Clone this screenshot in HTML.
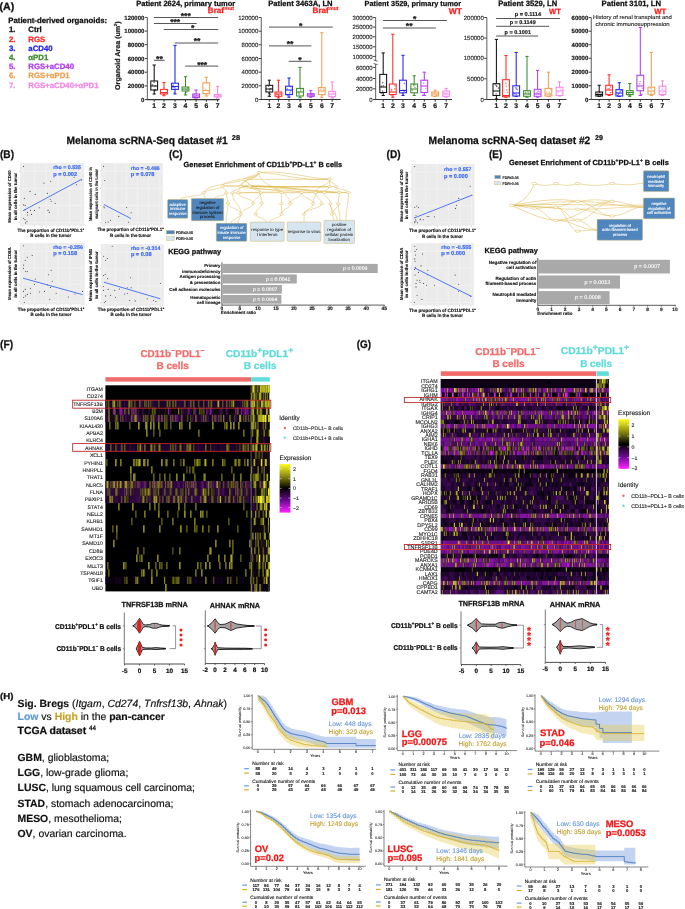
<!DOCTYPE html>
<html><head><meta charset="utf-8"><style>
html,body{margin:0;padding:0;background:#fff;}
svg{display:block;filter:blur(0.3px);}
text{font-family:"Liberation Sans",sans-serif;text-rendering:geometricPrecision;}
</style></head><body>
<svg width="685" height="909" viewBox="0 0 685 909">
<rect width="685" height="909" fill="#fff"/>
<text x="-0.5" y="9.6" font-size="10.62" font-weight="bold" fill="#111" stroke="#111" stroke-width="0.26">(A)</text>
<text x="8.3" y="23.0" font-size="7.81" font-weight="bold" fill="#111" stroke="#111" stroke-width="0.26">Patient-derived organoids:</text>
<text x="9.0" y="32.4" font-size="7.8" font-weight="bold" fill="#111111" stroke="#111111" stroke-width="0.26">1.</text>
<text x="28.3" y="32.4" font-size="7.8" font-weight="bold" fill="#111111" stroke="#111111" stroke-width="0.26">Ctrl</text>
<text x="9.0" y="41.6" font-size="7.8" font-weight="bold" fill="#ff2a2a" stroke="#ff2a2a" stroke-width="0.26">2.</text>
<text x="28.3" y="41.6" font-size="7.8" font-weight="bold" fill="#ff2a2a" stroke="#ff2a2a" stroke-width="0.26">RGS</text>
<text x="9.0" y="50.8" font-size="7.8" font-weight="bold" fill="#2222f0" stroke="#2222f0" stroke-width="0.26">3.</text>
<text x="28.3" y="50.8" font-size="7.8" font-weight="bold" fill="#2222f0" stroke="#2222f0" stroke-width="0.26">aCD40</text>
<text x="9.0" y="60.0" font-size="7.8" font-weight="bold" fill="#3a8c2c" stroke="#3a8c2c" stroke-width="0.26">4.</text>
<text x="28.3" y="60.0" font-size="7.8" font-weight="bold" fill="#3a8c2c" stroke="#3a8c2c" stroke-width="0.26">αPD1</text>
<text x="9.0" y="69.2" font-size="7.8" font-weight="bold" fill="#b33cf0" stroke="#b33cf0" stroke-width="0.26">5.</text>
<text x="28.3" y="69.2" font-size="7.8" font-weight="bold" fill="#b33cf0" stroke="#b33cf0" stroke-width="0.26">RGS+aCD40</text>
<text x="9.0" y="78.4" font-size="7.8" font-weight="bold" fill="#f0a050" stroke="#f0a050" stroke-width="0.26">6.</text>
<text x="28.3" y="78.4" font-size="7.8" font-weight="bold" fill="#f0a050" stroke="#f0a050" stroke-width="0.26">RGS+αPD1</text>
<text x="9.0" y="87.6" font-size="7.8" font-weight="bold" fill="#f588e8" stroke="#f588e8" stroke-width="0.26">7.</text>
<text x="28.3" y="87.6" font-size="7.8" font-weight="bold" fill="#f588e8" stroke="#f588e8" stroke-width="0.26">RGS+aCD40+αPD1</text>
<line x1="147.4" y1="17.4" x2="147.4" y2="100.1" stroke="#777" stroke-width="1.2"/>
<line x1="146.8" y1="99.6" x2="219.5" y2="99.6" stroke="#333" stroke-width="1.2"/>
<line x1="144.8" y1="17.4" x2="147.4" y2="17.4" stroke="#444" stroke-width="1"/>
<text x="144.4" y="19.5" font-size="6.0" font-weight="bold" fill="#222" text-anchor="end" stroke="#222" stroke-width="0.20">120000</text>
<line x1="144.8" y1="31.1" x2="147.4" y2="31.1" stroke="#444" stroke-width="1"/>
<text x="144.4" y="33.2" font-size="6.0" font-weight="bold" fill="#222" text-anchor="end" stroke="#222" stroke-width="0.20">100000</text>
<line x1="144.8" y1="44.6" x2="147.4" y2="44.6" stroke="#444" stroke-width="1"/>
<text x="144.4" y="46.7" font-size="6.0" font-weight="bold" fill="#222" text-anchor="end" stroke="#222" stroke-width="0.20">80000</text>
<line x1="144.8" y1="58.5" x2="147.4" y2="58.5" stroke="#444" stroke-width="1"/>
<text x="144.4" y="60.6" font-size="6.0" font-weight="bold" fill="#222" text-anchor="end" stroke="#222" stroke-width="0.20">60000</text>
<line x1="144.8" y1="72.2" x2="147.4" y2="72.2" stroke="#444" stroke-width="1"/>
<text x="144.4" y="74.3" font-size="6.0" font-weight="bold" fill="#222" text-anchor="end" stroke="#222" stroke-width="0.20">40000</text>
<line x1="144.8" y1="85.9" x2="147.4" y2="85.9" stroke="#444" stroke-width="1"/>
<text x="144.4" y="88.0" font-size="6.0" font-weight="bold" fill="#222" text-anchor="end" stroke="#222" stroke-width="0.20">20000</text>
<line x1="144.8" y1="99.6" x2="147.4" y2="99.6" stroke="#444" stroke-width="1"/>
<text x="144.4" y="101.7" font-size="6.0" font-weight="bold" fill="#222" text-anchor="end" stroke="#222" stroke-width="0.20">0</text>
<line x1="154.2" y1="99.6" x2="154.2" y2="101.8" stroke="#333" stroke-width="1"/>
<text x="154.2" y="108.3" font-size="6.8" font-weight="bold" fill="#222" text-anchor="middle" stroke="#222" stroke-width="0.23">1</text>
<line x1="164.0" y1="99.6" x2="164.0" y2="101.8" stroke="#333" stroke-width="1"/>
<text x="164.0" y="108.3" font-size="6.8" font-weight="bold" fill="#222" text-anchor="middle" stroke="#222" stroke-width="0.23">2</text>
<line x1="175.0" y1="99.6" x2="175.0" y2="101.8" stroke="#333" stroke-width="1"/>
<text x="175.0" y="108.3" font-size="6.8" font-weight="bold" fill="#222" text-anchor="middle" stroke="#222" stroke-width="0.23">3</text>
<line x1="185.5" y1="99.6" x2="185.5" y2="101.8" stroke="#333" stroke-width="1"/>
<text x="185.5" y="108.3" font-size="6.8" font-weight="bold" fill="#222" text-anchor="middle" stroke="#222" stroke-width="0.23">4</text>
<line x1="196.1" y1="99.6" x2="196.1" y2="101.8" stroke="#333" stroke-width="1"/>
<text x="196.1" y="108.3" font-size="6.8" font-weight="bold" fill="#222" text-anchor="middle" stroke="#222" stroke-width="0.23">5</text>
<line x1="206.3" y1="99.6" x2="206.3" y2="101.8" stroke="#333" stroke-width="1"/>
<text x="206.3" y="108.3" font-size="6.8" font-weight="bold" fill="#222" text-anchor="middle" stroke="#222" stroke-width="0.23">6</text>
<line x1="217.6" y1="99.6" x2="217.6" y2="101.8" stroke="#333" stroke-width="1"/>
<text x="217.6" y="108.3" font-size="6.8" font-weight="bold" fill="#222" text-anchor="middle" stroke="#222" stroke-width="0.23">7</text>
<line x1="154.2" y1="65.0" x2="154.2" y2="81.0" stroke="#111111" stroke-width="1.05"/>
<line x1="154.2" y1="90.0" x2="154.2" y2="94.0" stroke="#111111" stroke-width="1.05"/>
<line x1="152.6" y1="65.0" x2="155.8" y2="65.0" stroke="#111111" stroke-width="1.05"/>
<line x1="152.6" y1="94.0" x2="155.8" y2="94.0" stroke="#111111" stroke-width="1.05"/>
<rect x="150.8" y="81.0" width="6.8" height="9.0" fill="#fff" stroke="#111111" stroke-width="1.05"/>
<line x1="150.8" y1="86.0" x2="157.6" y2="86.0" stroke="#111111" stroke-width="1.05"/>
<circle cx="155.1" cy="85.8" r="0.8" fill="#111111" opacity="0.6"/>
<circle cx="154.9" cy="89.5" r="0.8" fill="#111111" opacity="0.6"/>
<circle cx="155.4" cy="90.6" r="0.8" fill="#111111" opacity="0.6"/>
<circle cx="154.1" cy="82.2" r="0.8" fill="#111111" opacity="0.6"/>
<circle cx="152.5" cy="84.9" r="0.8" fill="#111111" opacity="0.6"/>
<line x1="164.0" y1="82.4" x2="164.0" y2="89.4" stroke="#ff2a2a" stroke-width="1.05"/>
<line x1="164.0" y1="94.0" x2="164.0" y2="95.7" stroke="#ff2a2a" stroke-width="1.05"/>
<line x1="162.4" y1="82.4" x2="165.6" y2="82.4" stroke="#ff2a2a" stroke-width="1.05"/>
<line x1="162.4" y1="95.7" x2="165.6" y2="95.7" stroke="#ff2a2a" stroke-width="1.05"/>
<rect x="160.6" y="89.4" width="6.8" height="4.6" fill="#fff" stroke="#ff2a2a" stroke-width="1.05"/>
<line x1="160.6" y1="92.5" x2="167.4" y2="92.5" stroke="#ff2a2a" stroke-width="1.05"/>
<circle cx="163.3" cy="94.4" r="0.8" fill="#ff2a2a" opacity="0.6"/>
<circle cx="165.3" cy="92.7" r="0.8" fill="#ff2a2a" opacity="0.6"/>
<circle cx="165.7" cy="93.2" r="0.8" fill="#ff2a2a" opacity="0.6"/>
<circle cx="163.2" cy="92.6" r="0.8" fill="#ff2a2a" opacity="0.6"/>
<circle cx="165.9" cy="92.5" r="0.8" fill="#ff2a2a" opacity="0.6"/>
<line x1="175.0" y1="45.4" x2="175.0" y2="83.2" stroke="#2222f0" stroke-width="1.05"/>
<line x1="175.0" y1="89.4" x2="175.0" y2="94.0" stroke="#2222f0" stroke-width="1.05"/>
<line x1="173.4" y1="45.4" x2="176.6" y2="45.4" stroke="#2222f0" stroke-width="1.05"/>
<line x1="173.4" y1="94.0" x2="176.6" y2="94.0" stroke="#2222f0" stroke-width="1.05"/>
<rect x="171.6" y="83.2" width="6.8" height="6.2" fill="#fff" stroke="#2222f0" stroke-width="1.05"/>
<line x1="171.6" y1="86.5" x2="178.4" y2="86.5" stroke="#2222f0" stroke-width="1.05"/>
<circle cx="173.1" cy="87.2" r="0.8" fill="#2222f0" opacity="0.6"/>
<circle cx="175.0" cy="89.1" r="0.8" fill="#2222f0" opacity="0.6"/>
<circle cx="174.8" cy="87.4" r="0.8" fill="#2222f0" opacity="0.6"/>
<circle cx="173.2" cy="85.4" r="0.8" fill="#2222f0" opacity="0.6"/>
<circle cx="174.3" cy="92.7" r="0.8" fill="#2222f0" opacity="0.6"/>
<line x1="185.5" y1="76.7" x2="185.5" y2="87.0" stroke="#3a8c2c" stroke-width="1.05"/>
<line x1="185.5" y1="91.0" x2="185.5" y2="95.0" stroke="#3a8c2c" stroke-width="1.05"/>
<line x1="183.9" y1="76.7" x2="187.1" y2="76.7" stroke="#3a8c2c" stroke-width="1.05"/>
<line x1="183.9" y1="95.0" x2="187.1" y2="95.0" stroke="#3a8c2c" stroke-width="1.05"/>
<rect x="182.1" y="87.0" width="6.8" height="4.0" fill="#fff" stroke="#3a8c2c" stroke-width="1.05"/>
<line x1="182.1" y1="89.0" x2="188.9" y2="89.0" stroke="#3a8c2c" stroke-width="1.05"/>
<circle cx="185.7" cy="89.3" r="0.8" fill="#3a8c2c" opacity="0.6"/>
<circle cx="187.4" cy="90.6" r="0.8" fill="#3a8c2c" opacity="0.6"/>
<circle cx="186.3" cy="92.5" r="0.8" fill="#3a8c2c" opacity="0.6"/>
<circle cx="185.1" cy="93.4" r="0.8" fill="#3a8c2c" opacity="0.6"/>
<circle cx="187.5" cy="87.8" r="0.8" fill="#3a8c2c" opacity="0.6"/>
<line x1="196.1" y1="90.0" x2="196.1" y2="94.0" stroke="#b33cf0" stroke-width="1.05"/>
<line x1="196.1" y1="97.5" x2="196.1" y2="98.0" stroke="#b33cf0" stroke-width="1.05"/>
<line x1="194.5" y1="90.0" x2="197.7" y2="90.0" stroke="#b33cf0" stroke-width="1.05"/>
<line x1="194.5" y1="98.0" x2="197.7" y2="98.0" stroke="#b33cf0" stroke-width="1.05"/>
<rect x="192.7" y="94.0" width="6.8" height="3.5" fill="#fff" stroke="#b33cf0" stroke-width="1.05"/>
<line x1="192.7" y1="96.0" x2="199.5" y2="96.0" stroke="#b33cf0" stroke-width="1.05"/>
<circle cx="194.3" cy="97.9" r="0.8" fill="#b33cf0" opacity="0.6"/>
<circle cx="194.7" cy="96.9" r="0.8" fill="#b33cf0" opacity="0.6"/>
<circle cx="195.7" cy="97.5" r="0.8" fill="#b33cf0" opacity="0.6"/>
<circle cx="196.5" cy="95.4" r="0.8" fill="#b33cf0" opacity="0.6"/>
<circle cx="194.7" cy="94.4" r="0.8" fill="#b33cf0" opacity="0.6"/>
<line x1="206.3" y1="77.3" x2="206.3" y2="82.8" stroke="#f0a050" stroke-width="1.05"/>
<line x1="206.3" y1="93.7" x2="206.3" y2="96.0" stroke="#f0a050" stroke-width="1.05"/>
<line x1="204.7" y1="77.3" x2="207.9" y2="77.3" stroke="#f0a050" stroke-width="1.05"/>
<line x1="204.7" y1="96.0" x2="207.9" y2="96.0" stroke="#f0a050" stroke-width="1.05"/>
<rect x="202.9" y="82.8" width="6.8" height="10.9" fill="#fff" stroke="#f0a050" stroke-width="1.05"/>
<line x1="202.9" y1="90.5" x2="209.7" y2="90.5" stroke="#f0a050" stroke-width="1.05"/>
<circle cx="204.9" cy="93.8" r="0.8" fill="#f0a050" opacity="0.6"/>
<circle cx="205.8" cy="89.6" r="0.8" fill="#f0a050" opacity="0.6"/>
<circle cx="208.0" cy="93.9" r="0.8" fill="#f0a050" opacity="0.6"/>
<circle cx="206.2" cy="83.7" r="0.8" fill="#f0a050" opacity="0.6"/>
<circle cx="208.3" cy="91.7" r="0.8" fill="#f0a050" opacity="0.6"/>
<line x1="217.6" y1="86.3" x2="217.6" y2="94.5" stroke="#f588e8" stroke-width="1.05"/>
<line x1="217.6" y1="97.0" x2="217.6" y2="98.0" stroke="#f588e8" stroke-width="1.05"/>
<line x1="216.0" y1="86.3" x2="219.2" y2="86.3" stroke="#f588e8" stroke-width="1.05"/>
<line x1="216.0" y1="98.0" x2="219.2" y2="98.0" stroke="#f588e8" stroke-width="1.05"/>
<rect x="214.2" y="94.5" width="6.8" height="2.5" fill="#fff" stroke="#f588e8" stroke-width="1.05"/>
<line x1="214.2" y1="96.0" x2="221.0" y2="96.0" stroke="#f588e8" stroke-width="1.05"/>
<circle cx="218.7" cy="95.1" r="0.8" fill="#f588e8" opacity="0.6"/>
<circle cx="218.4" cy="94.8" r="0.8" fill="#f588e8" opacity="0.6"/>
<circle cx="219.4" cy="96.2" r="0.8" fill="#f588e8" opacity="0.6"/>
<circle cx="216.6" cy="97.6" r="0.8" fill="#f588e8" opacity="0.6"/>
<circle cx="218.5" cy="95.1" r="0.8" fill="#f588e8" opacity="0.6"/>
<line x1="153.9" y1="17.5" x2="218.2" y2="17.5" stroke="#444" stroke-width="0.9"/>
<text x="185.8" y="18.9" font-size="8.6" font-weight="bold" fill="#222" text-anchor="middle" stroke="#222" stroke-width="0.26">***</text>
<line x1="153.9" y1="23.5" x2="196.7" y2="23.5" stroke="#444" stroke-width="0.9"/>
<text x="175.2" y="24.9" font-size="8.6" font-weight="bold" fill="#222" text-anchor="middle" stroke="#222" stroke-width="0.26">***</text>
<line x1="163.7" y1="29.5" x2="218.2" y2="29.5" stroke="#444" stroke-width="0.9"/>
<text x="192.6" y="30.9" font-size="8.6" font-weight="bold" fill="#222" text-anchor="middle" stroke="#222" stroke-width="0.26">*</text>
<line x1="174.7" y1="43.0" x2="218.2" y2="43.0" stroke="#444" stroke-width="0.9"/>
<text x="197.0" y="44.4" font-size="8.6" font-weight="bold" fill="#222" text-anchor="middle" stroke="#222" stroke-width="0.26">**</text>
<line x1="153.9" y1="60.3" x2="164.6" y2="60.3" stroke="#444" stroke-width="0.9"/>
<text x="159.4" y="61.7" font-size="8.6" font-weight="bold" fill="#222" text-anchor="middle" stroke="#222" stroke-width="0.26">**</text>
<line x1="185.2" y1="66.1" x2="218.2" y2="66.1" stroke="#444" stroke-width="0.9"/>
<text x="202.2" y="67.5" font-size="8.6" font-weight="bold" fill="#222" text-anchor="middle" stroke="#222" stroke-width="0.26">***</text>
<text x="136.3" y="5.8" font-size="7.52" font-weight="bold" fill="#111" stroke="#111" stroke-width="0.26">Patient 2624, primary tumor</text>
<text x="207.8" y="13.3" font-size="7.9" font-weight="bold" fill="#ff2020" textLength="16.2" lengthAdjust="spacingAndGlyphs" stroke="#ff2020" stroke-width="0.26">Braf</text>
<text x="224.6" y="10.0" font-size="5.0" font-weight="bold" fill="#ff2020" textLength="9.4" lengthAdjust="spacingAndGlyphs" stroke="#ff2020" stroke-width="0.17">mut</text>
<text x="120.5" y="89.9" font-size="7.0" font-weight="bold" fill="#222" textLength="68.4" lengthAdjust="spacingAndGlyphs" transform="rotate(-90 120.5 89.9)" stroke="#222" stroke-width="0.24">Organoid Area (um  )</text>
<text x="116.9" y="26.2" font-size="4.5" font-weight="bold" fill="#222" transform="rotate(-90 116.9 26.2)" stroke="#222" stroke-width="0.15">2</text>
<line x1="261.3" y1="17.5" x2="261.3" y2="100.0" stroke="#777" stroke-width="1.2"/>
<line x1="260.7" y1="99.5" x2="340.6" y2="99.5" stroke="#333" stroke-width="1.2"/>
<line x1="258.7" y1="17.5" x2="261.3" y2="17.5" stroke="#444" stroke-width="1"/>
<text x="258.3" y="19.6" font-size="6.0" fill="#222" text-anchor="end" stroke="#222" stroke-width="0.13">120000</text>
<line x1="258.7" y1="31.2" x2="261.3" y2="31.2" stroke="#444" stroke-width="1"/>
<text x="258.3" y="33.3" font-size="6.0" fill="#222" text-anchor="end" stroke="#222" stroke-width="0.13">100000</text>
<line x1="258.7" y1="44.8" x2="261.3" y2="44.8" stroke="#444" stroke-width="1"/>
<text x="258.3" y="46.9" font-size="6.0" fill="#222" text-anchor="end" stroke="#222" stroke-width="0.13">80000</text>
<line x1="258.7" y1="58.5" x2="261.3" y2="58.5" stroke="#444" stroke-width="1"/>
<text x="258.3" y="60.6" font-size="6.0" fill="#222" text-anchor="end" stroke="#222" stroke-width="0.13">60000</text>
<line x1="258.7" y1="72.2" x2="261.3" y2="72.2" stroke="#444" stroke-width="1"/>
<text x="258.3" y="74.3" font-size="6.0" fill="#222" text-anchor="end" stroke="#222" stroke-width="0.13">40000</text>
<line x1="258.7" y1="85.8" x2="261.3" y2="85.8" stroke="#444" stroke-width="1"/>
<text x="258.3" y="87.9" font-size="6.0" fill="#222" text-anchor="end" stroke="#222" stroke-width="0.13">20000</text>
<line x1="258.7" y1="99.5" x2="261.3" y2="99.5" stroke="#444" stroke-width="1"/>
<text x="258.3" y="101.6" font-size="6.0" fill="#222" text-anchor="end" stroke="#222" stroke-width="0.13">0</text>
<line x1="269.3" y1="99.5" x2="269.3" y2="101.7" stroke="#333" stroke-width="1"/>
<text x="269.3" y="108.2" font-size="6.8" font-weight="bold" fill="#222" text-anchor="middle" stroke="#222" stroke-width="0.23">1</text>
<line x1="278.4" y1="99.5" x2="278.4" y2="101.7" stroke="#333" stroke-width="1"/>
<text x="278.4" y="108.2" font-size="6.8" font-weight="bold" fill="#222" text-anchor="middle" stroke="#222" stroke-width="0.23">2</text>
<line x1="289.0" y1="99.5" x2="289.0" y2="101.7" stroke="#333" stroke-width="1"/>
<text x="289.0" y="108.2" font-size="6.8" font-weight="bold" fill="#222" text-anchor="middle" stroke="#222" stroke-width="0.23">3</text>
<line x1="300.0" y1="99.5" x2="300.0" y2="101.7" stroke="#333" stroke-width="1"/>
<text x="300.0" y="108.2" font-size="6.8" font-weight="bold" fill="#222" text-anchor="middle" stroke="#222" stroke-width="0.23">4</text>
<line x1="310.8" y1="99.5" x2="310.8" y2="101.7" stroke="#333" stroke-width="1"/>
<text x="310.8" y="108.2" font-size="6.8" font-weight="bold" fill="#222" text-anchor="middle" stroke="#222" stroke-width="0.23">5</text>
<line x1="321.8" y1="99.5" x2="321.8" y2="101.7" stroke="#333" stroke-width="1"/>
<text x="321.8" y="108.2" font-size="6.8" font-weight="bold" fill="#222" text-anchor="middle" stroke="#222" stroke-width="0.23">6</text>
<line x1="332.2" y1="99.5" x2="332.2" y2="101.7" stroke="#333" stroke-width="1"/>
<text x="332.2" y="108.2" font-size="6.8" font-weight="bold" fill="#222" text-anchor="middle" stroke="#222" stroke-width="0.23">7</text>
<line x1="269.3" y1="80.2" x2="269.3" y2="85.3" stroke="#111111" stroke-width="1.05"/>
<line x1="269.3" y1="92.0" x2="269.3" y2="96.3" stroke="#111111" stroke-width="1.05"/>
<line x1="267.7" y1="80.2" x2="270.9" y2="80.2" stroke="#111111" stroke-width="1.05"/>
<line x1="267.7" y1="96.3" x2="270.9" y2="96.3" stroke="#111111" stroke-width="1.05"/>
<rect x="265.9" y="85.3" width="6.8" height="6.7" fill="#fff" stroke="#111111" stroke-width="1.05"/>
<line x1="265.9" y1="89.0" x2="272.7" y2="89.0" stroke="#111111" stroke-width="1.05"/>
<circle cx="268.8" cy="93.2" r="0.8" fill="#111111" opacity="0.6"/>
<circle cx="270.6" cy="88.6" r="0.8" fill="#111111" opacity="0.6"/>
<circle cx="269.7" cy="89.8" r="0.8" fill="#111111" opacity="0.6"/>
<circle cx="270.5" cy="94.3" r="0.8" fill="#111111" opacity="0.6"/>
<circle cx="268.6" cy="86.3" r="0.8" fill="#111111" opacity="0.6"/>
<line x1="278.4" y1="80.2" x2="278.4" y2="92.0" stroke="#ff2a2a" stroke-width="1.05"/>
<line x1="278.4" y1="96.3" x2="278.4" y2="98.0" stroke="#ff2a2a" stroke-width="1.05"/>
<line x1="276.8" y1="80.2" x2="280.0" y2="80.2" stroke="#ff2a2a" stroke-width="1.05"/>
<line x1="276.8" y1="98.0" x2="280.0" y2="98.0" stroke="#ff2a2a" stroke-width="1.05"/>
<rect x="275.0" y="92.0" width="6.8" height="4.3" fill="#fff" stroke="#ff2a2a" stroke-width="1.05"/>
<line x1="275.0" y1="94.0" x2="281.8" y2="94.0" stroke="#ff2a2a" stroke-width="1.05"/>
<circle cx="276.5" cy="92.7" r="0.8" fill="#ff2a2a" opacity="0.6"/>
<circle cx="278.7" cy="96.3" r="0.8" fill="#ff2a2a" opacity="0.6"/>
<circle cx="278.6" cy="95.5" r="0.8" fill="#ff2a2a" opacity="0.6"/>
<circle cx="276.9" cy="94.5" r="0.8" fill="#ff2a2a" opacity="0.6"/>
<circle cx="278.8" cy="95.0" r="0.8" fill="#ff2a2a" opacity="0.6"/>
<line x1="289.0" y1="78.0" x2="289.0" y2="86.2" stroke="#2222f0" stroke-width="1.05"/>
<line x1="289.0" y1="94.6" x2="289.0" y2="97.2" stroke="#2222f0" stroke-width="1.05"/>
<line x1="287.4" y1="78.0" x2="290.6" y2="78.0" stroke="#2222f0" stroke-width="1.05"/>
<line x1="287.4" y1="97.2" x2="290.6" y2="97.2" stroke="#2222f0" stroke-width="1.05"/>
<rect x="285.6" y="86.2" width="6.8" height="8.4" fill="#fff" stroke="#2222f0" stroke-width="1.05"/>
<line x1="285.6" y1="90.0" x2="292.4" y2="90.0" stroke="#2222f0" stroke-width="1.05"/>
<circle cx="287.2" cy="89.1" r="0.8" fill="#2222f0" opacity="0.6"/>
<circle cx="290.5" cy="86.8" r="0.8" fill="#2222f0" opacity="0.6"/>
<circle cx="287.4" cy="95.6" r="0.8" fill="#2222f0" opacity="0.6"/>
<circle cx="289.8" cy="92.9" r="0.8" fill="#2222f0" opacity="0.6"/>
<circle cx="290.6" cy="90.8" r="0.8" fill="#2222f0" opacity="0.6"/>
<line x1="300.0" y1="67.4" x2="300.0" y2="88.4" stroke="#3a8c2c" stroke-width="1.05"/>
<line x1="300.0" y1="96.0" x2="300.0" y2="97.7" stroke="#3a8c2c" stroke-width="1.05"/>
<line x1="298.4" y1="67.4" x2="301.6" y2="67.4" stroke="#3a8c2c" stroke-width="1.05"/>
<line x1="298.4" y1="97.7" x2="301.6" y2="97.7" stroke="#3a8c2c" stroke-width="1.05"/>
<rect x="296.6" y="88.4" width="6.8" height="7.6" fill="#fff" stroke="#3a8c2c" stroke-width="1.05"/>
<line x1="296.6" y1="92.0" x2="303.4" y2="92.0" stroke="#3a8c2c" stroke-width="1.05"/>
<circle cx="299.2" cy="94.3" r="0.8" fill="#3a8c2c" opacity="0.6"/>
<circle cx="300.6" cy="91.0" r="0.8" fill="#3a8c2c" opacity="0.6"/>
<circle cx="300.7" cy="89.7" r="0.8" fill="#3a8c2c" opacity="0.6"/>
<circle cx="298.9" cy="92.5" r="0.8" fill="#3a8c2c" opacity="0.6"/>
<circle cx="298.9" cy="93.5" r="0.8" fill="#3a8c2c" opacity="0.6"/>
<line x1="310.8" y1="90.7" x2="310.8" y2="93.7" stroke="#b33cf0" stroke-width="1.05"/>
<line x1="310.8" y1="96.3" x2="310.8" y2="97.2" stroke="#b33cf0" stroke-width="1.05"/>
<line x1="309.2" y1="90.7" x2="312.4" y2="90.7" stroke="#b33cf0" stroke-width="1.05"/>
<line x1="309.2" y1="97.2" x2="312.4" y2="97.2" stroke="#b33cf0" stroke-width="1.05"/>
<rect x="307.4" y="93.7" width="6.8" height="2.6" fill="#fff" stroke="#b33cf0" stroke-width="1.05"/>
<line x1="307.4" y1="95.0" x2="314.2" y2="95.0" stroke="#b33cf0" stroke-width="1.05"/>
<circle cx="310.6" cy="95.0" r="0.8" fill="#b33cf0" opacity="0.6"/>
<circle cx="312.4" cy="94.5" r="0.8" fill="#b33cf0" opacity="0.6"/>
<circle cx="311.1" cy="97.1" r="0.8" fill="#b33cf0" opacity="0.6"/>
<circle cx="312.7" cy="96.3" r="0.8" fill="#b33cf0" opacity="0.6"/>
<circle cx="311.5" cy="94.2" r="0.8" fill="#b33cf0" opacity="0.6"/>
<line x1="321.8" y1="32.7" x2="321.8" y2="87.6" stroke="#f0a050" stroke-width="1.05"/>
<line x1="321.8" y1="94.6" x2="321.8" y2="97.2" stroke="#f0a050" stroke-width="1.05"/>
<line x1="320.2" y1="32.7" x2="323.4" y2="32.7" stroke="#f0a050" stroke-width="1.05"/>
<line x1="320.2" y1="97.2" x2="323.4" y2="97.2" stroke="#f0a050" stroke-width="1.05"/>
<rect x="318.4" y="87.6" width="6.8" height="7.0" fill="#fff" stroke="#f0a050" stroke-width="1.05"/>
<line x1="318.4" y1="91.0" x2="325.2" y2="91.0" stroke="#f0a050" stroke-width="1.05"/>
<circle cx="323.4" cy="89.1" r="0.8" fill="#f0a050" opacity="0.6"/>
<circle cx="320.0" cy="87.8" r="0.8" fill="#f0a050" opacity="0.6"/>
<circle cx="320.7" cy="89.5" r="0.8" fill="#f0a050" opacity="0.6"/>
<circle cx="323.5" cy="90.7" r="0.8" fill="#f0a050" opacity="0.6"/>
<circle cx="322.4" cy="95.3" r="0.8" fill="#f0a050" opacity="0.6"/>
<line x1="332.2" y1="82.0" x2="332.2" y2="91.4" stroke="#f588e8" stroke-width="1.05"/>
<line x1="332.2" y1="96.7" x2="332.2" y2="98.0" stroke="#f588e8" stroke-width="1.05"/>
<line x1="330.6" y1="82.0" x2="333.8" y2="82.0" stroke="#f588e8" stroke-width="1.05"/>
<line x1="330.6" y1="98.0" x2="333.8" y2="98.0" stroke="#f588e8" stroke-width="1.05"/>
<rect x="328.8" y="91.4" width="6.8" height="5.3" fill="#fff" stroke="#f588e8" stroke-width="1.05"/>
<line x1="328.8" y1="94.0" x2="335.6" y2="94.0" stroke="#f588e8" stroke-width="1.05"/>
<circle cx="333.4" cy="92.6" r="0.8" fill="#f588e8" opacity="0.6"/>
<circle cx="331.9" cy="94.1" r="0.8" fill="#f588e8" opacity="0.6"/>
<circle cx="331.5" cy="96.0" r="0.8" fill="#f588e8" opacity="0.6"/>
<circle cx="332.7" cy="97.6" r="0.8" fill="#f588e8" opacity="0.6"/>
<circle cx="333.5" cy="97.5" r="0.8" fill="#f588e8" opacity="0.6"/>
<line x1="269.0" y1="27.1" x2="332.8" y2="27.1" stroke="#444" stroke-width="0.9"/>
<text x="300.8" y="28.5" font-size="8.6" font-weight="bold" fill="#222" text-anchor="middle" stroke="#222" stroke-width="0.26">*</text>
<line x1="269.0" y1="45.9" x2="311.4" y2="45.9" stroke="#444" stroke-width="0.9"/>
<text x="290.1" y="47.3" font-size="8.6" font-weight="bold" fill="#222" text-anchor="middle" stroke="#222" stroke-width="0.26">**</text>
<line x1="288.7" y1="61.3" x2="311.4" y2="61.3" stroke="#444" stroke-width="0.9"/>
<text x="299.9" y="62.7" font-size="8.6" font-weight="bold" fill="#222" text-anchor="middle" stroke="#222" stroke-width="0.26">*</text>
<text x="268.3" y="5.8" font-size="7.62" font-weight="bold" fill="#111" stroke="#111" stroke-width="0.26">Patient 3463A, LN</text>
<text x="312.6" y="13.3" font-size="7.9" font-weight="bold" fill="#ff2020" textLength="16.1" lengthAdjust="spacingAndGlyphs" stroke="#ff2020" stroke-width="0.26">Braf</text>
<text x="329.2" y="10.0" font-size="5.0" font-weight="bold" fill="#ff2020" textLength="9.3" lengthAdjust="spacingAndGlyphs" stroke="#ff2020" stroke-width="0.17">mut</text>
<line x1="375.6" y1="17.5" x2="375.6" y2="100.0" stroke="#777" stroke-width="1.2"/>
<line x1="375.0" y1="99.5" x2="452.0" y2="99.5" stroke="#333" stroke-width="1.2"/>
<line x1="373.0" y1="17.5" x2="375.6" y2="17.5" stroke="#444" stroke-width="1"/>
<text x="372.6" y="19.6" font-size="6.0" fill="#222" text-anchor="end" stroke="#222" stroke-width="0.13">300000</text>
<line x1="373.0" y1="27.1" x2="375.6" y2="27.1" stroke="#444" stroke-width="1"/>
<text x="372.6" y="29.2" font-size="6.0" fill="#222" text-anchor="end" stroke="#222" stroke-width="0.13">250000</text>
<line x1="373.0" y1="36.8" x2="375.6" y2="36.8" stroke="#444" stroke-width="1"/>
<text x="372.6" y="38.9" font-size="6.0" fill="#222" text-anchor="end" stroke="#222" stroke-width="0.13">200000</text>
<line x1="373.0" y1="46.8" x2="375.6" y2="46.8" stroke="#444" stroke-width="1"/>
<text x="372.6" y="48.9" font-size="6.0" fill="#222" text-anchor="end" stroke="#222" stroke-width="0.13">150000</text>
<line x1="373.0" y1="56.4" x2="375.6" y2="56.4" stroke="#444" stroke-width="1"/>
<text x="372.6" y="58.5" font-size="6.0" fill="#222" text-anchor="end" stroke="#222" stroke-width="0.13">100000</text>
<line x1="373.0" y1="67.4" x2="375.6" y2="67.4" stroke="#444" stroke-width="1"/>
<text x="372.6" y="69.5" font-size="6.0" fill="#222" text-anchor="end" stroke="#222" stroke-width="0.13">60000</text>
<line x1="373.0" y1="78.5" x2="375.6" y2="78.5" stroke="#444" stroke-width="1"/>
<text x="372.6" y="80.6" font-size="6.0" fill="#222" text-anchor="end" stroke="#222" stroke-width="0.13">40000</text>
<line x1="373.0" y1="88.8" x2="375.6" y2="88.8" stroke="#444" stroke-width="1"/>
<text x="372.6" y="90.9" font-size="6.0" fill="#222" text-anchor="end" stroke="#222" stroke-width="0.13">20000</text>
<line x1="373.0" y1="99.5" x2="375.6" y2="99.5" stroke="#444" stroke-width="1"/>
<text x="372.6" y="101.6" font-size="6.0" fill="#222" text-anchor="end" stroke="#222" stroke-width="0.13">0</text>
<line x1="383.2" y1="99.5" x2="383.2" y2="101.7" stroke="#333" stroke-width="1"/>
<text x="383.2" y="108.2" font-size="6.8" font-weight="bold" fill="#222" text-anchor="middle" stroke="#222" stroke-width="0.23">1</text>
<line x1="392.8" y1="99.5" x2="392.8" y2="101.7" stroke="#333" stroke-width="1"/>
<text x="392.8" y="108.2" font-size="6.8" font-weight="bold" fill="#222" text-anchor="middle" stroke="#222" stroke-width="0.23">2</text>
<line x1="403.0" y1="99.5" x2="403.0" y2="101.7" stroke="#333" stroke-width="1"/>
<text x="403.0" y="108.2" font-size="6.8" font-weight="bold" fill="#222" text-anchor="middle" stroke="#222" stroke-width="0.23">3</text>
<line x1="414.2" y1="99.5" x2="414.2" y2="101.7" stroke="#333" stroke-width="1"/>
<text x="414.2" y="108.2" font-size="6.8" font-weight="bold" fill="#222" text-anchor="middle" stroke="#222" stroke-width="0.23">4</text>
<line x1="424.3" y1="99.5" x2="424.3" y2="101.7" stroke="#333" stroke-width="1"/>
<text x="424.3" y="108.2" font-size="6.8" font-weight="bold" fill="#222" text-anchor="middle" stroke="#222" stroke-width="0.23">5</text>
<line x1="435.2" y1="99.5" x2="435.2" y2="101.7" stroke="#333" stroke-width="1"/>
<text x="435.2" y="108.2" font-size="6.8" font-weight="bold" fill="#222" text-anchor="middle" stroke="#222" stroke-width="0.23">6</text>
<line x1="446.2" y1="99.5" x2="446.2" y2="101.7" stroke="#333" stroke-width="1"/>
<text x="446.2" y="108.2" font-size="6.8" font-weight="bold" fill="#222" text-anchor="middle" stroke="#222" stroke-width="0.23">7</text>
<line x1="383.2" y1="52.9" x2="383.2" y2="74.4" stroke="#111111" stroke-width="1.05"/>
<line x1="383.2" y1="92.5" x2="383.2" y2="95.5" stroke="#111111" stroke-width="1.05"/>
<line x1="381.6" y1="52.9" x2="384.8" y2="52.9" stroke="#111111" stroke-width="1.05"/>
<line x1="381.6" y1="95.5" x2="384.8" y2="95.5" stroke="#111111" stroke-width="1.05"/>
<rect x="379.8" y="74.4" width="6.8" height="18.1" fill="#fff" stroke="#111111" stroke-width="1.05"/>
<line x1="379.8" y1="87.0" x2="386.6" y2="87.0" stroke="#111111" stroke-width="1.05"/>
<circle cx="381.6" cy="86.3" r="0.8" fill="#111111" opacity="0.6"/>
<circle cx="383.4" cy="85.8" r="0.8" fill="#111111" opacity="0.6"/>
<circle cx="381.4" cy="93.2" r="0.8" fill="#111111" opacity="0.6"/>
<circle cx="382.5" cy="91.0" r="0.8" fill="#111111" opacity="0.6"/>
<circle cx="382.8" cy="82.8" r="0.8" fill="#111111" opacity="0.6"/>
<line x1="392.8" y1="34.2" x2="392.8" y2="84.0" stroke="#ff2a2a" stroke-width="1.05"/>
<line x1="392.8" y1="94.6" x2="392.8" y2="97.2" stroke="#ff2a2a" stroke-width="1.05"/>
<line x1="391.2" y1="34.2" x2="394.4" y2="34.2" stroke="#ff2a2a" stroke-width="1.05"/>
<line x1="391.2" y1="97.2" x2="394.4" y2="97.2" stroke="#ff2a2a" stroke-width="1.05"/>
<rect x="389.4" y="84.0" width="6.8" height="10.6" fill="#fff" stroke="#ff2a2a" stroke-width="1.05"/>
<line x1="389.4" y1="92.0" x2="396.2" y2="92.0" stroke="#ff2a2a" stroke-width="1.05"/>
<circle cx="391.5" cy="89.4" r="0.8" fill="#ff2a2a" opacity="0.6"/>
<circle cx="394.7" cy="88.9" r="0.8" fill="#ff2a2a" opacity="0.6"/>
<circle cx="394.6" cy="85.6" r="0.8" fill="#ff2a2a" opacity="0.6"/>
<circle cx="391.3" cy="95.3" r="0.8" fill="#ff2a2a" opacity="0.6"/>
<circle cx="391.7" cy="90.9" r="0.8" fill="#ff2a2a" opacity="0.6"/>
<line x1="403.0" y1="55.3" x2="403.0" y2="80.2" stroke="#2222f0" stroke-width="1.05"/>
<line x1="403.0" y1="92.8" x2="403.0" y2="95.5" stroke="#2222f0" stroke-width="1.05"/>
<line x1="401.4" y1="55.3" x2="404.6" y2="55.3" stroke="#2222f0" stroke-width="1.05"/>
<line x1="401.4" y1="95.5" x2="404.6" y2="95.5" stroke="#2222f0" stroke-width="1.05"/>
<rect x="399.6" y="80.2" width="6.8" height="12.6" fill="#fff" stroke="#2222f0" stroke-width="1.05"/>
<line x1="399.6" y1="90.5" x2="406.4" y2="90.5" stroke="#2222f0" stroke-width="1.05"/>
<circle cx="403.0" cy="94.1" r="0.8" fill="#2222f0" opacity="0.6"/>
<circle cx="404.2" cy="91.2" r="0.8" fill="#2222f0" opacity="0.6"/>
<circle cx="403.1" cy="90.3" r="0.8" fill="#2222f0" opacity="0.6"/>
<circle cx="404.1" cy="90.3" r="0.8" fill="#2222f0" opacity="0.6"/>
<circle cx="404.3" cy="83.5" r="0.8" fill="#2222f0" opacity="0.6"/>
<line x1="414.2" y1="75.8" x2="414.2" y2="84.0" stroke="#3a8c2c" stroke-width="1.05"/>
<line x1="414.2" y1="92.8" x2="414.2" y2="95.5" stroke="#3a8c2c" stroke-width="1.05"/>
<line x1="412.6" y1="75.8" x2="415.8" y2="75.8" stroke="#3a8c2c" stroke-width="1.05"/>
<line x1="412.6" y1="95.5" x2="415.8" y2="95.5" stroke="#3a8c2c" stroke-width="1.05"/>
<rect x="410.8" y="84.0" width="6.8" height="8.8" fill="#fff" stroke="#3a8c2c" stroke-width="1.05"/>
<line x1="410.8" y1="89.0" x2="417.6" y2="89.0" stroke="#3a8c2c" stroke-width="1.05"/>
<circle cx="415.0" cy="84.7" r="0.8" fill="#3a8c2c" opacity="0.6"/>
<circle cx="412.5" cy="90.6" r="0.8" fill="#3a8c2c" opacity="0.6"/>
<circle cx="413.8" cy="85.7" r="0.8" fill="#3a8c2c" opacity="0.6"/>
<circle cx="413.8" cy="84.6" r="0.8" fill="#3a8c2c" opacity="0.6"/>
<circle cx="415.0" cy="87.5" r="0.8" fill="#3a8c2c" opacity="0.6"/>
<line x1="424.3" y1="72.2" x2="424.3" y2="80.2" stroke="#b33cf0" stroke-width="1.05"/>
<line x1="424.3" y1="92.5" x2="424.3" y2="95.5" stroke="#b33cf0" stroke-width="1.05"/>
<line x1="422.7" y1="72.2" x2="425.9" y2="72.2" stroke="#b33cf0" stroke-width="1.05"/>
<line x1="422.7" y1="95.5" x2="425.9" y2="95.5" stroke="#b33cf0" stroke-width="1.05"/>
<rect x="420.9" y="80.2" width="6.8" height="12.3" fill="#fff" stroke="#b33cf0" stroke-width="1.05"/>
<line x1="420.9" y1="86.0" x2="427.7" y2="86.0" stroke="#b33cf0" stroke-width="1.05"/>
<circle cx="426.0" cy="88.2" r="0.8" fill="#b33cf0" opacity="0.6"/>
<circle cx="424.3" cy="80.4" r="0.8" fill="#b33cf0" opacity="0.6"/>
<circle cx="423.6" cy="83.3" r="0.8" fill="#b33cf0" opacity="0.6"/>
<circle cx="423.2" cy="95.0" r="0.8" fill="#b33cf0" opacity="0.6"/>
<circle cx="422.5" cy="95.4" r="0.8" fill="#b33cf0" opacity="0.6"/>
<line x1="435.2" y1="90.2" x2="435.2" y2="92.0" stroke="#f0a050" stroke-width="1.05"/>
<line x1="435.2" y1="96.0" x2="435.2" y2="96.3" stroke="#f0a050" stroke-width="1.05"/>
<line x1="433.6" y1="90.2" x2="436.8" y2="90.2" stroke="#f0a050" stroke-width="1.05"/>
<line x1="433.6" y1="96.3" x2="436.8" y2="96.3" stroke="#f0a050" stroke-width="1.05"/>
<rect x="431.8" y="92.0" width="6.8" height="4.0" fill="#fff" stroke="#f0a050" stroke-width="1.05"/>
<line x1="431.8" y1="94.0" x2="438.6" y2="94.0" stroke="#f0a050" stroke-width="1.05"/>
<circle cx="436.5" cy="95.2" r="0.8" fill="#f0a050" opacity="0.6"/>
<circle cx="434.9" cy="92.0" r="0.8" fill="#f0a050" opacity="0.6"/>
<circle cx="434.2" cy="93.1" r="0.8" fill="#f0a050" opacity="0.6"/>
<circle cx="436.7" cy="94.9" r="0.8" fill="#f0a050" opacity="0.6"/>
<circle cx="437.1" cy="94.8" r="0.8" fill="#f0a050" opacity="0.6"/>
<line x1="446.2" y1="88.4" x2="446.2" y2="91.1" stroke="#f588e8" stroke-width="1.05"/>
<line x1="446.2" y1="96.3" x2="446.2" y2="97.2" stroke="#f588e8" stroke-width="1.05"/>
<line x1="444.6" y1="88.4" x2="447.8" y2="88.4" stroke="#f588e8" stroke-width="1.05"/>
<line x1="444.6" y1="97.2" x2="447.8" y2="97.2" stroke="#f588e8" stroke-width="1.05"/>
<rect x="442.8" y="91.1" width="6.8" height="5.2" fill="#fff" stroke="#f588e8" stroke-width="1.05"/>
<line x1="442.8" y1="94.0" x2="449.6" y2="94.0" stroke="#f588e8" stroke-width="1.05"/>
<circle cx="447.0" cy="97.0" r="0.8" fill="#f588e8" opacity="0.6"/>
<circle cx="447.2" cy="92.8" r="0.8" fill="#f588e8" opacity="0.6"/>
<circle cx="445.3" cy="93.4" r="0.8" fill="#f588e8" opacity="0.6"/>
<circle cx="446.2" cy="94.8" r="0.8" fill="#f588e8" opacity="0.6"/>
<circle cx="444.2" cy="92.8" r="0.8" fill="#f588e8" opacity="0.6"/>
<line x1="382.9" y1="20.5" x2="446.8" y2="20.5" stroke="#444" stroke-width="0.9"/>
<text x="414.7" y="21.9" font-size="8.6" font-weight="bold" fill="#222" text-anchor="middle" stroke="#222" stroke-width="0.26">*</text>
<line x1="382.9" y1="28.0" x2="435.8" y2="28.0" stroke="#444" stroke-width="0.9"/>
<text x="409.2" y="29.4" font-size="8.6" font-weight="bold" fill="#222" text-anchor="middle" stroke="#222" stroke-width="0.26">**</text>
<text x="364.6" y="5.8" font-size="7.33" font-weight="bold" fill="#111" stroke="#111" stroke-width="0.25">Patient 3529, primary tumor</text>
<text x="448.8" y="13.8" font-size="8.54" font-weight="bold" fill="#ff2020" stroke="#ff2020" stroke-width="0.26">WT</text>
<rect x="373.5" y="60.5" width="4.5" height="3.5" fill="#fff"/>
<line x1="373.6" y1="60.0" x2="377.6" y2="61.2" stroke="#444" stroke-width="0.8"/>
<line x1="373.6" y1="63.5" x2="377.6" y2="64.7" stroke="#444" stroke-width="0.8"/>
<line x1="486.8" y1="17.5" x2="486.8" y2="100.0" stroke="#777" stroke-width="1.2"/>
<line x1="486.2" y1="99.5" x2="566.5" y2="99.5" stroke="#333" stroke-width="1.2"/>
<line x1="484.2" y1="17.5" x2="486.8" y2="17.5" stroke="#444" stroke-width="1"/>
<text x="483.8" y="19.6" font-size="6.0" fill="#222" text-anchor="end" stroke="#222" stroke-width="0.13">200000</text>
<line x1="484.2" y1="38.0" x2="486.8" y2="38.0" stroke="#444" stroke-width="1"/>
<text x="483.8" y="40.1" font-size="6.0" fill="#222" text-anchor="end" stroke="#222" stroke-width="0.13">150000</text>
<line x1="484.2" y1="58.3" x2="486.8" y2="58.3" stroke="#444" stroke-width="1"/>
<text x="483.8" y="60.4" font-size="6.0" fill="#222" text-anchor="end" stroke="#222" stroke-width="0.13">100000</text>
<line x1="484.2" y1="78.8" x2="486.8" y2="78.8" stroke="#444" stroke-width="1"/>
<text x="483.8" y="80.9" font-size="6.0" fill="#222" text-anchor="end" stroke="#222" stroke-width="0.13">50000</text>
<line x1="484.2" y1="99.5" x2="486.8" y2="99.5" stroke="#444" stroke-width="1"/>
<text x="483.8" y="101.6" font-size="6.0" fill="#222" text-anchor="end" stroke="#222" stroke-width="0.13">0</text>
<line x1="496.4" y1="99.5" x2="496.4" y2="101.7" stroke="#333" stroke-width="1"/>
<text x="496.4" y="108.2" font-size="6.8" font-weight="bold" fill="#222" text-anchor="middle" stroke="#222" stroke-width="0.23">1</text>
<line x1="506.0" y1="99.5" x2="506.0" y2="101.7" stroke="#333" stroke-width="1"/>
<text x="506.0" y="108.2" font-size="6.8" font-weight="bold" fill="#222" text-anchor="middle" stroke="#222" stroke-width="0.23">2</text>
<line x1="516.2" y1="99.5" x2="516.2" y2="101.7" stroke="#333" stroke-width="1"/>
<text x="516.2" y="108.2" font-size="6.8" font-weight="bold" fill="#222" text-anchor="middle" stroke="#222" stroke-width="0.23">3</text>
<line x1="527.0" y1="99.5" x2="527.0" y2="101.7" stroke="#333" stroke-width="1"/>
<text x="527.0" y="108.2" font-size="6.8" font-weight="bold" fill="#222" text-anchor="middle" stroke="#222" stroke-width="0.23">4</text>
<line x1="537.6" y1="99.5" x2="537.6" y2="101.7" stroke="#333" stroke-width="1"/>
<text x="537.6" y="108.2" font-size="6.8" font-weight="bold" fill="#222" text-anchor="middle" stroke="#222" stroke-width="0.23">5</text>
<line x1="548.4" y1="99.5" x2="548.4" y2="101.7" stroke="#333" stroke-width="1"/>
<text x="548.4" y="108.2" font-size="6.8" font-weight="bold" fill="#222" text-anchor="middle" stroke="#222" stroke-width="0.23">6</text>
<line x1="559.5" y1="99.5" x2="559.5" y2="101.7" stroke="#333" stroke-width="1"/>
<text x="559.5" y="108.2" font-size="6.8" font-weight="bold" fill="#222" text-anchor="middle" stroke="#222" stroke-width="0.23">7</text>
<line x1="496.4" y1="39.4" x2="496.4" y2="83.7" stroke="#111111" stroke-width="1.05"/>
<line x1="496.4" y1="95.5" x2="496.4" y2="99.0" stroke="#111111" stroke-width="1.05"/>
<line x1="494.8" y1="39.4" x2="498.0" y2="39.4" stroke="#111111" stroke-width="1.05"/>
<line x1="494.8" y1="99.0" x2="498.0" y2="99.0" stroke="#111111" stroke-width="1.05"/>
<rect x="493.0" y="83.7" width="6.8" height="11.8" fill="#fff" stroke="#111111" stroke-width="1.05"/>
<line x1="493.0" y1="91.0" x2="499.8" y2="91.0" stroke="#111111" stroke-width="1.05"/>
<circle cx="496.1" cy="85.2" r="0.8" fill="#111111" opacity="0.6"/>
<circle cx="496.1" cy="94.0" r="0.8" fill="#111111" opacity="0.6"/>
<circle cx="495.2" cy="84.0" r="0.8" fill="#111111" opacity="0.6"/>
<circle cx="498.4" cy="88.1" r="0.8" fill="#111111" opacity="0.6"/>
<circle cx="496.8" cy="86.4" r="0.8" fill="#111111" opacity="0.6"/>
<line x1="506.0" y1="55.5" x2="506.0" y2="79.7" stroke="#ff2a2a" stroke-width="1.05"/>
<line x1="506.0" y1="96.8" x2="506.0" y2="97.2" stroke="#ff2a2a" stroke-width="1.05"/>
<line x1="504.4" y1="55.5" x2="507.6" y2="55.5" stroke="#ff2a2a" stroke-width="1.05"/>
<line x1="504.4" y1="97.2" x2="507.6" y2="97.2" stroke="#ff2a2a" stroke-width="1.05"/>
<rect x="502.6" y="79.7" width="6.8" height="17.1" fill="#fff" stroke="#ff2a2a" stroke-width="1.05"/>
<line x1="502.6" y1="95.5" x2="509.4" y2="95.5" stroke="#ff2a2a" stroke-width="1.05"/>
<circle cx="505.7" cy="83.4" r="0.8" fill="#ff2a2a" opacity="0.6"/>
<circle cx="504.4" cy="96.7" r="0.8" fill="#ff2a2a" opacity="0.6"/>
<circle cx="507.7" cy="92.2" r="0.8" fill="#ff2a2a" opacity="0.6"/>
<circle cx="506.7" cy="90.0" r="0.8" fill="#ff2a2a" opacity="0.6"/>
<circle cx="506.3" cy="86.2" r="0.8" fill="#ff2a2a" opacity="0.6"/>
<line x1="516.2" y1="52.5" x2="516.2" y2="85.8" stroke="#2222f0" stroke-width="1.05"/>
<line x1="516.2" y1="96.0" x2="516.2" y2="96.3" stroke="#2222f0" stroke-width="1.05"/>
<line x1="514.6" y1="52.5" x2="517.8" y2="52.5" stroke="#2222f0" stroke-width="1.05"/>
<line x1="514.6" y1="96.3" x2="517.8" y2="96.3" stroke="#2222f0" stroke-width="1.05"/>
<rect x="512.8" y="85.8" width="6.8" height="10.2" fill="#fff" stroke="#2222f0" stroke-width="1.05"/>
<line x1="512.8" y1="93.0" x2="519.6" y2="93.0" stroke="#2222f0" stroke-width="1.05"/>
<circle cx="517.2" cy="89.5" r="0.8" fill="#2222f0" opacity="0.6"/>
<circle cx="514.2" cy="94.0" r="0.8" fill="#2222f0" opacity="0.6"/>
<circle cx="515.9" cy="87.6" r="0.8" fill="#2222f0" opacity="0.6"/>
<circle cx="516.3" cy="88.8" r="0.8" fill="#2222f0" opacity="0.6"/>
<circle cx="516.1" cy="94.4" r="0.8" fill="#2222f0" opacity="0.6"/>
<line x1="527.0" y1="56.4" x2="527.0" y2="90.7" stroke="#3a8c2c" stroke-width="1.05"/>
<line x1="527.0" y1="96.3" x2="527.0" y2="97.2" stroke="#3a8c2c" stroke-width="1.05"/>
<line x1="525.4" y1="56.4" x2="528.6" y2="56.4" stroke="#3a8c2c" stroke-width="1.05"/>
<line x1="525.4" y1="97.2" x2="528.6" y2="97.2" stroke="#3a8c2c" stroke-width="1.05"/>
<rect x="523.6" y="90.7" width="6.8" height="5.6" fill="#fff" stroke="#3a8c2c" stroke-width="1.05"/>
<line x1="523.6" y1="94.0" x2="530.4" y2="94.0" stroke="#3a8c2c" stroke-width="1.05"/>
<circle cx="526.2" cy="96.6" r="0.8" fill="#3a8c2c" opacity="0.6"/>
<circle cx="525.6" cy="92.3" r="0.8" fill="#3a8c2c" opacity="0.6"/>
<circle cx="528.7" cy="93.6" r="0.8" fill="#3a8c2c" opacity="0.6"/>
<circle cx="525.9" cy="93.4" r="0.8" fill="#3a8c2c" opacity="0.6"/>
<circle cx="528.0" cy="91.9" r="0.8" fill="#3a8c2c" opacity="0.6"/>
<line x1="537.6" y1="70.4" x2="537.6" y2="89.3" stroke="#b33cf0" stroke-width="1.05"/>
<line x1="537.6" y1="96.3" x2="537.6" y2="97.2" stroke="#b33cf0" stroke-width="1.05"/>
<line x1="536.0" y1="70.4" x2="539.2" y2="70.4" stroke="#b33cf0" stroke-width="1.05"/>
<line x1="536.0" y1="97.2" x2="539.2" y2="97.2" stroke="#b33cf0" stroke-width="1.05"/>
<rect x="534.2" y="89.3" width="6.8" height="7.0" fill="#fff" stroke="#b33cf0" stroke-width="1.05"/>
<line x1="534.2" y1="94.0" x2="541.0" y2="94.0" stroke="#b33cf0" stroke-width="1.05"/>
<circle cx="536.1" cy="94.1" r="0.8" fill="#b33cf0" opacity="0.6"/>
<circle cx="537.1" cy="92.5" r="0.8" fill="#b33cf0" opacity="0.6"/>
<circle cx="538.5" cy="93.8" r="0.8" fill="#b33cf0" opacity="0.6"/>
<circle cx="539.5" cy="92.0" r="0.8" fill="#b33cf0" opacity="0.6"/>
<circle cx="538.2" cy="91.1" r="0.8" fill="#b33cf0" opacity="0.6"/>
<line x1="548.4" y1="72.2" x2="548.4" y2="88.4" stroke="#f0a050" stroke-width="1.05"/>
<line x1="548.4" y1="96.0" x2="548.4" y2="96.3" stroke="#f0a050" stroke-width="1.05"/>
<line x1="546.8" y1="72.2" x2="550.0" y2="72.2" stroke="#f0a050" stroke-width="1.05"/>
<line x1="546.8" y1="96.3" x2="550.0" y2="96.3" stroke="#f0a050" stroke-width="1.05"/>
<rect x="545.0" y="88.4" width="6.8" height="7.6" fill="#fff" stroke="#f0a050" stroke-width="1.05"/>
<line x1="545.0" y1="94.0" x2="551.8" y2="94.0" stroke="#f0a050" stroke-width="1.05"/>
<circle cx="550.4" cy="89.8" r="0.8" fill="#f0a050" opacity="0.6"/>
<circle cx="546.6" cy="92.1" r="0.8" fill="#f0a050" opacity="0.6"/>
<circle cx="549.4" cy="92.3" r="0.8" fill="#f0a050" opacity="0.6"/>
<circle cx="549.9" cy="94.2" r="0.8" fill="#f0a050" opacity="0.6"/>
<circle cx="550.2" cy="96.1" r="0.8" fill="#f0a050" opacity="0.6"/>
<line x1="559.5" y1="81.8" x2="559.5" y2="87.2" stroke="#f588e8" stroke-width="1.05"/>
<line x1="559.5" y1="95.5" x2="559.5" y2="96.0" stroke="#f588e8" stroke-width="1.05"/>
<line x1="557.9" y1="81.8" x2="561.1" y2="81.8" stroke="#f588e8" stroke-width="1.05"/>
<line x1="557.9" y1="96.0" x2="561.1" y2="96.0" stroke="#f588e8" stroke-width="1.05"/>
<rect x="556.1" y="87.2" width="6.8" height="8.3" fill="#fff" stroke="#f588e8" stroke-width="1.05"/>
<line x1="556.1" y1="91.0" x2="562.9" y2="91.0" stroke="#f588e8" stroke-width="1.05"/>
<circle cx="557.9" cy="93.0" r="0.8" fill="#f588e8" opacity="0.6"/>
<circle cx="559.9" cy="88.0" r="0.8" fill="#f588e8" opacity="0.6"/>
<circle cx="558.3" cy="87.6" r="0.8" fill="#f588e8" opacity="0.6"/>
<circle cx="560.9" cy="89.9" r="0.8" fill="#f588e8" opacity="0.6"/>
<circle cx="558.0" cy="91.7" r="0.8" fill="#f588e8" opacity="0.6"/>
<line x1="496.1" y1="18.5" x2="560.1" y2="18.5" stroke="#444" stroke-width="0.9"/>
<text x="514.7" y="16.4" font-size="5.64" font-weight="bold" fill="#222" stroke="#222" stroke-width="0.19">p = 0.1114</text>
<line x1="496.1" y1="26.3" x2="549.0" y2="26.3" stroke="#444" stroke-width="0.9"/>
<text x="509.7" y="24.4" font-size="5.48" font-weight="bold" fill="#222" stroke="#222" stroke-width="0.19">p = 0.1149</text>
<line x1="496.1" y1="36.0" x2="538.2" y2="36.0" stroke="#444" stroke-width="0.9"/>
<text x="504.6" y="33.9" font-size="5.49" font-weight="bold" fill="#222" stroke="#222" stroke-width="0.19">p = 0.1001</text>
<text x="498.2" y="5.8" font-size="7.65" font-weight="bold" fill="#111" stroke="#111" stroke-width="0.26">Patient 3529, LN</text>
<text x="549.0" y="13.8" font-size="7.57" font-weight="bold" fill="#ff2020" stroke="#ff2020" stroke-width="0.26">WT</text>
<line x1="591.3" y1="17.5" x2="591.3" y2="100.0" stroke="#777" stroke-width="1.2"/>
<line x1="590.7" y1="99.5" x2="670.0" y2="99.5" stroke="#333" stroke-width="1.2"/>
<line x1="588.7" y1="17.5" x2="591.3" y2="17.5" stroke="#444" stroke-width="1"/>
<text x="588.3" y="19.6" font-size="6.0" font-weight="bold" fill="#222" text-anchor="end" stroke="#222" stroke-width="0.20">60000</text>
<line x1="588.7" y1="31.2" x2="591.3" y2="31.2" stroke="#444" stroke-width="1"/>
<text x="588.3" y="33.3" font-size="6.0" font-weight="bold" fill="#222" text-anchor="end" stroke="#222" stroke-width="0.20">50000</text>
<line x1="588.7" y1="44.7" x2="591.3" y2="44.7" stroke="#444" stroke-width="1"/>
<text x="588.3" y="46.8" font-size="6.0" font-weight="bold" fill="#222" text-anchor="end" stroke="#222" stroke-width="0.20">40000</text>
<line x1="588.7" y1="58.3" x2="591.3" y2="58.3" stroke="#444" stroke-width="1"/>
<text x="588.3" y="60.4" font-size="6.0" font-weight="bold" fill="#222" text-anchor="end" stroke="#222" stroke-width="0.20">30000</text>
<line x1="588.7" y1="72.2" x2="591.3" y2="72.2" stroke="#444" stroke-width="1"/>
<text x="588.3" y="74.3" font-size="6.0" font-weight="bold" fill="#222" text-anchor="end" stroke="#222" stroke-width="0.20">20000</text>
<line x1="588.7" y1="85.8" x2="591.3" y2="85.8" stroke="#444" stroke-width="1"/>
<text x="588.3" y="87.9" font-size="6.0" font-weight="bold" fill="#222" text-anchor="end" stroke="#222" stroke-width="0.20">10000</text>
<line x1="588.7" y1="99.5" x2="591.3" y2="99.5" stroke="#444" stroke-width="1"/>
<text x="588.3" y="101.6" font-size="6.0" font-weight="bold" fill="#222" text-anchor="end" stroke="#222" stroke-width="0.20">0</text>
<line x1="599.2" y1="99.5" x2="599.2" y2="101.7" stroke="#333" stroke-width="1"/>
<text x="599.2" y="108.2" font-size="6.8" font-weight="bold" fill="#222" text-anchor="middle" stroke="#222" stroke-width="0.23">1</text>
<line x1="609.1" y1="99.5" x2="609.1" y2="101.7" stroke="#333" stroke-width="1"/>
<text x="609.1" y="108.2" font-size="6.8" font-weight="bold" fill="#222" text-anchor="middle" stroke="#222" stroke-width="0.23">2</text>
<line x1="619.3" y1="99.5" x2="619.3" y2="101.7" stroke="#333" stroke-width="1"/>
<text x="619.3" y="108.2" font-size="6.8" font-weight="bold" fill="#222" text-anchor="middle" stroke="#222" stroke-width="0.23">3</text>
<line x1="629.8" y1="99.5" x2="629.8" y2="101.7" stroke="#333" stroke-width="1"/>
<text x="629.8" y="108.2" font-size="6.8" font-weight="bold" fill="#222" text-anchor="middle" stroke="#222" stroke-width="0.23">4</text>
<line x1="640.3" y1="99.5" x2="640.3" y2="101.7" stroke="#333" stroke-width="1"/>
<text x="640.3" y="108.2" font-size="6.8" font-weight="bold" fill="#222" text-anchor="middle" stroke="#222" stroke-width="0.23">5</text>
<line x1="651.3" y1="99.5" x2="651.3" y2="101.7" stroke="#333" stroke-width="1"/>
<text x="651.3" y="108.2" font-size="6.8" font-weight="bold" fill="#222" text-anchor="middle" stroke="#222" stroke-width="0.23">6</text>
<line x1="662.5" y1="99.5" x2="662.5" y2="101.7" stroke="#333" stroke-width="1"/>
<text x="662.5" y="108.2" font-size="6.8" font-weight="bold" fill="#222" text-anchor="middle" stroke="#222" stroke-width="0.23">7</text>
<line x1="599.2" y1="85.3" x2="599.2" y2="92.0" stroke="#111111" stroke-width="1.05"/>
<line x1="599.2" y1="96.0" x2="599.2" y2="96.3" stroke="#111111" stroke-width="1.05"/>
<line x1="597.6" y1="85.3" x2="600.8" y2="85.3" stroke="#111111" stroke-width="1.05"/>
<line x1="597.6" y1="96.3" x2="600.8" y2="96.3" stroke="#111111" stroke-width="1.05"/>
<rect x="595.8" y="92.0" width="6.8" height="4.0" fill="#fff" stroke="#111111" stroke-width="1.05"/>
<line x1="595.8" y1="94.5" x2="602.6" y2="94.5" stroke="#111111" stroke-width="1.05"/>
<circle cx="597.9" cy="93.9" r="0.8" fill="#111111" opacity="0.6"/>
<circle cx="600.7" cy="95.4" r="0.8" fill="#111111" opacity="0.6"/>
<circle cx="601.0" cy="94.0" r="0.8" fill="#111111" opacity="0.6"/>
<circle cx="598.0" cy="95.4" r="0.8" fill="#111111" opacity="0.6"/>
<circle cx="599.4" cy="92.6" r="0.8" fill="#111111" opacity="0.6"/>
<line x1="609.1" y1="74.8" x2="609.1" y2="85.3" stroke="#ff2a2a" stroke-width="1.05"/>
<line x1="609.1" y1="94.6" x2="609.1" y2="95.5" stroke="#ff2a2a" stroke-width="1.05"/>
<line x1="607.5" y1="74.8" x2="610.7" y2="74.8" stroke="#ff2a2a" stroke-width="1.05"/>
<line x1="607.5" y1="95.5" x2="610.7" y2="95.5" stroke="#ff2a2a" stroke-width="1.05"/>
<rect x="605.7" y="85.3" width="6.8" height="9.3" fill="#fff" stroke="#ff2a2a" stroke-width="1.05"/>
<line x1="605.7" y1="90.0" x2="612.5" y2="90.0" stroke="#ff2a2a" stroke-width="1.05"/>
<circle cx="610.4" cy="86.9" r="0.8" fill="#ff2a2a" opacity="0.6"/>
<circle cx="610.7" cy="92.6" r="0.8" fill="#ff2a2a" opacity="0.6"/>
<circle cx="609.5" cy="88.8" r="0.8" fill="#ff2a2a" opacity="0.6"/>
<circle cx="610.4" cy="92.7" r="0.8" fill="#ff2a2a" opacity="0.6"/>
<circle cx="608.1" cy="88.9" r="0.8" fill="#ff2a2a" opacity="0.6"/>
<line x1="619.3" y1="82.7" x2="619.3" y2="89.7" stroke="#2222f0" stroke-width="1.05"/>
<line x1="619.3" y1="96.0" x2="619.3" y2="96.3" stroke="#2222f0" stroke-width="1.05"/>
<line x1="617.7" y1="82.7" x2="620.9" y2="82.7" stroke="#2222f0" stroke-width="1.05"/>
<line x1="617.7" y1="96.3" x2="620.9" y2="96.3" stroke="#2222f0" stroke-width="1.05"/>
<rect x="615.9" y="89.7" width="6.8" height="6.3" fill="#fff" stroke="#2222f0" stroke-width="1.05"/>
<line x1="615.9" y1="93.0" x2="622.7" y2="93.0" stroke="#2222f0" stroke-width="1.05"/>
<circle cx="621.1" cy="90.6" r="0.8" fill="#2222f0" opacity="0.6"/>
<circle cx="618.3" cy="94.5" r="0.8" fill="#2222f0" opacity="0.6"/>
<circle cx="617.5" cy="95.7" r="0.8" fill="#2222f0" opacity="0.6"/>
<circle cx="618.7" cy="93.5" r="0.8" fill="#2222f0" opacity="0.6"/>
<circle cx="620.1" cy="91.7" r="0.8" fill="#2222f0" opacity="0.6"/>
<line x1="629.8" y1="83.5" x2="629.8" y2="90.7" stroke="#3a8c2c" stroke-width="1.05"/>
<line x1="629.8" y1="94.6" x2="629.8" y2="96.3" stroke="#3a8c2c" stroke-width="1.05"/>
<line x1="628.2" y1="83.5" x2="631.4" y2="83.5" stroke="#3a8c2c" stroke-width="1.05"/>
<line x1="628.2" y1="96.3" x2="631.4" y2="96.3" stroke="#3a8c2c" stroke-width="1.05"/>
<rect x="626.4" y="90.7" width="6.8" height="3.9" fill="#fff" stroke="#3a8c2c" stroke-width="1.05"/>
<line x1="626.4" y1="92.5" x2="633.2" y2="92.5" stroke="#3a8c2c" stroke-width="1.05"/>
<circle cx="628.0" cy="94.9" r="0.8" fill="#3a8c2c" opacity="0.6"/>
<circle cx="630.8" cy="92.4" r="0.8" fill="#3a8c2c" opacity="0.6"/>
<circle cx="629.4" cy="94.6" r="0.8" fill="#3a8c2c" opacity="0.6"/>
<circle cx="628.8" cy="93.5" r="0.8" fill="#3a8c2c" opacity="0.6"/>
<circle cx="630.6" cy="95.1" r="0.8" fill="#3a8c2c" opacity="0.6"/>
<line x1="640.3" y1="27.5" x2="640.3" y2="75.3" stroke="#b33cf0" stroke-width="1.05"/>
<line x1="640.3" y1="90.7" x2="640.3" y2="95.5" stroke="#b33cf0" stroke-width="1.05"/>
<line x1="638.7" y1="27.5" x2="641.9" y2="27.5" stroke="#b33cf0" stroke-width="1.05"/>
<line x1="638.7" y1="95.5" x2="641.9" y2="95.5" stroke="#b33cf0" stroke-width="1.05"/>
<rect x="636.9" y="75.3" width="6.8" height="15.4" fill="#fff" stroke="#b33cf0" stroke-width="1.05"/>
<line x1="636.9" y1="86.0" x2="643.7" y2="86.0" stroke="#b33cf0" stroke-width="1.05"/>
<circle cx="641.6" cy="94.6" r="0.8" fill="#b33cf0" opacity="0.6"/>
<circle cx="640.2" cy="81.5" r="0.8" fill="#b33cf0" opacity="0.6"/>
<circle cx="642.2" cy="88.3" r="0.8" fill="#b33cf0" opacity="0.6"/>
<circle cx="639.7" cy="83.9" r="0.8" fill="#b33cf0" opacity="0.6"/>
<circle cx="641.9" cy="94.4" r="0.8" fill="#b33cf0" opacity="0.6"/>
<line x1="651.3" y1="52.5" x2="651.3" y2="87.2" stroke="#f0a050" stroke-width="1.05"/>
<line x1="651.3" y1="94.2" x2="651.3" y2="95.5" stroke="#f0a050" stroke-width="1.05"/>
<line x1="649.7" y1="52.5" x2="652.9" y2="52.5" stroke="#f0a050" stroke-width="1.05"/>
<line x1="649.7" y1="95.5" x2="652.9" y2="95.5" stroke="#f0a050" stroke-width="1.05"/>
<rect x="647.9" y="87.2" width="6.8" height="7.0" fill="#fff" stroke="#f0a050" stroke-width="1.05"/>
<line x1="647.9" y1="91.0" x2="654.7" y2="91.0" stroke="#f0a050" stroke-width="1.05"/>
<circle cx="651.0" cy="94.6" r="0.8" fill="#f0a050" opacity="0.6"/>
<circle cx="651.3" cy="91.9" r="0.8" fill="#f0a050" opacity="0.6"/>
<circle cx="650.1" cy="88.3" r="0.8" fill="#f0a050" opacity="0.6"/>
<circle cx="651.5" cy="88.9" r="0.8" fill="#f0a050" opacity="0.6"/>
<circle cx="651.8" cy="94.9" r="0.8" fill="#f0a050" opacity="0.6"/>
<line x1="662.5" y1="80.9" x2="662.5" y2="86.2" stroke="#f588e8" stroke-width="1.05"/>
<line x1="662.5" y1="94.6" x2="662.5" y2="95.5" stroke="#f588e8" stroke-width="1.05"/>
<line x1="660.9" y1="80.9" x2="664.1" y2="80.9" stroke="#f588e8" stroke-width="1.05"/>
<line x1="660.9" y1="95.5" x2="664.1" y2="95.5" stroke="#f588e8" stroke-width="1.05"/>
<rect x="659.1" y="86.2" width="6.8" height="8.4" fill="#fff" stroke="#f588e8" stroke-width="1.05"/>
<line x1="659.1" y1="91.0" x2="665.9" y2="91.0" stroke="#f588e8" stroke-width="1.05"/>
<circle cx="662.8" cy="86.2" r="0.8" fill="#f588e8" opacity="0.6"/>
<circle cx="662.6" cy="89.8" r="0.8" fill="#f588e8" opacity="0.6"/>
<circle cx="663.8" cy="86.3" r="0.8" fill="#f588e8" opacity="0.6"/>
<circle cx="662.5" cy="89.1" r="0.8" fill="#f588e8" opacity="0.6"/>
<circle cx="662.6" cy="92.8" r="0.8" fill="#f588e8" opacity="0.6"/>
<text x="601.6" y="5.8" font-size="7.69" font-weight="bold" fill="#111" stroke="#111" stroke-width="0.26">Patient 3101, LN</text>
<text x="654.3" y="13.8" font-size="7.7" font-weight="bold" fill="#ff2020" stroke="#ff2020" stroke-width="0.26">WT</text>
<text x="632.4" y="19.4" font-size="5.6" fill="#222" text-anchor="middle" textLength="78.8" lengthAdjust="spacingAndGlyphs" stroke="#222" stroke-width="0.12">History of renal transplant and</text>
<text x="632.6" y="25.6" font-size="5.6" fill="#222" text-anchor="middle" textLength="74.0" lengthAdjust="spacingAndGlyphs" stroke="#222" stroke-width="0.12">chronic immunosuppression</text>
<text x="66.6" y="143.7" font-size="10.7" font-weight="bold" fill="#111" textLength="161.1" lengthAdjust="spacingAndGlyphs" stroke="#111" stroke-width="0.26">Melanoma scRNA-Seq dataset #1</text>
<text x="231.8" y="139.6" font-size="7.0" font-weight="bold" fill="#111" textLength="8.2" lengthAdjust="spacingAndGlyphs" stroke="#111" stroke-width="0.24">28</text>
<text x="428.6" y="143.6" font-size="10.7" font-weight="bold" fill="#111" textLength="161.7" lengthAdjust="spacingAndGlyphs" stroke="#111" stroke-width="0.26">Melanoma scRNA-Seq dataset #2</text>
<text x="595.1" y="139.6" font-size="7.0" font-weight="bold" fill="#111" textLength="7.9" lengthAdjust="spacingAndGlyphs" stroke="#111" stroke-width="0.24">29</text>
<rect x="20.0" y="163.1" width="64.1" height="62.4" fill="#ebebeb"/>
<line x1="23.0" y1="163.1" x2="23.0" y2="225.5" stroke="#f6f6f6" stroke-width="0.5"/>
<line x1="34.6" y1="163.1" x2="34.6" y2="225.5" stroke="#f6f6f6" stroke-width="0.5"/>
<line x1="46.2" y1="163.1" x2="46.2" y2="225.5" stroke="#f6f6f6" stroke-width="0.5"/>
<line x1="57.9" y1="163.1" x2="57.9" y2="225.5" stroke="#f6f6f6" stroke-width="0.5"/>
<line x1="69.5" y1="163.1" x2="69.5" y2="225.5" stroke="#f6f6f6" stroke-width="0.5"/>
<line x1="81.1" y1="163.1" x2="81.1" y2="225.5" stroke="#f6f6f6" stroke-width="0.5"/>
<line x1="20.0" y1="222.5" x2="84.1" y2="222.5" stroke="#f6f6f6" stroke-width="0.5"/>
<line x1="20.0" y1="205.4" x2="84.1" y2="205.4" stroke="#f6f6f6" stroke-width="0.5"/>
<line x1="20.0" y1="188.3" x2="84.1" y2="188.3" stroke="#f6f6f6" stroke-width="0.5"/>
<line x1="20.0" y1="171.2" x2="84.1" y2="171.2" stroke="#f6f6f6" stroke-width="0.5"/>
<line x1="23.0" y1="225.5" x2="23.0" y2="226.5" stroke="#999" stroke-width="0.5"/>
<line x1="34.6" y1="225.5" x2="34.6" y2="226.5" stroke="#999" stroke-width="0.5"/>
<line x1="46.2" y1="225.5" x2="46.2" y2="226.5" stroke="#999" stroke-width="0.5"/>
<line x1="57.9" y1="225.5" x2="57.9" y2="226.5" stroke="#999" stroke-width="0.5"/>
<line x1="69.5" y1="225.5" x2="69.5" y2="226.5" stroke="#999" stroke-width="0.5"/>
<line x1="81.1" y1="225.5" x2="81.1" y2="226.5" stroke="#999" stroke-width="0.5"/>
<line x1="19.0" y1="222.5" x2="20.0" y2="222.5" stroke="#999" stroke-width="0.5"/>
<line x1="19.0" y1="205.4" x2="20.0" y2="205.4" stroke="#999" stroke-width="0.5"/>
<line x1="19.0" y1="188.3" x2="20.0" y2="188.3" stroke="#999" stroke-width="0.5"/>
<line x1="19.0" y1="171.2" x2="20.0" y2="171.2" stroke="#999" stroke-width="0.5"/>
<circle cx="23.4" cy="166.4" r="0.55" fill="#444"/>
<circle cx="74.2" cy="177.3" r="0.55" fill="#444"/>
<circle cx="81.5" cy="180.0" r="0.55" fill="#444"/>
<circle cx="50.6" cy="181.3" r="0.55" fill="#444"/>
<circle cx="44.0" cy="183.1" r="0.55" fill="#444"/>
<circle cx="76.5" cy="184.8" r="0.55" fill="#444"/>
<circle cx="30.0" cy="191.4" r="0.55" fill="#444"/>
<circle cx="35.2" cy="194.4" r="0.55" fill="#444"/>
<circle cx="47.3" cy="193.4" r="0.55" fill="#444"/>
<circle cx="24.3" cy="198.4" r="0.55" fill="#444"/>
<circle cx="50.2" cy="199.3" r="0.55" fill="#444"/>
<circle cx="51.2" cy="201.2" r="0.55" fill="#444"/>
<circle cx="23.4" cy="204.9" r="0.55" fill="#444"/>
<circle cx="25.2" cy="205.4" r="0.55" fill="#444"/>
<circle cx="55.2" cy="203.2" r="0.55" fill="#444"/>
<circle cx="39.2" cy="207.8" r="0.55" fill="#444"/>
<circle cx="25.0" cy="209.8" r="0.55" fill="#444"/>
<circle cx="30.5" cy="210.2" r="0.55" fill="#444"/>
<circle cx="34.4" cy="210.4" r="0.55" fill="#444"/>
<circle cx="48.0" cy="210.4" r="0.55" fill="#444"/>
<circle cx="49.3" cy="212.4" r="0.55" fill="#444"/>
<circle cx="27.6" cy="212.4" r="0.55" fill="#444"/>
<circle cx="27.6" cy="215.0" r="0.55" fill="#444"/>
<circle cx="31.5" cy="214.4" r="0.55" fill="#444"/>
<circle cx="23.4" cy="218.3" r="0.55" fill="#444"/>
<circle cx="25.0" cy="219.6" r="0.55" fill="#444"/>
<circle cx="26.9" cy="221.6" r="0.55" fill="#444"/>
<circle cx="25.6" cy="222.9" r="0.55" fill="#444"/>
<line x1="23.0" y1="210.7" x2="81.7" y2="179.2" stroke="#3d6cf0" stroke-width="0.9"/>
<text x="53.3" y="169.3" font-size="5.27" font-weight="bold" fill="#3d6cf0" stroke="#3d6cf0" stroke-width="0.18">rho = 0.535</text>
<text x="53.3" y="176.3" font-size="5.6" font-weight="bold" fill="#3d6cf0" stroke="#3d6cf0" stroke-width="0.19">p = 0.002</text>
<text x="11.4" y="196.6" font-size="4.3" font-weight="bold" fill="#1a1a1a" text-anchor="middle" textLength="52.5" lengthAdjust="spacingAndGlyphs" transform="rotate(-90 11.4 196.6)" stroke="#1a1a1a" stroke-width="0.15">Mean expression of CD40</text>
<text x="17.3" y="196.6" font-size="4.3" font-weight="bold" fill="#1a1a1a" text-anchor="middle" textLength="47.3" lengthAdjust="spacingAndGlyphs" transform="rotate(-90 17.3 196.6)" stroke="#1a1a1a" stroke-width="0.15">in all cells in the tumor</text>
<text x="50.8" y="232.1" font-size="4.6" font-weight="bold" fill="#222" text-anchor="middle" textLength="66.4" lengthAdjust="spacingAndGlyphs" stroke="#222" stroke-width="0.16">The proportion of CD11b⁺PDL1⁺</text>
<text x="50.8" y="237.4" font-size="4.6" font-weight="bold" fill="#222" text-anchor="middle" textLength="41.0" lengthAdjust="spacingAndGlyphs" stroke="#222" stroke-width="0.16">B cells in the tumor</text>
<rect x="101.0" y="163.1" width="61.8" height="62.4" fill="#ebebeb"/>
<line x1="104.0" y1="163.1" x2="104.0" y2="225.5" stroke="#f6f6f6" stroke-width="0.5"/>
<line x1="115.2" y1="163.1" x2="115.2" y2="225.5" stroke="#f6f6f6" stroke-width="0.5"/>
<line x1="126.3" y1="163.1" x2="126.3" y2="225.5" stroke="#f6f6f6" stroke-width="0.5"/>
<line x1="137.5" y1="163.1" x2="137.5" y2="225.5" stroke="#f6f6f6" stroke-width="0.5"/>
<line x1="148.6" y1="163.1" x2="148.6" y2="225.5" stroke="#f6f6f6" stroke-width="0.5"/>
<line x1="159.8" y1="163.1" x2="159.8" y2="225.5" stroke="#f6f6f6" stroke-width="0.5"/>
<line x1="101.0" y1="222.5" x2="162.8" y2="222.5" stroke="#f6f6f6" stroke-width="0.5"/>
<line x1="101.0" y1="205.4" x2="162.8" y2="205.4" stroke="#f6f6f6" stroke-width="0.5"/>
<line x1="101.0" y1="188.3" x2="162.8" y2="188.3" stroke="#f6f6f6" stroke-width="0.5"/>
<line x1="101.0" y1="171.2" x2="162.8" y2="171.2" stroke="#f6f6f6" stroke-width="0.5"/>
<line x1="104.0" y1="225.5" x2="104.0" y2="226.5" stroke="#999" stroke-width="0.5"/>
<line x1="115.2" y1="225.5" x2="115.2" y2="226.5" stroke="#999" stroke-width="0.5"/>
<line x1="126.3" y1="225.5" x2="126.3" y2="226.5" stroke="#999" stroke-width="0.5"/>
<line x1="137.5" y1="225.5" x2="137.5" y2="226.5" stroke="#999" stroke-width="0.5"/>
<line x1="148.6" y1="225.5" x2="148.6" y2="226.5" stroke="#999" stroke-width="0.5"/>
<line x1="159.8" y1="225.5" x2="159.8" y2="226.5" stroke="#999" stroke-width="0.5"/>
<line x1="100.0" y1="222.5" x2="101.0" y2="222.5" stroke="#999" stroke-width="0.5"/>
<line x1="100.0" y1="205.4" x2="101.0" y2="205.4" stroke="#999" stroke-width="0.5"/>
<line x1="100.0" y1="188.3" x2="101.0" y2="188.3" stroke="#999" stroke-width="0.5"/>
<line x1="100.0" y1="171.2" x2="101.0" y2="171.2" stroke="#999" stroke-width="0.5"/>
<circle cx="103.6" cy="166.4" r="0.55" fill="#444"/>
<circle cx="104.7" cy="180.5" r="0.55" fill="#444"/>
<circle cx="103.9" cy="206.8" r="0.55" fill="#444"/>
<circle cx="104.3" cy="207.8" r="0.55" fill="#444"/>
<circle cx="126.6" cy="207.5" r="0.55" fill="#444"/>
<circle cx="131.2" cy="212.8" r="0.55" fill="#444"/>
<circle cx="118.8" cy="216.4" r="0.55" fill="#444"/>
<circle cx="110.5" cy="220.3" r="0.55" fill="#444"/>
<circle cx="108.2" cy="222.0" r="0.55" fill="#444"/>
<circle cx="105.6" cy="222.3" r="0.55" fill="#444"/>
<circle cx="128.6" cy="222.3" r="0.55" fill="#444"/>
<line x1="103.9" y1="204.5" x2="131.0" y2="218.6" stroke="#3d6cf0" stroke-width="0.9"/>
<text x="130.7" y="169.7" font-size="5.2" font-weight="bold" fill="#3d6cf0" stroke="#3d6cf0" stroke-width="0.18">rho = -0.486</text>
<text x="130.7" y="175.9" font-size="5.6" font-weight="bold" fill="#3d6cf0" stroke="#3d6cf0" stroke-width="0.19">p = 0.078</text>
<text x="92.3" y="194.0" font-size="4.3" font-weight="bold" fill="#1a1a1a" text-anchor="middle" textLength="54.0" lengthAdjust="spacingAndGlyphs" transform="rotate(-90 92.3 194.0)" stroke="#1a1a1a" stroke-width="0.15">Mean expression of CD40 in</text>
<text x="97.9" y="194.0" font-size="4.3" font-weight="bold" fill="#1a1a1a" text-anchor="middle" textLength="50.0" lengthAdjust="spacingAndGlyphs" transform="rotate(-90 97.9 194.0)" stroke="#1a1a1a" stroke-width="0.15">malignant cells in the tumor</text>
<text x="130.6" y="231.1" font-size="4.6" font-weight="bold" fill="#222" text-anchor="middle" textLength="66.4" lengthAdjust="spacingAndGlyphs" stroke="#222" stroke-width="0.16">The proportion of CD11b⁺PDL1⁺</text>
<text x="130.6" y="236.7" font-size="4.6" font-weight="bold" fill="#222" text-anchor="middle" textLength="41.0" lengthAdjust="spacingAndGlyphs" stroke="#222" stroke-width="0.16">B cells in the tumor</text>
<rect x="19.7" y="243.1" width="65.0" height="61.4" fill="#ebebeb"/>
<line x1="22.7" y1="243.1" x2="22.7" y2="304.5" stroke="#f6f6f6" stroke-width="0.5"/>
<line x1="34.5" y1="243.1" x2="34.5" y2="304.5" stroke="#f6f6f6" stroke-width="0.5"/>
<line x1="46.3" y1="243.1" x2="46.3" y2="304.5" stroke="#f6f6f6" stroke-width="0.5"/>
<line x1="58.1" y1="243.1" x2="58.1" y2="304.5" stroke="#f6f6f6" stroke-width="0.5"/>
<line x1="69.9" y1="243.1" x2="69.9" y2="304.5" stroke="#f6f6f6" stroke-width="0.5"/>
<line x1="81.7" y1="243.1" x2="81.7" y2="304.5" stroke="#f6f6f6" stroke-width="0.5"/>
<line x1="19.7" y1="301.5" x2="84.7" y2="301.5" stroke="#f6f6f6" stroke-width="0.5"/>
<line x1="19.7" y1="284.7" x2="84.7" y2="284.7" stroke="#f6f6f6" stroke-width="0.5"/>
<line x1="19.7" y1="267.9" x2="84.7" y2="267.9" stroke="#f6f6f6" stroke-width="0.5"/>
<line x1="19.7" y1="251.1" x2="84.7" y2="251.1" stroke="#f6f6f6" stroke-width="0.5"/>
<line x1="22.7" y1="304.5" x2="22.7" y2="305.5" stroke="#999" stroke-width="0.5"/>
<line x1="34.5" y1="304.5" x2="34.5" y2="305.5" stroke="#999" stroke-width="0.5"/>
<line x1="46.3" y1="304.5" x2="46.3" y2="305.5" stroke="#999" stroke-width="0.5"/>
<line x1="58.1" y1="304.5" x2="58.1" y2="305.5" stroke="#999" stroke-width="0.5"/>
<line x1="69.9" y1="304.5" x2="69.9" y2="305.5" stroke="#999" stroke-width="0.5"/>
<line x1="81.7" y1="304.5" x2="81.7" y2="305.5" stroke="#999" stroke-width="0.5"/>
<line x1="18.7" y1="301.5" x2="19.7" y2="301.5" stroke="#999" stroke-width="0.5"/>
<line x1="18.7" y1="284.7" x2="19.7" y2="284.7" stroke="#999" stroke-width="0.5"/>
<line x1="18.7" y1="267.9" x2="19.7" y2="267.9" stroke="#999" stroke-width="0.5"/>
<line x1="18.7" y1="251.1" x2="19.7" y2="251.1" stroke="#999" stroke-width="0.5"/>
<circle cx="23.4" cy="245.8" r="0.55" fill="#444"/>
<circle cx="32.2" cy="255.5" r="0.55" fill="#444"/>
<circle cx="27.3" cy="257.2" r="0.55" fill="#444"/>
<circle cx="25.2" cy="260.5" r="0.55" fill="#444"/>
<circle cx="23.6" cy="265.1" r="0.55" fill="#444"/>
<circle cx="23.4" cy="268.4" r="0.55" fill="#444"/>
<circle cx="25.6" cy="271.2" r="0.55" fill="#444"/>
<circle cx="27.3" cy="271.6" r="0.55" fill="#444"/>
<circle cx="51.2" cy="270.3" r="0.55" fill="#444"/>
<circle cx="48.4" cy="274.7" r="0.55" fill="#444"/>
<circle cx="35.2" cy="279.1" r="0.55" fill="#444"/>
<circle cx="52.3" cy="281.2" r="0.55" fill="#444"/>
<circle cx="34.4" cy="284.4" r="0.55" fill="#444"/>
<circle cx="47.3" cy="284.8" r="0.55" fill="#444"/>
<circle cx="50.6" cy="287.4" r="0.55" fill="#444"/>
<circle cx="25.2" cy="289.4" r="0.55" fill="#444"/>
<circle cx="23.4" cy="291.4" r="0.55" fill="#444"/>
<circle cx="30.5" cy="288.3" r="0.55" fill="#444"/>
<circle cx="30.5" cy="293.3" r="0.55" fill="#444"/>
<circle cx="39.4" cy="292.0" r="0.55" fill="#444"/>
<circle cx="44.4" cy="291.4" r="0.55" fill="#444"/>
<circle cx="56.2" cy="293.3" r="0.55" fill="#444"/>
<circle cx="68.3" cy="297.0" r="0.55" fill="#444"/>
<circle cx="74.9" cy="294.0" r="0.55" fill="#444"/>
<circle cx="82.5" cy="291.4" r="0.55" fill="#444"/>
<circle cx="27.3" cy="294.4" r="0.55" fill="#444"/>
<circle cx="23.6" cy="297.5" r="0.55" fill="#444"/>
<circle cx="25.6" cy="295.9" r="0.55" fill="#444"/>
<circle cx="49.7" cy="299.2" r="0.55" fill="#444"/>
<circle cx="24.3" cy="302.5" r="0.55" fill="#444"/>
<line x1="23.0" y1="278.2" x2="82.5" y2="294.6" stroke="#3d6cf0" stroke-width="0.9"/>
<text x="53.3" y="249.0" font-size="5.32" font-weight="bold" fill="#3d6cf0" stroke="#3d6cf0" stroke-width="0.18">rho = -0.256</text>
<text x="53.3" y="255.2" font-size="5.6" font-weight="bold" fill="#3d6cf0" stroke="#3d6cf0" stroke-width="0.19">p = 0.158</text>
<text x="11.4" y="273.8" font-size="4.3" font-weight="bold" fill="#1a1a1a" text-anchor="middle" textLength="52.5" lengthAdjust="spacingAndGlyphs" transform="rotate(-90 11.4 273.8)" stroke="#1a1a1a" stroke-width="0.15">Mean expression of CD8A</text>
<text x="17.3" y="273.8" font-size="4.3" font-weight="bold" fill="#1a1a1a" text-anchor="middle" textLength="47.3" lengthAdjust="spacingAndGlyphs" transform="rotate(-90 17.3 273.8)" stroke="#1a1a1a" stroke-width="0.15">in all cells in the tumor</text>
<text x="51.0" y="310.7" font-size="4.6" font-weight="bold" fill="#222" text-anchor="middle" textLength="66.4" lengthAdjust="spacingAndGlyphs" stroke="#222" stroke-width="0.16">The proportion of CD11b⁺PDL1⁺</text>
<text x="51.0" y="316.0" font-size="4.6" font-weight="bold" fill="#222" text-anchor="middle" textLength="41.0" lengthAdjust="spacingAndGlyphs" stroke="#222" stroke-width="0.16">B cells in the tumor</text>
<rect x="101.0" y="244.0" width="62.8" height="61.8" fill="#ebebeb"/>
<line x1="104.0" y1="244.0" x2="104.0" y2="305.8" stroke="#f6f6f6" stroke-width="0.5"/>
<line x1="115.4" y1="244.0" x2="115.4" y2="305.8" stroke="#f6f6f6" stroke-width="0.5"/>
<line x1="126.7" y1="244.0" x2="126.7" y2="305.8" stroke="#f6f6f6" stroke-width="0.5"/>
<line x1="138.1" y1="244.0" x2="138.1" y2="305.8" stroke="#f6f6f6" stroke-width="0.5"/>
<line x1="149.4" y1="244.0" x2="149.4" y2="305.8" stroke="#f6f6f6" stroke-width="0.5"/>
<line x1="160.8" y1="244.0" x2="160.8" y2="305.8" stroke="#f6f6f6" stroke-width="0.5"/>
<line x1="101.0" y1="302.8" x2="163.8" y2="302.8" stroke="#f6f6f6" stroke-width="0.5"/>
<line x1="101.0" y1="285.9" x2="163.8" y2="285.9" stroke="#f6f6f6" stroke-width="0.5"/>
<line x1="101.0" y1="269.0" x2="163.8" y2="269.0" stroke="#f6f6f6" stroke-width="0.5"/>
<line x1="101.0" y1="252.1" x2="163.8" y2="252.1" stroke="#f6f6f6" stroke-width="0.5"/>
<line x1="104.0" y1="305.8" x2="104.0" y2="306.8" stroke="#999" stroke-width="0.5"/>
<line x1="115.4" y1="305.8" x2="115.4" y2="306.8" stroke="#999" stroke-width="0.5"/>
<line x1="126.7" y1="305.8" x2="126.7" y2="306.8" stroke="#999" stroke-width="0.5"/>
<line x1="138.1" y1="305.8" x2="138.1" y2="306.8" stroke="#999" stroke-width="0.5"/>
<line x1="149.4" y1="305.8" x2="149.4" y2="306.8" stroke="#999" stroke-width="0.5"/>
<line x1="160.8" y1="305.8" x2="160.8" y2="306.8" stroke="#999" stroke-width="0.5"/>
<line x1="100.0" y1="302.8" x2="101.0" y2="302.8" stroke="#999" stroke-width="0.5"/>
<line x1="100.0" y1="285.9" x2="101.0" y2="285.9" stroke="#999" stroke-width="0.5"/>
<line x1="100.0" y1="269.0" x2="101.0" y2="269.0" stroke="#999" stroke-width="0.5"/>
<line x1="100.0" y1="252.1" x2="101.0" y2="252.1" stroke="#999" stroke-width="0.5"/>
<circle cx="112.2" cy="246.3" r="0.55" fill="#444"/>
<circle cx="103.6" cy="256.3" r="0.55" fill="#444"/>
<circle cx="107.3" cy="258.5" r="0.55" fill="#444"/>
<circle cx="105.6" cy="260.5" r="0.55" fill="#444"/>
<circle cx="103.6" cy="275.6" r="0.55" fill="#444"/>
<circle cx="105.2" cy="274.3" r="0.55" fill="#444"/>
<circle cx="107.6" cy="278.6" r="0.55" fill="#444"/>
<circle cx="130.6" cy="277.8" r="0.55" fill="#444"/>
<circle cx="160.4" cy="283.5" r="0.55" fill="#444"/>
<circle cx="103.6" cy="286.5" r="0.55" fill="#444"/>
<circle cx="108.2" cy="289.4" r="0.55" fill="#444"/>
<circle cx="114.8" cy="290.4" r="0.55" fill="#444"/>
<circle cx="119.4" cy="289.1" r="0.55" fill="#444"/>
<circle cx="127.3" cy="287.8" r="0.55" fill="#444"/>
<circle cx="131.2" cy="287.8" r="0.55" fill="#444"/>
<circle cx="103.6" cy="290.4" r="0.55" fill="#444"/>
<circle cx="105.6" cy="295.9" r="0.55" fill="#444"/>
<circle cx="110.5" cy="295.3" r="0.55" fill="#444"/>
<circle cx="115.5" cy="297.3" r="0.55" fill="#444"/>
<circle cx="124.7" cy="294.0" r="0.55" fill="#444"/>
<circle cx="127.3" cy="293.3" r="0.55" fill="#444"/>
<circle cx="129.7" cy="300.5" r="0.55" fill="#444"/>
<circle cx="135.2" cy="300.9" r="0.55" fill="#444"/>
<circle cx="147.3" cy="298.8" r="0.55" fill="#444"/>
<circle cx="153.6" cy="300.5" r="0.55" fill="#444"/>
<circle cx="155.9" cy="301.5" r="0.55" fill="#444"/>
<circle cx="104.3" cy="302.5" r="0.55" fill="#444"/>
<circle cx="105.6" cy="301.5" r="0.55" fill="#444"/>
<line x1="103.9" y1="282.2" x2="160.4" y2="298.8" stroke="#3d6cf0" stroke-width="0.9"/>
<text x="130.9" y="249.6" font-size="5.29" font-weight="bold" fill="#3d6cf0" stroke="#3d6cf0" stroke-width="0.18">rho = -0.314</text>
<text x="130.9" y="255.9" font-size="5.6" font-weight="bold" fill="#3d6cf0" stroke="#3d6cf0" stroke-width="0.19">p = 0.08</text>
<text x="92.3" y="275.0" font-size="4.3" font-weight="bold" fill="#1a1a1a" text-anchor="middle" textLength="52.5" lengthAdjust="spacingAndGlyphs" transform="rotate(-90 92.3 275.0)" stroke="#1a1a1a" stroke-width="0.15">Mean expression of IFNG</text>
<text x="97.9" y="275.0" font-size="4.3" font-weight="bold" fill="#1a1a1a" text-anchor="middle" textLength="47.3" lengthAdjust="spacingAndGlyphs" transform="rotate(-90 97.9 275.0)" stroke="#1a1a1a" stroke-width="0.15">in all cells in the tumor</text>
<text x="131.0" y="311.1" font-size="4.6" font-weight="bold" fill="#222" text-anchor="middle" textLength="66.4" lengthAdjust="spacingAndGlyphs" stroke="#222" stroke-width="0.16">The proportion of CD11b⁺PDL1⁺</text>
<text x="131.0" y="316.4" font-size="4.6" font-weight="bold" fill="#222" text-anchor="middle" textLength="41.0" lengthAdjust="spacingAndGlyphs" stroke="#222" stroke-width="0.16">B cells in the tumor</text>
<text x="0.0" y="158.3" font-size="11.2" font-weight="bold" fill="#111" textLength="14.0" lengthAdjust="spacingAndGlyphs" stroke="#111" stroke-width="0.26">(B)</text>
<rect x="411.4" y="164.0" width="63.1" height="61.7" fill="#ebebeb"/>
<line x1="414.4" y1="164.0" x2="414.4" y2="225.7" stroke="#f6f6f6" stroke-width="0.5"/>
<line x1="425.8" y1="164.0" x2="425.8" y2="225.7" stroke="#f6f6f6" stroke-width="0.5"/>
<line x1="437.2" y1="164.0" x2="437.2" y2="225.7" stroke="#f6f6f6" stroke-width="0.5"/>
<line x1="448.7" y1="164.0" x2="448.7" y2="225.7" stroke="#f6f6f6" stroke-width="0.5"/>
<line x1="460.1" y1="164.0" x2="460.1" y2="225.7" stroke="#f6f6f6" stroke-width="0.5"/>
<line x1="471.5" y1="164.0" x2="471.5" y2="225.7" stroke="#f6f6f6" stroke-width="0.5"/>
<line x1="411.4" y1="222.7" x2="474.5" y2="222.7" stroke="#f6f6f6" stroke-width="0.5"/>
<line x1="411.4" y1="205.8" x2="474.5" y2="205.8" stroke="#f6f6f6" stroke-width="0.5"/>
<line x1="411.4" y1="188.9" x2="474.5" y2="188.9" stroke="#f6f6f6" stroke-width="0.5"/>
<line x1="411.4" y1="172.1" x2="474.5" y2="172.1" stroke="#f6f6f6" stroke-width="0.5"/>
<line x1="414.4" y1="225.7" x2="414.4" y2="226.7" stroke="#999" stroke-width="0.5"/>
<line x1="425.8" y1="225.7" x2="425.8" y2="226.7" stroke="#999" stroke-width="0.5"/>
<line x1="437.2" y1="225.7" x2="437.2" y2="226.7" stroke="#999" stroke-width="0.5"/>
<line x1="448.7" y1="225.7" x2="448.7" y2="226.7" stroke="#999" stroke-width="0.5"/>
<line x1="460.1" y1="225.7" x2="460.1" y2="226.7" stroke="#999" stroke-width="0.5"/>
<line x1="471.5" y1="225.7" x2="471.5" y2="226.7" stroke="#999" stroke-width="0.5"/>
<line x1="410.4" y1="222.7" x2="411.4" y2="222.7" stroke="#999" stroke-width="0.5"/>
<line x1="410.4" y1="205.8" x2="411.4" y2="205.8" stroke="#999" stroke-width="0.5"/>
<line x1="410.4" y1="188.9" x2="411.4" y2="188.9" stroke="#999" stroke-width="0.5"/>
<line x1="410.4" y1="172.1" x2="411.4" y2="172.1" stroke="#999" stroke-width="0.5"/>
<circle cx="414.7" cy="166.6" r="0.55" fill="#444"/>
<circle cx="470.2" cy="186.3" r="0.55" fill="#444"/>
<circle cx="471.9" cy="195.2" r="0.55" fill="#444"/>
<circle cx="458.7" cy="198.4" r="0.55" fill="#444"/>
<circle cx="458.3" cy="200.5" r="0.55" fill="#444"/>
<circle cx="456.5" cy="205.3" r="0.55" fill="#444"/>
<circle cx="455.4" cy="208.4" r="0.55" fill="#444"/>
<circle cx="416.7" cy="206.0" r="0.55" fill="#444"/>
<circle cx="418.4" cy="207.6" r="0.55" fill="#444"/>
<circle cx="414.7" cy="207.3" r="0.55" fill="#444"/>
<circle cx="416.0" cy="215.8" r="0.55" fill="#444"/>
<circle cx="414.7" cy="217.8" r="0.55" fill="#444"/>
<circle cx="415.4" cy="219.8" r="0.55" fill="#444"/>
<circle cx="416.0" cy="221.1" r="0.55" fill="#444"/>
<circle cx="414.7" cy="221.8" r="0.55" fill="#444"/>
<circle cx="417.6" cy="222.8" r="0.55" fill="#444"/>
<circle cx="420.6" cy="219.1" r="0.55" fill="#444"/>
<circle cx="423.2" cy="219.8" r="0.55" fill="#444"/>
<circle cx="427.2" cy="216.5" r="0.55" fill="#444"/>
<circle cx="428.9" cy="216.5" r="0.55" fill="#444"/>
<circle cx="434.4" cy="216.8" r="0.55" fill="#444"/>
<circle cx="420.0" cy="219.8" r="0.55" fill="#444"/>
<circle cx="414.7" cy="222.8" r="0.55" fill="#444"/>
<line x1="414.7" y1="217.8" x2="471.9" y2="195.2" stroke="#3d6cf0" stroke-width="0.9"/>
<text x="444.0" y="170.9" font-size="5.23" font-weight="bold" fill="#3d6cf0" stroke="#3d6cf0" stroke-width="0.18">rho = 0.557</text>
<text x="444.0" y="177.5" font-size="5.6" font-weight="bold" fill="#3d6cf0" stroke="#3d6cf0" stroke-width="0.19">p = 0.000</text>
<text x="403.3" y="195.5" font-size="4.3" font-weight="bold" fill="#1a1a1a" text-anchor="middle" textLength="52.5" lengthAdjust="spacingAndGlyphs" transform="rotate(-90 403.3 195.5)" stroke="#1a1a1a" stroke-width="0.15">Mean expression of CD40</text>
<text x="408.1" y="195.5" font-size="4.3" font-weight="bold" fill="#1a1a1a" text-anchor="middle" textLength="47.3" lengthAdjust="spacingAndGlyphs" transform="rotate(-90 408.1 195.5)" stroke="#1a1a1a" stroke-width="0.15">in all cells in the tumor</text>
<text x="442.5" y="232.3" font-size="4.6" font-weight="bold" fill="#222" text-anchor="middle" textLength="66.4" lengthAdjust="spacingAndGlyphs" stroke="#222" stroke-width="0.16">The proportion of CD11b⁺PDL1⁺</text>
<text x="442.5" y="237.6" font-size="4.6" font-weight="bold" fill="#222" text-anchor="middle" textLength="41.0" lengthAdjust="spacingAndGlyphs" stroke="#222" stroke-width="0.16">B cells in the tumor</text>
<rect x="411.4" y="243.1" width="62.4" height="62.2" fill="#ebebeb"/>
<line x1="414.4" y1="243.1" x2="414.4" y2="305.3" stroke="#f6f6f6" stroke-width="0.5"/>
<line x1="425.7" y1="243.1" x2="425.7" y2="305.3" stroke="#f6f6f6" stroke-width="0.5"/>
<line x1="437.0" y1="243.1" x2="437.0" y2="305.3" stroke="#f6f6f6" stroke-width="0.5"/>
<line x1="448.2" y1="243.1" x2="448.2" y2="305.3" stroke="#f6f6f6" stroke-width="0.5"/>
<line x1="459.5" y1="243.1" x2="459.5" y2="305.3" stroke="#f6f6f6" stroke-width="0.5"/>
<line x1="470.8" y1="243.1" x2="470.8" y2="305.3" stroke="#f6f6f6" stroke-width="0.5"/>
<line x1="411.4" y1="302.3" x2="473.8" y2="302.3" stroke="#f6f6f6" stroke-width="0.5"/>
<line x1="411.4" y1="285.3" x2="473.8" y2="285.3" stroke="#f6f6f6" stroke-width="0.5"/>
<line x1="411.4" y1="268.2" x2="473.8" y2="268.2" stroke="#f6f6f6" stroke-width="0.5"/>
<line x1="411.4" y1="251.2" x2="473.8" y2="251.2" stroke="#f6f6f6" stroke-width="0.5"/>
<line x1="414.4" y1="305.3" x2="414.4" y2="306.3" stroke="#999" stroke-width="0.5"/>
<line x1="425.7" y1="305.3" x2="425.7" y2="306.3" stroke="#999" stroke-width="0.5"/>
<line x1="437.0" y1="305.3" x2="437.0" y2="306.3" stroke="#999" stroke-width="0.5"/>
<line x1="448.2" y1="305.3" x2="448.2" y2="306.3" stroke="#999" stroke-width="0.5"/>
<line x1="459.5" y1="305.3" x2="459.5" y2="306.3" stroke="#999" stroke-width="0.5"/>
<line x1="470.8" y1="305.3" x2="470.8" y2="306.3" stroke="#999" stroke-width="0.5"/>
<line x1="410.4" y1="302.3" x2="411.4" y2="302.3" stroke="#999" stroke-width="0.5"/>
<line x1="410.4" y1="285.3" x2="411.4" y2="285.3" stroke="#999" stroke-width="0.5"/>
<line x1="410.4" y1="268.2" x2="411.4" y2="268.2" stroke="#999" stroke-width="0.5"/>
<line x1="410.4" y1="251.2" x2="411.4" y2="251.2" stroke="#999" stroke-width="0.5"/>
<circle cx="414.7" cy="246.2" r="0.55" fill="#444"/>
<circle cx="416.7" cy="249.5" r="0.55" fill="#444"/>
<circle cx="415.0" cy="251.4" r="0.55" fill="#444"/>
<circle cx="422.6" cy="254.1" r="0.55" fill="#444"/>
<circle cx="415.4" cy="255.0" r="0.55" fill="#444"/>
<circle cx="414.7" cy="258.9" r="0.55" fill="#444"/>
<circle cx="415.0" cy="261.3" r="0.55" fill="#444"/>
<circle cx="421.0" cy="265.9" r="0.55" fill="#444"/>
<circle cx="415.4" cy="267.2" r="0.55" fill="#444"/>
<circle cx="414.4" cy="269.4" r="0.55" fill="#444"/>
<circle cx="427.8" cy="270.2" r="0.55" fill="#444"/>
<circle cx="418.4" cy="272.4" r="0.55" fill="#444"/>
<circle cx="415.0" cy="275.1" r="0.55" fill="#444"/>
<circle cx="427.6" cy="274.7" r="0.55" fill="#444"/>
<circle cx="455.2" cy="275.1" r="0.55" fill="#444"/>
<circle cx="417.1" cy="280.3" r="0.55" fill="#444"/>
<circle cx="419.7" cy="280.3" r="0.55" fill="#444"/>
<circle cx="420.0" cy="282.3" r="0.55" fill="#444"/>
<circle cx="416.0" cy="283.6" r="0.55" fill="#444"/>
<circle cx="423.6" cy="283.4" r="0.55" fill="#444"/>
<circle cx="426.5" cy="285.2" r="0.55" fill="#444"/>
<circle cx="434.4" cy="285.2" r="0.55" fill="#444"/>
<circle cx="458.7" cy="284.3" r="0.55" fill="#444"/>
<circle cx="458.7" cy="291.5" r="0.55" fill="#444"/>
<circle cx="470.5" cy="296.1" r="0.55" fill="#444"/>
<circle cx="417.1" cy="295.2" r="0.55" fill="#444"/>
<circle cx="421.9" cy="299.4" r="0.55" fill="#444"/>
<circle cx="414.4" cy="302.3" r="0.55" fill="#444"/>
<circle cx="416.0" cy="286.9" r="0.55" fill="#444"/>
<line x1="414.4" y1="267.8" x2="471.6" y2="296.5" stroke="#3d6cf0" stroke-width="0.9"/>
<text x="441.3" y="249.1" font-size="5.35" font-weight="bold" fill="#3d6cf0" stroke="#3d6cf0" stroke-width="0.18">rho = -0.555</text>
<text x="441.3" y="255.1" font-size="5.6" font-weight="bold" fill="#3d6cf0" stroke="#3d6cf0" stroke-width="0.19">p = 0.000</text>
<text x="403.3" y="274.0" font-size="4.3" font-weight="bold" fill="#1a1a1a" text-anchor="middle" textLength="52.5" lengthAdjust="spacingAndGlyphs" transform="rotate(-90 403.3 274.0)" stroke="#1a1a1a" stroke-width="0.15">Mean expression of CD8A</text>
<text x="408.1" y="274.0" font-size="4.3" font-weight="bold" fill="#1a1a1a" text-anchor="middle" textLength="47.3" lengthAdjust="spacingAndGlyphs" transform="rotate(-90 408.1 274.0)" stroke="#1a1a1a" stroke-width="0.15">in all cells in the tumor</text>
<text x="442.5" y="311.5" font-size="4.6" font-weight="bold" fill="#222" text-anchor="middle" textLength="66.4" lengthAdjust="spacingAndGlyphs" stroke="#222" stroke-width="0.16">The proportion of CD11b⁺PDL1⁺</text>
<text x="442.5" y="316.5" font-size="4.6" font-weight="bold" fill="#222" text-anchor="middle" textLength="41.0" lengthAdjust="spacingAndGlyphs" stroke="#222" stroke-width="0.16">B cells in the tumor</text>
<text x="386.6" y="158.1" font-size="11.2" font-weight="bold" fill="#111" textLength="14.0" lengthAdjust="spacingAndGlyphs" stroke="#111" stroke-width="0.26">(D)</text>
<text x="489.0" y="158.1" font-size="11.2" font-weight="bold" fill="#111" textLength="13.2" lengthAdjust="spacingAndGlyphs" stroke="#111" stroke-width="0.26">(E)</text>
<text x="168.9" y="158.1" font-size="11.2" font-weight="bold" fill="#111" textLength="13.6" lengthAdjust="spacingAndGlyphs" stroke="#111" stroke-width="0.26">(C)</text>
<path d="M259.0,172.4 C259.0,175.9 245.5,175.9 245.5,179.4" fill="none" stroke="#dcb94e" stroke-width="0.5"/>
<path d="M259.0,172.4 C259.0,179.2 222.8,179.2 222.8,186.1" fill="none" stroke="#dcb94e" stroke-width="0.5"/>
<path d="M259.0,172.4 C259.0,182.6 203.8,182.6 203.8,192.8" fill="none" stroke="#dcb94e" stroke-width="0.5"/>
<path d="M259.0,172.4 C259.0,179.4 240.5,179.4 240.5,186.5" fill="none" stroke="#dcb94e" stroke-width="0.5"/>
<path d="M259.0,172.4 C259.0,188.1 290.2,188.1 290.2,203.7" fill="none" stroke="#dcb94e" stroke-width="0.5"/>
<path d="M245.5,179.4 C245.5,182.9 240.5,182.9 240.5,186.5" fill="none" stroke="#dcb94e" stroke-width="0.5"/>
<path d="M245.5,179.4 C245.5,182.8 249.7,182.8 249.7,186.1" fill="none" stroke="#dcb94e" stroke-width="0.5"/>
<path d="M245.5,179.4 C245.5,186.1 260.4,186.1 260.4,192.8" fill="none" stroke="#dcb94e" stroke-width="0.5"/>
<path d="M222.8,186.1 C222.8,189.4 203.8,189.4 203.8,192.8" fill="none" stroke="#dcb94e" stroke-width="0.5"/>
<path d="M222.8,186.1 C222.8,189.4 226.3,189.4 226.3,192.8" fill="none" stroke="#dcb94e" stroke-width="0.5"/>
<path d="M240.5,186.5 C240.5,189.7 232.4,189.7 232.4,192.8" fill="none" stroke="#dcb94e" stroke-width="0.5"/>
<path d="M240.5,186.5 C240.5,189.7 238.2,189.7 238.2,192.8" fill="none" stroke="#dcb94e" stroke-width="0.5"/>
<path d="M249.7,186.1 C249.7,189.4 260.4,189.4 260.4,192.8" fill="none" stroke="#dcb94e" stroke-width="0.5"/>
<path d="M238.2,192.8 C238.2,198.1 253.2,198.1 253.2,203.3" fill="none" stroke="#dcb94e" stroke-width="0.5"/>
<path d="M260.4,192.8 C260.4,198.1 253.2,198.1 253.2,203.3" fill="none" stroke="#dcb94e" stroke-width="0.5"/>
<path d="M260.4,192.8 C260.4,198.1 261.8,198.1 261.8,203.3" fill="none" stroke="#dcb94e" stroke-width="0.5"/>
<path d="M226.3,192.8 C226.3,197.9 227.9,197.9 227.9,203.0" fill="none" stroke="#dcb94e" stroke-width="0.5"/>
<path d="M232.4,192.8 C232.4,203.4 240.8,203.4 240.8,214.1" fill="none" stroke="#dcb94e" stroke-width="0.5"/>
<path d="M253.2,203.3 C253.2,208.7 240.8,208.7 240.8,214.1" fill="none" stroke="#dcb94e" stroke-width="0.5"/>
<path d="M261.8,203.3 C261.8,208.7 255.7,208.7 255.7,214.1" fill="none" stroke="#dcb94e" stroke-width="0.5"/>
<path d="M281.4,192.6 C281.4,198.1 281.4,198.1 281.4,203.7" fill="none" stroke="#dcb94e" stroke-width="0.5"/>
<path d="M301.5,192.6 C301.5,198.1 290.2,198.1 290.2,203.7" fill="none" stroke="#dcb94e" stroke-width="0.5"/>
<path d="M301.5,192.6 C301.5,198.1 313.0,198.1 313.0,203.7" fill="none" stroke="#dcb94e" stroke-width="0.5"/>
<path d="M315.6,192.6 C315.6,198.1 313.0,198.1 313.0,203.7" fill="none" stroke="#dcb94e" stroke-width="0.5"/>
<path d="M315.6,192.6 C315.6,198.1 321.7,198.1 321.7,203.7" fill="none" stroke="#dcb94e" stroke-width="0.5"/>
<path d="M324.3,192.6 C324.3,198.1 330.4,198.1 330.4,203.7" fill="none" stroke="#dcb94e" stroke-width="0.5"/>
<path d="M339.2,192.6 C339.2,198.1 338.3,198.1 338.3,203.7" fill="none" stroke="#dcb94e" stroke-width="0.5"/>
<path d="M281.4,203.7 C281.4,208.9 281.4,208.9 281.4,214.2" fill="none" stroke="#dcb94e" stroke-width="0.5"/>
<path d="M290.2,203.7 C290.2,208.9 281.4,208.9 281.4,214.2" fill="none" stroke="#dcb94e" stroke-width="0.5"/>
<path d="M313.0,203.7 C313.0,208.9 304.2,208.9 304.2,214.2" fill="none" stroke="#dcb94e" stroke-width="0.5"/>
<path d="M321.7,203.7 C321.7,208.9 304.2,208.9 304.2,214.2" fill="none" stroke="#dcb94e" stroke-width="0.5"/>
<path d="M330.4,203.7 C330.4,208.9 332.2,208.9 332.2,214.2" fill="none" stroke="#dcb94e" stroke-width="0.5"/>
<path d="M338.3,203.7 C338.3,208.9 332.2,208.9 332.2,214.2" fill="none" stroke="#dcb94e" stroke-width="0.5"/>
<path d="M329.6,179.2 C329.6,182.9 329.6,182.9 329.6,186.7" fill="none" stroke="#dcb94e" stroke-width="0.5"/>
<path d="M329.6,179.2 C329.6,182.9 336.2,182.9 336.2,186.7" fill="none" stroke="#dcb94e" stroke-width="0.5"/>
<path d="M329.6,186.7 C329.6,189.6 324.3,189.6 324.3,192.6" fill="none" stroke="#dcb94e" stroke-width="0.5"/>
<path d="M336.2,186.7 C336.2,189.6 339.2,189.6 339.2,192.6" fill="none" stroke="#dcb94e" stroke-width="0.5"/>
<path d="M336.2,186.7 C336.2,189.6 348.5,189.6 348.5,192.6" fill="none" stroke="#dcb94e" stroke-width="0.5"/>
<path d="M329.6,179.2 C329.6,185.9 315.6,185.9 315.6,192.6" fill="none" stroke="#dcb94e" stroke-width="0.5"/>
<path d="M249.7,186.1 C249.7,189.3 281.4,189.3 281.4,192.6" fill="none" stroke="#dcb94e" stroke-width="0.5"/>
<path d="M240.5,186.5 C240.5,189.6 301.5,189.6 301.5,192.6" fill="none" stroke="#dcb94e" stroke-width="0.5"/>
<path d="M227.9,203.0 C227.9,208.6 240.8,208.6 240.8,214.1" fill="none" stroke="#dcb94e" stroke-width="0.5"/>
<path d="M259.0,172.4 C287.2,170.4 301.4,177.2 329.6,179.2" fill="none" stroke="#dcb94e" stroke-width="0.5"/>
<path d="M259.0,172.4 C287.2,174.4 301.4,181.2 329.6,179.2" fill="none" stroke="#dcb94e" stroke-width="0.5"/>
<path d="M222.8,186.1 C265.5,186.1 286.9,186.7 329.6,186.7" fill="none" stroke="#dcb94e" stroke-width="0.5"/>
<path d="M240.5,186.5 C278.8,186.5 297.9,186.7 336.2,186.7" fill="none" stroke="#dcb94e" stroke-width="0.5"/>
<path d="M249.7,186.1 C285.5,185.1 303.4,191.6 339.2,192.6" fill="none" stroke="#dcb94e" stroke-width="0.5"/>
<path d="M240.5,186.5 C283.7,186.5 305.3,192.6 348.5,192.6" fill="none" stroke="#dcb94e" stroke-width="0.5"/>
<path d="M222.8,186.1 C273.1,184.1 298.2,190.6 348.5,192.6" fill="none" stroke="#dcb94e" stroke-width="0.5"/>
<path d="M249.7,186.1 C281.7,187.1 297.6,187.7 329.6,186.7" fill="none" stroke="#dcb94e" stroke-width="0.5"/>
<path d="M245.5,179.4 C279.1,179.4 296.0,179.2 329.6,179.2" fill="none" stroke="#dcb94e" stroke-width="0.5"/>
<path d="M238.2,192.8 C272.6,191.8 289.9,191.6 324.3,192.6" fill="none" stroke="#dcb94e" stroke-width="0.5"/>
<path d="M232.4,192.8 C275.1,192.8 296.5,192.6 339.2,192.6" fill="none" stroke="#dcb94e" stroke-width="0.5"/>
<path d="M203.8,192.8 C203.8,196.2 180.0,196.2 180.0,199.6" fill="none" stroke="#dcb94e" stroke-width="0.5"/>
<path d="M203.8,192.8 C203.8,195.6 205.0,195.6 205.0,198.4" fill="none" stroke="#dcb94e" stroke-width="0.5"/>
<path d="M226.3,192.8 C226.3,195.6 215.0,195.6 215.0,198.4" fill="none" stroke="#dcb94e" stroke-width="0.5"/>
<path d="M227.9,203.0 C227.9,213.2 226.0,213.2 226.0,223.3" fill="none" stroke="#dcb94e" stroke-width="0.5"/>
<path d="M240.8,214.1 C240.8,218.7 231.0,218.7 231.0,223.3" fill="none" stroke="#dcb94e" stroke-width="0.5"/>
<path d="M240.8,214.1 C240.8,218.7 238.0,218.7 238.0,223.3" fill="none" stroke="#dcb94e" stroke-width="0.5"/>
<path d="M255.7,214.1 C255.7,218.1 266.0,218.1 266.0,222.0" fill="none" stroke="#dcb94e" stroke-width="0.5"/>
<path d="M281.4,214.2 C281.4,218.1 270.0,218.1 270.0,222.0" fill="none" stroke="#dcb94e" stroke-width="0.5"/>
<path d="M304.2,214.2 C304.2,218.1 304.0,218.1 304.0,222.0" fill="none" stroke="#dcb94e" stroke-width="0.5"/>
<path d="M332.2,214.2 C332.2,217.2 334.0,217.2 334.0,220.3" fill="none" stroke="#dcb94e" stroke-width="0.5"/>
<path d="M338.3,203.7 C338.3,212.0 340.0,212.0 340.0,220.3" fill="none" stroke="#dcb94e" stroke-width="0.5"/>
<path d="M348.5,192.6 C348.5,206.4 346.0,206.4 346.0,220.3" fill="none" stroke="#dcb94e" stroke-width="0.5"/>
<path d="M330.4,203.7 C330.4,212.0 337.0,212.0 337.0,220.3" fill="none" stroke="#dcb94e" stroke-width="0.5"/>
<ellipse cx="259.0" cy="172.4" rx="1.9" ry="1.0" fill="#fff" stroke="#dcb94e" stroke-width="0.5"/>
<ellipse cx="245.5" cy="179.4" rx="1.9" ry="1.0" fill="#fff" stroke="#dcb94e" stroke-width="0.5"/>
<ellipse cx="329.6" cy="179.2" rx="1.9" ry="1.0" fill="#fff" stroke="#dcb94e" stroke-width="0.5"/>
<ellipse cx="222.8" cy="186.1" rx="1.9" ry="1.0" fill="#fff" stroke="#dcb94e" stroke-width="0.5"/>
<ellipse cx="240.5" cy="186.5" rx="1.9" ry="1.0" fill="#fff" stroke="#dcb94e" stroke-width="0.5"/>
<ellipse cx="249.7" cy="186.1" rx="1.9" ry="1.0" fill="#fff" stroke="#dcb94e" stroke-width="0.5"/>
<ellipse cx="329.6" cy="186.7" rx="1.9" ry="1.0" fill="#fff" stroke="#dcb94e" stroke-width="0.5"/>
<ellipse cx="336.2" cy="186.7" rx="1.9" ry="1.0" fill="#fff" stroke="#dcb94e" stroke-width="0.5"/>
<ellipse cx="203.8" cy="192.8" rx="1.9" ry="1.0" fill="#fff" stroke="#dcb94e" stroke-width="0.5"/>
<ellipse cx="226.3" cy="192.8" rx="1.9" ry="1.0" fill="#fff" stroke="#dcb94e" stroke-width="0.5"/>
<ellipse cx="232.4" cy="192.8" rx="1.9" ry="1.0" fill="#fff" stroke="#dcb94e" stroke-width="0.5"/>
<ellipse cx="238.2" cy="192.8" rx="1.9" ry="1.0" fill="#fff" stroke="#dcb94e" stroke-width="0.5"/>
<ellipse cx="260.4" cy="192.8" rx="1.9" ry="1.0" fill="#fff" stroke="#dcb94e" stroke-width="0.5"/>
<ellipse cx="281.4" cy="192.6" rx="1.9" ry="1.0" fill="#fff" stroke="#dcb94e" stroke-width="0.5"/>
<ellipse cx="301.5" cy="192.6" rx="1.9" ry="1.0" fill="#fff" stroke="#dcb94e" stroke-width="0.5"/>
<ellipse cx="315.6" cy="192.6" rx="1.9" ry="1.0" fill="#fff" stroke="#dcb94e" stroke-width="0.5"/>
<ellipse cx="324.3" cy="192.6" rx="1.9" ry="1.0" fill="#fff" stroke="#dcb94e" stroke-width="0.5"/>
<ellipse cx="339.2" cy="192.6" rx="1.9" ry="1.0" fill="#fff" stroke="#dcb94e" stroke-width="0.5"/>
<ellipse cx="348.5" cy="192.6" rx="1.9" ry="1.0" fill="#fff" stroke="#dcb94e" stroke-width="0.5"/>
<ellipse cx="227.9" cy="203.0" rx="1.9" ry="1.0" fill="#fff" stroke="#dcb94e" stroke-width="0.5"/>
<ellipse cx="253.2" cy="203.3" rx="1.9" ry="1.0" fill="#fff" stroke="#dcb94e" stroke-width="0.5"/>
<ellipse cx="261.8" cy="203.3" rx="1.9" ry="1.0" fill="#fff" stroke="#dcb94e" stroke-width="0.5"/>
<ellipse cx="281.4" cy="203.7" rx="1.9" ry="1.0" fill="#fff" stroke="#dcb94e" stroke-width="0.5"/>
<ellipse cx="290.2" cy="203.7" rx="1.9" ry="1.0" fill="#fff" stroke="#dcb94e" stroke-width="0.5"/>
<ellipse cx="313.0" cy="203.7" rx="1.9" ry="1.0" fill="#fff" stroke="#dcb94e" stroke-width="0.5"/>
<ellipse cx="321.7" cy="203.7" rx="1.9" ry="1.0" fill="#fff" stroke="#dcb94e" stroke-width="0.5"/>
<ellipse cx="330.4" cy="203.7" rx="1.9" ry="1.0" fill="#fff" stroke="#dcb94e" stroke-width="0.5"/>
<ellipse cx="338.3" cy="203.7" rx="1.9" ry="1.0" fill="#fff" stroke="#dcb94e" stroke-width="0.5"/>
<ellipse cx="240.8" cy="214.1" rx="1.9" ry="1.0" fill="#fff" stroke="#dcb94e" stroke-width="0.5"/>
<ellipse cx="255.7" cy="214.1" rx="1.9" ry="1.0" fill="#fff" stroke="#dcb94e" stroke-width="0.5"/>
<ellipse cx="281.4" cy="214.2" rx="1.9" ry="1.0" fill="#fff" stroke="#dcb94e" stroke-width="0.5"/>
<ellipse cx="304.2" cy="214.2" rx="1.9" ry="1.0" fill="#fff" stroke="#dcb94e" stroke-width="0.5"/>
<ellipse cx="332.2" cy="214.2" rx="1.9" ry="1.0" fill="#fff" stroke="#dcb94e" stroke-width="0.5"/>
<rect x="167.6" y="199.6" width="20.2" height="18.6" fill="#4f86bd" stroke="#cdb66a" stroke-width="0.5" rx="0.8"/>
<text x="177.7" y="205.6" font-size="4.3" fill="#fff" text-anchor="middle" stroke="#fff" stroke-width="0.09">adaptive</text>
<text x="177.7" y="210.4" font-size="4.3" fill="#fff" text-anchor="middle" stroke="#fff" stroke-width="0.09">immune</text>
<text x="177.7" y="215.2" font-size="4.3" fill="#fff" text-anchor="middle" stroke="#fff" stroke-width="0.09">response</text>
<rect x="191.3" y="198.4" width="32.4" height="22.3" fill="#4f86bd" stroke="#cdb66a" stroke-width="0.5" rx="0.8"/>
<text x="207.5" y="203.8" font-size="4.3" fill="#1a1a1a" text-anchor="middle" stroke="#1a1a1a" stroke-width="0.09">negative</text>
<text x="207.5" y="208.6" font-size="4.3" fill="#1a1a1a" text-anchor="middle" stroke="#1a1a1a" stroke-width="0.09">regulation of</text>
<text x="207.5" y="213.5" font-size="4.3" fill="#1a1a1a" text-anchor="middle" stroke="#1a1a1a" stroke-width="0.09">immune system</text>
<text x="207.5" y="218.3" font-size="4.3" fill="#1a1a1a" text-anchor="middle" stroke="#1a1a1a" stroke-width="0.09">process</text>
<rect x="216.3" y="223.3" width="30.5" height="18.0" fill="#4f86bd" stroke="#cdb66a" stroke-width="0.5" rx="0.8"/>
<text x="231.6" y="229.0" font-size="4.3" fill="#fff" text-anchor="middle" stroke="#fff" stroke-width="0.09">regulation of</text>
<text x="231.6" y="233.8" font-size="4.3" fill="#fff" text-anchor="middle" stroke="#fff" stroke-width="0.09">innate immune</text>
<text x="231.6" y="238.6" font-size="4.3" fill="#fff" text-anchor="middle" stroke="#fff" stroke-width="0.09">response</text>
<rect x="250.3" y="222.0" width="33.8" height="19.3" fill="#d6e5f0" stroke="#cdb66a" stroke-width="0.5" rx="0.8"/>
<text x="267.2" y="230.7" font-size="4.3" fill="#333" text-anchor="middle" stroke="#333" stroke-width="0.09">response to type</text>
<text x="267.2" y="235.6" font-size="4.3" fill="#333" text-anchor="middle" stroke="#333" stroke-width="0.09">I interferon</text>
<rect x="287.2" y="222.0" width="33.6" height="19.3" fill="#d6e5f0" stroke="#cdb66a" stroke-width="0.5" rx="0.8"/>
<text x="304.0" y="233.2" font-size="4.3" fill="#333" text-anchor="middle" stroke="#333" stroke-width="0.09">response to virus</text>
<rect x="324.0" y="220.3" width="30.5" height="23.1" fill="#d6e5f0" stroke="#cdb66a" stroke-width="0.5" rx="0.8"/>
<text x="339.2" y="226.1" font-size="4.3" fill="#333" text-anchor="middle" stroke="#333" stroke-width="0.09">positive</text>
<text x="339.2" y="230.9" font-size="4.3" fill="#333" text-anchor="middle" stroke="#333" stroke-width="0.09">regulation of</text>
<text x="339.2" y="235.8" font-size="4.3" fill="#333" text-anchor="middle" stroke="#333" stroke-width="0.09">cellular protein</text>
<text x="339.2" y="240.6" font-size="4.3" fill="#333" text-anchor="middle" stroke="#333" stroke-width="0.09">localization</text>
<rect x="166.4" y="230.5" width="8.2" height="3.5" fill="#4f86bd" stroke="#cdb66a" stroke-width="0.4"/>
<rect x="166.4" y="236.4" width="8.2" height="4.1" fill="#d6e5f0" stroke="#cdb66a" stroke-width="0.4"/>
<text x="176.0" y="233.9" font-size="3.9" font-weight="bold" fill="#222" textLength="17.0" lengthAdjust="spacingAndGlyphs" stroke="#222" stroke-width="0.13">FDR≤0.05</text>
<text x="176.0" y="240.0" font-size="3.9" font-weight="bold" fill="#222" textLength="17.0" lengthAdjust="spacingAndGlyphs" stroke="#222" stroke-width="0.13">FDR&gt;0.05</text>
<text stroke="#111" stroke-width="0.25" x="183.6" y="166.9" font-size="7.4" font-weight="bold" fill="#111" textLength="158.6" lengthAdjust="spacingAndGlyphs">Geneset Enrichment of CD11b<tspan font-size="4.8" dy="-2.9">+</tspan><tspan dy="2.9">PD-L1</tspan><tspan font-size="4.8" dy="-2.9">+</tspan><tspan dy="2.9"> B cells</tspan></text>
<text x="168.2" y="254.3" font-size="7.34" font-weight="bold" fill="#111" stroke="#111" stroke-width="0.25">KEGG pathway</text>
<line x1="221.9" y1="262.5" x2="221.9" y2="305.1" stroke="#333" stroke-width="0.8"/>
<line x1="221.9" y1="305.1" x2="384.7" y2="305.1" stroke="#333" stroke-width="0.8"/>
<line x1="221.9" y1="305.1" x2="221.9" y2="306.5" stroke="#333" stroke-width="0.6"/>
<text x="221.9" y="310.1" font-size="4.8" font-weight="bold" fill="#222" text-anchor="middle" stroke="#222" stroke-width="0.16">0</text>
<line x1="239.9" y1="305.1" x2="239.9" y2="306.5" stroke="#333" stroke-width="0.6"/>
<text x="239.9" y="310.1" font-size="4.8" font-weight="bold" fill="#222" text-anchor="middle" stroke="#222" stroke-width="0.16">5</text>
<line x1="258.0" y1="305.1" x2="258.0" y2="306.5" stroke="#333" stroke-width="0.6"/>
<text x="258.0" y="310.1" font-size="4.8" font-weight="bold" fill="#222" text-anchor="middle" stroke="#222" stroke-width="0.16">10</text>
<line x1="276.0" y1="305.1" x2="276.0" y2="306.5" stroke="#333" stroke-width="0.6"/>
<text x="276.0" y="310.1" font-size="4.8" font-weight="bold" fill="#222" text-anchor="middle" stroke="#222" stroke-width="0.16">15</text>
<line x1="294.0" y1="305.1" x2="294.0" y2="306.5" stroke="#333" stroke-width="0.6"/>
<text x="294.0" y="310.1" font-size="4.8" font-weight="bold" fill="#222" text-anchor="middle" stroke="#222" stroke-width="0.16">20</text>
<line x1="312.1" y1="305.1" x2="312.1" y2="306.5" stroke="#333" stroke-width="0.6"/>
<text x="312.1" y="310.1" font-size="4.8" font-weight="bold" fill="#222" text-anchor="middle" stroke="#222" stroke-width="0.16">25</text>
<line x1="330.1" y1="305.1" x2="330.1" y2="306.5" stroke="#333" stroke-width="0.6"/>
<text x="330.1" y="310.1" font-size="4.8" font-weight="bold" fill="#222" text-anchor="middle" stroke="#222" stroke-width="0.16">30</text>
<line x1="348.1" y1="305.1" x2="348.1" y2="306.5" stroke="#333" stroke-width="0.6"/>
<text x="348.1" y="310.1" font-size="4.8" font-weight="bold" fill="#222" text-anchor="middle" stroke="#222" stroke-width="0.16">35</text>
<line x1="366.2" y1="305.1" x2="366.2" y2="306.5" stroke="#333" stroke-width="0.6"/>
<text x="366.2" y="310.1" font-size="4.8" font-weight="bold" fill="#222" text-anchor="middle" stroke="#222" stroke-width="0.16">40</text>
<line x1="384.2" y1="305.1" x2="384.2" y2="306.5" stroke="#333" stroke-width="0.6"/>
<text x="384.2" y="310.1" font-size="4.8" font-weight="bold" fill="#222" text-anchor="middle" stroke="#222" stroke-width="0.16">45</text>
<text x="220.7" y="314.4" font-size="4.46" font-weight="bold" fill="#222" stroke="#222" stroke-width="0.15">Enrichment ratio</text>
<rect x="222.3" y="263.9" width="155.4" height="9.1" fill="#a9a9a9"/>
<text x="342.9" y="270.2" font-size="5.17" fill="#fff" stroke="#fff" stroke-width="0.11">p = 0.0009</text>
<text stroke="#111" stroke-width="0.12" x="220.5" y="267.3" font-size="4.4" font-weight="bold" fill="#111" text-anchor="end" stroke="#111" stroke-width="0.15">Primary</text>
<text stroke="#111" stroke-width="0.12" x="220.5" y="272.5" font-size="4.4" font-weight="bold" fill="#111" text-anchor="end" stroke="#111" stroke-width="0.15">immunodeficiency</text>
<rect x="222.3" y="274.4" width="74.5" height="9.1" fill="#a9a9a9"/>
<text x="265.9" y="280.8" font-size="5.15" fill="#fff" stroke="#fff" stroke-width="0.11">p = 0.0041</text>
<text stroke="#111" stroke-width="0.12" x="220.5" y="278.1" font-size="4.4" font-weight="bold" fill="#111" text-anchor="end" stroke="#111" stroke-width="0.15">Antigen processing</text>
<text stroke="#111" stroke-width="0.12" x="220.5" y="283.7" font-size="4.4" font-weight="bold" fill="#111" text-anchor="end" stroke="#111" stroke-width="0.15">&amp; presentation</text>
<rect x="222.3" y="285.0" width="59.6" height="8.7" fill="#a9a9a9"/>
<text x="253.1" y="291.2" font-size="5.11" fill="#fff" stroke="#fff" stroke-width="0.11">p = 0.0007</text>
<text stroke="#111" stroke-width="0.12" x="220.5" y="291.3" font-size="4.4" font-weight="bold" fill="#111" text-anchor="end" stroke="#111" stroke-width="0.15">Cell adhesion molecules</text>
<rect x="222.3" y="295.0" width="59.1" height="8.7" fill="#a9a9a9"/>
<text x="253.1" y="301.2" font-size="5.09" fill="#fff" stroke="#fff" stroke-width="0.11">p = 0.0064</text>
<text stroke="#111" stroke-width="0.12" x="220.5" y="298.6" font-size="4.4" font-weight="bold" fill="#111" text-anchor="end" stroke="#111" stroke-width="0.15">Hematopoietic</text>
<text stroke="#111" stroke-width="0.12" x="220.5" y="303.9" font-size="4.4" font-weight="bold" fill="#111" text-anchor="end" stroke="#111" stroke-width="0.15">cell lineage</text>
<text stroke="#111" stroke-width="0.25" x="509.1" y="165.3" font-size="7.4" font-weight="bold" fill="#111" textLength="159.7" lengthAdjust="spacingAndGlyphs">Geneset Enrichment of CD11b<tspan font-size="4.8" dy="-2.9">+</tspan><tspan dy="2.9">PD-L1</tspan><tspan font-size="4.8" dy="-2.9">+</tspan><tspan dy="2.9"> B cells</tspan></text>
<rect x="494.8" y="175.3" width="5.8" height="3.4" fill="#4f86bd" stroke="#cdb66a" stroke-width="0.4"/>
<rect x="494.8" y="181.6" width="5.8" height="3.2" fill="#d6e5f0" stroke="#cdb66a" stroke-width="0.4"/>
<text x="502.6" y="178.6" font-size="3.8" font-weight="bold" fill="#222" textLength="16.0" lengthAdjust="spacingAndGlyphs" stroke="#222" stroke-width="0.13">FDR≤0.05</text>
<text x="502.6" y="184.8" font-size="3.8" font-weight="bold" fill="#222" textLength="16.0" lengthAdjust="spacingAndGlyphs" stroke="#222" stroke-width="0.13">FDR&gt;0.05</text>
<path d="M511.8,205.5 C522,203 530,195 534.2,183.5" fill="none" stroke="#dcb94e" stroke-width="0.55"/>
<path d="M534.2,183.5 C542.8,186.0 547.2,186.0 555.8,183.5" fill="none" stroke="#dcb94e" stroke-width="0.5"/>
<path d="M555.8,183.5 C564.5,186.0 568.9,186.0 577.6,183.5" fill="none" stroke="#dcb94e" stroke-width="0.5"/>
<path d="M577.6,183.5 C591.5,186.0 598.4,186.0 612.3,183.5" fill="none" stroke="#dcb94e" stroke-width="0.5"/>
<path d="M612.3,183.5 C624.7,185.5 631.0,185.0 643.4,183.0" fill="none" stroke="#dcb94e" stroke-width="0.5"/>
<path d="M511.8,205.5 C520.8,205.5 525.2,208.2 534.2,208.2" fill="none" stroke="#dcb94e" stroke-width="0.5"/>
<path d="M511.8,205.5 C529.4,205.5 538.2,207.2 555.8,207.2" fill="none" stroke="#dcb94e" stroke-width="0.5"/>
<path d="M511.8,205.5 C538.1,205.5 551.3,201.4 577.6,201.4" fill="none" stroke="#dcb94e" stroke-width="0.5"/>
<path d="M511.8,205.5 C538.1,205.5 551.3,209.3 577.6,209.3" fill="none" stroke="#dcb94e" stroke-width="0.5"/>
<path d="M511.8,205.5 C530,214 545,220 555.8,220.3" fill="none" stroke="#dcb94e" stroke-width="0.55"/>
<path d="M511.8,205.5 C560,203 600,206 643.4,205" fill="none" stroke="#dcb94e" stroke-width="0.55"/>
<path d="M511.8,205.5 C540,200 560,198 577.6,201.4" fill="none" stroke="#dcb94e" stroke-width="0.55"/>
<path d="M577.6,201.4 C591.5,199.4 598.4,199.4 612.3,201.4" fill="none" stroke="#dcb94e" stroke-width="0.5"/>
<path d="M534.2,208.2 C542.8,208.2 547.2,207.2 555.8,207.2" fill="none" stroke="#dcb94e" stroke-width="0.5"/>
<path d="M555.8,207.2 C564.5,207.2 568.9,201.4 577.6,201.4" fill="none" stroke="#dcb94e" stroke-width="0.5"/>
<path d="M555.8,220.3 C578.4,220.3 589.7,201.4 612.3,201.4" fill="none" stroke="#dcb94e" stroke-width="0.5"/>
<path d="M577.6,220.3 C591.5,220.3 598.4,201.4 612.3,201.4" fill="none" stroke="#dcb94e" stroke-width="0.5"/>
<path d="M555.8,207.2 C564.5,207.2 568.9,231.1 577.6,231.1" fill="none" stroke="#dcb94e" stroke-width="0.5"/>
<path d="M555.8,207.2 C564.5,207.2 568.9,220.3 577.6,220.3" fill="none" stroke="#dcb94e" stroke-width="0.5"/>
<path d="M555.8,220.3 C564.5,220.3 568.9,220.3 577.6,220.3" fill="none" stroke="#dcb94e" stroke-width="0.5"/>
<path d="M577.6,209.3 C591.5,209.3 598.4,216.0 612.3,216.0" fill="none" stroke="#dcb94e" stroke-width="0.5"/>
<path d="M534.2,208.2 C542.8,208.2 547.2,220.3 555.8,220.3" fill="none" stroke="#dcb94e" stroke-width="0.5"/>
<path d="M577.6,201.4 C591.5,201.4 598.4,216.0 612.3,216.0" fill="none" stroke="#dcb94e" stroke-width="0.5"/>
<path d="M612.3,201.4 C624.7,201.4 631.0,207.0 643.4,207.0" fill="none" stroke="#dcb94e" stroke-width="0.5"/>
<path d="M577.6,209.3 C603.9,209.3 617.1,207.0 643.4,207.0" fill="none" stroke="#dcb94e" stroke-width="0.5"/>
<path d="M612.3,216.0 C624.7,216.0 631.0,207.0 643.4,207.0" fill="none" stroke="#dcb94e" stroke-width="0.5"/>
<path d="M577.6,201.4 C603.9,201.4 617.1,207.0 643.4,207.0" fill="none" stroke="#dcb94e" stroke-width="0.5"/>
<path d="M555.8,220.3 C572.3,220.3 580.6,230.0 597.1,230.0" fill="none" stroke="#dcb94e" stroke-width="0.5"/>
<path d="M577.6,220.3 C585.4,220.3 589.3,230.0 597.1,230.0" fill="none" stroke="#dcb94e" stroke-width="0.5"/>
<path d="M577.6,231.1 C585.4,231.1 589.3,230.0 597.1,230.0" fill="none" stroke="#dcb94e" stroke-width="0.5"/>
<ellipse cx="511.8" cy="205.5" rx="2.4" ry="1.2" fill="#fff" stroke="#dcb94e" stroke-width="0.5"/>
<ellipse cx="534.2" cy="183.5" rx="2.4" ry="1.2" fill="#fff" stroke="#dcb94e" stroke-width="0.5"/>
<ellipse cx="555.8" cy="183.5" rx="2.4" ry="1.2" fill="#fff" stroke="#dcb94e" stroke-width="0.5"/>
<ellipse cx="577.6" cy="183.5" rx="2.4" ry="1.2" fill="#fff" stroke="#dcb94e" stroke-width="0.5"/>
<ellipse cx="612.3" cy="183.5" rx="2.4" ry="1.2" fill="#fff" stroke="#dcb94e" stroke-width="0.5"/>
<ellipse cx="534.2" cy="208.2" rx="2.4" ry="1.2" fill="#fff" stroke="#dcb94e" stroke-width="0.5"/>
<ellipse cx="555.8" cy="207.2" rx="2.4" ry="1.2" fill="#fff" stroke="#dcb94e" stroke-width="0.5"/>
<ellipse cx="577.6" cy="201.4" rx="2.4" ry="1.2" fill="#fff" stroke="#dcb94e" stroke-width="0.5"/>
<ellipse cx="612.3" cy="201.4" rx="2.4" ry="1.2" fill="#fff" stroke="#dcb94e" stroke-width="0.5"/>
<ellipse cx="577.6" cy="209.3" rx="2.4" ry="1.2" fill="#fff" stroke="#dcb94e" stroke-width="0.5"/>
<ellipse cx="555.8" cy="220.3" rx="2.4" ry="1.2" fill="#fff" stroke="#dcb94e" stroke-width="0.5"/>
<ellipse cx="577.6" cy="220.3" rx="2.4" ry="1.2" fill="#fff" stroke="#dcb94e" stroke-width="0.5"/>
<ellipse cx="612.3" cy="216.0" rx="2.4" ry="1.2" fill="#fff" stroke="#dcb94e" stroke-width="0.5"/>
<ellipse cx="577.6" cy="231.1" rx="2.4" ry="1.2" fill="#fff" stroke="#dcb94e" stroke-width="0.5"/>
<rect x="643.4" y="170.8" width="25.5" height="20.8" fill="#4f86bd" stroke="#cdb66a" stroke-width="0.5" rx="0.8"/>
<text x="656.1" y="178.1" font-size="4.0" fill="#fff" text-anchor="middle" stroke="#fff" stroke-width="0.09">neutrophil</text>
<text x="656.1" y="182.6" font-size="4.0" fill="#fff" text-anchor="middle" stroke="#fff" stroke-width="0.09">mediated</text>
<text x="656.1" y="187.1" font-size="4.0" fill="#fff" text-anchor="middle" stroke="#fff" stroke-width="0.09">immunity</text>
<rect x="643.4" y="198.0" width="31.3" height="20.8" fill="#4f86bd" stroke="#cdb66a" stroke-width="0.5" rx="0.8"/>
<text x="659.0" y="205.3" font-size="4.0" fill="#fff" text-anchor="middle" stroke="#fff" stroke-width="0.09">negative</text>
<text x="659.0" y="209.8" font-size="4.0" fill="#fff" text-anchor="middle" stroke="#fff" stroke-width="0.09">regulation of</text>
<text x="659.0" y="214.3" font-size="4.0" fill="#fff" text-anchor="middle" stroke="#fff" stroke-width="0.09">cell activation</text>
<rect x="597.1" y="219.3" width="45.5" height="20.9" fill="#4f86bd" stroke="#cdb66a" stroke-width="0.5" rx="0.8"/>
<text x="619.9" y="226.7" font-size="4.0" fill="#fff" text-anchor="middle" stroke="#fff" stroke-width="0.09">regulation of</text>
<text x="619.9" y="231.2" font-size="4.0" fill="#fff" text-anchor="middle" stroke="#fff" stroke-width="0.09">actin filament-based</text>
<text x="619.9" y="235.6" font-size="4.0" fill="#fff" text-anchor="middle" stroke="#fff" stroke-width="0.09">process</text>
<text x="484.5" y="253.0" font-size="7.39" font-weight="bold" fill="#111" stroke="#111" stroke-width="0.25">KEGG pathway</text>
<line x1="537.8" y1="258.0" x2="537.8" y2="305.3" stroke="#333" stroke-width="0.8"/>
<line x1="537.8" y1="305.3" x2="676.0" y2="305.3" stroke="#333" stroke-width="0.8"/>
<line x1="537.8" y1="305.3" x2="537.8" y2="306.7" stroke="#333" stroke-width="0.6"/>
<text x="537.8" y="310.7" font-size="4.8" font-weight="bold" fill="#222" text-anchor="middle" stroke="#222" stroke-width="0.16">0</text>
<line x1="551.5" y1="305.3" x2="551.5" y2="306.7" stroke="#333" stroke-width="0.6"/>
<text x="551.5" y="310.7" font-size="4.8" font-weight="bold" fill="#222" text-anchor="middle" stroke="#222" stroke-width="0.16">1</text>
<line x1="565.2" y1="305.3" x2="565.2" y2="306.7" stroke="#333" stroke-width="0.6"/>
<text x="565.2" y="310.7" font-size="4.8" font-weight="bold" fill="#222" text-anchor="middle" stroke="#222" stroke-width="0.16">2</text>
<line x1="579.0" y1="305.3" x2="579.0" y2="306.7" stroke="#333" stroke-width="0.6"/>
<text x="579.0" y="310.7" font-size="4.8" font-weight="bold" fill="#222" text-anchor="middle" stroke="#222" stroke-width="0.16">3</text>
<line x1="592.7" y1="305.3" x2="592.7" y2="306.7" stroke="#333" stroke-width="0.6"/>
<text x="592.7" y="310.7" font-size="4.8" font-weight="bold" fill="#222" text-anchor="middle" stroke="#222" stroke-width="0.16">4</text>
<line x1="606.4" y1="305.3" x2="606.4" y2="306.7" stroke="#333" stroke-width="0.6"/>
<text x="606.4" y="310.7" font-size="4.8" font-weight="bold" fill="#222" text-anchor="middle" stroke="#222" stroke-width="0.16">5</text>
<line x1="620.1" y1="305.3" x2="620.1" y2="306.7" stroke="#333" stroke-width="0.6"/>
<text x="620.1" y="310.7" font-size="4.8" font-weight="bold" fill="#222" text-anchor="middle" stroke="#222" stroke-width="0.16">6</text>
<line x1="633.8" y1="305.3" x2="633.8" y2="306.7" stroke="#333" stroke-width="0.6"/>
<text x="633.8" y="310.7" font-size="4.8" font-weight="bold" fill="#222" text-anchor="middle" stroke="#222" stroke-width="0.16">7</text>
<line x1="647.6" y1="305.3" x2="647.6" y2="306.7" stroke="#333" stroke-width="0.6"/>
<text x="647.6" y="310.7" font-size="4.8" font-weight="bold" fill="#222" text-anchor="middle" stroke="#222" stroke-width="0.16">8</text>
<line x1="661.3" y1="305.3" x2="661.3" y2="306.7" stroke="#333" stroke-width="0.6"/>
<text x="661.3" y="310.7" font-size="4.8" font-weight="bold" fill="#222" text-anchor="middle" stroke="#222" stroke-width="0.16">9</text>
<line x1="675.0" y1="305.3" x2="675.0" y2="306.7" stroke="#333" stroke-width="0.6"/>
<text x="675.0" y="310.7" font-size="4.8" font-weight="bold" fill="#222" text-anchor="middle" stroke="#222" stroke-width="0.16">10</text>
<text x="537.2" y="315.3" font-size="4.46" font-weight="bold" fill="#222" stroke="#222" stroke-width="0.15">Enrichment ratio</text>
<rect x="538.2" y="259.8" width="131.7" height="13.7" fill="#a9a9a9"/>
<text x="634.2" y="268.4" font-size="5.45" fill="#fff" stroke="#fff" stroke-width="0.12">p = 0.0007</text>
<text stroke="#111" stroke-width="0.12" x="536.4" y="264.2" font-size="4.55" font-weight="bold" fill="#111" text-anchor="end" stroke="#111" stroke-width="0.15">Negative regulation of</text>
<text stroke="#111" stroke-width="0.12" x="536.4" y="269.4" font-size="4.55" font-weight="bold" fill="#111" text-anchor="end" stroke="#111" stroke-width="0.15">cell activation</text>
<rect x="538.2" y="275.5" width="81.8" height="13.1" fill="#a9a9a9"/>
<text x="584.4" y="283.9" font-size="5.44" fill="#fff" stroke="#fff" stroke-width="0.12">p = 0.0013</text>
<text stroke="#111" stroke-width="0.12" x="536.4" y="280.2" font-size="4.55" font-weight="bold" fill="#111" text-anchor="end" stroke="#111" stroke-width="0.15">Regulation of actin</text>
<text stroke="#111" stroke-width="0.12" x="536.4" y="285.0" font-size="4.55" font-weight="bold" fill="#111" text-anchor="end" stroke="#111" stroke-width="0.15">filament-based process</text>
<rect x="538.2" y="291.1" width="71.4" height="13.1" fill="#a9a9a9"/>
<text x="575.1" y="299.4" font-size="5.38" fill="#fff" stroke="#fff" stroke-width="0.12">p = 0.0008</text>
<text stroke="#111" stroke-width="0.12" x="536.4" y="296.4" font-size="4.55" font-weight="bold" fill="#111" text-anchor="end" stroke="#111" stroke-width="0.15">Neutrophil mediated</text>
<text stroke="#111" stroke-width="0.12" x="536.4" y="301.5" font-size="4.55" font-weight="bold" fill="#111" text-anchor="end" stroke="#111" stroke-width="0.15">immunity</text>
<rect x="105.4" y="385.3" width="164.4" height="206.1" fill="#000"/>
<path stroke="#dad62c" stroke-width="7.36" d="M252.3 388.98h2.06m13.4 0h2.06M251.3 396.34h1.03m2.05 0h1.03m5.14 0h1.03m1.03 0h1.03M108.4 403.7h1m5 0h1m13 0h1m2 0h1m43 0h1m42 0h1m3 0h1m3 0h1m26 0h1.03m4.11 0h1.03m1.03 0h1.03m4.11 0h1.03m1.03 0h1.03M108.4 411.06h1m150 0h1.03M134.4 418.42h1m8 0h1m14 0h1m22 0h1m23 0h1m6 0h1m45.1 0h1.03m3.08 0h2.06m4.11 0h1.03M145.4 425.78h1m7 0h1m4 0h1m30 0h1m22 0h1m13 0h1m6 0h1m4 0h1m11.9 0h1.03m3.08 0h1.03M146.4 433.14h1m109 0h1.03m11.3 0h1.03M150.4 447.86h1m94 0h1m5.93 0h1.03m2.05 0h1.03m7.19 0h1.03m2.05 0h1.03M255.4 455.22h1.03M136.4 462.58h1m1 0h1m4 0h1m3 0h1m35 0h1m38 0h1m12 0h1m24.2 0h2.06M251.3 469.94h1.03m5.14 0h1.03m5.14 0h1.03M133.4 477.3h1m42 0h1m76 0h1.03m3.08 0h1.03m5.14 0h1.03M117.4 484.66h1m8 0h1m3 0h1m21 0h1m8 0h1m46 0h1m28 0h1m17 0h1.03m7.19 0h2.06M126.4 492.02h1m110 0h1m25.2 0h1.03M124.4 499.38h1m28 0h1m23 0h1m22 0h1m27 0h1m4 0h1m23.1 0h2.06m3.08 0h1.03m5.14 0h1.03M259.5 506.74h1.03m1.03 0h1.03M158.4 514.1h1m91.9 0h1.03m6.16 0h1.03m3.08 0h1.03M260.6 521.46h1.03M159.4 528.82h1m57 0h1m49.3 0h1.03M255.4 536.18h1.03M113.4 543.54h1m101 0h1m39 0h1.03m1.03 0h1.03M210.4 550.9h1m39.9 0h1.03m16.4 0h1.03M136.4 558.26h1m20 0h1M209.4 565.62h1m52.2 0h1.03M201.4 572.98h1m56.1 0h1.03m7.19 0h1.03M137.4 580.34h1m26 0h1m65 0h1m19 0h1M256.4 587.7h1.03"/>
<path stroke="#b2af24" stroke-width="7.36" d="M254.4 388.98h1.03m7.19 0h3.08m1.03 0h1.03M253.4 396.34h1.03m2.05 0h1.03m7.19 0h1.03m1.03 0h1.03M146.4 403.7h1m3 0h1m16 0h1m43 0h1m17 0h1m17 0h1m2 0h1m11.2 0h1.03m3.08 0h1.03m1.03 0h1.03M252.3 411.06h2.06m2.05 0h1.03m11.3 0h1.03M135.4 418.42h1m36 0h1m2 0h1m11 0h1m2 0h1m49 0h1m2 0h1m4 0h1m2.93 0h1.03M115.4 425.78h1m65 0h1m71 0h1.03m8.22 0h1.03M198.4 433.14h1m44 0h1m19.2 0h1.03M140.4 447.86h1m31 0h1m13 0h1m3 0h1m2 0h1m33 0h1m14 0h1m17.2 0h1.03m3.08 0h1.03m3.08 0h1.03M144.4 462.58h1m28 0h1m30 0h2M134.4 477.3h1m29 0h1m68 0h1m22 0h1.03M110.4 484.66h1m3 0h1m9 0h1m66 0h1m3 0h1m21 0h1m5 0h1m7 0h1m22 0h1.03m10.3 0h1.03M148.4 492.02h1m9 0h1m96 0h1.03m9.25 0h1.03M110.4 499.38h1m108 0h2m16 0h1M149.4 506.74h1m4 0h1m40 0h1m67.2 0h2.06M172.4 521.46h1M194.4 528.82h1m68.2 0h1.03M263.6 536.18h1.03m4.11 0h1.03M267.7 543.54h1.03M137.4 550.9h1m41 0h1m29 0h1m44 0h1.03m7.19 0h1.03M230.4 558.26h1m20.9 0h1.03m10.3 0h1.03m2.05 0h1.03M159.4 565.62h1m59 0h1m5 0h1m32.1 0h1.03M141.4 572.98h1m9 0h1m43 0h1m49 0h1m4.9 0h1.03M189.4 580.34h1m23 0h1m39 0h1.03m9.25 0h1.03m1.03 0h2.06"/>
<path stroke="#3b3a0c" stroke-width="7.36" d="M255.4 388.98h1.03M257.5 403.7h1.03M187.4 411.06h1m20 0h1m52.2 0h1.03M255.4 418.42h1.03M256.4 455.22h1.03M254.4 477.3h1.03M260.6 492.02h1.03M251.3 499.38h1.03M263.6 521.46h1.03M264.7 580.34h1.03M267.7 587.7h1.03"/>
<path stroke="#4f4e10" stroke-width="7.36" d="M256.4 388.98h1.03M232.4 403.7h1M138.4 411.06h1m81 0h1M114.4 418.42h1m115 0h1M153.4 447.86h1m19 0h1m62 0h1m11 0h1M259.5 477.3h1.03M139.4 484.66h1m10 0h1M133.4 492.02h1M224.4 499.38h1m20 0h1M253.4 521.46h1.03M252.3 580.34h1.03"/>
<path stroke="#c6c328" stroke-width="7.36" d="M257.5 388.98h1.03m1.03 0h2.06M258.5 396.34h1.03M113.4 403.7h1m84 0h1m4 0h1m47.9 0h1.03M178.4 411.06h1m71.9 0h1.03m8.22 0h1.03m4.11 0h1.03M147.4 418.42h1m66 0h1m8 0h1m33.1 0h1.03m2.05 0h1.03M117.4 425.78h1m28 0h1m105 0h1.03m11.3 0h1.03M256.4 440.5h1.03M139.4 447.86h1m18 0h1m11 0h1m4 0h1m71 0h1m4.96 0h1.03M258.5 455.22h1.03m2.05 0h1.03M120.4 462.58h1m12 0h1m32 0h1m45 0h1m25 0h1m14 0h1.03m10.3 0h2.06M151.4 469.94h1m109 0h1.03M240.4 477.3h1m9 0h1m4.01 0h1.03M107.4 484.66h1m5 0h1m11 0h1m39 0h1m1 0h1m2 0h1m16 0h1m5 0h1m59 0h1.03m8.22 0h1.03M109.4 492.02h1m34 0h1m2 0h1m34 0h1m12 0h1m22 0h1m16 0h1M121.4 499.38h1m32 0h1m48 0h1m39 0h1m21.3 0h3.08M118.4 506.74h1m59 0h1m77 0h1.03m3.08 0h1.03m4.11 0h1.03M144.4 514.1h1m45 0h1m11 0h1M194.4 521.46h1M116.4 528.82h1m85 0h1M259.5 536.18h1.03m4.11 0h1.03M229.4 543.54h1m19 0h1m15.3 0h1.03M258.5 550.9h1.03m8.22 0h1.03M141.4 558.26h1m65 0h1m10 0h1m5 0h1m37.2 0h1.03m2.05 0h1.03M197.4 565.62h1m33 0h1m18.9 0h1.03m7.19 0h1.03m7.19 0h1.03M156.4 572.98h1M205.4 580.34h1M251.3 587.7h1.03m7.19 0h1.03"/>
<path stroke="#272708" stroke-width="7.36" d="M258.5 388.98h1.03M263.6 396.34h1.03M112.4 411.06h1m19 0h1m15 0h1m2 0h1m3 0h1m9 0h1M251.3 418.42h1.03M265.7 425.78h2.06M255.4 433.14h1.03m9.25 0h1.03M260.6 440.5h1.03M251.3 447.86h1.03m7.19 0h1.03m5.14 0h1.03M259.5 455.22h1.03m6.16 0h1.03M257.5 462.58h1.03m10.3 0h1.03M262.6 469.94h1.03M251.3 477.3h2.06m7.19 0h1.03m4.11 0h1.03m1.03 0h1.03M264.7 492.02h1.03M264.7 514.1h1.03M261.6 521.46h1.03M251.3 528.82h1.03m12.3 0h1.03M260.6 543.54h2.06m1.02 0h1.03M261.6 550.9h1.03M267.7 558.26h1.03M256.4 565.62h1.03M253.4 572.98h1.03"/>
<path stroke="#eeea30" stroke-width="7.36" d="M261.6 388.98h1.03m3.08 0h1.03M259.5 396.34h1.03m8.22 0h1.03M148.4 403.7h1m59 0h1m8 0h1m15 0h1m16.9 0h1.03m2.05 0h1.03m1.03 0h1.03m4.11 0h1.03m2.05 0h1.03M257.5 411.06h1.03m8.22 0h1.03M108.4 418.42h1m22 0h1m29 0h1m41 0h1m35 0h1m13 0h1.03m5.14 0h1.03m1.03 0h1.03m2.05 0h2.06m1.02 0h1.03M138.4 425.78h1m11 0h1m28 0h1m50 0h1m26.1 0h1.03M252.3 433.14h1.03m4.11 0h1.03M257.5 440.5h1.03M124.4 447.86h1m131 0h1.03m4.11 0h1.03M115.4 462.58h1m23 0h1m21 0h1m35 0h1m49 0h1m5.98 0h1.03M130.4 469.94h1M183.4 477.3h1m20 0h1m61.3 0h1.03M106.4 484.66h1m47 0h1m61 0h1m42.1 0h1.03m8.22 0h1.03M130.4 492.02h1m57 0h1m19 0h1m52.2 0h1.03m5.14 0h2.06M142.4 499.38h1m13 0h1m16 0h1m79 0h1.03m1.03 0h1.03m3.08 0h3.08m1.03 0h1.03M132.4 506.74h1m133 0h1.03M184.4 514.1h1m15 0h1m54 0h1.03m9.25 0h1.03m2.05 0h1.03M254.4 521.46h1.03m7.19 0h1.03m4.11 0h1.03M143.4 528.82h1m36 0h1M252.3 536.18h1.03m4.11 0h1.03M231.4 558.26h1m24 0h1.03m1.03 0h2.06M123.4 565.62h1m24 0h1m30 0h1m25 0h1m23 0h1m34.3 0h1.03m3.08 0h1.03M143.4 572.98h1m118 0h1.03m2.05 0h1.03m1.03 0h1.03M135.4 580.34h1m15 0h1m35 0h1m68 0h1.03M165.4 587.7h1m88 0h1.03"/>
<path stroke="#0d0216" stroke-width="7.36" d="M257.5 396.34h1.03m3.08 0h1.03m5.14 0h1.03M111.4 403.7h1m10 0h1m63 0h1m8 0h1m34 0h1m7 0h1m20.1 0h1.03M118.4 411.06h1m3 0h1m6 0h1m4 0h1m4 0h1m3 0h1m2 0h1m10 0h1m2 0h1m12 0h1m2 0h1m3 0h1m16 0h1m2 0h1m3 0h1m6 0h2m10 0h1m8 0h1m1 0h1m1 0h1m2 0h1m8 0h2m5.01 0h1.03M105.4 418.42h1m7 0h1m5 0h1m4 0h1m40 0h1m18 0h1m3 0h2m3 0h1m10 0h1m8 0h1m3 0h1m7 0h1m2 0h1m2 0h1m17 0h1m16.3 0h1.03M258.5 425.78h2.06m7.19 0h1.03M253.4 433.14h1.03M252.3 440.5h1.03m5.14 0h1.03m2.05 0h1.03m4.11 0h1.03m1.03 0h1.03M135.4 447.86h1m2 0h1m8 0h1m33 0h1m24 0h2m9 0h1m49.3 0h1.03M252.3 455.22h1.03m9.25 0h2.06M262.6 462.58h1.03M259.5 469.94h1.03m4.11 0h1.03m1.03 0h2.06M261.6 477.3h1.03m2.05 0h1.03M147.4 484.66h1m18 0h1m8 0h1m21 0h1m6 0h1m9 0h1m5 0h1m17 0h1m19.1 0h1.03M252.3 492.02h1.03m4.11 0h1.03m8.22 0h1.03M164.4 499.38h1M251.3 506.74h1.03m3.08 0h1.03m2.05 0h1.03m8.22 0h1.03M261.6 514.1h1.03M251.3 521.46h1.03m5.14 0h1.03m8.22 0h1.03M252.3 528.82h1.03m2.05 0h2.06m3.08 0h1.03m7.19 0h1.03M254.4 543.54h1.03m1.03 0h1.03m7.19 0h1.03M264.7 550.9h1.03M251.3 558.26h1.03m2.05 0h2.06m4.11 0h1.03m3.08 0h1.03M255.4 565.62h1.03m7.19 0h1.03m2.05 0h1.03M254.4 572.98h2.06m3.08 0h1.03m4.11 0h1.03M105.4 580.34h4m3 0h1m1 0h5m1 0h2m1 0h1m4 0h1m1 0h1m1 0h3m3 0h3m2 0h2m8 0h1m1 0h2m2 0h1m2 0h1m2 0h1m1 0h1m1 0h1m9 0h1m1 0h3m2 0h1m1 0h1m4 0h4m2 0h4m7 0h3m1 0h9m2 0h1m2 0h2m1 0h2m1 0h1m3 0h6m4 0h2m3.98 0h2.06m11.3 0h1.03M257.5 587.7h1.03m5.14 0h1.03m1.03 0h2.06"/>
<path stroke="#1e052d" stroke-width="7.36" d="M105.4 403.7h1m1 0h1m1 0h1m5 0h2m1 0h1m6 0h3m2 0h1m2 0h1m1 0h1m1 0h1m5 0h1m3 0h1m1 0h1m4 0h4m1 0h6m3 0h1m1 0h1m6 0h1m3 0h1m12 0h1m1 0h2m1 0h1m1 0h2m1 0h2m3 0h1m2 0h5m3 0h2m1 0h2m9 0h4m3 0h1m1 0h1m1 0h1m3 0h1m5.01 0h1.03M106.4 411.06h1m3 0h1m4 0h1m7 0h1m1 0h1m1 0h1m2 0h1m10 0h1m3 0h1m12 0h2m1 0h1m9 0h1m2 0h1m9 0h2m3 0h3m6 0h1m3 0h1m4 0h1m7 0h1m2 0h1m8 0h1m10 0h1m5 0h1m19.3 0h1.03M110.4 418.42h3m14 0h2m17 0h1m1 0h2m5 0h1m4 0h1m8 0h1m13 0h1m7 0h1m2 0h1m3 0h2m2 0h1m7 0h1m10 0h1m4 0h2m5 0h1m3 0h1m3 0h2m1 0h1m1 0h1M260.6 425.78h1.03m2.05 0h1.03M260.6 433.14h2.06m4.11 0h1.03M251.3 440.5h1.03m1.03 0h1.03m10.3 0h1.03m2.05 0h1.03M105.4 447.86h1m1 0h3m1 0h4m3 0h1m3 0h2m1 0h2m1 0h1m2 0h3m2 0h1m6 0h1m1 0h2m1 0h2m2 0h1m2 0h3m3 0h2m1 0h2m1 0h1m3 0h1m4 0h3m3 0h1m2 0h1m5 0h2m1 0h3m2 0h2m1 0h1m1 0h1m3 0h2m2 0h1m2 0h1m2 0h6m1 0h1m3 0h7m1 0h2m1 0h2m2 0h1m1 0h1m2 0h2M254.4 455.22h1.03m9.25 0h1.03m2.05 0h1.03M251.3 462.58h1.03m3.08 0h1.03M252.3 469.94h1.03m3.08 0h1.03m3.08 0h1.03M129.4 484.66h1m33 0h1m9 0h1m6 0h1m3 0h1m14 0h1m21 0h1m2 0h1m14 0h1M159.4 492.02h2m12 0h1m7 0h1m2 0h1m14 0h1m9 0h1m4 0h1m9 0h1m1 0h2m5 0h2m7 0h1m6 0h1m2.96 0h1.03M105.4 499.38h1m1 0h1m10 0h1m4 0h1m2 0h1m1 0h1m16 0h1m5 0h1m15 0h1m34 0h1m4 0h1m2 0h1m2 0h1m2 0h1m4 0h1m1 0h1m6 0h1m7 0h1m2 0h1m2 0h1m4 0h1m1.93 0h1.03m1.03 0h1.03m9.25 0h1.03M253.4 514.1h1.03m5.14 0h1.03M268.8 521.46h1.03M261.6 528.82h1.03m3.08 0h1.03M256.4 536.18h1.03M259.5 550.9h1.03M253.4 558.26h1.03m7.19 0h1.03M252.3 572.98h1.03M119.4 580.34h1m139 0h1.03M253.4 587.7h1.03"/>
<path stroke="#636114" stroke-width="7.36" d="M106.4 403.7h1m59 0h1m6 0h1m36 0h1m52.2 0h1.03M181.4 411.06h1m19 0h1M115.4 418.42h1m34 0h1m83 0h1m15 0h1M179.4 447.86h1m8 0h1m21 0h1m17 0h1m10 0h1M108.4 484.66h1m12 0h1m12 0h1m33 0h1m58 0h1m2 0h1m11 0h1M128.4 492.02h1m28 0h1m11 0h1m26 0h1m7 0h1m2 0h1m5 0h1m48.2 0h1.03M125.4 499.38h1m1 0h1m11 0h1m9 0h1M124.4 580.34h1m50 0h1m14 0h1m45 0h1"/>
<path stroke="#310844" stroke-width="7.36" d="M110.4 403.7h1m9 0h2m1 0h2m7 0h1m3 0h1m1 0h1m1 0h3m2 0h1m5 0h3m11 0h1m5 0h1m2 0h1m1 0h1m1 0h1m1 0h1m1 0h2m1 0h1m1 0h3m1 0h2m7 0h1m5 0h2m11 0h1m5 0h1m1 0h2m10 0h2m7 0h1M105.4 411.06h1m1 0h1m9 0h1m18 0h1m12 0h1m14 0h1m2 0h1m14 0h1m3 0h1m7 0h1m18 0h1m5 0h1m2 0h1m2 0h1m14 0h1m9 0h1m16.3 0h1.03M107.4 418.42h1m9 0h2m7 0h1m3 0h1m8 0h2m3 0h1m7 0h1m4 0h1m5 0h1m4 0h1m9 0h2m2 0h1m2 0h1m10 0h2m2 0h1m6 0h1m16 0h1m7 0h1m2 0h2M261.6 425.78h1.03M262.6 440.5h2.06M106.4 447.86h1m9 0h2m1 0h2m6 0h1m1 0h2m3 0h1m6 0h2m17 0h1m2 0h1m2 0h1m1 0h1m5 0h1m8 0h2m12 0h2m2 0h1m1 0h1m7 0h1m1 0h2m1 0h1m7 0h1M259.5 462.58h1.03m7.19 0h1.03M253.4 469.94h1.03M105.4 484.66h1m3 0h1m12 0h1m13 0h1m4 0h1m6 0h1m2 0h1m8 0h1m20 0h1m16 0h1m12 0h1m14 0h1m9 0h1m7 0h1m1 0h1M105.4 492.02h1m2 0h1m1 0h3m1 0h1m2 0h3m1 0h2m6 0h1m1 0h2m1 0h6m1 0h1m1 0h1m2 0h1m3 0h2m2 0h1m1 0h1m4 0h3m1 0h4m2 0h1m2 0h1m2 0h2m4 0h1m2 0h2m1 0h1m1 0h3m4 0h1m7 0h1m3 0h1m1 0h1m2 0h2m2 0h2m4 0h1m2 0h1m1 0h2m4 0h1m6 0h1m1 0h1m1 0h1m2 0h1M106.4 499.38h1m1 0h1m5 0h4m1 0h2m1 0h1m6 0h2m1 0h1m1 0h2m2 0h1m1 0h2m2 0h1m2 0h1m4 0h1m5 0h1m2 0h1m1 0h1m5 0h1m1 0h2m3 0h1m2 0h1m4 0h1m1 0h5m1 0h2m1 0h1m1 0h3m6 0h1m1 0h2m4 0h1m3 0h1m3 0h1m4 0h1m3 0h1m2 0h1m1 0h1m9 0h1m1 0h1M252.3 506.74h3.08M256.4 514.1h1.03M251.3 543.54h1.03m10.3 0h1.03M252.3 550.9h1.03m10.3 0h1.03m1.03 0h1.03M252.3 587.7h1.03m8.22 0h1.03"/>
<path stroke="#9e9c20" stroke-width="7.36" d="M112.4 403.7h1m6 0h1m9 0h1m101 0h1m14 0h1M128.4 411.06h1M122.4 418.42h1m30 0h1m41 0h1m24 0h1M109.4 425.78h1m54 0h1m59 0h1M159.4 433.14h1M144.4 447.86h1m6 0h1m7 0h1m20 0h1m8 0h1m15 0h1m37 0h1M194.4 462.58h1m1 0h1m2 0h1m44 0h1M130.4 477.3h1m22 0h1m40 0h1m26 0h1M119.4 484.66h2m11 0h1m26 0h1m11 0h1m38 0h1m22 0h1m1 0h1m4 0h1M107.4 492.02h1m8 0h1m28 0h1m7 0h1m48 0h2m25 0h1M109.4 499.38h1m33 0h1m11 0h1m10 0h1m1 0h1m9 0h1m2 0h1m3 0h1m18 0h2M158.4 506.74h1m25 0h1M167.4 514.1h1M208.4 528.82h1M232.4 543.54h1M232.4 550.9h1M107.4 565.62h1m47 0h1m10 0h1m82 0h1M108.4 572.98h1M227.4 580.34h1"/>
<path stroke="#777518" stroke-width="7.36" d="M117.4 403.7h1m16 0h1m23 0h1m13 0h1m69 0h1M133.4 411.06h1m69 0h1M120.4 418.42h1m45 0h1m51 0h1M115.4 447.86h1m71 0h1M180.4 462.58h1M186.4 469.94h1m6 0h1M203.4 477.3h1M128.4 484.66h1m8 0h1m6 0h1m4 0h1m7 0h2m26 0h1m3 0h1m17 0h1m11 0h1m8 0h1m16 0h1m4 0h1M140.4 492.02h1m14 0h1m14 0h1m4 0h1m18 0h1m16 0h1m29 0h1m4 0h1M111.4 499.38h2m33 0h1m12 0h1m2 0h1m11 0h1m36 0h1m5 0h1m7 0h1m3 0h1m10 0h1M177.4 514.1h1M172.4 550.9h1M139.4 558.26h1M172.4 580.34h1m3 0h1m1 0h1"/>
<path stroke="#8a881b" stroke-width="7.36" d="M139.4 403.7h1m4 0h1m24 0h1m14 0h1m5 0h1m2 0h1m50 0h1M114.4 411.06h1m9 0h1m27 0h1m1 0h1m38 0h1m5 0h1m37 0h1M116.4 418.42h1m19 0h1m8 0h1m5 0h1m12 0h1m5 0h1m58 0h1m15 0h1M129.4 425.78h1m36 0h1m3 0h1M153.4 433.14h1M110.4 447.86h1m10 0h1m15 0h1m16 0h1m71 0h1M106.4 462.58h1m27 0h1m30 0h1m58 0h1m9 0h1m4 0h1M189.4 469.94h1m2 0h1m38 0h1M159.4 477.3h1m9 0h1M112.4 484.66h1m3 0h1m14 0h1m24 0h1M115.4 492.02h1m8 0h1m17 0h1m6 0h1m14 0h1m11 0h1m3 0h1m4 0h1m19 0h1m34 0h1M180.4 499.38h1m10 0h1m20 0h1m26 0h1M243.4 506.74h1M135.4 514.1h1m70 0h1m39 0h1M131.4 521.46h1m29 0h1m66 0h1M112.4 528.82h1m73 0h1m9 0h1m40 0h1M116.4 536.18h1M143.4 550.9h1M240.4 558.26h1M125.4 565.62h1m35 0h1m38 0h1M126.4 580.34h1m46 0h1m3 0h1"/>
<path stroke="#440b5b" stroke-width="7.36" d="M179.4 403.7h1M183.4 411.06h1m25 0h1m11 0h1M106.4 418.42h1m14 0h1m1 0h1m5 0h1m2 0h1m4 0h2m3 0h1m13 0h1m16 0h1m6 0h1m25 0h1m1 0h1m2 0h1m7 0h1m27 0h1M169.4 447.86h1M118.4 484.66h1m4 0h1m9 0h1m12 0h1m25 0h1m3 0h4m8 0h1m5 0h1m1 0h1m3 0h1m2 0h1m1 0h2m2 0h1m8 0h1m3 0h1m2 0h1m3 0h1m13 0h1m5 0h1m10.2 0h2.06M106.4 492.02h1m6 0h1m6 0h1m2 0h1m1 0h1m1 0h1m24 0h1m19 0h1m6 0h1m10 0h1m6 0h1m2 0h2m15 0h1m3 0h2m9 0h1m5 0h2m8 0h1m1.9 0h1.03m2.05 0h1.03M113.4 499.38h1m17 0h1m1 0h1m2 0h2m10 0h1m1 0h1m6 0h1m2 0h1m4 0h1m4 0h1m4 0h1m6 0h2m12 0h1m4 0h1m13 0h1m10 0h1m5 0h1m2 0h1m6 0h1m4 0h1m2 0h1"/>
<path stroke="#dc1efb" stroke-width="7.36" d="M113.4 411.06h1m6 0h1m14 0h1m32 0h1m41 0h1m34 0h1"/>
<path stroke="#9816b6" stroke-width="7.36" d="M119.4 411.06h1m68 0h1m6 0h1M138.4 484.66h1"/>
<path stroke="#ae19cd" stroke-width="7.36" d="M121.4 411.06h1m84 0h1m36 0h1"/>
<path stroke="#580e72" stroke-width="7.36" d="M126.4 411.06h1m15 0h1M154.4 418.42h1m4 0h1m2 0h1m11 0h1m1 0h2m38 0h1M111.4 484.66h1m15 0h1m12 0h1m1 0h1m12 0h1m6 0h1m1 0h1m9 0h1m7 0h2m2 0h1m3 0h1m21 0h2m1 0h1m18 0h1m6 0h1m6 0h1M223.4 492.02h1m20 0h1M194.4 499.38h1"/>
<path stroke="#c51ce4" stroke-width="7.36" d="M131.4 411.06h1m103 0h1m5 0h1m5 0h1"/>
<path stroke="#131304" stroke-width="7.36" d="M137.4 411.06h1m6 0h1m17 0h1m3 0h1m2 0h2m4 0h1m3 0h1m12 0h1m3 0h1m17 0h1m2 0h1m11 0h1m1 0h1m1 0h1m8 0h1m11 0h1.03m3.08 0h1.03m4.11 0h1.03M186.4 418.42h1m69 0h1.03M256.4 425.78h1.03M251.3 433.14h1.03m2.05 0h1.03m4.11 0h1.03M259.5 440.5h1.03M262.6 447.86h1.03M253.4 455.22h1.03m3.08 0h1.03m2.05 0h1.03M252.3 462.58h1.03M254.4 469.94h1.03m10.3 0h1.03m2.05 0h1.03M268.8 477.3h1.03M251.3 484.66h2.06m3.08 0h2.06m8.22 0h2.06M256.4 492.02h1.03m1.03 0h2.06M262.6 506.74h1.03M252.3 514.1h1.03m4.11 0h1.03m2.05 0h1.03m2.05 0h1.03m3.08 0h1.03M256.4 521.46h1.03m2.05 0h1.03m4.11 0h1.03M253.4 528.82h1.03m4.11 0h1.03m3.08 0h1.03m3.08 0h1.03M251.3 536.18h1.03m6.16 0h1.03m2.05 0h2.06m4.11 0h1.03M252.3 543.54h1.03m6.16 0h1.03m8.22 0h1.03M256.4 550.9h1.03M257.5 558.26h1.03M252.3 565.62h2.06m6.16 0h1.03m4.11 0h1.03M257.5 572.98h1.03m3.08 0h1.03M251.3 580.34h1.03m5.14 0h1.03m3.08 0h1.03"/>
<path stroke="#6d1089" stroke-width="7.36" d="M226.4 411.06h1M125.4 418.42h1m7 0h1m37 0h1m20 0h1M115.4 484.66h1m19 0h1m7 0h1m1 0h1m7 0h1m38 0h1m8 0h1m45 0h1"/>
<path stroke="#82139f" stroke-width="7.36" d="M201.4 418.42h1m13 0h1M169.4 484.66h1m32 0h1"/>
<line x1="251.1" y1="385.3" x2="251.1" y2="591.4" stroke="#777" stroke-width="0.8"/>
<text x="102.9" y="390.9" font-size="5.2" fill="#222" text-anchor="end" stroke="#222" stroke-width="0.11">ITGAM</text>
<text x="102.9" y="398.2" font-size="5.2" fill="#222" text-anchor="end" stroke="#222" stroke-width="0.11">CD274</text>
<text x="102.9" y="405.6" font-size="5.2" fill="#222" text-anchor="end" stroke="#222" stroke-width="0.11">TNFRSF13B</text>
<text x="102.9" y="413.0" font-size="5.2" fill="#222" text-anchor="end" stroke="#222" stroke-width="0.11">B2M</text>
<text x="102.9" y="420.3" font-size="5.2" fill="#222" text-anchor="end" stroke="#222" stroke-width="0.11">S100A6</text>
<text x="102.9" y="427.7" font-size="5.2" fill="#222" text-anchor="end" stroke="#222" stroke-width="0.11">KIAA1430</text>
<text x="102.9" y="435.0" font-size="5.2" fill="#222" text-anchor="end" stroke="#222" stroke-width="0.11">APBA2</text>
<text x="102.9" y="442.4" font-size="5.2" fill="#222" text-anchor="end" stroke="#222" stroke-width="0.11">KLRC4</text>
<text x="102.9" y="449.8" font-size="5.2" fill="#222" text-anchor="end" stroke="#222" stroke-width="0.11">AHNAK</text>
<text x="102.9" y="457.1" font-size="5.2" fill="#222" text-anchor="end" stroke="#222" stroke-width="0.11">XCL1</text>
<text x="102.9" y="464.5" font-size="5.2" fill="#222" text-anchor="end" stroke="#222" stroke-width="0.11">PYHIN1</text>
<text x="102.9" y="471.8" font-size="5.2" fill="#222" text-anchor="end" stroke="#222" stroke-width="0.11">HNRPLL</text>
<text x="102.9" y="479.2" font-size="5.2" fill="#222" text-anchor="end" stroke="#222" stroke-width="0.11">TRAT1</text>
<text x="102.9" y="486.6" font-size="5.2" fill="#222" text-anchor="end" stroke="#222" stroke-width="0.11">NLRC5</text>
<text x="102.9" y="493.9" font-size="5.2" fill="#222" text-anchor="end" stroke="#222" stroke-width="0.11">FLNA</text>
<text x="102.9" y="501.3" font-size="5.2" fill="#222" text-anchor="end" stroke="#222" stroke-width="0.11">PBXIP1</text>
<text x="102.9" y="508.6" font-size="5.2" fill="#222" text-anchor="end" stroke="#222" stroke-width="0.11">STAT4</text>
<text x="102.9" y="516.0" font-size="5.2" fill="#222" text-anchor="end" stroke="#222" stroke-width="0.11">NELL2</text>
<text x="102.9" y="523.4" font-size="5.2" fill="#222" text-anchor="end" stroke="#222" stroke-width="0.11">KLRB1</text>
<text x="102.9" y="530.7" font-size="5.2" fill="#222" text-anchor="end" stroke="#222" stroke-width="0.11">SAMHD1</text>
<text x="102.9" y="538.1" font-size="5.2" fill="#222" text-anchor="end" stroke="#222" stroke-width="0.11">MT1F</text>
<text x="102.9" y="545.4" font-size="5.2" fill="#222" text-anchor="end" stroke="#222" stroke-width="0.11">SAMD10</text>
<text x="102.9" y="552.8" font-size="5.2" fill="#222" text-anchor="end" stroke="#222" stroke-width="0.11">CD8B</text>
<text x="102.9" y="560.2" font-size="5.2" fill="#222" text-anchor="end" stroke="#222" stroke-width="0.11">EXOC3</text>
<text x="102.9" y="567.5" font-size="5.2" fill="#222" text-anchor="end" stroke="#222" stroke-width="0.11">MLLT3</text>
<text x="102.9" y="574.9" font-size="5.2" fill="#222" text-anchor="end" stroke="#222" stroke-width="0.11">TSPAN18</text>
<text x="102.9" y="582.2" font-size="5.2" fill="#222" text-anchor="end" stroke="#222" stroke-width="0.11">TGIF1</text>
<text x="102.9" y="589.6" font-size="5.2" fill="#222" text-anchor="end" stroke="#222" stroke-width="0.11">UBD</text>
<rect x="105.4" y="377.2" width="145.6" height="4.4" fill="#f26b6b"/>
<rect x="251.1" y="377.2" width="18.7" height="4.4" fill="#64dcdc"/>
<rect x="72.7" y="400.2" width="198.1" height="8.0" fill="none" stroke="#c0282a" stroke-width="0.9"/>
<rect x="72.7" y="443.6" width="198.1" height="7.7" fill="none" stroke="#c0282a" stroke-width="0.9"/>
<rect x="440.8" y="379.1" width="168.0" height="215.0" fill="#000"/>
<path stroke="#0d0216" stroke-width="4.48" d="M440.8 381.34h107m2 0h47m3.73 0h1.03M440.8 385.82h156M467.8 394.78h1m21 0h4m6 0h4m4 0h2m3 0h5m16 0h1m2 0h1m11 0h1m5 0h3m3 0h2m9 0h4m6 0h2m13.6 0h2.07m1.03 0h1.03M461.8 408.22h2m3 0h3m26 0h3m44 0h1m13 0h4m3 0h1m12 0h2m10 0h2m15.9 0h1.03M446.8 421.66h2m6 0h1m27 0h1m71 0h2m23 0h1m5 0h3m2 0h1M444.8 430.62h2m4 0h2m2 0h1m13 0h2m18 0h3m24 0h2m38 0h2m11 0h2m33.9 0h1.03M440.8 448.54h1m69 0h1m30 0h1m10 0h1m10 0h1m11 0h2m2 0h1m4 0h1m2 0h2M554.8 453.02h2m1 0h1M440.8 457.5h2m8 0h3m21 0h1m17 0h1m9 0h1m1 0h1m16 0h2m1 0h1m11 0h6m51 0h2m3.7 0h1.03m7.24 0h1.03M440.8 461.98h3m1 0h2m20 0h2m4 0h2m30 0h2m7 0h1m1 0h2m14 0h1m19 0h2m18 0h1m25.7 0h1.03m2.07 0h2.07m4.13 0h1.03M440.8 470.94h3m2 0h11m2 0h10m3 0h18m3 0h9m2 0h9m1 0h2m1 0h2m1 0h1m1 0h1m8 0h4m2 0h13m4 0h3m1 0h2m1 0h4m2 0h4m2 0h7m3 0h4m2 0h2m3 0h3m0.633 0h1.03m2.07 0h1.03m1.04 0h1.03M480.8 475.42h4m35 0h3m2 0h5m19 0h2m17 0h7m10 0h2m13.7 0h1.03M454.8 479.9h1m1 0h2m47 0h2m4 0h2m15 0h2m15 0h1m3 0h2m49.8 0h2.07m2.06 0h1.03m1.04 0h1.03M474.8 484.38h2m23 0h2m3 0h4m6 0h3m1 0h1m5 0h7m15 0h2m3 0h2m2 0h2m20 0h6m13.6 0h1.03m1.04 0h1.03M443.8 488.86h1m23 0h4m4 0h4m30 0h1m13 0h1m39 0h6m4 0h3m12 0h2m4 0h2m-0.4 0h2.07m4.13 0h1.03M446.8 493.34h2m4 0h1m1 0h1m53 0h1m27 0h2m1 0h4m4 0h2m5 0h1m1 0h2m16 0h2m25.8 0h1.03M458.8 497.82h3m6 0h2m2 0h3m4 0h2m20 0h1m1 0h2m26 0h2m1 0h1m7 0h3m3 0h3m19 0h4m20 0h3m5.8 0h1.03m1.04 0h1.03M440.8 502.3h3m9 0h4m3 0h4m5 0h4m13 0h6m55 0h4m23 0h1m1 0h1m9 0h9m11.9 0h1.03M447.8 506.78h2m19 0h1m5 0h1m4 0h2m16 0h2m5 0h1m8 0h4m11 0h2m1 0h1m14 0h1m16 0h2m1 0h2m17 0h1m9.6 0h2.07M446.8 511.26h3m28 0h1m2 0h5m2 0h2m18 0h2m23 0h3m14 0h1m4 0h5m1 0h1m9 0h4m4 0h7m10.6 0h2.07m1.03 0h1.03m1.04 0h2.07M443.8 520.22h1m29 0h3m23 0h4m10 0h2m7 0h4m22 0h1m10 0h1m21 0h2m7 0h3M444.8 524.7h2m16 0h1m6 0h2m9 0h2m3 0h4m14 0h3m17 0h1m1 0h1m8 0h1m11 0h1m3 0h1m1 0h4m14 0h2m6 0h3m14.6 0h1.03m2.07 0h2.07m2.06 0h1.03m2.07 0h1.03M447.8 533.66h1m2 0h1m3 0h1m6 0h5m36 0h2m4 0h2m48 0h1m6 0h2m19 0h2m13.8 0h1.03M442.8 538.14h2m20 0h3m7 0h4m13 0h2m10 0h2m77 0h1m3 0h2m7.6 0h1.03m9.3 0h1.03M447.8 556.06h1m14 0h4m2 0h4m3 0h3m10 0h8m70 0h5m28.7 0h2.07m1.03 0h1.03m3.1 0h1.03M442.8 569.5h12m3 0h1m6 0h7m1 0h8m1 0h3m2 0h2m2 0h2m4 0h2m1 0h11m2 0h6m1 0h2m2 0h10m6 0h6m6 0h4m4 0h5m4 0h21m4 0h3m1.67 0h2.07m3.1 0h1.03m2.07 0h1.03M461.8 573.98h2m20 0h1m1 0h1m2 0h4m4 0h2m43 0h1m3 0h2m45 0h3m6.8 0h2.07M475.8 578.46h1m50 0h2m12 0h2m5 0h3m15 0h1m17 0h3m6 0h3m1.63 0h1.03m1.04 0h1.03m3.1 0h1.03M444.8 587.42h2m18 0h3m18 0h2m26 0h4m4 0h4m28 0h2m9 0h1m5 0h4m12 0h4m5 0h1m0.633 0h2.07m3.1 0h1.03m3.1 0h1.03"/>
<path stroke="#c6c328" stroke-width="4.48" d="M596.4 381.34h1.03M602.6 385.82h1.03M466.8 390.3h1m29 0h1m2 0h1m63 0h1m15 0h1m4 0h2M483.8 394.78h1m38 0h1m39 0h1M481.8 399.26h1m107 0h1M488.8 403.74h1m26 0h1M572.8 408.22h1m29.8 0h1.03M485.8 412.7h1m90 0h1M447.8 417.18h1m65 0h1m26 0h1m20 0h1m5 0h1m30.7 0h1.03M442.8 421.66h1m160 0h1.03M453.8 426.14h1m123 0h1m5 0h1M547.8 430.62h1m1 0h1m57 0h1.03M468.8 435.1h1m57 0h1m5 0h1m17 0h1M470.8 439.58h1m50 0h1m64 0h1M512.8 444.06h1m84.7 0h1.03M607.8 448.54h1.03M596.4 453.02h1.03m9.3 0h1.03M457.8 461.98h1m16 0h1m79 0h1M475.8 466.46h1m58 0h1m31 0h1M556.8 470.94h1M473.8 475.42h1m43 0h1m27 0h1m52.7 0h1.03M551.8 479.9h1m51.9 0h1.03M478.8 484.38h1m7 0h1M560.8 488.86h1m18 0h1m22.8 0h1.03M468.8 493.34h1m96 0h1M448.8 497.82h1m8 0h1m11 0h1m45 0h1m79.6 0h2.07M445.8 502.3h1m151 0h1.03m5.17 0h1.03M463.8 506.78h1m9 0h1m7 0h1m63 0h1m61 0h1.03M466.8 511.26h1m133 0h1.03M448.8 515.74h1m52 0h1m44 0h1m42 0h1M460.8 524.7h2m62 0h1M440.8 529.18h1m13 0h2m57 0h2m35 0h1m5 0h1m46.9 0h1.03m2.07 0h1.03M456.8 533.66h1m33 0h1m14 0h1m51 0h1M589.8 538.14h1m8.7 0h1.03M481.8 542.62h1m31 0h1m12 0h1m10 0h1M478.8 547.1h1m51 0h1m15 0h1M489.8 551.58h1m3 0h1m1 0h1m11 0h1m39 0h1m49.7 0h1.03M503.8 556.06h1M571.8 560.54h1M524.8 565.02h1m29 0h1m46.8 0h1.03M498.8 569.5h1m66 0h1M452.8 582.94h2m3 0h1m14 0h1m12 0h1m7 0h1m26 0h1m10 0h1m30 0h1m30 0h2M454.8 587.42h1m70 0h1m33 0h1M441.8 591.9h1m45 0h1m23 0h1m10 0h1m17 0h1m36 0h1m27.9 0h1.03"/>
<path stroke="#131304" stroke-width="4.48" d="M597.4 381.34h1.03m7.24 0h1.03m1.04 0h1.03M601.6 385.82h1.03m2.07 0h1.03M441.8 394.78h1m152 0h2M475.8 448.54h1m5 0h1m2 0h1M507.8 453.02h1M598.5 470.94h2.07M604.7 569.5h1.03m2.07 0h1.03"/>
<path stroke="#272708" stroke-width="4.48" d="M598.5 381.34h1.03M607.8 385.82h1.03M523.8 394.78h3M441.8 448.54h1m18 0h1m15 0h1m66 0h1M446.8 453.02h1m27 0h1m26 0h1m39 0h1m25 0h1M596.4 470.94h1.03M597.4 569.5h1.03"/>
<path stroke="#b2af24" stroke-width="4.48" d="M599.5 381.34h1.03m3.1 0h2.07M598.5 385.82h1.03m4.14 0h1.03M457.8 390.3h1m21 0h2m19 0h1m21 0h1m27 0h1m9 0h1m29 0h1m9.77 0h1.03M451.8 394.78h1m147 0h1.03m5.17 0h1.03M464.8 399.26h1m10 0h1m9 0h1m8 0h1m3 0h1m5 0h2m38 0h1M450.8 403.74h1m149 0h1.03M441.8 408.22h1m145 0h1m10.7 0h1.03m2.07 0h1.03m4.14 0h1.03M461.8 412.7h1m46 0h1m8 0h1m22 0h1m52 0h1M446.8 417.18h1m17 0h1m18 0h1m23 0h1m10 0h1m13 0h1m55 0h1m6.6 0h1.03m1.04 0h1.03m1.04 0h1.03m5.17 0h1.03M472.8 421.66h1m46 0h1m16 0h1m27 0h1m30.6 0h1.03m7.24 0h1.03M473.8 426.14h1m124 0h1.03m3.1 0h1.03M510.8 430.62h1m11 0h1m36 0h1m17 0h1m15 0h1m7.8 0h1.03M536.8 435.1h2m4 0h1m6 0h1m22 0h1m24.7 0h1.03M453.8 439.58h1m47 0h1m93.6 0h2.07M456.8 444.06h1m3 0h1m8 0h1m31 0h1m74 0h1m18.6 0h1.03M596.4 448.54h2.07m3.1 0h1.03M597.4 453.02h1.03m1.04 0h2.07m4.13 0h1.03m1.04 0h1.03M600.5 457.5h1.03M459.8 461.98h1m54 0h1m17 0h1m44 0h1M465.8 466.46h1m4 0h1m24 0h1m5 0h1m9 0h1m4 0h1m15 0h1m9 0h1m12 0h1m24 0h1M489.8 475.42h1m72 0h1m18 0h1m5 0h1m14.8 0h1.03M515.8 479.9h1m21 0h1M494.8 484.38h1M480.8 488.86h1m34 0h1m89.9 0h1.03M443.8 493.34h1m17 0h1m44 0h1m78 0h1m19.9 0h1.03M499.8 497.82h1m1 0h1m2 0h1m27 0h1m13 0h1m28 0h1m7 0h1m13.7 0h1.03M506.8 506.78h1M550.8 511.26h1M468.8 515.74h1m99 0h1m9 0h1M529.8 524.7h1m77 0h1.03M478.8 529.18h1m16 0h1m7 0h1m2 0h1m22 0h1m62 0h1m7.77 0h1.03M484.8 533.66h1m111 0h1.03m2.07 0h1.03m4.14 0h1.03M457.8 542.62h2m72 0h1M451.8 547.1h1m84 0h1m16 0h1M585.8 551.58h1M566.8 560.54h1M509.8 565.02h1m9 0h1m20 0h1m5 0h1m50.7 0h1.03M596.4 569.5h1.03m3.1 0h1.03M458.8 578.46h1m95 0h1M442.8 582.94h2m36 0h1m2 0h1m4 0h1m24 0h1m21 0h1m24 0h1m2 0h1m15 0h1m10 0h2m3.6 0h1.03M455.8 587.42h1m64 0h1M449.8 591.9h1m64 0h2"/>
<path stroke="#dad62c" stroke-width="4.48" d="M601.6 381.34h2.07M600.5 385.82h1.03M446.8 390.3h1m6 0h2m60 0h1m4 0h1m13 0h1m66.8 0h1.03M471.8 394.78h1m26 0h1M484.8 399.26h1m27 0h1m27 0h1m56.7 0h1.03M523.8 403.74h1m20 0h1m53.7 0h1.03M601.6 408.22h1.03M550.8 412.7h1m19 0h1m3 0h1m20.6 0h1.03m1.04 0h1.03m2.07 0h2.07M449.8 417.18h1m6 0h1m73 0h1m7 0h1m23 0h1m38.8 0h1.03m1.04 0h1.03M470.8 421.66h1m63 0h1m3 0h1m39 0h1m9 0h1M523.8 426.14h1m49 0h1m12 0h1m16.9 0h2.07M603.6 430.62h1.03M442.8 435.1h1m26 0h1m37 0h1m80 0h1m7.63 0h1.03m2.07 0h1.03M491.8 439.58h1m107 0h1.03m3.1 0h1.03M494.8 444.06h1m11 0h1m51 0h1M603.6 448.54h1.03m2.07 0h1.03M603.6 453.02h1.03M503.8 457.5h1M489.8 461.98h1m3 0h1m8 0h1m83 0h1m12.7 0h1.03M442.8 466.46h2m33 0h1m40 0h2m2 0h1m6 0h1m6 0h1M603.6 470.94h1.03m2.07 0h1.03M580.8 475.42h1m5 0h1m9.63 0h1.03m4.14 0h1.03M483.8 479.9h1M583.8 488.86h1M455.8 493.34h1m53 0h1m62 0h1m24.7 0h1.03m6.2 0h1.03M466.8 497.82h1m29 0h1M531.8 502.3h1m71.9 0h1.03M472.8 506.78h1m69 0h1m11 0h1m37 0h1M559.8 511.26h1M534.8 515.74h1m6 0h1m2 0h1m11 0h1m15 0h1M560.8 520.22h1M458.8 524.7h1m20 0h1M459.8 529.18h1m10 0h1m6 0h1m2 0h1m50 0h1m22 0h1M486.8 538.14h1m111 0h1.03m1.04 0h1.03m2.07 0h1.03M475.8 542.62h1m43 0h1m10 0h1m11 0h1m43 0h1M453.8 547.1h1m126 0h1M461.8 551.58h1m44 0h1m54 0h1m11 0h1m25.7 0h1.03M451.8 560.54h1m15 0h1m71 0h1m24 0h1m8 0h1m5 0h1m12 0h1M454.8 565.02h1m19 0h1m66 0h1m29 0h1m6 0h1m4 0h1M580.8 573.98h1m3 0h1M596.4 578.46h1.03M446.8 582.94h1m23 0h1m88 0h1M451.8 587.42h1m6 0h1m25 0h1M537.8 591.9h1m22 0h1m11 0h1"/>
<path stroke="#777518" stroke-width="4.48" d="M606.7 381.34h1.03M489.8 390.3h1m2 0h1m15 0h1m2 0h1m52 0h1m11 0h1m17 0h1M575.8 394.78h1M452.8 399.26h1m110 0h1m9 0h1m16 0h1m3 0h1M492.8 403.74h1m62 0h1M488.8 408.22h1M499.8 412.7h1m5 0h1m22 0h1m8 0h1m40 0h1M497.8 417.18h1m56 0h1m5 0h1m7 0h1M466.8 421.66h1m106 0h1M524.8 426.14h1M453.8 430.62h1m40 0h2m79 0h1M511.8 435.1h1m45 0h1m21 0h1M460.8 439.58h1M531.8 444.06h1M447.8 448.54h1m4 0h1m2 0h1m3 0h1m3 0h1m23 0h1m2 0h1m8 0h1m42 0h1m5 0h1m4 0h1m6 0h1m4 0h1m14 0h1m8 0h1M469.8 453.02h1m6 0h1m4 0h1m30 0h1m17 0h1m3 0h1m18 0h1m6 0h1m2 0h1m20 0h1m8 0h1M549.8 461.98h1M454.8 466.46h1m29 0h1m27 0h1m7 0h1m31 0h1m22 0h1m7 0h1M518.8 470.94h1M529.8 475.42h1m20 0h1M458.8 479.9h1m50 0h1M471.8 488.86h1m69 0h1M487.8 493.34h1m37 0h1m26 0h1m5 0h1M475.8 497.82h1m97 0h1M583.8 502.3h1M556.8 506.78h1M482.8 515.74h1m83 0h1M563.8 520.22h1M522.8 524.7h1m43 0h1M452.8 529.18h1m13 0h1m17 0h1m1 0h1m62 0h1m2 0h1M531.8 533.66h1M594.8 538.14h1M518.8 542.62h1m57 0h1M512.8 547.1h1m44 0h1m7 0h1m18 0h1M452.8 551.58h1m4 0h1m2 0h1M562.8 556.06h1M464.8 560.54h1m40 0h1m75 0h1M485.8 565.02h1m14 0h1m91 0h1M513.8 573.98h1M448.8 582.94h1m13 0h1m1 0h1m27 0h1m3 0h1m6 0h1m10 0h1m56 0h2M518.8 591.9h1m74 0h1"/>
<path stroke="#1e052d" stroke-width="4.48" d="M596.4 385.82h1.03M442.8 394.78h1m6 0h2m2 0h1m4 0h1m1 0h1m2 0h1m21 0h2m1 0h1m29 0h2m1 0h1m4 0h3m1 0h3m5 0h2m5 0h2m30 0h1m14 0h2m11.9 0h1.03M562.8 403.74h2M442.8 408.22h1m3 0h2m5 0h4m13 0h1m5 0h4m1 0h7m6 0h1m3 0h2m1 0h2m1 0h2m3 0h3m3 0h7m5 0h4m2 0h1m7 0h1m1 0h2m4 0h3m8 0h3m1 0h5m1 0h2m1 0h2m7 0h4m4 0h6m0.633 0h1.03m2.07 0h1.03M443.8 421.66h3m4 0h4m4 0h2m1 0h2m6 0h1m3 0h3m1 0h5m1 0h4m6 0h3m1 0h1m4 0h4m14 0h6m4 0h4m9 0h4m6 0h1m2 0h1m3 0h2m1 0h1m4 0h2m2 0h1m1 0h4m2 0h1m11 0h1m5.7 0h1.03m5.17 0h1.03m1.04 0h1.03M440.8 430.62h2m1 0h1m8 0h1m6 0h2m5 0h2m2 0h2m2 0h2m1 0h4m1 0h4m1 0h1m10 0h2m4 0h6m1 0h1m1 0h2m2 0h5m1 0h2m6 0h2m1 0h1m2 0h1m7 0h2m1 0h1m1 0h3m4 0h2m2 0h2m2 0h3m2 0h5m7 0h4m2 0h4m4.63 0h1.03m2.07 0h2.07m3.1 0h1.03M456.8 435.1h6m16 0h2m53 0h3m4 0h2m24 0h4M458.8 448.54h1m20 0h2m24 0h1m91.7 0h1.03m5.17 0h2.07M480.8 453.02h1M442.8 457.5h8m6 0h4m1 0h3m15 0h2m4 0h5m3 0h2m6 0h1m3 0h4m1 0h1m4 0h6m6 0h2m2 0h5m11 0h5m2 0h6m5 0h10m4 0h2m3 0h2m9 0h1m-0.4 0h1.03m1.04 0h1.03m3.1 0h1.03m2.07 0h1.03M443.8 461.98h1m2 0h4m2 0h1m1 0h3m1 0h1m2 0h5m4 0h2m6 0h4m2 0h3m4 0h2m1 0h1m1 0h6m1 0h1m6 0h3m4 0h7m3 0h2m6 0h7m11 0h1m5 0h5m1 0h5m5 0h2m16 0h2m8.87 0h1.03m1.04 0h1.03M440.8 475.42h4m1 0h8m3 0h1m1 0h4m1 0h3m9 0h4m7 0h2m3 0h2m1 0h7m2 0h11m1 0h2m13 0h2m4 0h1m4 0h2m3 0h2m3 0h1m3 0h7m1 0h4m15 0h1m9 0h2m13 0h1.03M447.8 479.9h2m10 0h2m7 0h4m3 0h8m4 0h4m2 0h10m1 0h1m11 0h1m1 0h10m2 0h7m1 0h7m3 0h1m3 0h8m1 0h14m3 0h4m2 0h1m1 0h3m1 0h2m2 0h2m1.67 0h3.1m5.17 0h1.03M441.8 484.38h1m8 0h3m3 0h6m3 0h5m9 0h1m17 0h2m4 0h1m9 0h1m5 0h1m1 0h1m9 0h2m2 0h4m1 0h5m3 0h2m3 0h2m2 0h5m5 0h1m3 0h6m6 0h8m2 0h3m11 0h1.03M440.8 488.86h3m7 0h3m3 0h1m1 0h9m14 0h4m1 0h5m4 0h14m1 0h5m1 0h3m1 0h3m1 0h4m7 0h2m2 0h2m1 0h6m2 0h10m1 0h2m6 0h4m11 0h4m12.8 0h1.03m2.07 0h1.03M441.8 493.34h2m1 0h1m3 0h1m8 0h4m10 0h1m5 0h4m7 0h6m7 0h5m1 0h1m2 0h3m3 0h8m14 0h1m4 0h4m2 0h3m1 0h1m6 0h4m4 0h1m4 0h1m3 0h2m9 0h2m3 0h3m2.7 0h1.03m4.14 0h1.03M440.8 497.82h1m1 0h3m2 0h1m1 0h7m5 0h1m1 0h1m1 0h1m8 0h1m1 0h2m10 0h8m1 0h1m7 0h7m5 0h2m4 0h7m4 0h2m2 0h3m22 0h2m3 0h1m5 0h1m3 0h5m1 0h5m9.7 0h1.03m6.2 0h1.03M446.8 502.3h6m14 0h2m6 0h2m1 0h2m3 0h3m7 0h1m7 0h3m3 0h5m2 0h1m3 0h5m3 0h4m1 0h1m1 0h1m2 0h3m5 0h1m13 0h1m12 0h3m3 0h2m6 0h1m10.6 0h1.03m1.04 0h1.03M443.8 506.78h4m3 0h2m2 0h9m6 0h3m12 0h3m2 0h2m4 0h2m8 0h1m1 0h2m8 0h4m1 0h2m19 0h1m5 0h5m1 0h1m1 0h5m3 0h1m7 0h9m12 0h2m1.67 0h3.1m5.17 0h1.03M445.8 511.26h1m3 0h4m9 0h4m1 0h10m1 0h2m16 0h4m5 0h2m2 0h7m6 0h4m10 0h3m4 0h3m1 0h2m13 0h4m19 0h1m1 0h1m1 0h2m2 0h3m11 0h1.03M440.8 520.22h3m1 0h4m7 0h3m1 0h13m6 0h2m5 0h4m1 0h1m2 0h3m13 0h1m1 0h2m3 0h3m11 0h3m14 0h1m5 0h6m2 0h2m1 0h7m3 0h1m2 0h4m7 0h2m4 0h2m0.633 0h1.03m1.04 0h1.03m2.07 0h1.03M440.8 524.7h4m2 0h2m6 0h4m9 0h2m3 0h1m9 0h3m6 0h4m2 0h5m4 0h2m2 0h3m1 0h8m5 0h2m7 0h4m4 0h2m1 0h3m8 0h2m4 0h2m1 0h3m3 0h5m5 0h1m1 0h2m4 0h4m8.87 0h1.03M441.8 533.66h2m1 0h1m1 0h1m4 0h1m16 0h3m1 0h4m2 0h6m7 0h10m11 0h1m4 0h14m1 0h5m3 0h4m6 0h7m2 0h6m2 0h3m1 0h11m11 0h2m2.67 0h1.03m1.04 0h1.03m2.07 0h1.03m1.04 0h1.03m1.04 0h1.03M440.8 538.14h2m2 0h20m5 0h3m7 0h3m2 0h2m2 0h3m5 0h7m4 0h6m3 0h2m8 0h6m4 0h4m2 0h3m3 0h2m18 0h2m4 0h8m1 0h3m6 0h2m1 0h1m7.87 0h1.03M440.8 556.06h4m4 0h4m1 0h1m7 0h1m4 0h2m10 0h7m2 0h1m11 0h3m4 0h2m4 0h4m8 0h2m6 0h3m5 0h2m5 0h4m4 0h7m1 0h3m5 0h3m11 0h2m6 0h3m-0.4 0h1.03m1.04 0h2.07m4.13 0h3.1M440.8 573.98h2m1 0h5m5 0h5m8 0h10m1 0h6m3 0h2m10 0h1m4 0h4m3 0h3m1 0h4m2 0h4m2 0h9m2 0h4m1 0h1m4 0h10m6 0h1m4 0h2m2 0h3m2 0h3m1 0h3m1 0h1m9 0h1m-0.4 0h1.03m2.07 0h2.07m3.1 0h2.07M447.8 578.46h2m5 0h4m4 0h3m3 0h3m2 0h2m9 0h6m9 0h2m5 0h4m2 0h7m9 0h8m2 0h2m2 0h4m4 0h4m1 0h10m5 0h2m9 0h2m5 0h1m1 0h2m7.73 0h1.03m6.2 0h1.03M446.8 587.42h3m3 0h2m6 0h4m3 0h10m1 0h6m3 0h9m7 0h3m1 0h6m4 0h3m6 0h3m3 0h3m6 0h9m11 0h2m2 0h5m20 0h3m2.6 0h1.03m2.07 0h1.03m1.04 0h1.03m2.07 0h1.03m2.07 0h1.03M467.8 591.9h2m19 0h2m15 0h1m1 0h1m41 0h1m42 0h1m5.7 0h1.03"/>
<path stroke="#eeea30" stroke-width="4.48" d="M597.4 385.82h1.03M477.8 390.3h1m19 0h1m14 0h1m19 0h1m13 0h1m26 0h1m17 0h1m5.67 0h1.03M482.8 394.78h1M482.8 403.74h1m7 0h1m25 0h1m19 0h1m59.6 0h1.03m6.2 0h1.03M604.7 408.22h2.07M445.8 412.7h1m38 0h1m25 0h1m56 0h1m37.9 0h1.03M462.8 417.18h1m7 0h1m132 0h1.03M517.8 421.66h1m87.9 0h1.03M506.8 426.14h2m71 0h1m19.7 0h1.03M464.8 430.62h1m122 0h1m17.9 0h1.03M596.4 435.1h1.03M560.8 439.58h1M520.8 444.06h1m35 0h1m46.9 0h1.03M599.5 448.54h1.03m2.07 0h1.03M597.4 457.5h1.03M597.4 461.98h1.03m1.04 0h1.03M605.7 475.42h1.03M457.8 488.86h1M481.8 493.34h1m31 0h1m41 0h1m30 0h1m15.8 0h1.03M605.7 506.78h1.03M502.8 511.26h1m102 0h1.03M452.8 515.74h1m37 0h1m19 0h1M489.8 520.22h1m2 0h1m113 0h1.03M453.8 524.7h1M441.8 529.18h1m86 0h1M453.8 533.66h1m116 0h1M570.8 538.14h1M472.8 542.62h1m34 0h2m74 0h1m13.7 0h1.03M513.8 547.1h1m56 0h1M483.8 551.58h1m4 0h1m98 0h1m17.9 0h1.03M447.8 560.54h1m11 0h1m15 0h1m40 0h1m2 0h1m11 0h1m18 0h1M510.8 565.02h1M476.8 573.98h1m93 0h1M454.8 582.94h1m113 0h1M600.5 587.42h1.03M604.7 591.9h1.03"/>
<path stroke="#310844" stroke-width="4.48" d="M605.7 385.82h1.03M483.8 390.3h4M469.8 394.78h2m13 0h1m12 0h1m5 0h3m57 0h1m3 0h2m10 0h2m6 0h2m6.6 0h1.03m4.14 0h1.03m1.04 0h1.03M458.8 403.74h2m4 0h4m7 0h7m1 0h1m2 0h2m1 0h1m1 0h1m1 0h1m3 0h2m28 0h2m5 0h2m1 0h2m6 0h1m29 0h5m9 0h2m9.77 0h2.07m2.06 0h1.03M440.8 408.22h1m2 0h3m3 0h3m5 0h4m11 0h4m15 0h3m6 0h1m2 0h1m2 0h3m3 0h3m7 0h5m4 0h2m1 0h7m4 0h4m3 0h4m13 0h1m10 0h2m4 0h1M445.8 417.18h1m5 0h4m26 0h2m1 0h1m31 0h1m11 0h2m39 0h3m35 0h1.03M448.8 421.66h2m14 0h2m1 0h2m7 0h1m11 0h2m6 0h1m1 0h4m4 0h11m9 0h4m7 0h1m1 0h2m1 0h1m4 0h6m5 0h1m6 0h2m3 0h2m17 0h1m4 0h2m0.633 0h2.07m2.06 0h1.03M447.8 430.62h1m1 0h1m5 0h4m4 0h1m1 0h1m6 0h1m3 0h1m4 0h1m9 0h1m1 0h1m2 0h2m2 0h4m8 0h1m13 0h5m7 0h7m8 0h2m5 0h1m2 0h2m11 0h1m1 0h3m5 0h1m5 0h1m1 0h2m-0.4 0h1.03m2.07 0h1.03M443.8 435.1h1m1 0h3m2 0h1m11 0h6m2 0h1m10 0h1m1 0h2m4 0h3m4 0h5m1 0h1m1 0h2m6 0h3m5 0h4m1 0h1m12 0h2m4 0h3m1 0h1m2 0h4m3 0h6m6 0h2m8 0h5m9 0h2m2.7 0h1.03m1.04 0h1.03m2.07 0h3.1M495.8 448.54h1m20 0h1m7 0h1m24 0h1m43 0h2M493.8 453.02h1m3 0h2m27 0h1m6 0h1m38 0h1m5 0h2M453.8 457.5h3m8 0h10m1 0h4m2 0h4m5 0h2m6 0h3m8 0h1m1 0h4m10 0h2m2 0h2m11 0h5m5 0h2m6 0h5m21 0h7m7.77 0h1.03m1.04 0h2.07m1.03 0h1.03M450.8 461.98h1m9 0h1m7 0h2m12 0h2m4 0h1m1 0h1m15 0h1m1 0h2m14 0h3m6 0h2m7 0h7m1 0h1m4 0h4m13 0h3m3 0h8m1 0h3m1 0h2m2 0h1m-0.4 0h1.03m6.2 0h1.03M607.8 470.94h1.03M454.8 475.42h1m7 0h1m3 0h2m1 0h4m1 0h1m4 0h1m4 0h1m16 0h2m19 0h2m13 0h2m1 0h1m2 0h2m8 0h2m19 0h1m1 0h2m5 0h1m4 0h3m3 0h2m-0.4 0h1.03m1.04 0h1.03m5.17 0h1.03m1.04 0h1.03M440.8 479.9h7m2 0h5m7 0h7m4 0h3m9 0h3m4 0h2m14 0h1m5 0h2m31 0h2m27 0h3m4 0h2m5 0h1m2 0h2m1.6 0h2.07m5.16 0h1.03M440.8 484.38h1m1 0h4m7 0h3m14 0h4m2 0h2m2 0h6m2 0h6m1 0h2m4 0h2m5 0h5m9 0h2m9 0h2m15 0h1m11 0h5m24 0h2m2.6 0h1.03m1.04 0h1.03m1.04 0h3.1m1.03 0h2.07M444.8 488.86h6m3 0h3m16 0h3m4 0h1m5 0h1m5 0h4m33 0h7m2 0h2m9 0h2m30 0h2m16.7 0h1.03m5.17 0h1.03m1.04 0h1.03M450.8 493.34h2m1 0h1m12 0h2m1 0h2m1 0h5m7 0h3m7 0h1m1 0h5m13 0h2m10 0h3m4 0h3m28 0h1m1 0h2m1 0h3m4 0h1m2 0h6m5 0h3m3.63 0h1.03m3.1 0h1.03m5.17 0h1.03M441.8 497.82h1m3 0h2m23 0h1m9 0h5m1 0h2m24 0h3m1 0h1m2 0h4m13 0h2m6 0h2m4 0h5m10 0h1m1 0h1m8 0h1m12 0h4m6.73 0h1.03m2.07 0h1.03m1.04 0h1.03m1.04 0h1.03M456.8 502.3h3m4 0h3m13 0h3m11 0h7m3 0h3m5 0h2m1 0h3m6 0h2m8 0h2m3 0h5m1 0h2m4 0h5m3 0h12m8 0h5m11 0h2m2.7 0h4.13m2.07 0h1.03m1.04 0h1.03M440.8 506.78h3m21 0h4m7 0h4m3 0h2m3 0h2m2 0h4m4 0h4m7 0h2m9 0h1m2 0h2m1 0h1m2 0h1m4 0h4m1 0h2m5 0h2m19 0h5m9 0h3m1 0h6m1 0h1m6.77 0h4.13M440.8 511.26h2m11 0h9m23 0h2m2 0h7m4 0h2m1 0h1m12 0h2m3 0h1m4 0h6m3 0h1m3 0h4m3 0h1m4 0h3m7 0h1m4 0h4m32.8 0h2.07m1.03 0h1.03M448.8 520.22h7m25 0h5m6 0h1m4 0h3m4 0h6m1 0h1m4 0h1m3 0h3m4 0h3m4 0h14m2 0h4m18 0h3m1 0h1m7 0h5m7.6 0h1.03m6.2 0h1.03m1.04 0h1.03m1.04 0h1.03M448.8 524.7h2m9 0h1m3 0h4m6 0h6m10 0h2m4 0h2m11 0h2m16 0h1m3 0h1m1 0h2m1 0h1m4 0h4m12 0h2m2 0h2m10 0h1m9 0h1m4 0h2m1 0h1m4 0h1m0.633 0h2.07m2.06 0h2.07m2.06 0h1.03M440.8 533.66h1m16 0h4m5 0h2m3 0h1m4 0h2m7 0h5m11 0h1m2 0h1m5 0h2m1 0h4m27 0h6m32 0h3m3 0h5m2 0h1m4.77 0h1.03m4.14 0h1.03M482.8 538.14h2m3 0h1m5 0h3m9 0h1m9 0h1m2 0h8m6 0h4m4 0h1m4 0h3m2 0h14m1 0h3m4 0h1m15 0h1m1 0h2m4.63 0h1.03m3.1 0h1.03m3.1 0h1.03m1.04 0h1.03M444.8 556.06h2m8 0h2m2 0h2m12 0h2m11 0h2m10 0h2m5 0h2m2 0h4m4 0h2m4 0h2m2 0h6m6 0h2m2 0h3m6 0h4m19 0h5m1 0h4m3 0h2m12.8 0h1.03M442.8 573.98h1m5 0h5m5 0h3m2 0h3m26 0h4m3 0h4m4 0h3m8 0h2m4 0h2m9 0h2m6 0h2m14 0h4m1 0h4m3 0h1m14 0h6m5.67 0h1.03m2.07 0h1.03m4.14 0h2.07M440.8 578.46h3m6 0h5m5 0h3m3 0h3m3 0h2m3 0h8m10 0h1m1 0h3m2 0h4m5 0h2m7 0h7m10 0h2m8 0h1m19 0h4m2 0h9m5 0h2m1 0h1m5 0h1m1.67 0h1.03m2.07 0h2.07m1.03 0h2.07M440.8 587.42h2m1 0h1m5 0h2m5 0h2m19 0h1m18 0h6m4 0h1m43 0h3m2 0h4m4 0h1m14 0h8m7 0h2m7.83 0h1.03m1.04 0h1.03M440.8 591.9h1m1 0h1m14 0h8m9 0h4m6 0h1m1 0h1m3 0h3m10 0h2m4 0h1m15 0h1m1 0h2m6 0h2m4 0h4m2 0h2m1 0h1m11 0h2m3 0h1m1 0h2m2 0h2m1 0h1m1 0h1m4 0h3m1 0h1m3 0h1m8.77 0h1.03"/>
<path stroke="#9816b6" stroke-width="4.48" d="M440.8 390.3h1m8 0h2m5 0h1m1 0h3m55 0h1m14 0h1m5 0h2m5 0h2m19 0h1m6 0h1m15 0h1m7.63 0h1.03m5.17 0h1.03m2.07 0h1.03M506.8 394.78h1m28 0h1m40 0h1M455.8 399.26h3m18 0h2m15 0h1m3 0h1m12 0h2m1 0h1m22 0h1m42 0h1m1 0h1m16.7 0h1.03m6.2 0h1.03M446.8 412.7h3m4 0h2m83 0h2M446.8 426.14h4m4 0h1m53 0h2m16 0h2m33 0h2m44 0h1.03M455.8 439.58h2m8 0h4m13 0h1m10 0h2m84 0h3m15.7 0h1.03m2.07 0h2.07m1.03 0h2.07M501.8 448.54h2m12 0h1m5 0h1m4 0h1m41 0h1m8 0h1M440.8 453.02h1m2 0h1m12 0h1m35 0h1m23 0h3m5 0h1m14 0h1m18 0h2m22 0h1M456.8 466.46h2m29 0h1m1 0h2m48 0h3m14 0h1m34 0h2m3.63 0h1.03m4.14 0h1.03M470.8 515.74h2m11 0h1m1 0h1m41 0h2m26 0h1m4 0h2m2 0h1m20 0h2m10.7 0h1.03m1.04 0h1.03m3.1 0h1.03M448.8 529.18h4m37 0h3m51 0h1m61.9 0h1.03M459.8 542.62h2m49 0h1m23 0h1m13 0h3m12 0h2m1 0h2m28.6 0h1.03m7.24 0h1.03M489.8 547.1h2m3 0h2m37 0h1m67.8 0h2.07M446.8 551.58h2m34 0h1m1 0h1m2 0h1m44 0h1m6 0h2m19 0h1m19 0h2m6 0h2m17 0h1.03M453.8 560.54h4m8 0h1m37 0h2m81 0h1m13.8 0h1.03m1.04 0h1.03M521.8 565.02h3m8 0h1M487.8 582.94h1m66 0h3m41.7 0h1.03m1.04 0h2.07"/>
<path stroke="#6d1089" stroke-width="4.48" d="M441.8 390.3h2m8 0h2m16 0h2m2 0h1m16 0h2m1 0h1m1 0h1m2 0h1m7 0h1m2 0h2m10 0h1m4 0h2m21 0h1m1 0h3m1 0h3m20 0h1m19.7 0h1.03m4.14 0h2.07M448.8 399.26h4m1 0h2m4 0h5m1 0h7m7 0h1m2 0h2m2 0h1m5 0h1m2 0h1m3 0h2m1 0h1m4 0h1m6 0h4m10 0h1m1 0h5m11 0h2m7 0h1m6 0h1m1 0h1m2 0h2m2 0h2m1 0h1m7 0h1m4 0h2m2 0h3m1 0h1m-0.4 0h2.07m2.06 0h1.03m2.07 0h1.03M455.8 403.74h3m10 0h2m126 0h1.03m1.04 0h1.03M441.8 412.7h1m1 0h2m5 0h2m3 0h1m18 0h1m4 0h3m1 0h1m10 0h1m17 0h4m8 0h4m1 0h1m3 0h1m1 0h1m8 0h4m1 0h1m1 0h5m8 0h2m13 0h2m3 0h2m1 0h2m7.63 0h1.03m1.04 0h1.03m4.14 0h2.07M491.8 417.18h3m2 0h1m1 0h2m24 0h2m22 0h4m39 0h2M440.8 426.14h2m16 0h3m4 0h8m1 0h2m1 0h4m12 0h2m2 0h1m2 0h1m4 0h1m4 0h1m17 0h8m4 0h3m8 0h2m1 0h4m1 0h2m2 0h3m6 0h1m1 0h3m1 0h1m1 0h1m3 0h2m9 0h1m2.7 0h1.03m1.04 0h1.03m1.04 0h1.03M440.8 439.58h9m3 0h1m1 0h1m7 0h3m8 0h5m5 0h2m18 0h5m1 0h1m5 0h2m5 0h3m2 0h3m4 0h4m2 0h3m3 0h2m2 0h1m1 0h1m6 0h1m4 0h9m4 0h2m15 0h2m9.93 0h2.07M443.8 444.06h6m25 0h5m2 0h3m1 0h2m67 0h2m18 0h2m1 0h2m5 0h1m3 0h1m1 0h2m2 0h2m9.93 0h1.03M467.8 448.54h1m2 0h1m26 0h1M448.8 453.02h4m18 0h2m11 0h1m24 0h1m38 0h2m34 0h1m13.7 0h1.03m3.1 0h1.03m1.04 0h1.03M447.8 466.46h1m25 0h2m4 0h2m10 0h3m5 0h2m1 0h1m2 0h1m19 0h4m1 0h2m1 0h1m1 0h1m1 0h2m4 0h6m8 0h2m1 0h1m4 0h1m1 0h6m11 0h1m8 0h1m1 0h1m-0.4 0h1.03m1.04 0h4.13m5.17 0h1.03M453.8 515.74h7m4 0h4m4 0h6m8 0h2m1 0h1m1 0h1m2 0h2m13 0h1m6 0h3m16 0h2m3 0h1m1 0h2m23 0h1m8 0h2m1 0h1m7 0h1m12.8 0h2.07M443.8 529.18h1m1 0h3m9 0h2m1 0h3m34 0h5m2 0h2m1 0h4m4 0h4m3 0h2m6 0h1m2 0h2m3 0h1m14 0h1m1 0h1m1 0h3m7 0h1m1 0h4m1 0h2m2 0h2m4 0h1m5 0h1m2 0h1m1 0h1m-0.4 0h4.13m2.07 0h1.03M446.8 542.62h10m5 0h4m3 0h1m5 0h1m1 0h1m6 0h3m3 0h13m10 0h1m10 0h3m6 0h2m2 0h1m1 0h1m2 0h1m1 0h3m6 0h3m4 0h2m7 0h2m5 0h1m1 0h4m6 0h1m2 0h5m0.6 0h1.03m6.2 0h1.03m2.07 0h2.07M446.8 547.1h2m4 0h1m1 0h5m3 0h1m2 0h2m5 0h3m1 0h2m1 0h1m4 0h5m16 0h4m5 0h6m5 0h4m6 0h1m1 0h2m6 0h1m8 0h1m5 0h2m9 0h6m4 0h2m2 0h2m1 0h3m1 0h4m0.633 0h1.03m2.07 0h2.07m2.06 0h1.03m2.07 0h1.03M440.8 551.58h4m7 0h1m1 0h4m5 0h2m12 0h4m1 0h1m12 0h1m1 0h1m3 0h2m1 0h3m7 0h3m3 0h3m2 0h6m4 0h3m4 0h6m2 0h1m1 0h1m7 0h1m2 0h5m7 0h1m7 0h3m7 0h2m2.63 0h1.03m1.04 0h1.03m1.04 0h1.03m1.04 0h1.03M457.8 560.54h2m2 0h2m18 0h1m1 0h2m1 0h1m7 0h4m1 0h4m3 0h3m3 0h4m1 0h2m1 0h3m4 0h2m8 0h2m3 0h8m1 0h4m1 0h2m12 0h1m13 0h1m6 0h1m2 0h2m-0.4 0h1.03M443.8 565.02h1m1 0h9m2 0h2m1 0h3m3 0h2m1 0h4m3 0h6m12 0h1m12 0h2m8 0h2m2 0h1m6 0h2m13 0h4m2 0h5m2 0h1m1 0h1m1 0h2m9 0h1m5 0h2m1 0h1m13 0h1m1.6 0h2.07m2.06 0h2.07m3.1 0h1.03M440.8 582.94h2m14 0h1m33 0h2m10 0h1m2 0h1m15 0h1m4 0h4m27 0h1m6 0h4m1 0h2m21 0h1m2 0h1m3.73 0h1.03m6.2 0h1.03"/>
<path stroke="#ae19cd" stroke-width="4.48" d="M443.8 390.3h2m37 0h1m124 0h1.03M457.8 394.78h1m18 0h1m10 0h1m6 0h1M482.8 426.14h1m1 0h1M600.5 439.58h1.03M443.8 448.54h1m1 0h1m5 0h1m13 0h1m6 0h2m4 0h1m72 0h1m9 0h1m2 0h1m1 0h2m6 0h1m10 0h1M473.8 453.02h1m68 0h1m6 0h1m30 0h1m14 0h1M456.8 542.62h1M486.8 565.02h3m77 0h3"/>
<path stroke="#82139f" stroke-width="4.48" d="M445.8 390.3h1m1 0h2m22 0h2m1 0h3m1 0h1m22 0h1m15 0h3m22 0h2m14 0h2m6 0h6m8 0h3m9 0h2m1 0h1m3.73 0h1.03M440.8 399.26h5m1 0h2m10 0h1m14 0h2m5 0h1m6 0h2m14 0h1m4 0h2m8 0h9m14 0h1m1 0h1m1 0h1m2 0h3m1 0h1m1 0h1m2 0h1m1 0h3m4 0h1m8 0h4m22.8 0h1.03m1.04 0h1.03M440.8 412.7h1m15 0h5m1 0h12m1 0h3m8 0h3m1 0h1m1 0h2m3 0h2m1 0h3m6 0h1m1 0h1m10 0h2m6 0h3m3 0h1m4 0h3m13 0h2m1 0h1m1 0h2m2 0h1m1 0h2m1 0h2m4 0h1m5 0h1m7 0h2m1 0h2m3.73 0h1.03m2.07 0h1.03m3.1 0h1.03M442.8 426.14h1m13 0h2m3 0h3m21 0h8m2 0h1m5 0h3m7 0h3m2 0h5m4 0h1m10 0h2m1 0h1m7 0h4m7 0h1m7 0h6m9 0h2m4 0h8m10.9 0h1.03M450.8 439.58h2m5 0h3m12 0h1m5 0h4m3 0h6m1 0h1m2 0h2m1 0h3m9 0h5m2 0h2m6 0h2m11 0h2m3 0h3m2 0h2m3 0h3m5 0h3m9 0h3m6 0h4m1 0h7M507.8 444.06h1m1 0h2m89.8 0h1.03M500.8 448.54h1m33 0h1M452.8 453.02h1m1 0h2m6 0h1m12 0h1m1 0h1m4 0h1m36 0h2m1 0h1m12 0h1m29 0h1m7 0h3m12 0h2M440.8 466.46h2m3 0h2m2 0h2m8 0h4m4 0h1m1 0h1m1 0h1m9 0h3m1 0h2m20 0h3m4 0h2m1 0h1m3 0h1m1 0h2m24 0h3m10 0h3m14 0h1m5 0h4m13.8 0h2.07m1.03 0h1.03M440.8 515.74h1m1 0h4m3 0h3m9 0h3m14 0h4m6 0h1m3 0h1m5 0h2m6 0h3m10 0h8m2 0h1m1 0h1m6 0h2m5 0h1m2 0h7m2 0h3m2 0h2m1 0h1m3 0h3m2 0h2m6 0h3m5 0h3m1 0h2m-0.4 0h2.07m1.03 0h1.03m5.17 0h1.03m1.04 0h1.03M453.8 529.18h1m2 0h1m7 0h1m2 0h1m3 0h3m2 0h1m6 0h1m1 0h1m1 0h1m4 0h1m1 0h1m1 0h1m14 0h2m7 0h2m3 0h3m7 0h1m1 0h1m2 0h2m2 0h4m13 0h2m2 0h1m2 0h1m7 0h1m3 0h2m3 0h1m1 0h3m1 0h1m7.73 0h1.03m2.07 0h1.03m1.04 0h1.03M442.8 542.62h4m20 0h2m3 0h1m1 0h1m3 0h4m5 0h1m1 0h1m13 0h4m3 0h1m1 0h1m2 0h3m10 0h3m5 0h1m3 0h1m6 0h2m8 0h3m6 0h1m4 0h3m8 0h2m1 0h1m3 0h1m11.8 0h2.07M440.8 547.1h6m2 0h3m8 0h3m1 0h2m5 0h2m8 0h4m8 0h2m6 0h5m4 0h3m8 0h5m4 0h1m1 0h2m1 0h1m4 0h2m6 0h6m2 0h2m5 0h3m3 0h2m7 0h3m3 0h1m13.7 0h2.07m6.2 0h1.03M444.8 551.58h2m2 0h1m1 0h1m7 0h2m4 0h2m2 0h6m1 0h1m9 0h2m10 0h2m19 0h1m3 0h1m14 0h1m10 0h1m3 0h7m9 0h2m6 0h2m8 0h1m3 0h2m2 0h2m5.8 0h1.03m1.04 0h2.07M440.8 560.54h2m1 0h2m1 0h1m1 0h3m17 0h5m1 0h1m2 0h4m8 0h5m15 0h3m12 0h3m7 0h3m21 0h2m1 0h3m1 0h1m1 0h1m1 0h1m2 0h1m1 0h1m1 0h3m1 0h1m1 0h2m1 0h1m10.6 0h4.13m1.04 0h1.03m1.04 0h1.03m2.07 0h1.03M440.8 565.02h3m15 0h1m5 0h1m8 0h1m7 0h2m1 0h1m4 0h4m1 0h2m1 0h3m1 0h5m2 0h1m2 0h1m1 0h1m12 0h1m2 0h1m1 0h1m4 0h3m22 0h5m7 0h2m5 0h1m1 0h1m1 0h8m2 0h2m2.7 0h1.03m6.2 0h2.07M444.8 582.94h1m2 0h1m1 0h3m6 0h3m4 0h2m8 0h5m2 0h1m1 0h1m4 0h1m4 0h2m1 0h1m1 0h1m7 0h3m2 0h1m2 0h5m2 0h4m6 0h2m2 0h2m1 0h1m1 0h6m1 0h5m5 0h1m18 0h2m3 0h2m1 0h4m7.63 0h2.07m4.13 0h2.07m1.03 0h1.03"/>
<path stroke="#9e9c20" stroke-width="4.48" d="M455.8 390.3h1m72 0h1m6 0h1m53 0h1M543.8 394.78h1M472.8 399.26h1m5 0h1m22 0h1m25 0h1m14 0h1m13 0h1m8 0h1m14 0h1m5 0h1M441.8 403.74h1M448.8 408.22h1m31 0h1M478.8 412.7h1m82 0h1m24 0h1M485.8 417.18h1m15 0h1m17 0h1M463.8 421.66h1m27 0h2m42 0h1m26 0h1M476.8 426.14h1m4 0h1m1 0h1m12 0h1M462.8 430.62h1m23 0h1m5 0h1m88 0h1M503.8 435.1h1m69 0h1M461.8 439.58h1m114 0h1M484.8 444.06h1m32 0h1m1 0h1M453.8 453.02h1m41 0h1m80 0h1m13 0h1M451.8 461.98h1m55 0h1m62 0h1m19 0h1M466.8 466.46h1m27 0h1m11 0h1m52 0h1m16 0h1m4 0h1M468.8 475.42h1m19 0h1m86 0h1m15 0h1M455.8 479.9h1M545.8 484.38h1M519.8 488.86h1M449.8 493.34h1m74 0h1m34 0h1m27 0h1M456.8 497.82h1M476.8 502.3h1m14 0h1m82 0h1M503.8 506.78h1m8 0h1m13 0h1m12 0h1m22 0h1M586.8 511.26h1M532.8 515.74h1m14 0h1m40 0h1M472.8 520.22h1M502.8 524.7h1m10 0h1m70 0h1m4 0h1M465.8 529.18h1m8 0h1m18 0h1m8 0h1m16 0h1m16 0h1m11 0h1m17 0h1m10 0h1M443.8 533.66h1m141 0h1M564.8 538.14h1M465.8 542.62h1m51 0h1m33 0h1m21 0h1M491.8 547.1h1m49 0h1M512.8 551.58h1m62 0h1M452.8 556.06h1m21 0h1m109 0h1M533.8 560.54h1M455.8 565.02h1m6 0h1m9 0h1m85 0h1M495.8 578.46h1M455.8 582.94h1m7 0h1m3 0h1m18 0h1m11 0h1m5 0h1m6 0h1m18 0h1m16 0h1m5 0h1M485.8 591.9h1m20 0h1m68 0h1"/>
<path stroke="#8a881b" stroke-width="4.48" d="M461.8 390.3h2m76 0h1m14 0h1m22 0h1M490.8 399.26h1m38 0h1m5 0h1m15 0h1m6 0h1M495.8 403.74h1m69 0h1M575.8 408.22h1M449.8 412.7h1m32 0h1m8 0h1m4 0h1m37 0h1m21 0h1m16 0h1M486.8 417.18h1m30 0h1M441.8 421.66h1m76 0h1m38 0h1M443.8 426.14h1m11 0h1m8 0h1m88 0h1M442.8 430.62h1m5 0h1m24 0h1m59 0h1m2 0h1M451.8 435.1h1m28 0h1m1 0h1m64 0h1M505.8 444.06h1m2 0h1m12 0h1m61 0h1m9 0h1M453.8 448.54h1m3 0h1m8 0h1m7 0h1m17 0h1m5 0h1m7 0h2m42 0h1m30 0h1M447.8 453.02h1m11 0h3m1 0h1m36 0h1m3 0h1m1 0h1m18 0h1m10 0h2m7 0h1m31 0h1m13 0h1M495.8 457.5h1m87 0h1M458.8 466.46h1m9 0h1m7 0h1m84 0h1m12 0h1m3 0h1M491.8 470.94h1m31 0h1M444.8 475.42h1m12 0h1m56 0h1m24 0h1M503.8 479.9h1m56 0h1M462.8 484.38h1m54 0h1m21 0h1M456.8 493.34h1M444.8 502.3h1m77 0h1m6 0h1M544.8 506.78h1M504.8 511.26h1M460.8 515.74h1m8 0h1m14 0h1m12 0h1m32 0h1M471.8 524.7h1M463.8 529.18h1m11 0h1m12 0h1m50 0h1m2 0h1m21 0h1m18 0h1m10 0h1M445.8 533.66h1m9 0h1M487.8 542.62h1m18 0h1m67 0h1m10 0h1M475.8 547.1h1m115 0h1M449.8 551.58h1m83 0h1M446.8 556.06h1m13 0h1m41 0h1M442.8 560.54h1m2 0h1m6 0h1m10 0h1m2 0h1m6 0h1m8 0h1m5 0h1m43 0h1m27 0h1m7 0h1m6 0h1M496.8 565.02h1m33 0h1m16 0h1m33 0h1M484.8 573.98h1M461.8 582.94h1m44 0h1m54 0h1m27 0h1M459.8 587.42h1m71 0h1M526.8 591.9h1m29 0h1m9 0h1m19 0h1"/>
<path stroke="#c51ce4" stroke-width="4.48" d="M463.8 390.3h2m110 0h1M452.8 394.78h1m8 0h2m18 0h1m27 0h1m27 0h1m4 0h1m7 0h1m15 0h1M503.8 412.7h1M504.8 448.54h1m7 0h1m1 0h1m16 0h1m12 0h1m24 0h1M457.8 453.02h1m32 0h2"/>
<path stroke="#580e72" stroke-width="4.48" d="M465.8 390.3h1m1 0h2m33 0h3m2 0h1m5 0h1m33 0h1m13 0h2m20 0h1m11.6 0h1.03M558.8 394.78h2M537.8 399.26h3m29 0h2m12 0h3m14.8 0h1.03m3.1 0h1.03m1.04 0h1.03M461.8 403.74h1m37 0h2m1 0h3m4 0h2m13 0h1m4 0h3m7 0h5m2 0h2m2 0h2m2 0h1m1 0h6m8 0h4m10 0h2m16.8 0h1.03M489.8 412.7h1m16 0h2m8 0h1m1 0h2m55 0h1m5 0h2m6 0h2M440.8 417.18h5m10 0h1m1 0h1m1 0h2m7 0h2m4 0h4m22 0h1m5 0h1m1 0h5m1 0h2m19 0h2m6 0h5m7 0h5m3 0h4m9 0h4m1 0h6m8 0h1m0.633 0h1.03M444.8 426.14h1m5 0h3m45 0h2m14 0h2m5 0h2m20 0h3m49.6 0h1.03M494.8 435.1h2m78 0h1m27.8 0h1.03M519.8 439.58h2m35 0h3M440.8 444.06h3m7 0h2m5 0h3m1 0h7m2 0h4m5 0h2m8 0h5m1 0h6m1 0h1m11 0h3m1 0h1m3 0h9m3 0h20m3 0h1m3 0h6m3 0h4m5 0h4m2 0h3m1 0h1m2 0h1m3.63 0h1.03m4.14 0h2.07m1.03 0h1.03M450.8 448.54h1m68 0h1M445.8 453.02h1m19 0h2m1 0h1m10 0h1m30 0h2m31 0h1m2 0h1m38 0h3m12.8 0h1.03M451.8 466.46h3m1 0h1m41 0h1m5 0h2m8 0h1m39 0h2m18 0h1m3 0h1m11 0h2m13.9 0h1.03M508.8 479.9h1M606.7 484.38h1.03M582.8 488.86h1m14.7 0h1.03M446.8 515.74h2m52 0h1m1 0h4m6 0h3m65 0h2m20.8 0h1.03m2.07 0h1.03M604.7 520.22h1.03M442.8 529.18h1m36 0h1m2 0h1m80 0h1M597.4 533.66h1.03M440.8 542.62h2m27 0h2m49 0h3m32 0h1m5 0h2m26 0h1m8.7 0h2.07m3.1 0h1.03M468.8 547.1h2m26 0h4m42 0h2m14 0h2m6 0h2m27.6 0h1.03m8.27 0h1.03M466.8 551.58h2m22 0h3m15 0h4m4 0h2m12 0h2m38 0h3m5 0h2m15.6 0h1.03M476.8 560.54h1m10 0h1m41 0h2m9 0h2m46 0h3m13.9 0h2.07M463.8 565.02h1m3 0h1m57 0h1m7 0h2m34 0h1m2 0h1m2 0h1m26.8 0h1.03M445.8 582.94h1m22 0h2m1 0h1m1 0h2m25 0h2m36 0h1m1 0h1m32 0h2m1 0h1m3 0h2M454.8 591.9h3m21 0h2m15 0h8m68 0h1m16 0h2m4 0h1m2.67 0h1.03"/>
<path stroke="#636114" stroke-width="4.48" d="M481.8 390.3h1m12 0h1m34 0h2m17 0h1m25 0h1M534.8 394.78h1M445.8 399.26h1m43 0h1m6 0h1m56 0h1M443.8 403.74h1m130 0h1M469.8 408.22h1M442.8 412.7h1m9 0h1m42 0h1m8 0h1m15 0h2m26 0h1m10 0h1M458.8 417.18h1m78 0h1m34 0h2M440.8 421.66h1m46 0h1m53 0h1m17 0h1m7 0h1m23 0h1M445.8 426.14h1m58 0h1m41 0h1M446.8 430.62h1m14 0h1m63 0h1m9 0h1M444.8 435.1h1m70 0h1m12 0h1M471.8 439.58h1m30 0h1m5 0h1m42 0h1M449.8 444.06h1m110 0h1M456.8 448.54h1m7 0h1m6 0h1m5 0h1m8 0h1m21 0h2m7 0h2m1 0h1m12 0h1m3 0h1m16 0h1m15 0h1m1 0h1m9 0h2m6 0h1M442.8 453.02h1m15 0h1m25 0h1m9 0h1m1 0h1m2 0h1m2 0h1m6 0h1m18 0h1m11 0h1m20 0h1m2 0h1m3 0h1m1 0h1M460.8 457.5h1M487.8 461.98h1m7 0h1m68 0h1M444.8 466.46h1m3 0h1m14 0h2m7 0h1m5 0h1m9 0h1m21 0h1m71 0h1m11 0h1M490.8 475.42h1m2 0h1m24 0h1M510.8 479.9h1m74 0h1M440.8 493.34h1m4 0h1M464.8 497.82h1m20 0h1m80 0h1M443.8 502.3h1m111 0h1M441.8 515.74h1m54 0h1m14 0h1m3 0h1m17 0h1m39 0h1m19 0h1M551.8 524.7h1m29 0h1M444.8 529.18h1m36 0h1m42 0h1m7 0h1m27 0h1m25 0h1M452.8 533.66h1m53 0h2M478.8 538.14h1m27 0h1M482.8 542.62h1m57 0h1m54 0h1M587.8 547.1h1M474.8 551.58h1m48 0h1m14 0h1m11 0h1M545.8 556.06h1M460.8 560.54h1m24 0h1m37 0h1m31 0h1m31 0h1M444.8 565.02h1m38 0h1m28 0h1m5 0h1m34 0h1m2 0h1M471.8 569.5h1M534.8 582.94h1m40 0h1"/>
<path stroke="#440b5b" stroke-width="4.48" d="M487.8 390.3h2m16 0h1m17 0h3m7 0h1m2 0h1m3 0h2m44 0h2M464.8 394.78h2m12 0h2m31 0h1m91.9 0h1.03M440.8 403.74h1m1 0h1m1 0h6m1 0h4m5 0h1m1 0h2m6 0h5m9 0h2m8 0h1m1 0h1m8 0h4m2 0h4m2 0h6m2 0h2m5 0h2m14 0h2m2 0h2m10 0h1m1 0h4m10 0h4m2 0h3m2 0h3m1 0h1m9.93 0h2.07M463.8 408.22h3m23 0h2m87 0h2m15.6 0h1.03m1.04 0h1.03M448.8 417.18h1m1 0h1m10 0h1m1 0h1m1 0h3m3 0h3m4 0h3m6 0h4m3 0h2m6 0h4m14 0h4m2 0h2m3 0h1m1 0h2m4 0h1m1 0h2m9 0h2m20 0h2m4 0h1m6 0h1m1 0h2m2 0h2m5.77 0h1.03m3.1 0h1.03M460.8 421.66h1m29 0h1m90 0h4m14.7 0h1.03m1.04 0h1.03M597.4 426.14h1.03M598.5 430.62h1.03M440.8 435.1h2m6 0h2m2 0h4m15 0h7m7 0h4m3 0h2m7 0h1m4 0h1m1 0h3m5 0h4m4 0h1m2 0h1m1 0h3m11 0h1m11 0h2m7 0h2m9 0h4m6 0h3m1 0h5m7.8 0h1.03m4.14 0h1.03M530.8 439.58h4M452.8 444.06h4m12 0h1m18 0h2m14 0h2m6 0h1m1 0h1m18 0h2m25 0h1m7 0h3m28.7 0h2.07m6.2 0h1.03M491.8 448.54h1m4 0h1m32 0h2m28 0h1m39.7 0h1.03M485.8 453.02h1m17 0h1m10 0h2m13 0h1m22 0h1m9 0h1m6 0h1m22 0h1M575.8 457.5h4M475.8 461.98h3m51 0h2m73.9 0h1.03M485.8 475.42h1m46 0h4M517.8 479.9h1M446.8 484.38h4m13 0h2m22 0h1m80 0h3m31.8 0h1.03M576.8 488.86h3m11 0h4m5.73 0h1.03M462.8 493.34h4m16 0h2m45 0h4M498.8 497.82h1m56 0h8m14 0h1M472.8 502.3h1M452.8 506.78h2m55 0h1m22 0h3M442.8 511.26h3m73 0h3m53 0h4m10 0h1m2 0h2M458.8 520.22h1m17 0h2m51 0h1m46 0h1m16 0h1m3.67 0h1.03m1.04 0h1.03M562.8 524.7h2M468.8 529.18h2M448.8 533.66h2m87 0h3M467.8 538.14h2m3 0h2m39 0h2m86.8 0h1.03M499.8 551.58h1m67 0h1M456.8 556.06h2m60 0h4m24 0h1m42 0h4m3.63 0h1.03M498.8 560.54h1M514.8 565.02h2m87.9 0h1.03M557.8 573.98h2m16 0h2M443.8 578.46h4m44 0h3m112 0h1.03M605.7 582.94h1.03M502.8 587.42h1m26 0h2m4 0h6m33 0h4M443.8 591.9h6m1 0h4m11 0h2m2 0h5m6 0h4m9 0h2m15 0h1m1 0h2m2 0h2m1 0h3m1 0h2m4 0h6m3 0h2m5 0h2m4 0h5m1 0h3m1 0h1m2 0h2m13 0h4m7 0h1m4 0h1m-0.4 0h2.07m2.06 0h1.03m1.04 0h2.07m1.03 0h1.03m1.04 0h1.03"/>
<path stroke="#4f4e10" stroke-width="4.48" d="M514.8 390.3h1M459.8 394.78h1m20 0h1m39 0h1m23 0h1M491.8 399.26h1m14 0h1M501.8 403.74h1m92 0h1M452.8 408.22h1m18 0h1M593.8 421.66h1M538.8 426.14h1M449.8 439.58h1m19 0h1m27 0h1M442.8 448.54h1m18 0h1m7 0h1m13 0h1m4 0h1m22 0h1m11 0h1m4 0h1m3 0h1m13 0h1m11 0h1m27 0h1m4 0h2M441.8 453.02h1m36 0h1m42 0h1m16 0h1m11 0h2m14 0h1m4 0h1m22 0h1M523.8 457.5h1M453.8 461.98h1M496.8 466.46h1m1 0h1M453.8 475.42h1m1 0h1m96 0h1M520.8 484.38h1M495.8 493.34h1M462.8 497.82h1M473.8 502.3h1m82 0h1M449.8 506.78h1M493.8 515.74h1m43 0h1M531.8 524.7h1M551.8 529.18h1m21 0h1m8 0h1M541.8 538.14h1m31 0h1M467.8 547.1h1m76 0h1M480.8 551.58h1m21 0h1M579.8 556.06h1M593.8 560.54h1M535.8 565.02h1m3 0h1M505.8 578.46h1M481.8 582.94h1m28 0h1m73 0h1M442.8 587.42h1M508.8 591.9h1m59 0h1"/>
<path stroke="#dc1efb" stroke-width="4.48" d="M440.8 394.78h1m3 0h1m21 0h1m1 0h1m3 0h1m44 0h1m29 0h1m9 0h1m20 0h1M444.8 448.54h1m1 0h1m21 0h1m16 0h1m39 0h1m1 0h1m10 0h2m7 0h1m47 0h1M444.8 453.02h1m22 0h1m21 0h1m23 0h1m13 0h1m53 0h1"/>
<path stroke="#f321ff" stroke-width="4.48" d="M446.8 394.78h1m30 0h1m15 0h1m16 0h1m18 0h1m34 0h2M454.8 448.54h1m7 0h1m19 0h1m20 0h1m18 0h1m12 0h1m21 0h1m4 0h1m8 0h1m6 0h1M487.8 453.02h1m35 0h1m8 0h1"/>
<path stroke="#3b3a0c" stroke-width="4.48" d="M473.8 394.78h3M448.8 448.54h2m39 0h1m4 0h1m18 0h1m26 0h1m4 0h1m27 0h1M464.8 453.02h1m7 0h1m13 0h1m1 0h1m16 0h1m25 0h1m12 0h1m11 0h1"/>
<line x1="596.4" y1="379.1" x2="596.4" y2="594.2" stroke="#f4d8f0" stroke-width="0.9"/>
<text x="437.7" y="383.2" font-size="5.3" fill="#2a2a2a" text-anchor="end" stroke="#2a2a2a" stroke-width="0.12">ITGAM</text>
<text x="437.7" y="387.7" font-size="5.3" fill="#2a2a2a" text-anchor="end" stroke="#2a2a2a" stroke-width="0.12">CD274</text>
<text x="437.7" y="392.2" font-size="5.3" fill="#2a2a2a" text-anchor="end" stroke="#2a2a2a" stroke-width="0.12">IGHG1</text>
<text x="437.7" y="396.6" font-size="5.3" fill="#2a2a2a" text-anchor="end" stroke="#2a2a2a" stroke-width="0.12">IGHM</text>
<text x="437.7" y="401.1" font-size="5.3" fill="#2a2a2a" text-anchor="end" stroke="#2a2a2a" stroke-width="0.12">AHNAK</text>
<text x="437.7" y="405.6" font-size="5.3" fill="#2a2a2a" text-anchor="end" stroke="#2a2a2a" stroke-width="0.12">IGHG2</text>
<text x="437.7" y="410.1" font-size="5.3" fill="#2a2a2a" text-anchor="end" stroke="#2a2a2a" stroke-width="0.12">ITGAX</text>
<text x="437.7" y="414.6" font-size="5.3" fill="#2a2a2a" text-anchor="end" stroke="#2a2a2a" stroke-width="0.12">IGHG4</text>
<text x="437.7" y="419.0" font-size="5.3" fill="#2a2a2a" text-anchor="end" stroke="#2a2a2a" stroke-width="0.12">CRIP1</text>
<text x="437.7" y="423.5" font-size="5.3" fill="#2a2a2a" text-anchor="end" stroke="#2a2a2a" stroke-width="0.12">MCOLN2</text>
<text x="437.7" y="428.0" font-size="5.3" fill="#2a2a2a" text-anchor="end" stroke="#2a2a2a" stroke-width="0.12">IGHG3</text>
<text x="437.7" y="432.5" font-size="5.3" fill="#2a2a2a" text-anchor="end" stroke="#2a2a2a" stroke-width="0.12">ANXA2</text>
<text x="437.7" y="437.0" font-size="5.3" fill="#2a2a2a" text-anchor="end" stroke="#2a2a2a" stroke-width="0.12">AIM2</text>
<text x="437.7" y="441.4" font-size="5.3" fill="#2a2a2a" text-anchor="end" stroke="#2a2a2a" stroke-width="0.12">IGHA1</text>
<text x="437.7" y="445.9" font-size="5.3" fill="#2a2a2a" text-anchor="end" stroke="#2a2a2a" stroke-width="0.12">NEK6</text>
<text x="437.7" y="450.4" font-size="5.3" fill="#2a2a2a" text-anchor="end" stroke="#2a2a2a" stroke-width="0.12">IGHD</text>
<text x="437.7" y="454.9" font-size="5.3" fill="#2a2a2a" text-anchor="end" stroke="#2a2a2a" stroke-width="0.12">TCL1A</text>
<text x="437.7" y="459.4" font-size="5.3" fill="#2a2a2a" text-anchor="end" stroke="#2a2a2a" stroke-width="0.12">TEX9</text>
<text x="437.7" y="463.8" font-size="5.3" fill="#2a2a2a" text-anchor="end" stroke="#2a2a2a" stroke-width="0.12">PLEK</text>
<text x="437.7" y="468.3" font-size="5.3" fill="#2a2a2a" text-anchor="end" stroke="#2a2a2a" stroke-width="0.12">COTL1</text>
<text x="437.7" y="472.8" font-size="5.3" fill="#2a2a2a" text-anchor="end" stroke="#2a2a2a" stroke-width="0.12">FGD4</text>
<text x="437.7" y="477.3" font-size="5.3" fill="#2a2a2a" text-anchor="end" stroke="#2a2a2a" stroke-width="0.12">RAB31</text>
<text x="437.7" y="481.8" font-size="5.3" fill="#2a2a2a" text-anchor="end" stroke="#2a2a2a" stroke-width="0.12">GNL3L</text>
<text x="437.7" y="486.2" font-size="5.3" fill="#2a2a2a" text-anchor="end" stroke="#2a2a2a" stroke-width="0.12">CALHM2</text>
<text x="437.7" y="490.7" font-size="5.3" fill="#2a2a2a" text-anchor="end" stroke="#2a2a2a" stroke-width="0.12">TRAF1</text>
<text x="437.7" y="495.2" font-size="5.3" fill="#2a2a2a" text-anchor="end" stroke="#2a2a2a" stroke-width="0.12">HOPX</text>
<text x="437.7" y="499.7" font-size="5.3" fill="#2a2a2a" text-anchor="end" stroke="#2a2a2a" stroke-width="0.12">GRAMD1C</text>
<text x="437.7" y="504.2" font-size="5.3" fill="#2a2a2a" text-anchor="end" stroke="#2a2a2a" stroke-width="0.12">ARID5B</text>
<text x="437.7" y="508.6" font-size="5.3" fill="#2a2a2a" text-anchor="end" stroke="#2a2a2a" stroke-width="0.12">CD69</text>
<text x="437.7" y="513.1" font-size="5.3" fill="#2a2a2a" text-anchor="end" stroke="#2a2a2a" stroke-width="0.12">ZBTB32</text>
<text x="437.7" y="517.6" font-size="5.3" fill="#2a2a2a" text-anchor="end" stroke="#2a2a2a" stroke-width="0.12">CPNE5</text>
<text x="437.7" y="522.1" font-size="5.3" fill="#2a2a2a" text-anchor="end" stroke="#2a2a2a" stroke-width="0.12">PBX4</text>
<text x="437.7" y="526.6" font-size="5.3" fill="#2a2a2a" text-anchor="end" stroke="#2a2a2a" stroke-width="0.12">DPYSL2</text>
<text x="437.7" y="531.0" font-size="5.3" fill="#2a2a2a" text-anchor="end" stroke="#2a2a2a" stroke-width="0.12">CD99</text>
<text x="437.7" y="535.5" font-size="5.3" fill="#2a2a2a" text-anchor="end" stroke="#2a2a2a" stroke-width="0.12">MYO1C</text>
<text x="437.7" y="540.0" font-size="5.3" fill="#2a2a2a" text-anchor="end" stroke="#2a2a2a" stroke-width="0.12">ZDHHC18</text>
<text x="437.7" y="544.5" font-size="5.3" fill="#2a2a2a" text-anchor="end" stroke="#2a2a2a" stroke-width="0.12">S1PR1</text>
<text x="437.7" y="549.0" font-size="5.3" fill="#2a2a2a" text-anchor="end" stroke="#2a2a2a" stroke-width="0.12">TNFRSF13B</text>
<text x="437.7" y="553.4" font-size="5.3" fill="#2a2a2a" text-anchor="end" stroke="#2a2a2a" stroke-width="0.12">PDE4D</text>
<text x="437.7" y="557.9" font-size="5.3" fill="#2a2a2a" text-anchor="end" stroke="#2a2a2a" stroke-width="0.12">PCBD1</text>
<text x="437.7" y="562.4" font-size="5.3" fill="#2a2a2a" text-anchor="end" stroke="#2a2a2a" stroke-width="0.12">MARCKS</text>
<text x="437.7" y="566.9" font-size="5.3" fill="#2a2a2a" text-anchor="end" stroke="#2a2a2a" stroke-width="0.12">ANXA1</text>
<text x="437.7" y="571.4" font-size="5.3" fill="#2a2a2a" text-anchor="end" stroke="#2a2a2a" stroke-width="0.12">KCNMA1</text>
<text x="437.7" y="575.8" font-size="5.3" fill="#2a2a2a" text-anchor="end" stroke="#2a2a2a" stroke-width="0.12">LAX1</text>
<text x="437.7" y="580.3" font-size="5.3" fill="#2a2a2a" text-anchor="end" stroke="#2a2a2a" stroke-width="0.12">HMOX1</text>
<text x="437.7" y="584.8" font-size="5.3" fill="#2a2a2a" text-anchor="end" stroke="#2a2a2a" stroke-width="0.12">CAPG</text>
<text x="437.7" y="589.3" font-size="5.3" fill="#2a2a2a" text-anchor="end" stroke="#2a2a2a" stroke-width="0.12">CPPED1</text>
<text x="437.7" y="593.8" font-size="5.3" fill="#2a2a2a" text-anchor="end" stroke="#2a2a2a" stroke-width="0.12">CAMTA2</text>
<rect x="440.8" y="371.3" width="155.4" height="4.6" fill="#f26b6b"/>
<rect x="596.6" y="371.3" width="12.2" height="4.6" fill="#64dcdc"/>
<rect x="404.4" y="397.4" width="206.3" height="5.2" fill="none" stroke="#c0282a" stroke-width="0.9"/>
<rect x="404.4" y="544.5" width="206.3" height="5.1" fill="none" stroke="#c0282a" stroke-width="0.9"/>
<text stroke="#f26b6b" stroke-width="0.26" x="140.4" y="356.5" font-size="10" font-weight="bold" fill="#f26b6b" textLength="64.4" lengthAdjust="spacingAndGlyphs">CD11b<tspan font-size="7.5" dy="-4">−</tspan><tspan dy="4">PDL1</tspan><tspan font-size="7.5" dy="-4">−</tspan></text>
<text x="156.4" y="368.7" font-size="10" font-weight="bold" fill="#f26b6b" textLength="32.5" lengthAdjust="spacingAndGlyphs" stroke="#f26b6b" stroke-width="0.26">B cells</text>
<text stroke="#5fdada" stroke-width="0.26" x="225.8" y="356.9" font-size="10" font-weight="bold" fill="#5fdada" textLength="67.4" lengthAdjust="spacingAndGlyphs">CD11b<tspan font-size="8.5" dy="-4">+</tspan><tspan dy="4">PDL1</tspan><tspan font-size="8.5" dy="-4">+</tspan></text>
<text x="243.8" y="368.9" font-size="10" font-weight="bold" fill="#5fdada" textLength="32.5" lengthAdjust="spacingAndGlyphs" stroke="#5fdada" stroke-width="0.26">B cells</text>
<text stroke="#f26b6b" stroke-width="0.26" x="475.3" y="354.7" font-size="10" font-weight="bold" fill="#f26b6b" textLength="64.7" lengthAdjust="spacingAndGlyphs">CD11b<tspan font-size="7.5" dy="-4">−</tspan><tspan dy="4">PDL1</tspan><tspan font-size="7.5" dy="-4">−</tspan></text>
<text x="492.4" y="366.8" font-size="10" font-weight="bold" fill="#f26b6b" textLength="32.1" lengthAdjust="spacingAndGlyphs" stroke="#f26b6b" stroke-width="0.26">B cells</text>
<text stroke="#5fdada" stroke-width="0.26" x="560.8" y="354.3" font-size="10" font-weight="bold" fill="#5fdada" textLength="68.3" lengthAdjust="spacingAndGlyphs">CD11b<tspan font-size="8.5" dy="-4">+</tspan><tspan dy="4">PDL1</tspan><tspan font-size="8.5" dy="-4">+</tspan></text>
<text x="580.2" y="366.5" font-size="10" font-weight="bold" fill="#5fdada" textLength="31.9" lengthAdjust="spacingAndGlyphs" stroke="#5fdada" stroke-width="0.26">B cells</text>
<text x="0.0" y="347.5" font-size="11.2" font-weight="bold" fill="#111" textLength="13.1" lengthAdjust="spacingAndGlyphs" stroke="#111" stroke-width="0.26">(F)</text>
<text x="356.8" y="348.0" font-size="11.2" font-weight="bold" fill="#111" textLength="14.3" lengthAdjust="spacingAndGlyphs" stroke="#111" stroke-width="0.26">(G)</text>
<text x="279.4" y="460.3" font-size="6.46" fill="#222" stroke="#222" stroke-width="0.14">Expression</text>
<defs><linearGradient id="cb279" x1="0" y1="0" x2="0" y2="1"><stop offset="0" stop-color="#ffff20"/><stop offset="0.25" stop-color="#8a8a10"/><stop offset="0.5" stop-color="#000"/><stop offset="0.75" stop-color="#6a0a90"/><stop offset="1" stop-color="#ff20ff"/></linearGradient></defs>
<rect x="279.6" y="464.0" width="10.8" height="48.6" fill="url(#cb279)"/>
<line x1="279.6" y1="468.8" x2="281.6" y2="468.8" stroke="#fff" stroke-width="0.5"/>
<line x1="288.4" y1="468.8" x2="290.4" y2="468.8" stroke="#fff" stroke-width="0.5"/>
<text x="292.9" y="470.7" font-size="5.2" fill="#222" stroke="#222" stroke-width="0.11">2</text>
<line x1="279.6" y1="478.7" x2="281.6" y2="478.7" stroke="#fff" stroke-width="0.5"/>
<line x1="288.4" y1="478.7" x2="290.4" y2="478.7" stroke="#fff" stroke-width="0.5"/>
<text x="292.9" y="480.6" font-size="5.2" fill="#222" stroke="#222" stroke-width="0.11">1</text>
<line x1="279.6" y1="488.4" x2="281.6" y2="488.4" stroke="#fff" stroke-width="0.5"/>
<line x1="288.4" y1="488.4" x2="290.4" y2="488.4" stroke="#fff" stroke-width="0.5"/>
<text x="292.9" y="490.3" font-size="5.2" fill="#222" stroke="#222" stroke-width="0.11">0</text>
<line x1="279.6" y1="498.1" x2="281.6" y2="498.1" stroke="#fff" stroke-width="0.5"/>
<line x1="288.4" y1="498.1" x2="290.4" y2="498.1" stroke="#fff" stroke-width="0.5"/>
<text x="292.9" y="500.0" font-size="5.2" fill="#222" stroke="#222" stroke-width="0.11">−1</text>
<line x1="279.6" y1="507.6" x2="281.6" y2="507.6" stroke="#fff" stroke-width="0.5"/>
<line x1="288.4" y1="507.6" x2="290.4" y2="507.6" stroke="#fff" stroke-width="0.5"/>
<text x="292.9" y="509.5" font-size="5.2" fill="#222" stroke="#222" stroke-width="0.11">−2</text>
<text x="279.3" y="419.5" font-size="6.35" fill="#222" stroke="#222" stroke-width="0.14">Identity</text>
<circle cx="284.8" cy="428.0" r="1.2" fill="#f26b6b"/><circle cx="284.8" cy="437.6" r="1.2" fill="#5fdada"/>
<text x="292.7" y="430.0" font-size="5.09" fill="#222" stroke="#222" stroke-width="0.11">CD11b−PDL1− B cells</text>
<text x="292.7" y="439.6" font-size="5.09" fill="#222" stroke="#222" stroke-width="0.11">CD11b+PDL1+ B cells</text>
<text x="618.1" y="415.3" font-size="6.52" fill="#222" stroke="#222" stroke-width="0.14">Expression</text>
<defs><linearGradient id="cb618" x1="0" y1="0" x2="0" y2="1"><stop offset="0" stop-color="#ffff20"/><stop offset="0.25" stop-color="#8a8a10"/><stop offset="0.5" stop-color="#000"/><stop offset="0.75" stop-color="#6a0a90"/><stop offset="1" stop-color="#ff20ff"/></linearGradient></defs>
<rect x="618.4" y="419.2" width="10.8" height="49.7" fill="url(#cb618)"/>
<line x1="618.4" y1="424.8" x2="620.4" y2="424.8" stroke="#fff" stroke-width="0.5"/>
<line x1="627.2" y1="424.8" x2="629.2" y2="424.8" stroke="#fff" stroke-width="0.5"/>
<text x="631.6" y="426.7" font-size="5.2" fill="#222" stroke="#222" stroke-width="0.11">2</text>
<line x1="618.4" y1="436.0" x2="620.4" y2="436.0" stroke="#fff" stroke-width="0.5"/>
<line x1="627.2" y1="436.0" x2="629.2" y2="436.0" stroke="#fff" stroke-width="0.5"/>
<text x="631.6" y="437.9" font-size="5.2" fill="#222" stroke="#222" stroke-width="0.11">1</text>
<line x1="618.4" y1="446.9" x2="620.4" y2="446.9" stroke="#fff" stroke-width="0.5"/>
<line x1="627.2" y1="446.9" x2="629.2" y2="446.9" stroke="#fff" stroke-width="0.5"/>
<text x="631.6" y="448.8" font-size="5.2" fill="#222" stroke="#222" stroke-width="0.11">0</text>
<line x1="618.4" y1="457.7" x2="620.4" y2="457.7" stroke="#fff" stroke-width="0.5"/>
<line x1="627.2" y1="457.7" x2="629.2" y2="457.7" stroke="#fff" stroke-width="0.5"/>
<text x="631.6" y="459.6" font-size="5.2" fill="#222" stroke="#222" stroke-width="0.11">−1</text>
<line x1="618.4" y1="468.2" x2="620.4" y2="468.2" stroke="#fff" stroke-width="0.5"/>
<line x1="627.2" y1="468.2" x2="629.2" y2="468.2" stroke="#fff" stroke-width="0.5"/>
<text x="631.6" y="470.1" font-size="5.2" fill="#222" stroke="#222" stroke-width="0.11">−2</text>
<text x="618.0" y="487.3" font-size="6.35" fill="#222" stroke="#222" stroke-width="0.14">Identity</text>
<circle cx="623.5" cy="495.8" r="1.2" fill="#f26b6b"/><circle cx="623.5" cy="505.7" r="1.2" fill="#5fdada"/>
<text x="631.3" y="497.8" font-size="5.3" fill="#222" stroke="#222" stroke-width="0.12">CD11b−PDL1− B cells</text>
<text x="631.3" y="507.7" font-size="5.3" fill="#222" stroke="#222" stroke-width="0.12">CD11b+PDL1+ B cells</text>
<line x1="124.3" y1="612.5" x2="124.3" y2="664.0" stroke="#555" stroke-width="0.8"/>
<line x1="124.3" y1="664.0" x2="184.5" y2="664.0" stroke="#222" stroke-width="0.8"/>
<line x1="124.6" y1="664.0" x2="124.6" y2="665.5" stroke="#222" stroke-width="0.7"/>
<text x="124.6" y="672.5" font-size="6.3" font-weight="bold" fill="#111" text-anchor="middle" stroke="#111" stroke-width="0.21">-5</text>
<line x1="139.6" y1="664.0" x2="139.6" y2="665.5" stroke="#222" stroke-width="0.7"/>
<text x="139.6" y="672.5" font-size="6.3" font-weight="bold" fill="#111" text-anchor="middle" stroke="#111" stroke-width="0.21">0</text>
<line x1="154.6" y1="664.0" x2="154.6" y2="665.5" stroke="#222" stroke-width="0.7"/>
<text x="154.6" y="672.5" font-size="6.3" font-weight="bold" fill="#111" text-anchor="middle" stroke="#111" stroke-width="0.21">5</text>
<line x1="169.5" y1="664.0" x2="169.5" y2="665.5" stroke="#222" stroke-width="0.7"/>
<text x="169.5" y="672.5" font-size="6.3" font-weight="bold" fill="#111" text-anchor="middle" stroke="#111" stroke-width="0.21">10</text>
<line x1="184.5" y1="664.0" x2="184.5" y2="665.5" stroke="#222" stroke-width="0.7"/>
<text x="184.5" y="672.5" font-size="6.3" font-weight="bold" fill="#111" text-anchor="middle" stroke="#111" stroke-width="0.21">15</text>
<text x="121.5" y="607.0" font-size="7.4" font-weight="bold" fill="#111" textLength="66.3" lengthAdjust="spacingAndGlyphs" stroke="#111" stroke-width="0.25">TNFRSF13B mRNA</text>
<line x1="122.8" y1="625.8" x2="124.3" y2="625.8" stroke="#555" stroke-width="0.6"/>
<line x1="122.8" y1="648.6" x2="124.3" y2="648.6" stroke="#555" stroke-width="0.6"/>
<line x1="132.7" y1="625.8" x2="169.5" y2="625.8" stroke="#111" stroke-width="1.5"/>
<path d="M133.3,625.6 L136.0,623.6 L139.6,618.4 L141.7,621.8 L143.5,624.6 L145.6,624.9 L149.5,624.6 L152.5,623.4 L156.7,623.4 L159.4,624.4 L162.1,625.1 L166.5,625.4 L169.5,625.6 L169.5,626.0 L166.5,626.2 L162.1,626.5 L159.4,627.2 L156.7,628.2 L152.5,628.2 L149.5,627.0 L145.6,626.7 L143.5,627.0 L141.7,629.8 L139.6,633.2 L136.0,628.0 L133.3,626.0Z" fill="#a3a3a3" stroke="#111" stroke-width="0.85"/>
<ellipse cx="139.2" cy="625.8" rx="2.2" ry="6.6" fill="#e02020"/>
<ellipse cx="154.6" cy="625.8" rx="0.2" ry="2.2" fill="#e02020"/>
<line x1="136.0" y1="648.6" x2="165.9" y2="648.6" stroke="#111" stroke-width="1.5"/>
<path d="M136.4,648.3 L138.1,644.6 L139.6,641.4 L141.1,644.6 L142.3,647.4 L145.6,648.0 L151.6,648.1 L156.1,647.6 L160.6,648.1 L165.0,648.4 L165.0,648.8 L160.6,649.1 L156.1,649.6 L151.6,649.1 L145.6,649.2 L142.3,649.8 L141.1,652.6 L139.6,655.8 L138.1,652.6 L136.4,648.9Z" fill="#a3a3a3" stroke="#111" stroke-width="0.85"/>
<ellipse cx="139.5" cy="648.6" rx="1.8" ry="6.8" fill="#e02020"/>
<text stroke="#111" stroke-width="0.24" x="54.9" y="628.5" font-size="7" font-weight="bold" fill="#111" textLength="66.1" lengthAdjust="spacingAndGlyphs">CD11b<tspan font-size="4.6" dy="-2.8">+</tspan><tspan dy="2.8">PDL1</tspan><tspan font-size="4.6" dy="-2.8">+</tspan><tspan dy="2.8"> B cells</tspan></text>
<text stroke="#111" stroke-width="0.24" x="56.4" y="651.0" font-size="7" font-weight="bold" fill="#111" textLength="64.6" lengthAdjust="spacingAndGlyphs">CD11b<tspan font-size="4.6" dy="-2.8">−</tspan><tspan dy="2.8">PDL1</tspan><tspan font-size="4.6" dy="-2.8">−</tspan><tspan dy="2.8"> B cells</tspan></text>
<path d="M172.7,625.8 H175.6 V648.6 H169.7" fill="none" stroke="#777" stroke-width="0.8"/>
<circle cx="181.0" cy="630.0" r="1.5" fill="#f02020"/>
<circle cx="181.0" cy="634.9" r="1.5" fill="#f02020"/>
<circle cx="181.0" cy="639.8" r="1.5" fill="#f02020"/>
<circle cx="181.0" cy="645.1" r="1.5" fill="#f02020"/>
<line x1="205.3" y1="610.3" x2="205.3" y2="663.6" stroke="#555" stroke-width="0.8"/>
<line x1="205.3" y1="663.6" x2="264.5" y2="663.6" stroke="#222" stroke-width="0.8"/>
<line x1="205.2" y1="663.6" x2="205.2" y2="665.1" stroke="#222" stroke-width="0.7"/>
<text x="205.2" y="672.1" font-size="6.3" font-weight="bold" fill="#111" text-anchor="middle" stroke="#111" stroke-width="0.21">-2</text>
<line x1="215.1" y1="663.6" x2="215.1" y2="665.1" stroke="#222" stroke-width="0.7"/>
<text x="215.1" y="672.1" font-size="6.3" font-weight="bold" fill="#111" text-anchor="middle" stroke="#111" stroke-width="0.21">0</text>
<line x1="225.0" y1="663.6" x2="225.0" y2="665.1" stroke="#222" stroke-width="0.7"/>
<text x="225.0" y="672.1" font-size="6.3" font-weight="bold" fill="#111" text-anchor="middle" stroke="#111" stroke-width="0.21">2</text>
<line x1="234.9" y1="663.6" x2="234.9" y2="665.1" stroke="#222" stroke-width="0.7"/>
<text x="234.9" y="672.1" font-size="6.3" font-weight="bold" fill="#111" text-anchor="middle" stroke="#111" stroke-width="0.21">4</text>
<line x1="244.7" y1="663.6" x2="244.7" y2="665.1" stroke="#222" stroke-width="0.7"/>
<text x="244.7" y="672.1" font-size="6.3" font-weight="bold" fill="#111" text-anchor="middle" stroke="#111" stroke-width="0.21">6</text>
<line x1="254.6" y1="663.6" x2="254.6" y2="665.1" stroke="#222" stroke-width="0.7"/>
<text x="254.6" y="672.1" font-size="6.3" font-weight="bold" fill="#111" text-anchor="middle" stroke="#111" stroke-width="0.21">8</text>
<line x1="264.5" y1="663.6" x2="264.5" y2="665.1" stroke="#222" stroke-width="0.7"/>
<text x="264.5" y="672.1" font-size="6.3" font-weight="bold" fill="#111" text-anchor="middle" stroke="#111" stroke-width="0.21">10</text>
<text x="209.7" y="607.8" font-size="7.4" font-weight="bold" fill="#111" textLength="50.4" lengthAdjust="spacingAndGlyphs" stroke="#111" stroke-width="0.25">AHNAK mRNA</text>
<line x1="203.8" y1="626.0" x2="205.3" y2="626.0" stroke="#555" stroke-width="0.6"/>
<line x1="203.8" y1="648.7" x2="205.3" y2="648.7" stroke="#555" stroke-width="0.6"/>
<line x1="207.2" y1="626.0" x2="254.6" y2="626.0" stroke="#111" stroke-width="1.5"/>
<path d="M208.2,625.8 L212.1,622.5 L215.1,618.8 L217.6,622.5 L220.0,624.5 L225.0,624.2 L230.9,621.5 L236.8,624.0 L242.3,624.8 L247.2,625.4 L253.6,625.8 L253.6,626.2 L247.2,626.6 L242.3,627.2 L236.8,628.0 L230.9,630.5 L225.0,627.8 L220.0,627.5 L217.6,629.5 L215.1,633.2 L212.1,629.5 L208.2,626.2Z" fill="#a3a3a3" stroke="#111" stroke-width="0.85"/>
<ellipse cx="215.1" cy="626.0" rx="0.5" ry="6.5" fill="#e02020"/>
<ellipse cx="230.9" cy="626.0" rx="0.5" ry="4.0" fill="#e02020"/>
<line x1="211.1" y1="648.7" x2="252.6" y2="648.7" stroke="#111" stroke-width="1.5"/>
<path d="M212.1,648.4 L214.4,644.7 L215.1,642.1 L216.1,644.7 L217.6,647.7 L225.0,648.1 L234.9,648.2 L244.7,648.2 L252.2,648.5 L252.2,648.9 L244.7,649.2 L234.9,649.2 L225.0,649.3 L217.6,649.7 L216.1,652.7 L215.1,655.3 L214.4,652.7 L212.1,649.0Z" fill="#a3a3a3" stroke="#111" stroke-width="0.85"/>
<ellipse cx="215.2" cy="648.7" rx="0.9" ry="6.5" fill="#e02020"/>
<path d="M255.7,626.0 H261.2 V648.7 H252.7" fill="none" stroke="#777" stroke-width="0.8"/>
<circle cx="265.6" cy="629.7" r="1.5" fill="#f02020"/>
<circle cx="265.6" cy="635.0" r="1.5" fill="#f02020"/>
<circle cx="265.6" cy="639.8" r="1.5" fill="#f02020"/>
<circle cx="265.6" cy="645.0" r="1.5" fill="#f02020"/>
<line x1="461.0" y1="611.4" x2="461.0" y2="664.6" stroke="#555" stroke-width="0.8"/>
<line x1="461.0" y1="664.6" x2="520.8" y2="664.6" stroke="#222" stroke-width="0.8"/>
<line x1="461.5" y1="664.6" x2="461.5" y2="666.1" stroke="#222" stroke-width="0.7"/>
<text x="461.5" y="673.1" font-size="6.3" font-weight="bold" fill="#111" text-anchor="middle" stroke="#111" stroke-width="0.21">-5</text>
<line x1="476.3" y1="664.6" x2="476.3" y2="666.1" stroke="#222" stroke-width="0.7"/>
<text x="476.3" y="673.1" font-size="6.3" font-weight="bold" fill="#111" text-anchor="middle" stroke="#111" stroke-width="0.21">0</text>
<line x1="491.1" y1="664.6" x2="491.1" y2="666.1" stroke="#222" stroke-width="0.7"/>
<text x="491.1" y="673.1" font-size="6.3" font-weight="bold" fill="#111" text-anchor="middle" stroke="#111" stroke-width="0.21">5</text>
<line x1="506.0" y1="664.6" x2="506.0" y2="666.1" stroke="#222" stroke-width="0.7"/>
<text x="506.0" y="673.1" font-size="6.3" font-weight="bold" fill="#111" text-anchor="middle" stroke="#111" stroke-width="0.21">10</text>
<line x1="520.8" y1="664.6" x2="520.8" y2="666.1" stroke="#222" stroke-width="0.7"/>
<text x="520.8" y="673.1" font-size="6.3" font-weight="bold" fill="#111" text-anchor="middle" stroke="#111" stroke-width="0.21">15</text>
<text x="458.4" y="606.0" font-size="7.4" font-weight="bold" fill="#111" textLength="66.1" lengthAdjust="spacingAndGlyphs" stroke="#111" stroke-width="0.25">TNFRSF13B mRNA</text>
<line x1="459.5" y1="625.2" x2="461.0" y2="625.2" stroke="#555" stroke-width="0.6"/>
<line x1="459.5" y1="648.0" x2="461.0" y2="648.0" stroke="#555" stroke-width="0.6"/>
<line x1="467.4" y1="625.2" x2="516.9" y2="625.2" stroke="#111" stroke-width="1.5"/>
<path d="M467.7,625.0 L471.9,622.7 L476.3,618.4 L478.7,621.7 L481.6,623.9 L488.2,624.2 L495.6,624.2 L498.8,622.7 L503.0,622.2 L507.4,623.6 L511.9,624.6 L516.9,625.0 L516.9,625.4 L511.9,625.8 L507.4,626.8 L503.0,628.2 L498.8,627.7 L495.6,626.2 L488.2,626.2 L481.6,626.5 L478.7,628.7 L476.3,632.0 L471.9,627.7 L467.7,625.4Z" fill="#a3a3a3" stroke="#111" stroke-width="0.85"/>
<ellipse cx="476.3" cy="625.2" rx="0.6" ry="6.3" fill="#e02020"/>
<ellipse cx="502.0" cy="625.2" rx="0.4" ry="2.5" fill="#e02020"/>
<line x1="471.9" y1="648.0" x2="513.4" y2="648.0" stroke="#111" stroke-width="1.5"/>
<path d="M472.7,647.7 L474.8,645.0 L476.3,641.8 L477.8,645.0 L479.3,647.0 L488.2,647.2 L497.1,647.1 L503.0,646.7 L507.4,647.2 L513.4,647.7 L513.4,648.3 L507.4,648.8 L503.0,649.3 L497.1,648.9 L488.2,648.8 L479.3,649.0 L477.8,651.0 L476.3,654.2 L474.8,651.0 L472.7,648.3Z" fill="#a3a3a3" stroke="#111" stroke-width="0.85"/>
<ellipse cx="476.4" cy="648.0" rx="0.8" ry="6.0" fill="#e02020"/>
<text stroke="#111" stroke-width="0.24" x="390.9" y="627.6" font-size="7" font-weight="bold" fill="#111" textLength="66.8" lengthAdjust="spacingAndGlyphs">CD11b<tspan font-size="4.6" dy="-2.8">+</tspan><tspan dy="2.8">PDL1</tspan><tspan font-size="4.6" dy="-2.8">+</tspan><tspan dy="2.8"> B cells</tspan></text>
<text stroke="#111" stroke-width="0.24" x="393.6" y="650.4" font-size="7" font-weight="bold" fill="#111" textLength="64.1" lengthAdjust="spacingAndGlyphs">CD11b<tspan font-size="4.6" dy="-2.8">−</tspan><tspan dy="2.8">PDL1</tspan><tspan font-size="4.6" dy="-2.8">−</tspan><tspan dy="2.8"> B cells</tspan></text>
<path d="M516.9,625.2 H523.4 V648.0 H513.9" fill="none" stroke="#777" stroke-width="0.8"/>
<text x="528.9" y="633.9" font-size="10.2" font-weight="bold" fill="#f02020" text-anchor="middle" stroke="#f02020" stroke-width="0.26">*</text>
<text x="528.9" y="638.6" font-size="10.2" font-weight="bold" fill="#f02020" text-anchor="middle" stroke="#f02020" stroke-width="0.26">*</text>
<text x="528.9" y="643.8" font-size="10.2" font-weight="bold" fill="#f02020" text-anchor="middle" stroke="#f02020" stroke-width="0.26">*</text>
<text x="528.9" y="648.8" font-size="10.2" font-weight="bold" fill="#f02020" text-anchor="middle" stroke="#f02020" stroke-width="0.26">*</text>
<line x1="545.3" y1="609.6" x2="545.3" y2="662.4" stroke="#555" stroke-width="0.8"/>
<line x1="545.3" y1="662.4" x2="605.5" y2="662.4" stroke="#222" stroke-width="0.8"/>
<line x1="545.1" y1="662.4" x2="545.1" y2="663.9" stroke="#222" stroke-width="0.7"/>
<text x="545.1" y="670.9" font-size="6.3" font-weight="bold" fill="#111" text-anchor="middle" stroke="#111" stroke-width="0.21">-5</text>
<line x1="560.2" y1="662.4" x2="560.2" y2="663.9" stroke="#222" stroke-width="0.7"/>
<text x="560.2" y="670.9" font-size="6.3" font-weight="bold" fill="#111" text-anchor="middle" stroke="#111" stroke-width="0.21">0</text>
<line x1="575.3" y1="662.4" x2="575.3" y2="663.9" stroke="#222" stroke-width="0.7"/>
<text x="575.3" y="670.9" font-size="6.3" font-weight="bold" fill="#111" text-anchor="middle" stroke="#111" stroke-width="0.21">5</text>
<line x1="590.4" y1="662.4" x2="590.4" y2="663.9" stroke="#222" stroke-width="0.7"/>
<text x="590.4" y="670.9" font-size="6.3" font-weight="bold" fill="#111" text-anchor="middle" stroke="#111" stroke-width="0.21">10</text>
<line x1="605.5" y1="662.4" x2="605.5" y2="663.9" stroke="#222" stroke-width="0.7"/>
<text x="605.5" y="670.9" font-size="6.3" font-weight="bold" fill="#111" text-anchor="middle" stroke="#111" stroke-width="0.21">15</text>
<text x="549.7" y="606.7" font-size="7.4" font-weight="bold" fill="#111" textLength="50.7" lengthAdjust="spacingAndGlyphs" stroke="#111" stroke-width="0.25">AHNAK mRNA</text>
<line x1="543.8" y1="624.6" x2="545.3" y2="624.6" stroke="#555" stroke-width="0.6"/>
<line x1="543.8" y1="647.3" x2="545.3" y2="647.3" stroke="#555" stroke-width="0.6"/>
<line x1="552.3" y1="624.6" x2="597.0" y2="624.6" stroke="#111" stroke-width="1.5"/>
<path d="M552.7,624.4 L556.6,621.6 L560.2,617.6 L563.8,621.1 L567.1,623.1 L570.8,622.4 L575.3,620.1 L582.2,618.6 L585.9,620.6 L589.8,622.8 L593.4,624.0 L597.0,624.4 L597.0,624.8 L593.4,625.2 L589.8,626.4 L585.9,628.6 L582.2,630.6 L575.3,629.1 L570.8,626.8 L567.1,626.1 L563.8,628.1 L560.2,631.6 L556.6,627.6 L552.7,624.8Z" fill="#a3a3a3" stroke="#111" stroke-width="0.85"/>
<ellipse cx="560.2" cy="624.6" rx="0.4" ry="6.5" fill="#e02020"/>
<ellipse cx="575.3" cy="624.6" rx="0.3" ry="4.0" fill="#e02020"/>
<ellipse cx="582.2" cy="624.6" rx="0.3" ry="5.5" fill="#e02020"/>
<line x1="556.6" y1="647.3" x2="594.6" y2="647.3" stroke="#111" stroke-width="1.5"/>
<path d="M556.9,647.0 L559.0,643.8 L560.2,640.3 L561.4,643.8 L562.9,646.3 L569.3,646.6 L579.8,645.8 L585.9,646.3 L594.6,647.1 L594.6,647.5 L585.9,648.3 L579.8,648.8 L569.3,648.0 L562.9,648.3 L561.4,650.8 L560.2,654.3 L559.0,650.8 L556.9,647.6Z" fill="#a3a3a3" stroke="#111" stroke-width="0.85"/>
<ellipse cx="560.3" cy="647.3" rx="1.0" ry="6.6" fill="#e02020"/>
<path d="M599.8,624.6 H602.7 V647.3 H596.8" fill="none" stroke="#777" stroke-width="0.8"/>
<text x="607.7" y="633.9" font-size="10.2" font-weight="bold" fill="#f02020" text-anchor="middle" stroke="#f02020" stroke-width="0.26">*</text>
<text x="607.7" y="638.6" font-size="10.2" font-weight="bold" fill="#f02020" text-anchor="middle" stroke="#f02020" stroke-width="0.26">*</text>
<text x="607.7" y="643.8" font-size="10.2" font-weight="bold" fill="#f02020" text-anchor="middle" stroke="#f02020" stroke-width="0.26">*</text>
<text x="607.7" y="648.8" font-size="10.2" font-weight="bold" fill="#f02020" text-anchor="middle" stroke="#f02020" stroke-width="0.26">*</text>
<text x="0.0" y="699.4" font-size="8.6" font-weight="bold" fill="#111" textLength="13.4" lengthAdjust="spacingAndGlyphs" stroke="#111" stroke-width="0.26">(H)</text>
<text stroke="#111" stroke-width="0.17" x="17.5" y="706.8" font-size="10.45" fill="#111"><tspan font-weight="bold">Sig. Bregs</tspan> (<tspan font-style="italic">Itgam</tspan>, <tspan font-style="italic">Cd274</tspan>, <tspan font-style="italic">Tnfrsf13b</tspan>, <tspan font-style="italic">Ahnak</tspan>)</text>
<text stroke="#111" stroke-width="0.17" x="17.5" y="719.5" font-size="10.45" fill="#111"><tspan font-weight="bold" fill="#5b9bd5" stroke="#5b9bd5">Low</tspan> vs <tspan font-weight="bold" fill="#c9a227" stroke="#c9a227">High</tspan> in the <tspan font-weight="bold">pan-cancer</tspan></text>
<text stroke="#111" stroke-width="0.26" x="17.5" y="733.7" font-size="10.45" fill="#111" font-weight="bold">TCGA dataset <tspan font-size="6.2" font-weight="normal" dy="-4">44</tspan></text>
<text stroke="#111" stroke-width="0.17" x="17.5" y="760.8" font-size="10.45" fill="#111"><tspan font-weight="bold">GBM</tspan>, glioblastoma;</text>
<text stroke="#111" stroke-width="0.17" x="17.5" y="776.1" font-size="10.45" fill="#111"><tspan font-weight="bold">LGG</tspan>, low-grade glioma;</text>
<text stroke="#111" stroke-width="0.17" x="17.5" y="791.4" font-size="10.45" fill="#111"><tspan font-weight="bold">LUSC</tspan>, lung squamous cell carcinoma;</text>
<text stroke="#111" stroke-width="0.17" x="17.5" y="806.8" font-size="10.45" fill="#111"><tspan font-weight="bold">STAD</tspan>, stomach adenocarcinoma;</text>
<text stroke="#111" stroke-width="0.17" x="17.5" y="822.1" font-size="10.45" fill="#111"><tspan font-weight="bold">MESO</tspan>, mesothelioma;</text>
<text stroke="#111" stroke-width="0.17" x="17.5" y="837.4" font-size="10.45" fill="#111"><tspan font-weight="bold">OV</tspan>, ovarian carcinoma.</text>
<path d="M257.8,695.7 L258.6,695.7 L258.6,695.7 L259.4,695.7 L259.4,695.7 L260.3,695.7 L260.3,695.7 L261.1,695.7 L261.1,695.7 L261.9,695.7 L261.9,695.7 L262.7,695.7 L262.7,695.7 L263.8,695.7 L263.8,696.4 L264.9,696.4 L264.9,697.1 L266.0,697.1 L266.0,697.8 L267.1,697.8 L267.1,699.3 L268.2,699.3 L268.2,700.9 L269.3,700.9 L269.3,702.5 L270.4,702.5 L270.4,704.2 L271.5,704.2 L271.5,705.9 L272.6,705.9 L272.6,707.7 L273.6,707.7 L273.6,709.4 L274.7,709.4 L274.7,711.1 L275.8,711.1 L275.8,712.9 L276.9,712.9 L276.9,714.6 L278.0,714.6 L278.0,716.3 L279.1,716.3 L279.1,718.1 L280.2,718.1 L280.2,719.6 L281.3,719.6 L281.3,721.2 L282.4,721.2 L282.4,722.7 L283.5,722.7 L283.5,723.8 L284.6,723.8 L284.6,724.8 L285.7,724.8 L285.7,725.9 L287.3,725.9 L287.3,726.7 L288.9,726.7 L288.9,727.6 L290.6,727.6 L290.6,728.5 L292.8,728.5 L292.8,729.0 L295.0,729.0 L295.0,729.5 L297.1,729.5 L297.1,730.0 L299.3,730.0 L299.3,730.4 L301.5,730.4 L301.5,730.7 L303.7,730.7 L303.7,731.1 L305.9,731.1 L305.9,731.8 L308.1,731.8 L308.1,732.4 L310.2,732.4 L310.2,733.1 L312.4,733.1 L312.4,733.8 L314.6,733.8 L314.6,734.5 L316.8,734.5 L316.8,735.2 L319.5,735.2 L319.5,735.9 L322.3,735.9 L322.3,736.6 L325.0,736.6 L325.0,737.3 L325.5,737.3 L325.5,737.1 L326.1,737.1 L326.1,737.0 L326.6,737.0 L326.6,736.8 L356.1,736.8 L356.1,738.9 L362.7,738.9 L362.7,738.9 L369.3,738.9 L369.3,738.9 L375.8,738.9 L375.8,738.9 L375.8,747.7 L375.8,747.7 L369.3,747.7 L369.3,747.7 L362.7,747.7 L362.7,747.7 L356.1,747.7 L356.1,747.7 L326.6,747.7 L326.6,747.7 L326.1,747.7 L326.1,747.7 L325.5,747.7 L325.5,747.7 L325.0,747.7 L325.0,747.0 L322.3,747.0 L322.3,746.3 L319.5,746.3 L319.5,745.6 L316.8,745.6 L316.8,744.9 L314.6,744.9 L314.6,744.2 L312.4,744.2 L312.4,743.5 L310.2,743.5 L310.2,742.8 L308.1,742.8 L308.1,742.2 L305.9,742.2 L305.9,741.5 L303.7,741.5 L303.7,741.1 L301.5,741.1 L301.5,740.8 L299.3,740.8 L299.3,740.4 L297.1,740.4 L297.1,739.9 L295.0,739.9 L295.0,739.4 L292.8,739.4 L292.8,738.9 L290.6,738.9 L290.6,738.0 L288.9,738.0 L288.9,737.1 L287.3,737.1 L287.3,736.3 L285.7,736.3 L285.7,735.2 L284.6,735.2 L284.6,734.2 L283.5,734.2 L283.5,733.1 L282.4,733.1 L282.4,731.6 L281.3,731.6 L281.3,730.0 L280.2,730.0 L280.2,728.5 L279.1,728.5 L279.1,726.7 L278.0,726.7 L278.0,725.0 L276.9,725.0 L276.9,723.3 L275.8,723.3 L275.8,721.5 L274.7,721.5 L274.7,719.8 L273.6,719.8 L273.6,718.1 L272.6,718.1 L272.6,716.3 L271.5,716.3 L271.5,714.6 L270.4,714.6 L270.4,712.9 L269.3,712.9 L269.3,711.3 L268.2,711.3 L268.2,709.7 L267.1,709.7 L267.1,708.2 L266.0,708.2 L266.0,707.1 L264.9,707.1 L264.9,706.1 L263.8,706.1 L263.8,705.1 L262.7,705.1 L262.7,704.4 L261.9,704.4 L261.9,703.7 L261.1,703.7 L261.1,703.0 L260.3,703.0 L260.3,702.3 L259.4,702.3 L259.4,701.6 L258.6,701.6 L258.6,700.9 L257.8,700.9Z" fill="#6f95dc" fill-opacity="0.42"/>
<path d="M257.8,695.7 L258.6,695.7 L258.6,695.7 L259.4,695.7 L259.4,695.7 L260.3,695.7 L260.3,695.7 L261.4,695.7 L261.4,697.3 L262.4,697.3 L262.4,698.8 L263.5,698.8 L263.5,700.4 L264.6,700.4 L264.6,702.5 L265.7,702.5 L265.7,704.5 L266.8,704.5 L266.8,706.6 L267.9,706.6 L267.9,708.4 L269.0,708.4 L269.0,710.1 L270.1,710.1 L270.1,711.8 L271.5,711.8 L271.5,713.6 L272.8,713.6 L272.8,715.3 L274.2,715.3 L274.2,717.0 L275.3,717.0 L275.3,719.1 L276.4,719.1 L276.4,721.2 L277.5,721.2 L277.5,723.3 L278.6,723.3 L278.6,724.6 L279.7,724.6 L279.7,726.0 L280.7,726.0 L280.7,727.4 L282.4,727.4 L282.4,729.2 L284.0,729.2 L284.0,730.9 L285.7,730.9 L285.7,732.6 L287.3,732.6 L287.3,733.7 L288.9,733.7 L288.9,734.7 L290.6,734.7 L290.6,735.7 L292.8,735.7 L292.8,736.4 L295.0,736.4 L295.0,737.1 L297.1,737.1 L297.1,737.8 L299.3,737.8 L299.3,738.5 L301.5,738.5 L301.5,739.2 L303.7,739.2 L303.7,739.9 L306.4,739.9 L306.4,740.2 L309.2,740.2 L309.2,740.6 L311.9,740.6 L311.9,740.9 L316.8,740.9 L316.8,741.3 L321.7,741.3 L321.7,741.6 L326.6,741.6 L326.6,742.0 L326.6,747.7 L326.6,747.7 L321.7,747.7 L321.7,747.7 L316.8,747.7 L316.8,747.7 L311.9,747.7 L311.9,747.7 L309.2,747.7 L309.2,747.7 L306.4,747.7 L306.4,747.7 L303.7,747.7 L303.7,747.5 L301.5,747.5 L301.5,747.4 L299.3,747.4 L299.3,747.2 L297.1,747.2 L297.1,746.5 L295.0,746.5 L295.0,745.8 L292.8,745.8 L292.8,745.1 L290.6,745.1 L290.6,744.1 L288.9,744.1 L288.9,743.0 L287.3,743.0 L287.3,742.0 L285.7,742.0 L285.7,740.2 L284.0,740.2 L284.0,738.5 L282.4,738.5 L282.4,736.8 L280.7,736.8 L280.7,735.4 L279.7,735.4 L279.7,734.0 L278.6,734.0 L278.6,732.6 L277.5,732.6 L277.5,730.5 L276.4,730.5 L276.4,728.5 L275.3,728.5 L275.3,726.4 L274.2,726.4 L274.2,724.6 L272.8,724.6 L272.8,722.9 L271.5,722.9 L271.5,721.2 L270.1,721.2 L270.1,719.4 L269.0,719.4 L269.0,717.7 L267.9,717.7 L267.9,716.0 L266.8,716.0 L266.8,713.9 L265.7,713.9 L265.7,711.8 L264.6,711.8 L264.6,709.7 L263.5,709.7 L263.5,708.0 L262.4,708.0 L262.4,706.3 L261.4,706.3 L261.4,704.5 L260.3,704.5 L260.3,703.2 L259.4,703.2 L259.4,701.8 L258.6,701.8 L258.6,700.4 L257.8,700.4Z" fill="#e8cf55" fill-opacity="0.42"/>
<path d="M257.8,695.7 H258.6 V696.4 H259.4 V697.1 H260.3 V697.8 H261.1 V698.5 H261.9 V699.2 H262.7 V699.9 H263.8 V700.9 H264.9 V701.9 H266.0 V703.0 H267.1 V704.5 H268.2 V706.1 H269.3 V707.7 H270.4 V709.4 H271.5 V711.1 H272.6 V712.9 H273.6 V714.6 H274.7 V716.3 H275.8 V718.1 H276.9 V719.8 H278.0 V721.5 H279.1 V723.3 H280.2 V724.8 H281.3 V726.4 H282.4 V727.9 H283.5 V729.0 H284.6 V730.0 H285.7 V731.1 H287.3 V731.9 H288.9 V732.8 H290.6 V733.7 H292.8 V734.2 H295.0 V734.7 H297.1 V735.2 H299.3 V735.6 H301.5 V735.9 H303.7 V736.3 H305.9 V737.0 H308.1 V737.6 H310.2 V738.3 H312.4 V739.0 H314.6 V739.7 H316.8 V740.4 H319.5 V741.1 H322.3 V741.8 H325.0 V742.5 H325.5 V742.8 H326.1 V743.2 H326.6 V743.5 H356.1 V745.6 H362.7 V745.6 H369.3 V745.6 H375.8 V745.6" fill="none" stroke="#3f74bb" stroke-width="0.8"/>
<path d="M257.8,695.7 H258.6 V697.1 H259.4 V698.5 H260.3 V699.9 H261.4 V701.6 H262.4 V703.3 H263.5 V705.1 H264.6 V707.1 H265.7 V709.2 H266.8 V711.3 H267.9 V713.0 H269.0 V714.8 H270.1 V716.5 H271.5 V718.2 H272.8 V720.0 H274.2 V721.7 H275.3 V723.8 H276.4 V725.9 H277.5 V727.9 H278.6 V729.3 H279.7 V730.7 H280.7 V732.1 H282.4 V733.8 H284.0 V735.6 H285.7 V737.3 H287.3 V738.3 H288.9 V739.4 H290.6 V740.4 H292.8 V741.1 H295.0 V741.8 H297.1 V742.5 H299.3 V743.2 H301.5 V743.9 H303.7 V744.6 H306.4 V744.9 H309.2 V745.3 H311.9 V745.6 H316.8 V746.0 H321.7 V746.3 H326.6 V746.7" fill="none" stroke="#d6ae2a" stroke-width="0.8"/>
<line x1="252.2" y1="694.2" x2="252.2" y2="749.3" stroke="#333" stroke-width="0.6"/>
<line x1="252.2" y1="749.3" x2="376.2" y2="749.3" stroke="#333" stroke-width="0.6"/>
<line x1="251.0" y1="695.7" x2="252.2" y2="695.7" stroke="#333" stroke-width="0.5"/>
<text x="250.4" y="697.0" font-size="3.7" fill="#222" text-anchor="end" stroke="#222" stroke-width="0.08">1.00</text>
<line x1="251.0" y1="708.7" x2="252.2" y2="708.7" stroke="#333" stroke-width="0.5"/>
<text x="250.4" y="710.0" font-size="3.7" fill="#222" text-anchor="end" stroke="#222" stroke-width="0.08">0.75</text>
<line x1="251.0" y1="721.7" x2="252.2" y2="721.7" stroke="#333" stroke-width="0.5"/>
<text x="250.4" y="723.0" font-size="3.7" fill="#222" text-anchor="end" stroke="#222" stroke-width="0.08">0.50</text>
<line x1="251.0" y1="734.7" x2="252.2" y2="734.7" stroke="#333" stroke-width="0.5"/>
<text x="250.4" y="736.0" font-size="3.7" fill="#222" text-anchor="end" stroke="#222" stroke-width="0.08">0.25</text>
<line x1="251.0" y1="747.7" x2="252.2" y2="747.7" stroke="#333" stroke-width="0.5"/>
<text x="250.4" y="749.0" font-size="3.7" fill="#222" text-anchor="end" stroke="#222" stroke-width="0.08">0.00</text>
<text x="240.7" y="721.7" font-size="3.6" fill="#222" text-anchor="middle" transform="rotate(-90 240.7 721.7)" stroke="#222" stroke-width="0.08">Survival probability</text>
<line x1="257.8" y1="749.3" x2="257.8" y2="750.5" stroke="#333" stroke-width="0.5"/>
<text x="257.8" y="753.4" font-size="3.7" fill="#222" text-anchor="middle" stroke="#222" stroke-width="0.08">0</text>
<line x1="274.2" y1="749.3" x2="274.2" y2="750.5" stroke="#333" stroke-width="0.5"/>
<text x="274.2" y="753.4" font-size="3.7" fill="#222" text-anchor="middle" stroke="#222" stroke-width="0.08">1</text>
<line x1="290.6" y1="749.3" x2="290.6" y2="750.5" stroke="#333" stroke-width="0.5"/>
<text x="290.6" y="753.4" font-size="3.7" fill="#222" text-anchor="middle" stroke="#222" stroke-width="0.08">2</text>
<line x1="307.0" y1="749.3" x2="307.0" y2="750.5" stroke="#333" stroke-width="0.5"/>
<text x="307.0" y="753.4" font-size="3.7" fill="#222" text-anchor="middle" stroke="#222" stroke-width="0.08">3</text>
<line x1="323.4" y1="749.3" x2="323.4" y2="750.5" stroke="#333" stroke-width="0.5"/>
<text x="323.4" y="753.4" font-size="3.7" fill="#222" text-anchor="middle" stroke="#222" stroke-width="0.08">4</text>
<line x1="339.8" y1="749.3" x2="339.8" y2="750.5" stroke="#333" stroke-width="0.5"/>
<text x="339.8" y="753.4" font-size="3.7" fill="#222" text-anchor="middle" stroke="#222" stroke-width="0.08">5</text>
<line x1="356.1" y1="749.3" x2="356.1" y2="750.5" stroke="#333" stroke-width="0.5"/>
<text x="356.1" y="753.4" font-size="3.7" fill="#222" text-anchor="middle" stroke="#222" stroke-width="0.08">6</text>
<line x1="372.5" y1="749.3" x2="372.5" y2="750.5" stroke="#333" stroke-width="0.5"/>
<text x="372.5" y="753.4" font-size="3.7" fill="#222" text-anchor="middle" stroke="#222" stroke-width="0.08">7</text>
<text x="315.2" y="757.2" font-size="3.9" fill="#222" text-anchor="middle" stroke="#222" stroke-width="0.09">Years</text>
<text x="331.4" y="704.7" font-size="9.4" font-weight="bold" fill="#f01818" textLength="21.9" lengthAdjust="spacingAndGlyphs" stroke="#f01818" stroke-width="0.26">GBM</text>
<text x="331.2" y="713.8" font-size="9.4" font-weight="bold" fill="#f01818" textLength="34.8" lengthAdjust="spacingAndGlyphs" stroke="#f01818" stroke-width="0.26">p=0.013</text>
<text x="328.6" y="726.4" font-size="6.65" fill="#6a9ad6" textLength="42.9" lengthAdjust="spacingAndGlyphs" stroke="#6a9ad6" stroke-width="0.15">Low: 448 days</text>
<text x="328.6" y="734.3" font-size="6.65" fill="#c4a43a" textLength="44.4" lengthAdjust="spacingAndGlyphs" stroke="#c4a43a" stroke-width="0.15">High: 329 days</text>
<text x="252.2" y="765.2" font-size="4.85" fill="#111" stroke="#111" stroke-width="0.11">Number at risk</text>
<text x="252.2" y="782.7" font-size="4.85" fill="#111" stroke="#111" stroke-width="0.11">Cumulative number of events</text>
<line x1="244.2" y1="768.7" x2="248.9" y2="768.7" stroke="#6a9ad6" stroke-width="1.2"/>
<text x="257.8" y="770.2" font-size="4.1" font-weight="bold" fill="#222" text-anchor="middle" stroke="#222" stroke-width="0.14">88</text>
<text x="274.2" y="770.2" font-size="4.1" font-weight="bold" fill="#222" text-anchor="middle" stroke="#222" stroke-width="0.14">49</text>
<text x="290.6" y="770.2" font-size="4.1" font-weight="bold" fill="#222" text-anchor="middle" stroke="#222" stroke-width="0.14">14</text>
<text x="307.0" y="770.2" font-size="4.1" font-weight="bold" fill="#222" text-anchor="middle" stroke="#222" stroke-width="0.14">4</text>
<text x="323.4" y="770.2" font-size="4.1" font-weight="bold" fill="#222" text-anchor="middle" stroke="#222" stroke-width="0.14">3</text>
<text x="339.8" y="770.2" font-size="4.1" font-weight="bold" fill="#222" text-anchor="middle" stroke="#222" stroke-width="0.14">2</text>
<text x="356.1" y="770.2" font-size="4.1" font-weight="bold" fill="#222" text-anchor="middle" stroke="#222" stroke-width="0.14">1</text>
<text x="372.5" y="770.2" font-size="4.1" font-weight="bold" fill="#222" text-anchor="middle" stroke="#222" stroke-width="0.14">1</text>
<line x1="244.2" y1="773.2" x2="248.9" y2="773.2" stroke="#d6ae2a" stroke-width="1.2"/>
<text x="257.8" y="774.7" font-size="4.1" font-weight="bold" fill="#222" text-anchor="middle" stroke="#222" stroke-width="0.14">58</text>
<text x="274.2" y="774.7" font-size="4.1" font-weight="bold" fill="#222" text-anchor="middle" stroke="#222" stroke-width="0.14">20</text>
<text x="290.6" y="774.7" font-size="4.1" font-weight="bold" fill="#222" text-anchor="middle" stroke="#222" stroke-width="0.14">5</text>
<text x="307.0" y="774.7" font-size="4.1" font-weight="bold" fill="#222" text-anchor="middle" stroke="#222" stroke-width="0.14">2</text>
<text x="323.4" y="774.7" font-size="4.1" font-weight="bold" fill="#222" text-anchor="middle" stroke="#222" stroke-width="0.14">1</text>
<text x="339.8" y="774.7" font-size="4.1" font-weight="bold" fill="#222" text-anchor="middle" stroke="#222" stroke-width="0.14">0</text>
<text x="356.1" y="774.7" font-size="4.1" font-weight="bold" fill="#222" text-anchor="middle" stroke="#222" stroke-width="0.14">0</text>
<text x="372.5" y="774.7" font-size="4.1" font-weight="bold" fill="#222" text-anchor="middle" stroke="#222" stroke-width="0.14">0</text>
<line x1="244.2" y1="785.8" x2="248.9" y2="785.8" stroke="#6a9ad6" stroke-width="1.2"/>
<text x="257.8" y="787.2" font-size="4.1" font-weight="bold" fill="#222" text-anchor="middle" stroke="#222" stroke-width="0.14">0</text>
<text x="274.2" y="787.2" font-size="4.1" font-weight="bold" fill="#222" text-anchor="middle" stroke="#222" stroke-width="0.14">29</text>
<text x="290.6" y="787.2" font-size="4.1" font-weight="bold" fill="#222" text-anchor="middle" stroke="#222" stroke-width="0.14">57</text>
<text x="307.0" y="787.2" font-size="4.1" font-weight="bold" fill="#222" text-anchor="middle" stroke="#222" stroke-width="0.14">64</text>
<text x="323.4" y="787.2" font-size="4.1" font-weight="bold" fill="#222" text-anchor="middle" stroke="#222" stroke-width="0.14">66</text>
<text x="339.8" y="787.2" font-size="4.1" font-weight="bold" fill="#222" text-anchor="middle" stroke="#222" stroke-width="0.14">66</text>
<text x="356.1" y="787.2" font-size="4.1" font-weight="bold" fill="#222" text-anchor="middle" stroke="#222" stroke-width="0.14">67</text>
<text x="372.5" y="787.2" font-size="4.1" font-weight="bold" fill="#222" text-anchor="middle" stroke="#222" stroke-width="0.14">67</text>
<line x1="244.2" y1="789.8" x2="248.9" y2="789.8" stroke="#d6ae2a" stroke-width="1.2"/>
<text x="257.8" y="791.2" font-size="4.1" font-weight="bold" fill="#222" text-anchor="middle" stroke="#222" stroke-width="0.14">0</text>
<text x="274.2" y="791.2" font-size="4.1" font-weight="bold" fill="#222" text-anchor="middle" stroke="#222" stroke-width="0.14">29</text>
<text x="290.6" y="791.2" font-size="4.1" font-weight="bold" fill="#222" text-anchor="middle" stroke="#222" stroke-width="0.14">43</text>
<text x="307.0" y="791.2" font-size="4.1" font-weight="bold" fill="#222" text-anchor="middle" stroke="#222" stroke-width="0.14">47</text>
<text x="323.4" y="791.2" font-size="4.1" font-weight="bold" fill="#222" text-anchor="middle" stroke="#222" stroke-width="0.14">48</text>
<text x="339.8" y="791.2" font-size="4.1" font-weight="bold" fill="#222" text-anchor="middle" stroke="#222" stroke-width="0.14">49</text>
<text x="356.1" y="791.2" font-size="4.1" font-weight="bold" fill="#222" text-anchor="middle" stroke="#222" stroke-width="0.14">49</text>
<text x="372.5" y="791.2" font-size="4.1" font-weight="bold" fill="#222" text-anchor="middle" stroke="#222" stroke-width="0.14">49</text>
<path d="M402.9,696.3 L404.6,696.3 L404.6,696.3 L406.4,696.3 L406.4,696.3 L408.1,696.3 L408.1,696.3 L409.8,696.3 L409.8,696.5 L411.5,696.5 L411.5,696.8 L413.3,696.8 L413.3,697.0 L415.0,697.0 L415.0,697.6 L416.7,697.6 L416.7,698.1 L418.4,698.1 L418.4,698.7 L420.2,698.7 L420.2,699.4 L421.9,699.4 L421.9,700.2 L423.6,700.2 L423.6,700.9 L425.3,700.9 L425.3,701.4 L427.1,701.4 L427.1,702.0 L428.8,702.0 L428.8,702.6 L430.5,702.6 L430.5,703.3 L432.3,703.3 L432.3,704.0 L434.0,704.0 L434.0,704.7 L435.7,704.7 L435.7,705.1 L437.4,705.1 L437.4,705.5 L439.2,705.5 L439.2,705.9 L440.9,705.9 L440.9,706.3 L442.6,706.3 L442.6,706.7 L444.3,706.7 L444.3,707.0 L446.1,707.0 L446.1,707.4 L447.8,707.4 L447.8,707.8 L449.5,707.8 L449.5,708.2 L451.2,708.2 L451.2,708.4 L453.0,708.4 L453.0,708.6 L454.7,708.6 L454.7,708.8 L456.4,708.8 L456.4,709.0 L458.2,709.0 L458.2,709.2 L459.9,709.2 L459.9,709.4 L461.6,709.4 L461.6,709.6 L463.3,709.6 L463.3,709.8 L465.1,709.8 L465.1,710.1 L466.8,710.1 L466.8,710.6 L468.5,710.6 L468.5,711.2 L470.2,711.2 L470.2,711.7 L472.0,711.7 L472.0,712.3 L473.7,712.3 L473.7,712.8 L475.4,712.8 L475.4,713.4 L477.1,713.4 L477.1,713.9 L478.9,713.9 L478.9,714.5 L480.6,714.5 L480.6,715.1 L482.3,715.1 L482.3,715.6 L484.1,715.6 L484.1,716.2 L485.8,716.2 L485.8,716.7 L489.2,716.7 L489.2,716.9 L492.7,716.9 L492.7,717.1 L496.1,717.1 L496.1,717.3 L497.9,717.3 L497.9,717.6 L499.6,717.6 L499.6,717.8 L501.3,717.8 L501.3,718.0 L503.0,718.0 L503.0,718.5 L504.8,718.5 L504.8,719.1 L506.5,719.1 L506.5,719.6 L506.5,737.6 L506.5,736.7 L504.8,736.7 L504.8,735.9 L503.0,735.9 L503.0,735.1 L501.3,735.1 L501.3,734.6 L499.6,734.6 L499.6,734.1 L497.9,734.1 L497.9,733.6 L496.1,733.6 L496.1,733.1 L492.7,733.1 L492.7,732.6 L489.2,732.6 L489.2,732.1 L485.8,732.1 L485.8,731.3 L484.1,731.3 L484.1,730.5 L482.3,730.5 L482.3,729.6 L480.6,729.6 L480.6,728.8 L478.9,728.8 L478.9,728.0 L477.1,728.0 L477.1,727.1 L475.4,727.1 L475.4,726.3 L473.7,726.3 L473.7,725.5 L472.0,725.5 L472.0,724.6 L470.2,724.6 L470.2,723.8 L468.5,723.8 L468.5,723.0 L466.8,723.0 L466.8,722.1 L465.1,722.1 L465.1,721.7 L463.3,721.7 L463.3,721.2 L461.6,721.2 L461.6,720.7 L459.9,720.7 L459.9,720.2 L458.2,720.2 L458.2,719.7 L456.4,719.7 L456.4,719.2 L454.7,719.2 L454.7,718.7 L453.0,718.7 L453.0,718.3 L451.2,718.3 L451.2,717.8 L449.5,717.8 L449.5,717.1 L447.8,717.1 L447.8,716.4 L446.1,716.4 L446.1,715.8 L444.3,715.8 L444.3,715.1 L442.6,715.1 L442.6,714.5 L440.9,714.5 L440.9,713.8 L439.2,713.8 L439.2,713.1 L437.4,713.1 L437.4,712.5 L435.7,712.5 L435.7,711.8 L434.0,711.8 L434.0,710.8 L432.3,710.8 L432.3,709.8 L430.5,709.8 L430.5,708.8 L428.8,708.8 L428.8,708.0 L427.1,708.0 L427.1,707.1 L425.3,707.1 L425.3,706.3 L423.6,706.3 L423.6,705.3 L421.9,705.3 L421.9,704.3 L420.2,704.3 L420.2,703.3 L418.4,703.3 L418.4,702.4 L416.7,702.4 L416.7,701.6 L415.0,701.6 L415.0,700.8 L413.3,700.8 L413.3,700.1 L411.5,700.1 L411.5,699.5 L409.8,699.5 L409.8,698.8 L408.1,698.8 L408.1,698.3 L406.4,698.3 L406.4,697.8 L404.6,697.8 L404.6,697.3 L402.9,697.3Z" fill="#6f95dc" fill-opacity="0.42"/>
<path d="M402.9,696.3 L403.9,696.3 L403.9,696.6 L405.0,696.6 L405.0,697.0 L406.0,697.0 L406.0,697.3 L407.0,697.3 L407.0,698.1 L408.1,698.1 L408.1,699.0 L409.1,699.0 L409.1,699.8 L410.5,699.8 L410.5,700.5 L411.9,700.5 L411.9,701.2 L413.3,701.2 L413.3,701.9 L415.0,701.9 L415.0,702.7 L416.7,702.7 L416.7,703.6 L418.4,703.6 L418.4,704.4 L420.2,704.4 L420.2,705.1 L421.9,705.1 L421.9,705.8 L423.6,705.8 L423.6,706.5 L425.3,706.5 L425.3,707.1 L427.1,707.1 L427.1,707.8 L428.8,707.8 L428.8,708.5 L430.5,708.5 L430.5,709.2 L432.3,709.2 L432.3,709.8 L434.0,709.8 L434.0,710.5 L435.7,710.5 L435.7,710.9 L437.4,710.9 L437.4,711.2 L439.2,711.2 L439.2,711.5 L440.9,711.5 L440.9,711.7 L442.6,711.7 L442.6,711.8 L444.3,711.8 L444.3,712.0 L447.8,712.0 L447.8,712.3 L451.2,712.3 L451.2,712.6 L454.7,712.6 L454.7,713.0 L458.2,713.0 L458.2,713.1 L461.6,713.1 L461.6,713.3 L465.1,713.3 L465.1,713.4 L468.5,713.4 L468.5,713.6 L472.0,713.6 L472.0,713.8 L475.4,713.8 L475.4,713.9 L478.9,713.9 L478.9,714.1 L482.3,714.1 L482.3,714.2 L485.8,714.2 L485.8,714.4 L487.2,714.4 L487.2,715.8 L488.5,715.8 L488.5,717.1 L489.9,717.1 L489.9,718.5 L491.3,718.5 L491.3,718.8 L492.7,718.8 L492.7,719.2 L494.1,719.2 L494.1,719.5 L494.1,740.8 L494.1,740.1 L492.7,740.1 L492.7,739.4 L491.3,739.4 L491.3,738.7 L489.9,738.7 L489.9,737.0 L488.5,737.0 L488.5,735.2 L487.2,735.2 L487.2,733.4 L485.8,733.4 L485.8,732.9 L482.3,732.9 L482.3,732.4 L478.9,732.4 L478.9,731.8 L475.4,731.8 L475.4,731.3 L472.0,731.3 L472.0,730.8 L468.5,730.8 L468.5,730.2 L465.1,730.2 L465.1,729.7 L461.6,729.7 L461.6,729.1 L458.2,729.1 L458.2,728.6 L454.7,728.6 L454.7,727.9 L451.2,727.9 L451.2,727.2 L447.8,727.2 L447.8,726.5 L444.3,726.5 L444.3,725.9 L442.6,725.9 L442.6,725.4 L440.9,725.4 L440.9,724.9 L439.2,724.9 L439.2,724.1 L437.4,724.1 L437.4,723.4 L435.7,723.4 L435.7,722.7 L434.0,722.7 L434.0,721.7 L432.3,721.7 L432.3,720.6 L430.5,720.6 L430.5,719.5 L428.8,719.5 L428.8,718.5 L427.1,718.5 L427.1,717.4 L425.3,717.4 L425.3,716.4 L423.6,716.4 L423.6,715.3 L421.9,715.3 L421.9,714.2 L420.2,714.2 L420.2,713.2 L418.4,713.2 L418.4,711.9 L416.7,711.9 L416.7,710.7 L415.0,710.7 L415.0,709.5 L413.3,709.5 L413.3,708.4 L411.9,708.4 L411.9,707.4 L410.5,707.4 L410.5,706.3 L409.1,706.3 L409.1,705.1 L408.1,705.1 L408.1,703.8 L407.0,703.8 L407.0,702.6 L406.0,702.6 L406.0,701.2 L405.0,701.2 L405.0,699.8 L403.9,699.8 L403.9,698.4 L402.9,698.4Z" fill="#e8cf55" fill-opacity="0.42"/>
<path d="M402.9,696.3 H404.6 V696.6 H406.4 V697.0 H408.1 V697.3 H409.8 V697.9 H411.5 V698.4 H413.3 V698.9 H415.0 V699.6 H416.7 V700.3 H418.4 V701.0 H420.2 V701.9 H421.9 V702.7 H423.6 V703.6 H425.3 V704.3 H427.1 V705.0 H428.8 V705.7 H430.5 V706.5 H432.3 V707.4 H434.0 V708.3 H435.7 V708.8 H437.4 V709.3 H439.2 V709.8 H440.9 V710.4 H442.6 V710.9 H444.3 V711.4 H446.1 V711.9 H447.8 V712.5 H449.5 V713.0 H451.2 V713.3 H453.0 V713.7 H454.7 V714.0 H456.4 V714.4 H458.2 V714.7 H459.9 V715.1 H461.6 V715.4 H463.3 V715.8 H465.1 V716.1 H466.8 V716.8 H468.5 V717.5 H470.2 V718.2 H472.0 V718.9 H473.7 V719.6 H475.4 V720.3 H477.1 V721.0 H478.9 V721.7 H480.6 V722.3 H482.3 V723.0 H484.1 V723.7 H485.8 V724.4 H489.2 V724.8 H492.7 V725.1 H496.1 V725.5 H497.9 V725.8 H499.6 V726.2 H501.3 V726.5 H503.0 V727.2 H504.8 V727.9 H506.5 V728.6" fill="none" stroke="#3f74bb" stroke-width="0.8"/>
<path d="M402.9,696.3 H403.9 V697.5 H405.0 V698.7 H406.0 V699.9 H407.0 V701.0 H408.1 V702.0 H409.1 V703.1 H410.5 V703.9 H411.9 V704.8 H413.3 V705.7 H415.0 V706.7 H416.7 V707.8 H418.4 V708.8 H420.2 V709.7 H421.9 V710.5 H423.6 V711.4 H425.3 V712.3 H427.1 V713.1 H428.8 V714.0 H430.5 V714.9 H432.3 V715.8 H434.0 V716.6 H435.7 V717.1 H437.4 V717.7 H439.2 V718.2 H440.9 V718.5 H442.6 V718.9 H444.3 V719.2 H447.8 V719.7 H451.2 V720.3 H454.7 V720.8 H458.2 V721.1 H461.6 V721.5 H465.1 V721.8 H468.5 V722.2 H472.0 V722.5 H475.4 V722.9 H478.9 V723.2 H482.3 V723.6 H485.8 V723.9 H487.2 V725.5 H488.5 V727.0 H489.9 V728.6 H491.3 V729.1 H492.7 V729.6 H494.1 V730.2" fill="none" stroke="#d6ae2a" stroke-width="0.8"/>
<line x1="397.2" y1="694.8" x2="397.2" y2="750.6" stroke="#333" stroke-width="0.6"/>
<line x1="397.2" y1="750.6" x2="517.2" y2="750.6" stroke="#333" stroke-width="0.6"/>
<line x1="396.0" y1="696.3" x2="397.2" y2="696.3" stroke="#333" stroke-width="0.5"/>
<text x="395.4" y="697.6" font-size="3.7" fill="#222" text-anchor="end" stroke="#222" stroke-width="0.08">1.00</text>
<line x1="396.0" y1="709.3" x2="397.2" y2="709.3" stroke="#333" stroke-width="0.5"/>
<text x="395.4" y="710.6" font-size="3.7" fill="#222" text-anchor="end" stroke="#222" stroke-width="0.08">0.75</text>
<line x1="396.0" y1="722.3" x2="397.2" y2="722.3" stroke="#333" stroke-width="0.5"/>
<text x="395.4" y="723.6" font-size="3.7" fill="#222" text-anchor="end" stroke="#222" stroke-width="0.08">0.50</text>
<line x1="396.0" y1="735.4" x2="397.2" y2="735.4" stroke="#333" stroke-width="0.5"/>
<text x="395.4" y="736.7" font-size="3.7" fill="#222" text-anchor="end" stroke="#222" stroke-width="0.08">0.25</text>
<line x1="396.0" y1="748.4" x2="397.2" y2="748.4" stroke="#333" stroke-width="0.5"/>
<text x="395.4" y="749.7" font-size="3.7" fill="#222" text-anchor="end" stroke="#222" stroke-width="0.08">0.00</text>
<text x="385.7" y="722.3" font-size="3.6" fill="#222" text-anchor="middle" transform="rotate(-90 385.7 722.3)" stroke="#222" stroke-width="0.08">Survival probability</text>
<line x1="402.9" y1="750.6" x2="402.9" y2="751.8" stroke="#333" stroke-width="0.5"/>
<text x="402.9" y="754.7" font-size="3.7" fill="#222" text-anchor="middle" stroke="#222" stroke-width="0.08">0</text>
<line x1="413.3" y1="750.6" x2="413.3" y2="751.8" stroke="#333" stroke-width="0.5"/>
<text x="413.3" y="754.7" font-size="3.7" fill="#222" text-anchor="middle" stroke="#222" stroke-width="0.08">1</text>
<line x1="423.6" y1="750.6" x2="423.6" y2="751.8" stroke="#333" stroke-width="0.5"/>
<text x="423.6" y="754.7" font-size="3.7" fill="#222" text-anchor="middle" stroke="#222" stroke-width="0.08">2</text>
<line x1="434.0" y1="750.6" x2="434.0" y2="751.8" stroke="#333" stroke-width="0.5"/>
<text x="434.0" y="754.7" font-size="3.7" fill="#222" text-anchor="middle" stroke="#222" stroke-width="0.08">3</text>
<line x1="444.3" y1="750.6" x2="444.3" y2="751.8" stroke="#333" stroke-width="0.5"/>
<text x="444.3" y="754.7" font-size="3.7" fill="#222" text-anchor="middle" stroke="#222" stroke-width="0.08">4</text>
<line x1="454.7" y1="750.6" x2="454.7" y2="751.8" stroke="#333" stroke-width="0.5"/>
<text x="454.7" y="754.7" font-size="3.7" fill="#222" text-anchor="middle" stroke="#222" stroke-width="0.08">5</text>
<line x1="465.1" y1="750.6" x2="465.1" y2="751.8" stroke="#333" stroke-width="0.5"/>
<text x="465.1" y="754.7" font-size="3.7" fill="#222" text-anchor="middle" stroke="#222" stroke-width="0.08">6</text>
<line x1="475.4" y1="750.6" x2="475.4" y2="751.8" stroke="#333" stroke-width="0.5"/>
<text x="475.4" y="754.7" font-size="3.7" fill="#222" text-anchor="middle" stroke="#222" stroke-width="0.08">7</text>
<line x1="485.8" y1="750.6" x2="485.8" y2="751.8" stroke="#333" stroke-width="0.5"/>
<text x="485.8" y="754.7" font-size="3.7" fill="#222" text-anchor="middle" stroke="#222" stroke-width="0.08">8</text>
<line x1="496.1" y1="750.6" x2="496.1" y2="751.8" stroke="#333" stroke-width="0.5"/>
<text x="496.1" y="754.7" font-size="3.7" fill="#222" text-anchor="middle" stroke="#222" stroke-width="0.08">9</text>
<line x1="506.5" y1="750.6" x2="506.5" y2="751.8" stroke="#333" stroke-width="0.5"/>
<text x="506.5" y="754.7" font-size="3.7" fill="#222" text-anchor="middle" stroke="#222" stroke-width="0.08">10</text>
<text x="454.7" y="758.5" font-size="3.9" fill="#222" text-anchor="middle" stroke="#222" stroke-width="0.09">Years</text>
<text x="401.8" y="737.1" font-size="9.4" font-weight="bold" fill="#f01818" textLength="20.4" lengthAdjust="spacingAndGlyphs" stroke="#f01818" stroke-width="0.26">LGG</text>
<text x="401.8" y="745.4" font-size="9.4" font-weight="bold" fill="#f01818" textLength="45.2" lengthAdjust="spacingAndGlyphs" stroke="#f01818" stroke-width="0.26">p=0.00075</text>
<text x="458.5" y="738.3" font-size="6.65" fill="#6a9ad6" textLength="46.6" lengthAdjust="spacingAndGlyphs" stroke="#6a9ad6" stroke-width="0.15">Low: 2835 days</text>
<text x="458.5" y="746.0" font-size="6.65" fill="#c4a43a" textLength="48.1" lengthAdjust="spacingAndGlyphs" stroke="#c4a43a" stroke-width="0.15">High: 1762 days</text>
<text x="398.4" y="766.4" font-size="4.85" fill="#111" stroke="#111" stroke-width="0.11">Number at risk</text>
<text x="398.4" y="783.9" font-size="4.85" fill="#111" stroke="#111" stroke-width="0.11">Cumulative number of events</text>
<line x1="390.4" y1="769.9" x2="395.1" y2="769.9" stroke="#6a9ad6" stroke-width="1.2"/>
<text x="402.9" y="771.4" font-size="4.1" font-weight="bold" fill="#222" text-anchor="middle" stroke="#222" stroke-width="0.14">401</text>
<text x="413.3" y="771.4" font-size="4.1" font-weight="bold" fill="#222" text-anchor="middle" stroke="#222" stroke-width="0.14">311</text>
<text x="423.6" y="771.4" font-size="4.1" font-weight="bold" fill="#222" text-anchor="middle" stroke="#222" stroke-width="0.14">186</text>
<text x="434.0" y="771.4" font-size="4.1" font-weight="bold" fill="#222" text-anchor="middle" stroke="#222" stroke-width="0.14">117</text>
<text x="444.3" y="771.4" font-size="4.1" font-weight="bold" fill="#222" text-anchor="middle" stroke="#222" stroke-width="0.14">69</text>
<text x="454.7" y="771.4" font-size="4.1" font-weight="bold" fill="#222" text-anchor="middle" stroke="#222" stroke-width="0.14">50</text>
<text x="465.1" y="771.4" font-size="4.1" font-weight="bold" fill="#222" text-anchor="middle" stroke="#222" stroke-width="0.14">41</text>
<text x="475.4" y="771.4" font-size="4.1" font-weight="bold" fill="#222" text-anchor="middle" stroke="#222" stroke-width="0.14">30</text>
<text x="485.8" y="771.4" font-size="4.1" font-weight="bold" fill="#222" text-anchor="middle" stroke="#222" stroke-width="0.14">17</text>
<text x="496.1" y="771.4" font-size="4.1" font-weight="bold" fill="#222" text-anchor="middle" stroke="#222" stroke-width="0.14">16</text>
<text x="506.5" y="771.4" font-size="4.1" font-weight="bold" fill="#222" text-anchor="middle" stroke="#222" stroke-width="0.14">13</text>
<line x1="390.4" y1="774.4" x2="395.1" y2="774.4" stroke="#d6ae2a" stroke-width="1.2"/>
<text x="402.9" y="775.9" font-size="4.1" font-weight="bold" fill="#222" text-anchor="middle" stroke="#222" stroke-width="0.14">100</text>
<text x="413.3" y="775.9" font-size="4.1" font-weight="bold" fill="#222" text-anchor="middle" stroke="#222" stroke-width="0.14">73</text>
<text x="423.6" y="775.9" font-size="4.1" font-weight="bold" fill="#222" text-anchor="middle" stroke="#222" stroke-width="0.14">44</text>
<text x="434.0" y="775.9" font-size="4.1" font-weight="bold" fill="#222" text-anchor="middle" stroke="#222" stroke-width="0.14">30</text>
<text x="444.3" y="775.9" font-size="4.1" font-weight="bold" fill="#222" text-anchor="middle" stroke="#222" stroke-width="0.14">15</text>
<text x="454.7" y="775.9" font-size="4.1" font-weight="bold" fill="#222" text-anchor="middle" stroke="#222" stroke-width="0.14">10</text>
<text x="465.1" y="775.9" font-size="4.1" font-weight="bold" fill="#222" text-anchor="middle" stroke="#222" stroke-width="0.14">7</text>
<text x="475.4" y="775.9" font-size="4.1" font-weight="bold" fill="#222" text-anchor="middle" stroke="#222" stroke-width="0.14">6</text>
<text x="485.8" y="775.9" font-size="4.1" font-weight="bold" fill="#222" text-anchor="middle" stroke="#222" stroke-width="0.14">3</text>
<text x="496.1" y="775.9" font-size="4.1" font-weight="bold" fill="#222" text-anchor="middle" stroke="#222" stroke-width="0.14">0</text>
<text x="506.5" y="775.9" font-size="4.1" font-weight="bold" fill="#222" text-anchor="middle" stroke="#222" stroke-width="0.14">0</text>
<line x1="390.4" y1="787.0" x2="395.1" y2="787.0" stroke="#6a9ad6" stroke-width="1.2"/>
<text x="402.9" y="788.5" font-size="4.1" font-weight="bold" fill="#222" text-anchor="middle" stroke="#222" stroke-width="0.14">0</text>
<text x="413.3" y="788.5" font-size="4.1" font-weight="bold" fill="#222" text-anchor="middle" stroke="#222" stroke-width="0.14">12</text>
<text x="423.6" y="788.5" font-size="4.1" font-weight="bold" fill="#222" text-anchor="middle" stroke="#222" stroke-width="0.14">35</text>
<text x="434.0" y="788.5" font-size="4.1" font-weight="bold" fill="#222" text-anchor="middle" stroke="#222" stroke-width="0.14">49</text>
<text x="444.3" y="788.5" font-size="4.1" font-weight="bold" fill="#222" text-anchor="middle" stroke="#222" stroke-width="0.14">60</text>
<text x="454.7" y="788.5" font-size="4.1" font-weight="bold" fill="#222" text-anchor="middle" stroke="#222" stroke-width="0.14">66</text>
<text x="465.1" y="788.5" font-size="4.1" font-weight="bold" fill="#222" text-anchor="middle" stroke="#222" stroke-width="0.14">69</text>
<text x="475.4" y="788.5" font-size="4.1" font-weight="bold" fill="#222" text-anchor="middle" stroke="#222" stroke-width="0.14">74</text>
<text x="485.8" y="788.5" font-size="4.1" font-weight="bold" fill="#222" text-anchor="middle" stroke="#222" stroke-width="0.14">78</text>
<text x="496.1" y="788.5" font-size="4.1" font-weight="bold" fill="#222" text-anchor="middle" stroke="#222" stroke-width="0.14">78</text>
<text x="506.5" y="788.5" font-size="4.1" font-weight="bold" fill="#222" text-anchor="middle" stroke="#222" stroke-width="0.14">80</text>
<line x1="390.4" y1="791.0" x2="395.1" y2="791.0" stroke="#d6ae2a" stroke-width="1.2"/>
<text x="402.9" y="792.5" font-size="4.1" font-weight="bold" fill="#222" text-anchor="middle" stroke="#222" stroke-width="0.14">0</text>
<text x="413.3" y="792.5" font-size="4.1" font-weight="bold" fill="#222" text-anchor="middle" stroke="#222" stroke-width="0.14">14</text>
<text x="423.6" y="792.5" font-size="4.1" font-weight="bold" fill="#222" text-anchor="middle" stroke="#222" stroke-width="0.14">21</text>
<text x="434.0" y="792.5" font-size="4.1" font-weight="bold" fill="#222" text-anchor="middle" stroke="#222" stroke-width="0.14">26</text>
<text x="444.3" y="792.5" font-size="4.1" font-weight="bold" fill="#222" text-anchor="middle" stroke="#222" stroke-width="0.14">30</text>
<text x="454.7" y="792.5" font-size="4.1" font-weight="bold" fill="#222" text-anchor="middle" stroke="#222" stroke-width="0.14">32</text>
<text x="465.1" y="792.5" font-size="4.1" font-weight="bold" fill="#222" text-anchor="middle" stroke="#222" stroke-width="0.14">34</text>
<text x="475.4" y="792.5" font-size="4.1" font-weight="bold" fill="#222" text-anchor="middle" stroke="#222" stroke-width="0.14">34</text>
<text x="485.8" y="792.5" font-size="4.1" font-weight="bold" fill="#222" text-anchor="middle" stroke="#222" stroke-width="0.14">34</text>
<text x="496.1" y="792.5" font-size="4.1" font-weight="bold" fill="#222" text-anchor="middle" stroke="#222" stroke-width="0.14">35</text>
<text x="506.5" y="792.5" font-size="4.1" font-weight="bold" fill="#222" text-anchor="middle" stroke="#222" stroke-width="0.14">35</text>
<path d="M540.9,695.7 L541.9,695.7 L541.9,696.1 L543.0,696.1 L543.0,696.4 L544.0,696.4 L544.0,696.8 L545.0,696.8 L545.0,697.8 L546.1,697.8 L546.1,698.9 L547.1,698.9 L547.1,699.9 L548.5,699.9 L548.5,700.8 L549.9,700.8 L549.9,701.7 L551.2,701.7 L551.2,702.6 L553.0,702.6 L553.0,703.8 L554.7,703.8 L554.7,705.0 L556.4,705.0 L556.4,706.2 L558.1,706.2 L558.1,707.1 L559.9,707.1 L559.9,708.0 L561.6,708.0 L561.6,708.9 L563.3,708.9 L563.3,709.4 L565.0,709.4 L565.0,709.9 L566.8,709.9 L566.8,710.5 L568.5,710.5 L568.5,710.6 L570.2,710.6 L570.2,710.8 L571.9,710.8 L571.9,711.0 L573.6,711.0 L573.6,711.2 L575.4,711.2 L575.4,711.3 L577.1,711.3 L577.1,711.5 L578.8,711.5 L578.8,711.7 L580.5,711.7 L580.5,711.9 L582.3,711.9 L582.3,712.0 L585.7,712.0 L585.7,712.2 L589.2,712.2 L589.2,712.4 L592.6,712.4 L592.6,712.6 L596.0,712.6 L596.0,712.2 L599.5,712.2 L599.5,711.9 L602.9,711.9 L602.9,711.5 L631.9,711.5 L631.9,711.5 L631.9,743.1 L631.9,743.1 L602.9,743.1 L602.9,737.9 L599.5,737.9 L599.5,732.6 L596.0,732.6 L596.0,727.3 L592.6,727.3 L592.6,726.8 L589.2,726.8 L589.2,726.3 L585.7,726.3 L585.7,725.7 L582.3,725.7 L582.3,725.2 L580.5,725.2 L580.5,724.7 L578.8,724.7 L578.8,724.2 L577.1,724.2 L577.1,723.6 L575.4,723.6 L575.4,723.1 L573.6,723.1 L573.6,722.6 L571.9,722.6 L571.9,722.0 L570.2,722.0 L570.2,721.5 L568.5,721.5 L568.5,721.0 L566.8,721.0 L566.8,720.1 L565.0,720.1 L565.0,719.2 L563.3,719.2 L563.3,718.4 L561.6,718.4 L561.6,717.1 L559.9,717.1 L559.9,715.9 L558.1,715.9 L558.1,714.7 L556.4,714.7 L556.4,713.1 L554.7,713.1 L554.7,711.5 L553.0,711.5 L553.0,709.9 L551.2,709.9 L551.2,708.7 L549.9,708.7 L549.9,707.5 L548.5,707.5 L548.5,706.2 L547.1,706.2 L547.1,704.8 L546.1,704.8 L546.1,703.4 L545.0,703.4 L545.0,702.0 L544.0,702.0 L544.0,700.6 L543.0,700.6 L543.0,699.2 L541.9,699.2 L541.9,697.8 L540.9,697.8Z" fill="#6f95dc" fill-opacity="0.42"/>
<path d="M540.9,695.7 L541.9,695.7 L541.9,696.4 L543.0,696.4 L543.0,697.1 L544.0,697.1 L544.0,697.8 L545.0,697.8 L545.0,699.0 L546.1,699.0 L546.1,700.3 L547.1,700.3 L547.1,701.5 L548.5,701.5 L548.5,702.7 L549.9,702.7 L549.9,704.0 L551.2,704.0 L551.2,705.2 L553.0,705.2 L553.0,706.6 L554.7,706.6 L554.7,708.0 L556.4,708.0 L556.4,709.4 L558.1,709.4 L558.1,710.6 L559.9,710.6 L559.9,711.9 L561.6,711.9 L561.6,713.1 L563.3,713.1 L563.3,713.8 L565.0,713.8 L565.0,714.5 L566.8,714.5 L566.8,715.2 L568.5,715.2 L568.5,715.7 L570.2,715.7 L570.2,716.3 L571.9,716.3 L571.9,716.8 L573.6,716.8 L573.6,717.1 L575.4,717.1 L575.4,717.5 L577.1,717.5 L577.1,717.8 L578.8,717.8 L578.8,718.2 L580.5,718.2 L580.5,718.5 L582.3,718.5 L582.3,718.9 L585.7,718.9 L585.7,719.1 L589.2,719.1 L589.2,719.2 L592.6,719.2 L592.6,719.4 L594.0,719.4 L594.0,720.6 L595.4,720.6 L595.4,721.9 L596.7,721.9 L596.7,723.1 L598.8,723.1 L598.8,723.6 L600.9,723.6 L600.9,724.2 L602.9,724.2 L602.9,724.7 L644.3,724.7 L644.3,724.7 L644.3,741.0 L644.3,741.0 L602.9,741.0 L602.9,740.7 L600.9,740.7 L600.9,740.3 L598.8,740.3 L598.8,740.0 L596.7,740.0 L596.7,738.4 L595.4,738.4 L595.4,736.8 L594.0,736.8 L594.0,735.2 L592.6,735.2 L592.6,734.7 L589.2,734.7 L589.2,734.2 L585.7,734.2 L585.7,733.6 L582.3,733.6 L582.3,732.9 L580.5,732.9 L580.5,732.2 L578.8,732.2 L578.8,731.5 L577.1,731.5 L577.1,730.8 L575.4,730.8 L575.4,730.1 L573.6,730.1 L573.6,729.4 L571.9,729.4 L571.9,728.5 L570.2,728.5 L570.2,727.7 L568.5,727.7 L568.5,726.8 L566.8,726.8 L566.8,725.7 L565.0,725.7 L565.0,724.7 L563.3,724.7 L563.3,723.6 L561.6,723.6 L561.6,722.0 L559.9,722.0 L559.9,720.5 L558.1,720.5 L558.1,718.9 L556.4,718.9 L556.4,717.1 L554.7,717.1 L554.7,715.4 L553.0,715.4 L553.0,713.6 L551.2,713.6 L551.2,712.0 L549.9,712.0 L549.9,710.5 L548.5,710.5 L548.5,708.9 L547.1,708.9 L547.1,707.3 L546.1,707.3 L546.1,705.7 L545.0,705.7 L545.0,704.1 L544.0,704.1 L544.0,702.2 L543.0,702.2 L543.0,700.3 L541.9,700.3 L541.9,698.3 L540.9,698.3Z" fill="#e8cf55" fill-opacity="0.42"/>
<path d="M540.9,695.7 H541.9 V696.9 H543.0 V698.2 H544.0 V699.4 H545.0 V700.6 H546.1 V701.8 H547.1 V703.1 H548.5 V704.1 H549.9 V705.2 H551.2 V706.2 H553.0 V707.6 H554.7 V709.1 H556.4 V710.5 H558.1 V711.5 H559.9 V712.6 H561.6 V713.6 H563.3 V714.3 H565.0 V715.0 H566.8 V715.7 H568.5 V716.1 H570.2 V716.4 H571.9 V716.8 H573.6 V717.1 H575.4 V717.5 H577.1 V717.8 H578.8 V718.2 H580.5 V718.5 H582.3 V718.9 H585.7 V719.2 H589.2 V719.6 H592.6 V719.9 H596.0 V724.2 H599.5 V728.4 H602.9 V732.6 H631.9 V732.6" fill="none" stroke="#3f74bb" stroke-width="0.8"/>
<path d="M540.9,695.7 H541.9 V697.5 H543.0 V699.2 H544.0 V701.0 H545.0 V702.4 H546.1 V703.8 H547.1 V705.2 H548.5 V706.6 H549.9 V708.0 H551.2 V709.4 H553.0 V711.0 H554.7 V712.6 H556.4 V714.1 H558.1 V715.6 H559.9 V717.0 H561.6 V718.4 H563.3 V719.2 H565.0 V720.1 H566.8 V721.0 H568.5 V721.7 H570.2 V722.4 H571.9 V723.1 H573.6 V723.6 H575.4 V724.2 H577.1 V724.7 H578.8 V725.2 H580.5 V725.7 H582.3 V726.3 H585.7 V726.6 H589.2 V727.0 H592.6 V727.3 H594.0 V728.7 H595.4 V730.1 H596.7 V731.5 H598.8 V732.2 H600.9 V732.9 H602.9 V733.6 H644.3 V733.6" fill="none" stroke="#d6ae2a" stroke-width="0.8"/>
<line x1="535.0" y1="694.2" x2="535.0" y2="751.1" stroke="#333" stroke-width="0.6"/>
<line x1="535.0" y1="751.1" x2="659.4" y2="751.1" stroke="#333" stroke-width="0.6"/>
<line x1="533.8" y1="695.7" x2="535.0" y2="695.7" stroke="#333" stroke-width="0.5"/>
<text x="533.2" y="697.0" font-size="3.7" fill="#222" text-anchor="end" stroke="#222" stroke-width="0.08">1.00</text>
<line x1="533.8" y1="708.9" x2="535.0" y2="708.9" stroke="#333" stroke-width="0.5"/>
<text x="533.2" y="710.2" font-size="3.7" fill="#222" text-anchor="end" stroke="#222" stroke-width="0.08">0.75</text>
<line x1="533.8" y1="722.0" x2="535.0" y2="722.0" stroke="#333" stroke-width="0.5"/>
<text x="533.2" y="723.3" font-size="3.7" fill="#222" text-anchor="end" stroke="#222" stroke-width="0.08">0.50</text>
<line x1="533.8" y1="735.2" x2="535.0" y2="735.2" stroke="#333" stroke-width="0.5"/>
<text x="533.2" y="736.5" font-size="3.7" fill="#222" text-anchor="end" stroke="#222" stroke-width="0.08">0.25</text>
<line x1="533.8" y1="748.4" x2="535.0" y2="748.4" stroke="#333" stroke-width="0.5"/>
<text x="533.2" y="749.7" font-size="3.7" fill="#222" text-anchor="end" stroke="#222" stroke-width="0.08">0.00</text>
<text x="523.5" y="722.0" font-size="3.6" fill="#222" text-anchor="middle" transform="rotate(-90 523.5 722.0)" stroke="#222" stroke-width="0.08">Survival probability</text>
<line x1="540.9" y1="751.1" x2="540.9" y2="752.3" stroke="#333" stroke-width="0.5"/>
<text x="540.9" y="755.2" font-size="3.7" fill="#222" text-anchor="middle" stroke="#222" stroke-width="0.08">0</text>
<line x1="551.2" y1="751.1" x2="551.2" y2="752.3" stroke="#333" stroke-width="0.5"/>
<text x="551.2" y="755.2" font-size="3.7" fill="#222" text-anchor="middle" stroke="#222" stroke-width="0.08">1</text>
<line x1="561.6" y1="751.1" x2="561.6" y2="752.3" stroke="#333" stroke-width="0.5"/>
<text x="561.6" y="755.2" font-size="3.7" fill="#222" text-anchor="middle" stroke="#222" stroke-width="0.08">2</text>
<line x1="571.9" y1="751.1" x2="571.9" y2="752.3" stroke="#333" stroke-width="0.5"/>
<text x="571.9" y="755.2" font-size="3.7" fill="#222" text-anchor="middle" stroke="#222" stroke-width="0.08">3</text>
<line x1="582.3" y1="751.1" x2="582.3" y2="752.3" stroke="#333" stroke-width="0.5"/>
<text x="582.3" y="755.2" font-size="3.7" fill="#222" text-anchor="middle" stroke="#222" stroke-width="0.08">4</text>
<line x1="592.6" y1="751.1" x2="592.6" y2="752.3" stroke="#333" stroke-width="0.5"/>
<text x="592.6" y="755.2" font-size="3.7" fill="#222" text-anchor="middle" stroke="#222" stroke-width="0.08">5</text>
<line x1="602.9" y1="751.1" x2="602.9" y2="752.3" stroke="#333" stroke-width="0.5"/>
<text x="602.9" y="755.2" font-size="3.7" fill="#222" text-anchor="middle" stroke="#222" stroke-width="0.08">6</text>
<line x1="613.3" y1="751.1" x2="613.3" y2="752.3" stroke="#333" stroke-width="0.5"/>
<text x="613.3" y="755.2" font-size="3.7" fill="#222" text-anchor="middle" stroke="#222" stroke-width="0.08">7</text>
<line x1="623.6" y1="751.1" x2="623.6" y2="752.3" stroke="#333" stroke-width="0.5"/>
<text x="623.6" y="755.2" font-size="3.7" fill="#222" text-anchor="middle" stroke="#222" stroke-width="0.08">8</text>
<line x1="634.0" y1="751.1" x2="634.0" y2="752.3" stroke="#333" stroke-width="0.5"/>
<text x="634.0" y="755.2" font-size="3.7" fill="#222" text-anchor="middle" stroke="#222" stroke-width="0.08">9</text>
<line x1="644.3" y1="751.1" x2="644.3" y2="752.3" stroke="#333" stroke-width="0.5"/>
<text x="644.3" y="755.2" font-size="3.7" fill="#222" text-anchor="middle" stroke="#222" stroke-width="0.08">10</text>
<text x="592.6" y="759.0" font-size="3.9" fill="#222" text-anchor="middle" stroke="#222" stroke-width="0.09">Years</text>
<text x="539.9" y="736.4" font-size="9.4" font-weight="bold" fill="#f01818" textLength="24.9" lengthAdjust="spacingAndGlyphs" stroke="#f01818" stroke-width="0.26">STAD</text>
<text x="539.6" y="746.1" font-size="9.4" font-weight="bold" fill="#f01818" textLength="34.8" lengthAdjust="spacingAndGlyphs" stroke="#f01818" stroke-width="0.26">p=0.046</text>
<text x="598.5" y="701.9" font-size="6.65" fill="#6a9ad6" textLength="46.6" lengthAdjust="spacingAndGlyphs" stroke="#6a9ad6" stroke-width="0.15">Low: 1294 days</text>
<text x="598.5" y="709.8" font-size="6.65" fill="#c4a43a" textLength="44.4" lengthAdjust="spacingAndGlyphs" stroke="#c4a43a" stroke-width="0.15">High: 794 days</text>
<text x="535.7" y="765.9" font-size="4.85" fill="#111" stroke="#111" stroke-width="0.11">Number at risk</text>
<text x="535.7" y="783.4" font-size="4.85" fill="#111" stroke="#111" stroke-width="0.11">Cumulative number of events</text>
<line x1="527.7" y1="769.4" x2="532.4" y2="769.4" stroke="#6a9ad6" stroke-width="1.2"/>
<text x="540.9" y="770.9" font-size="4.1" font-weight="bold" fill="#222" text-anchor="middle" stroke="#222" stroke-width="0.14">195</text>
<text x="551.2" y="770.9" font-size="4.1" font-weight="bold" fill="#222" text-anchor="middle" stroke="#222" stroke-width="0.14">129</text>
<text x="561.6" y="770.9" font-size="4.1" font-weight="bold" fill="#222" text-anchor="middle" stroke="#222" stroke-width="0.14">59</text>
<text x="571.9" y="770.9" font-size="4.1" font-weight="bold" fill="#222" text-anchor="middle" stroke="#222" stroke-width="0.14">27</text>
<text x="582.3" y="770.9" font-size="4.1" font-weight="bold" fill="#222" text-anchor="middle" stroke="#222" stroke-width="0.14">12</text>
<text x="592.6" y="770.9" font-size="4.1" font-weight="bold" fill="#222" text-anchor="middle" stroke="#222" stroke-width="0.14">7</text>
<text x="602.9" y="770.9" font-size="4.1" font-weight="bold" fill="#222" text-anchor="middle" stroke="#222" stroke-width="0.14">3</text>
<text x="613.3" y="770.9" font-size="4.1" font-weight="bold" fill="#222" text-anchor="middle" stroke="#222" stroke-width="0.14">1</text>
<text x="623.6" y="770.9" font-size="4.1" font-weight="bold" fill="#222" text-anchor="middle" stroke="#222" stroke-width="0.14">1</text>
<text x="634.0" y="770.9" font-size="4.1" font-weight="bold" fill="#222" text-anchor="middle" stroke="#222" stroke-width="0.14">0</text>
<text x="644.3" y="770.9" font-size="4.1" font-weight="bold" fill="#222" text-anchor="middle" stroke="#222" stroke-width="0.14">0</text>
<line x1="527.7" y1="773.9" x2="532.4" y2="773.9" stroke="#d6ae2a" stroke-width="1.2"/>
<text x="540.9" y="775.4" font-size="4.1" font-weight="bold" fill="#222" text-anchor="middle" stroke="#222" stroke-width="0.14">196</text>
<text x="551.2" y="775.4" font-size="4.1" font-weight="bold" fill="#222" text-anchor="middle" stroke="#222" stroke-width="0.14">116</text>
<text x="561.6" y="775.4" font-size="4.1" font-weight="bold" fill="#222" text-anchor="middle" stroke="#222" stroke-width="0.14">46</text>
<text x="571.9" y="775.4" font-size="4.1" font-weight="bold" fill="#222" text-anchor="middle" stroke="#222" stroke-width="0.14">20</text>
<text x="582.3" y="775.4" font-size="4.1" font-weight="bold" fill="#222" text-anchor="middle" stroke="#222" stroke-width="0.14">13</text>
<text x="592.6" y="775.4" font-size="4.1" font-weight="bold" fill="#222" text-anchor="middle" stroke="#222" stroke-width="0.14">8</text>
<text x="602.9" y="775.4" font-size="4.1" font-weight="bold" fill="#222" text-anchor="middle" stroke="#222" stroke-width="0.14">4</text>
<text x="613.3" y="775.4" font-size="4.1" font-weight="bold" fill="#222" text-anchor="middle" stroke="#222" stroke-width="0.14">3</text>
<text x="623.6" y="775.4" font-size="4.1" font-weight="bold" fill="#222" text-anchor="middle" stroke="#222" stroke-width="0.14">3</text>
<text x="634.0" y="775.4" font-size="4.1" font-weight="bold" fill="#222" text-anchor="middle" stroke="#222" stroke-width="0.14">1</text>
<text x="644.3" y="775.4" font-size="4.1" font-weight="bold" fill="#222" text-anchor="middle" stroke="#222" stroke-width="0.14">1</text>
<line x1="527.7" y1="786.5" x2="532.4" y2="786.5" stroke="#6a9ad6" stroke-width="1.2"/>
<text x="540.9" y="788.0" font-size="4.1" font-weight="bold" fill="#222" text-anchor="middle" stroke="#222" stroke-width="0.14">0</text>
<text x="551.2" y="788.0" font-size="4.1" font-weight="bold" fill="#222" text-anchor="middle" stroke="#222" stroke-width="0.14">21</text>
<text x="561.6" y="788.0" font-size="4.1" font-weight="bold" fill="#222" text-anchor="middle" stroke="#222" stroke-width="0.14">37</text>
<text x="571.9" y="788.0" font-size="4.1" font-weight="bold" fill="#222" text-anchor="middle" stroke="#222" stroke-width="0.14">63</text>
<text x="582.3" y="788.0" font-size="4.1" font-weight="bold" fill="#222" text-anchor="middle" stroke="#222" stroke-width="0.14">64</text>
<text x="592.6" y="788.0" font-size="4.1" font-weight="bold" fill="#222" text-anchor="middle" stroke="#222" stroke-width="0.14">65</text>
<text x="602.9" y="788.0" font-size="4.1" font-weight="bold" fill="#222" text-anchor="middle" stroke="#222" stroke-width="0.14">65</text>
<text x="613.3" y="788.0" font-size="4.1" font-weight="bold" fill="#222" text-anchor="middle" stroke="#222" stroke-width="0.14">66</text>
<text x="623.6" y="788.0" font-size="4.1" font-weight="bold" fill="#222" text-anchor="middle" stroke="#222" stroke-width="0.14">66</text>
<text x="634.0" y="788.0" font-size="4.1" font-weight="bold" fill="#222" text-anchor="middle" stroke="#222" stroke-width="0.14">66</text>
<text x="644.3" y="788.0" font-size="4.1" font-weight="bold" fill="#222" text-anchor="middle" stroke="#222" stroke-width="0.14">66</text>
<line x1="527.7" y1="790.5" x2="532.4" y2="790.5" stroke="#d6ae2a" stroke-width="1.2"/>
<text x="540.9" y="792.0" font-size="4.1" font-weight="bold" fill="#222" text-anchor="middle" stroke="#222" stroke-width="0.14">1</text>
<text x="551.2" y="792.0" font-size="4.1" font-weight="bold" fill="#222" text-anchor="middle" stroke="#222" stroke-width="0.14">60</text>
<text x="561.6" y="792.0" font-size="4.1" font-weight="bold" fill="#222" text-anchor="middle" stroke="#222" stroke-width="0.14">71</text>
<text x="571.9" y="792.0" font-size="4.1" font-weight="bold" fill="#222" text-anchor="middle" stroke="#222" stroke-width="0.14">79</text>
<text x="582.3" y="792.0" font-size="4.1" font-weight="bold" fill="#222" text-anchor="middle" stroke="#222" stroke-width="0.14">81</text>
<text x="592.6" y="792.0" font-size="4.1" font-weight="bold" fill="#222" text-anchor="middle" stroke="#222" stroke-width="0.14">83</text>
<text x="602.9" y="792.0" font-size="4.1" font-weight="bold" fill="#222" text-anchor="middle" stroke="#222" stroke-width="0.14">84</text>
<text x="613.3" y="792.0" font-size="4.1" font-weight="bold" fill="#222" text-anchor="middle" stroke="#222" stroke-width="0.14">84</text>
<text x="623.6" y="792.0" font-size="4.1" font-weight="bold" fill="#222" text-anchor="middle" stroke="#222" stroke-width="0.14">84</text>
<text x="634.0" y="792.0" font-size="4.1" font-weight="bold" fill="#222" text-anchor="middle" stroke="#222" stroke-width="0.14">84</text>
<text x="644.3" y="792.0" font-size="4.1" font-weight="bold" fill="#222" text-anchor="middle" stroke="#222" stroke-width="0.14">84</text>
<path d="M256.0,811.3 L257.7,811.3 L257.7,811.4 L259.5,811.4 L259.5,811.4 L261.2,811.4 L261.2,811.5 L262.9,811.5 L262.9,812.3 L264.6,812.3 L264.6,813.0 L266.4,813.0 L266.4,813.8 L268.1,813.8 L268.1,814.6 L269.8,814.6 L269.8,815.4 L271.5,815.4 L271.5,816.1 L273.3,816.1 L273.3,817.2 L275.0,817.2 L275.0,818.4 L276.7,818.4 L276.7,819.5 L278.4,819.5 L278.4,820.8 L280.2,820.8 L280.2,822.1 L281.9,822.1 L281.9,823.4 L283.6,823.4 L283.6,825.0 L285.4,825.0 L285.4,826.7 L287.1,826.7 L287.1,828.3 L288.8,828.3 L288.8,829.8 L290.5,829.8 L290.5,831.2 L292.3,831.2 L292.3,832.7 L294.0,832.7 L294.0,833.8 L295.7,833.8 L295.7,835.0 L297.4,835.0 L297.4,836.1 L299.2,836.1 L299.2,836.7 L300.9,836.7 L300.9,837.3 L302.6,837.3 L302.6,837.9 L304.3,837.9 L304.3,838.5 L306.1,838.5 L306.1,839.1 L307.8,839.1 L307.8,839.6 L309.5,839.6 L309.5,840.2 L311.3,840.2 L311.3,840.8 L313.0,840.8 L313.0,841.4 L314.7,841.4 L314.7,842.0 L316.4,842.0 L316.4,842.6 L318.2,842.6 L318.2,843.2 L319.9,843.2 L319.9,843.5 L321.6,843.5 L321.6,843.7 L323.3,843.7 L323.3,844.0 L325.1,844.0 L325.1,844.4 L326.8,844.4 L326.8,844.8 L328.5,844.8 L328.5,845.2 L330.2,845.2 L330.2,845.6 L332.0,845.6 L332.0,846.1 L333.7,846.1 L333.7,846.5 L335.4,846.5 L335.4,846.7 L337.2,846.7 L337.2,847.0 L338.9,847.0 L338.9,847.2 L342.3,847.2 L342.3,847.5 L345.8,847.5 L345.8,847.7 L349.2,847.7 L349.2,847.9 L352.7,847.9 L352.7,847.8 L356.1,847.8 L356.1,847.7 L359.6,847.7 L359.6,847.6 L359.6,861.1 L359.6,861.0 L356.1,861.0 L356.1,860.9 L352.7,860.9 L352.7,860.8 L349.2,860.8 L349.2,860.3 L345.8,860.3 L345.8,859.8 L342.3,859.8 L342.3,859.4 L338.9,859.4 L338.9,858.9 L337.2,858.9 L337.2,858.5 L335.4,858.5 L335.4,858.0 L333.7,858.0 L333.7,857.4 L332.0,857.4 L332.0,856.8 L330.2,856.8 L330.2,856.1 L328.5,856.1 L328.5,855.5 L326.8,855.5 L326.8,854.9 L325.1,854.9 L325.1,854.2 L323.3,854.2 L323.3,853.8 L321.6,853.8 L321.6,853.3 L319.9,853.3 L319.9,852.9 L318.2,852.9 L318.2,852.1 L316.4,852.1 L316.4,851.3 L314.7,851.3 L314.7,850.5 L313.0,850.5 L313.0,849.7 L311.3,849.7 L311.3,848.9 L309.5,848.9 L309.5,848.0 L307.8,848.0 L307.8,847.2 L306.1,847.2 L306.1,846.4 L304.3,846.4 L304.3,845.6 L302.6,845.6 L302.6,844.8 L300.9,844.8 L300.9,844.0 L299.2,844.0 L299.2,843.2 L297.4,843.2 L297.4,841.9 L295.7,841.9 L295.7,840.6 L294.0,840.6 L294.0,839.2 L292.3,839.2 L292.3,837.5 L290.5,837.5 L290.5,835.9 L288.8,835.9 L288.8,834.2 L287.1,834.2 L287.1,832.3 L285.4,832.3 L285.4,830.5 L283.6,830.5 L283.6,828.6 L281.9,828.6 L281.9,827.1 L280.2,827.1 L280.2,825.6 L278.4,825.6 L278.4,824.1 L276.7,824.1 L276.7,822.8 L275.0,822.8 L275.0,821.4 L273.3,821.4 L273.3,820.1 L271.5,820.1 L271.5,819.1 L269.8,819.1 L269.8,818.2 L268.1,818.2 L268.1,817.2 L266.4,817.2 L266.4,816.2 L264.6,816.2 L264.6,815.2 L262.9,815.2 L262.9,814.2 L261.2,814.2 L261.2,813.6 L259.5,813.6 L259.5,813.0 L257.7,813.0 L257.7,812.3 L256.0,812.3Z" fill="#6f95dc" fill-opacity="0.42"/>
<path d="M256.0,811.3 L257.7,811.3 L257.7,811.8 L259.5,811.8 L259.5,812.2 L261.2,812.2 L261.2,812.7 L262.9,812.7 L262.9,813.9 L264.6,813.9 L264.6,815.1 L266.4,815.1 L266.4,816.2 L268.1,816.2 L268.1,817.1 L269.8,817.1 L269.8,817.9 L271.5,817.9 L271.5,818.7 L273.3,818.7 L273.3,820.0 L275.0,820.0 L275.0,821.4 L276.7,821.4 L276.7,822.7 L278.4,822.7 L278.4,824.3 L280.2,824.3 L280.2,825.8 L281.9,825.8 L281.9,827.3 L283.6,827.3 L283.6,829.0 L285.4,829.0 L285.4,830.7 L287.1,830.7 L287.1,832.4 L288.8,832.4 L288.8,834.1 L290.5,834.1 L290.5,835.8 L292.3,835.8 L292.3,837.5 L294.0,837.5 L294.0,838.8 L295.7,838.8 L295.7,840.2 L297.4,840.2 L297.4,841.5 L299.2,841.5 L299.2,842.5 L300.9,842.5 L300.9,843.5 L302.6,843.5 L302.6,844.5 L304.3,844.5 L304.3,845.4 L306.1,845.4 L306.1,846.2 L307.8,846.2 L307.8,847.0 L309.5,847.0 L309.5,847.6 L311.3,847.6 L311.3,848.3 L313.0,848.3 L313.0,848.9 L314.7,848.9 L314.7,849.4 L316.4,849.4 L316.4,849.9 L318.2,849.9 L318.2,850.4 L319.9,850.4 L319.9,850.7 L321.6,850.7 L321.6,851.0 L323.3,851.0 L323.3,851.3 L325.1,851.3 L325.1,851.7 L326.8,851.7 L326.8,852.2 L328.5,852.2 L328.5,852.7 L330.2,852.7 L330.2,853.5 L332.0,853.5 L332.0,854.3 L333.7,854.3 L333.7,855.1 L335.4,855.1 L335.4,855.4 L337.2,855.4 L337.2,855.7 L338.9,855.7 L338.9,856.0 L359.6,856.0 L359.6,856.9 L359.6,863.8 L359.6,863.2 L338.9,863.2 L338.9,862.8 L337.2,862.8 L337.2,862.4 L335.4,862.4 L335.4,862.0 L333.7,862.0 L333.7,861.0 L332.0,861.0 L332.0,860.1 L330.2,860.1 L330.2,859.2 L328.5,859.2 L328.5,858.6 L326.8,858.6 L326.8,858.0 L325.1,858.0 L325.1,857.4 L323.3,857.4 L323.3,857.0 L321.6,857.0 L321.6,856.6 L319.9,856.6 L319.9,856.2 L318.2,856.2 L318.2,855.7 L316.4,855.7 L316.4,855.1 L314.7,855.1 L314.7,854.5 L313.0,854.5 L313.0,853.8 L311.3,853.8 L311.3,853.0 L309.5,853.0 L309.5,852.2 L307.8,852.2 L307.8,851.3 L306.1,851.3 L306.1,850.4 L304.3,850.4 L304.3,849.5 L302.6,849.5 L302.6,848.4 L300.9,848.4 L300.9,847.3 L299.2,847.3 L299.2,846.2 L297.4,846.2 L297.4,844.7 L295.7,844.7 L295.7,843.3 L294.0,843.3 L294.0,841.8 L292.3,841.8 L292.3,840.0 L290.5,840.0 L290.5,838.2 L288.8,838.2 L288.8,836.4 L287.1,836.4 L287.1,834.6 L285.4,834.6 L285.4,832.8 L283.6,832.8 L283.6,831.0 L281.9,831.0 L281.9,829.4 L280.2,829.4 L280.2,827.7 L278.4,827.7 L278.4,826.1 L276.7,826.1 L276.7,824.7 L275.0,824.7 L275.0,823.2 L273.3,823.2 L273.3,821.7 L271.5,821.7 L271.5,820.8 L269.8,820.8 L269.8,819.9 L268.1,819.9 L268.1,819.0 L266.4,819.0 L266.4,817.7 L264.6,817.7 L264.6,816.4 L262.9,816.4 L262.9,815.1 L261.2,815.1 L261.2,814.2 L259.5,814.2 L259.5,813.3 L257.7,813.3 L257.7,812.3 L256.0,812.3Z" fill="#e8cf55" fill-opacity="0.42"/>
<path d="M256.0,811.3 H257.7 V811.8 H259.5 V812.3 H261.2 V812.9 H262.9 V813.8 H264.6 V814.6 H266.4 V815.5 H268.1 V816.4 H269.8 V817.2 H271.5 V818.1 H273.3 V819.3 H275.0 V820.6 H276.7 V821.8 H278.4 V823.2 H280.2 V824.6 H281.9 V826.0 H283.6 V827.8 H285.4 V829.5 H287.1 V831.2 H288.8 V832.8 H290.5 V834.4 H292.3 V836.0 H294.0 V837.2 H295.7 V838.4 H297.4 V839.6 H299.2 V840.3 H300.9 V841.0 H302.6 V841.8 H304.3 V842.4 H306.1 V843.1 H307.8 V843.8 H309.5 V844.5 H311.3 V845.2 H313.0 V845.9 H314.7 V846.6 H316.4 V847.3 H318.2 V848.0 H319.9 V848.4 H321.6 V848.8 H323.3 V849.1 H325.1 V849.6 H326.8 V850.1 H328.5 V850.7 H330.2 V851.2 H332.0 V851.7 H333.7 V852.2 H335.4 V852.6 H337.2 V852.9 H338.9 V853.3 H342.3 V853.6 H345.8 V854.0 H349.2 V854.3 H352.7 V854.3 H356.1 V854.3 H359.6 V854.3" fill="none" stroke="#3f74bb" stroke-width="0.8"/>
<path d="M256.0,811.3 H257.7 V812.2 H259.5 V813.0 H261.2 V813.9 H262.9 V815.1 H264.6 V816.4 H266.4 V817.6 H268.1 V818.5 H269.8 V819.3 H271.5 V820.2 H273.3 V821.6 H275.0 V823.0 H276.7 V824.4 H278.4 V826.0 H280.2 V827.6 H281.9 V829.1 H283.6 V830.9 H285.4 V832.6 H287.1 V834.4 H288.8 V836.1 H290.5 V837.9 H292.3 V839.6 H294.0 V841.0 H295.7 V842.4 H297.4 V843.8 H299.2 V844.9 H300.9 V845.9 H302.6 V847.0 H304.3 V847.9 H306.1 V848.8 H307.8 V849.6 H309.5 V850.3 H311.3 V851.0 H313.0 V851.7 H314.7 V852.2 H316.4 V852.8 H318.2 V853.3 H319.9 V853.6 H321.6 V854.0 H323.3 V854.3 H325.1 V854.9 H326.8 V855.4 H328.5 V855.9 H330.2 V856.8 H332.0 V857.7 H333.7 V858.5 H335.4 V858.9 H337.2 V859.2 H338.9 V859.6 H359.6 V860.6" fill="none" stroke="#d6ae2a" stroke-width="0.8"/>
<line x1="250.6" y1="809.8" x2="250.6" y2="866.3" stroke="#333" stroke-width="0.6"/>
<line x1="250.6" y1="866.3" x2="365.8" y2="866.3" stroke="#333" stroke-width="0.6"/>
<line x1="249.4" y1="811.3" x2="250.6" y2="811.3" stroke="#333" stroke-width="0.5"/>
<text x="248.8" y="812.6" font-size="3.7" fill="#222" text-anchor="end" stroke="#222" stroke-width="0.08">1.00</text>
<line x1="249.4" y1="824.4" x2="250.6" y2="824.4" stroke="#333" stroke-width="0.5"/>
<text x="248.8" y="825.7" font-size="3.7" fill="#222" text-anchor="end" stroke="#222" stroke-width="0.08">0.75</text>
<line x1="249.4" y1="837.5" x2="250.6" y2="837.5" stroke="#333" stroke-width="0.5"/>
<text x="248.8" y="838.8" font-size="3.7" fill="#222" text-anchor="end" stroke="#222" stroke-width="0.08">0.50</text>
<line x1="249.4" y1="850.7" x2="250.6" y2="850.7" stroke="#333" stroke-width="0.5"/>
<text x="248.8" y="852.0" font-size="3.7" fill="#222" text-anchor="end" stroke="#222" stroke-width="0.08">0.25</text>
<line x1="249.4" y1="863.8" x2="250.6" y2="863.8" stroke="#333" stroke-width="0.5"/>
<text x="248.8" y="865.1" font-size="3.7" fill="#222" text-anchor="end" stroke="#222" stroke-width="0.08">0.00</text>
<text x="239.1" y="837.5" font-size="3.6" fill="#222" text-anchor="middle" transform="rotate(-90 239.1 837.5)" stroke="#222" stroke-width="0.08">Survival probability</text>
<line x1="256.0" y1="866.3" x2="256.0" y2="867.5" stroke="#333" stroke-width="0.5"/>
<text x="256.0" y="870.4" font-size="3.7" fill="#222" text-anchor="middle" stroke="#222" stroke-width="0.08">0</text>
<line x1="266.4" y1="866.3" x2="266.4" y2="867.5" stroke="#333" stroke-width="0.5"/>
<text x="266.4" y="870.4" font-size="3.7" fill="#222" text-anchor="middle" stroke="#222" stroke-width="0.08">1</text>
<line x1="276.7" y1="866.3" x2="276.7" y2="867.5" stroke="#333" stroke-width="0.5"/>
<text x="276.7" y="870.4" font-size="3.7" fill="#222" text-anchor="middle" stroke="#222" stroke-width="0.08">2</text>
<line x1="287.1" y1="866.3" x2="287.1" y2="867.5" stroke="#333" stroke-width="0.5"/>
<text x="287.1" y="870.4" font-size="3.7" fill="#222" text-anchor="middle" stroke="#222" stroke-width="0.08">3</text>
<line x1="297.4" y1="866.3" x2="297.4" y2="867.5" stroke="#333" stroke-width="0.5"/>
<text x="297.4" y="870.4" font-size="3.7" fill="#222" text-anchor="middle" stroke="#222" stroke-width="0.08">4</text>
<line x1="307.8" y1="866.3" x2="307.8" y2="867.5" stroke="#333" stroke-width="0.5"/>
<text x="307.8" y="870.4" font-size="3.7" fill="#222" text-anchor="middle" stroke="#222" stroke-width="0.08">5</text>
<line x1="318.2" y1="866.3" x2="318.2" y2="867.5" stroke="#333" stroke-width="0.5"/>
<text x="318.2" y="870.4" font-size="3.7" fill="#222" text-anchor="middle" stroke="#222" stroke-width="0.08">6</text>
<line x1="328.5" y1="866.3" x2="328.5" y2="867.5" stroke="#333" stroke-width="0.5"/>
<text x="328.5" y="870.4" font-size="3.7" fill="#222" text-anchor="middle" stroke="#222" stroke-width="0.08">7</text>
<line x1="338.9" y1="866.3" x2="338.9" y2="867.5" stroke="#333" stroke-width="0.5"/>
<text x="338.9" y="870.4" font-size="3.7" fill="#222" text-anchor="middle" stroke="#222" stroke-width="0.08">8</text>
<line x1="349.2" y1="866.3" x2="349.2" y2="867.5" stroke="#333" stroke-width="0.5"/>
<text x="349.2" y="870.4" font-size="3.7" fill="#222" text-anchor="middle" stroke="#222" stroke-width="0.08">9</text>
<line x1="359.6" y1="866.3" x2="359.6" y2="867.5" stroke="#333" stroke-width="0.5"/>
<text x="359.6" y="870.4" font-size="3.7" fill="#222" text-anchor="middle" stroke="#222" stroke-width="0.08">10</text>
<text x="307.8" y="874.2" font-size="3.9" fill="#222" text-anchor="middle" stroke="#222" stroke-width="0.09">Years</text>
<text x="254.7" y="852.0" font-size="9.4" font-weight="bold" fill="#f01818" textLength="13.6" lengthAdjust="spacingAndGlyphs" stroke="#f01818" stroke-width="0.26">OV</text>
<text x="254.5" y="861.1" font-size="9.4" font-weight="bold" fill="#f01818" textLength="29.5" lengthAdjust="spacingAndGlyphs" stroke="#f01818" stroke-width="0.26">p=0.02</text>
<text x="310.0" y="817.8" font-size="6.65" fill="#6a9ad6" textLength="46.6" lengthAdjust="spacingAndGlyphs" stroke="#6a9ad6" stroke-width="0.15">Low: 1354 days</text>
<text x="310.0" y="825.5" font-size="6.65" fill="#c4a43a" textLength="48.1" lengthAdjust="spacingAndGlyphs" stroke="#c4a43a" stroke-width="0.15">High: 1249 days</text>
<text x="250.3" y="881.6" font-size="4.85" fill="#111" stroke="#111" stroke-width="0.11">Number at risk</text>
<text x="250.3" y="899.1" font-size="4.85" fill="#111" stroke="#111" stroke-width="0.11">Cumulative number of events</text>
<line x1="242.3" y1="885.1" x2="247.0" y2="885.1" stroke="#6a9ad6" stroke-width="1.2"/>
<text x="256.0" y="886.6" font-size="4.1" font-weight="bold" fill="#222" text-anchor="middle" stroke="#222" stroke-width="0.14">117</text>
<text x="266.4" y="886.6" font-size="4.1" font-weight="bold" fill="#222" text-anchor="middle" stroke="#222" stroke-width="0.14">96</text>
<text x="276.7" y="886.6" font-size="4.1" font-weight="bold" fill="#222" text-anchor="middle" stroke="#222" stroke-width="0.14">77</text>
<text x="287.1" y="886.6" font-size="4.1" font-weight="bold" fill="#222" text-anchor="middle" stroke="#222" stroke-width="0.14">54</text>
<text x="297.4" y="886.6" font-size="4.1" font-weight="bold" fill="#222" text-anchor="middle" stroke="#222" stroke-width="0.14">37</text>
<text x="307.8" y="886.6" font-size="4.1" font-weight="bold" fill="#222" text-anchor="middle" stroke="#222" stroke-width="0.14">24</text>
<text x="318.2" y="886.6" font-size="4.1" font-weight="bold" fill="#222" text-anchor="middle" stroke="#222" stroke-width="0.14">16</text>
<text x="328.5" y="886.6" font-size="4.1" font-weight="bold" fill="#222" text-anchor="middle" stroke="#222" stroke-width="0.14">12</text>
<text x="338.9" y="886.6" font-size="4.1" font-weight="bold" fill="#222" text-anchor="middle" stroke="#222" stroke-width="0.14">8</text>
<text x="349.2" y="886.6" font-size="4.1" font-weight="bold" fill="#222" text-anchor="middle" stroke="#222" stroke-width="0.14">7</text>
<text x="359.6" y="886.6" font-size="4.1" font-weight="bold" fill="#222" text-anchor="middle" stroke="#222" stroke-width="0.14">4</text>
<line x1="242.3" y1="889.6" x2="247.0" y2="889.6" stroke="#d6ae2a" stroke-width="1.2"/>
<text x="256.0" y="891.1" font-size="4.1" font-weight="bold" fill="#222" text-anchor="middle" stroke="#222" stroke-width="0.14">176</text>
<text x="266.4" y="891.1" font-size="4.1" font-weight="bold" fill="#222" text-anchor="middle" stroke="#222" stroke-width="0.14">131</text>
<text x="276.7" y="891.1" font-size="4.1" font-weight="bold" fill="#222" text-anchor="middle" stroke="#222" stroke-width="0.14">104</text>
<text x="287.1" y="891.1" font-size="4.1" font-weight="bold" fill="#222" text-anchor="middle" stroke="#222" stroke-width="0.14">79</text>
<text x="297.4" y="891.1" font-size="4.1" font-weight="bold" fill="#222" text-anchor="middle" stroke="#222" stroke-width="0.14">44</text>
<text x="307.8" y="891.1" font-size="4.1" font-weight="bold" fill="#222" text-anchor="middle" stroke="#222" stroke-width="0.14">29</text>
<text x="318.2" y="891.1" font-size="4.1" font-weight="bold" fill="#222" text-anchor="middle" stroke="#222" stroke-width="0.14">15</text>
<text x="328.5" y="891.1" font-size="4.1" font-weight="bold" fill="#222" text-anchor="middle" stroke="#222" stroke-width="0.14">9</text>
<text x="338.9" y="891.1" font-size="4.1" font-weight="bold" fill="#222" text-anchor="middle" stroke="#222" stroke-width="0.14">3</text>
<text x="349.2" y="891.1" font-size="4.1" font-weight="bold" fill="#222" text-anchor="middle" stroke="#222" stroke-width="0.14">2</text>
<text x="359.6" y="891.1" font-size="4.1" font-weight="bold" fill="#222" text-anchor="middle" stroke="#222" stroke-width="0.14">1</text>
<line x1="242.3" y1="902.2" x2="247.0" y2="902.2" stroke="#6a9ad6" stroke-width="1.2"/>
<text x="256.0" y="903.6" font-size="4.1" font-weight="bold" fill="#222" text-anchor="middle" stroke="#222" stroke-width="0.14">0</text>
<text x="266.4" y="903.6" font-size="4.1" font-weight="bold" fill="#222" text-anchor="middle" stroke="#222" stroke-width="0.14">8</text>
<text x="276.7" y="903.6" font-size="4.1" font-weight="bold" fill="#222" text-anchor="middle" stroke="#222" stroke-width="0.14">20</text>
<text x="287.1" y="903.6" font-size="4.1" font-weight="bold" fill="#222" text-anchor="middle" stroke="#222" stroke-width="0.14">35</text>
<text x="297.4" y="903.6" font-size="4.1" font-weight="bold" fill="#222" text-anchor="middle" stroke="#222" stroke-width="0.14">47</text>
<text x="307.8" y="903.6" font-size="4.1" font-weight="bold" fill="#222" text-anchor="middle" stroke="#222" stroke-width="0.14">57</text>
<text x="318.2" y="903.6" font-size="4.1" font-weight="bold" fill="#222" text-anchor="middle" stroke="#222" stroke-width="0.14">61</text>
<text x="328.5" y="903.6" font-size="4.1" font-weight="bold" fill="#222" text-anchor="middle" stroke="#222" stroke-width="0.14">62</text>
<text x="338.9" y="903.6" font-size="4.1" font-weight="bold" fill="#222" text-anchor="middle" stroke="#222" stroke-width="0.14">64</text>
<text x="349.2" y="903.6" font-size="4.1" font-weight="bold" fill="#222" text-anchor="middle" stroke="#222" stroke-width="0.14">64</text>
<text x="359.6" y="903.6" font-size="4.1" font-weight="bold" fill="#222" text-anchor="middle" stroke="#222" stroke-width="0.14">65</text>
<line x1="242.3" y1="906.2" x2="247.0" y2="906.2" stroke="#d6ae2a" stroke-width="1.2"/>
<text x="256.0" y="907.6" font-size="4.1" font-weight="bold" fill="#222" text-anchor="middle" stroke="#222" stroke-width="0.14">0</text>
<text x="266.4" y="907.6" font-size="4.1" font-weight="bold" fill="#222" text-anchor="middle" stroke="#222" stroke-width="0.14">10</text>
<text x="276.7" y="907.6" font-size="4.1" font-weight="bold" fill="#222" text-anchor="middle" stroke="#222" stroke-width="0.14">30</text>
<text x="287.1" y="907.6" font-size="4.1" font-weight="bold" fill="#222" text-anchor="middle" stroke="#222" stroke-width="0.14">59</text>
<text x="297.4" y="907.6" font-size="4.1" font-weight="bold" fill="#222" text-anchor="middle" stroke="#222" stroke-width="0.14">81</text>
<text x="307.8" y="907.6" font-size="4.1" font-weight="bold" fill="#222" text-anchor="middle" stroke="#222" stroke-width="0.14">94</text>
<text x="318.2" y="907.6" font-size="4.1" font-weight="bold" fill="#222" text-anchor="middle" stroke="#222" stroke-width="0.14">102</text>
<text x="328.5" y="907.6" font-size="4.1" font-weight="bold" fill="#222" text-anchor="middle" stroke="#222" stroke-width="0.14">106</text>
<text x="338.9" y="907.6" font-size="4.1" font-weight="bold" fill="#222" text-anchor="middle" stroke="#222" stroke-width="0.14">111</text>
<text x="349.2" y="907.6" font-size="4.1" font-weight="bold" fill="#222" text-anchor="middle" stroke="#222" stroke-width="0.14">112</text>
<text x="359.6" y="907.6" font-size="4.1" font-weight="bold" fill="#222" text-anchor="middle" stroke="#222" stroke-width="0.14">112</text>
<path d="M389.2,811.3 L391.5,811.3 L391.5,811.9 L393.8,811.9 L393.8,812.5 L396.1,812.5 L396.1,813.1 L398.3,813.1 L398.3,814.2 L400.6,814.2 L400.6,815.3 L402.9,815.3 L402.9,816.5 L405.2,816.5 L405.2,817.4 L407.5,817.4 L407.5,818.4 L409.8,818.4 L409.8,819.3 L412.1,819.3 L412.1,820.3 L414.4,820.3 L414.4,821.2 L416.6,821.2 L416.6,822.2 L418.9,822.2 L418.9,822.8 L421.2,822.8 L421.2,823.4 L423.5,823.4 L423.5,823.9 L425.8,823.9 L425.8,824.7 L428.1,824.7 L428.1,825.5 L430.4,825.5 L430.4,826.3 L432.6,826.3 L432.6,827.0 L434.9,827.0 L434.9,827.8 L437.2,827.8 L437.2,828.6 L439.5,828.6 L439.5,829.2 L441.8,829.2 L441.8,829.8 L444.1,829.8 L444.1,830.4 L446.4,830.4 L446.4,830.8 L448.7,830.8 L448.7,831.2 L450.9,831.2 L450.9,831.6 L453.2,831.6 L453.2,832.1 L455.5,832.1 L455.5,832.5 L457.8,832.5 L457.8,832.9 L460.1,832.9 L460.1,833.3 L462.4,833.3 L462.4,833.8 L464.7,833.8 L464.7,834.2 L466.9,834.2 L466.9,834.4 L469.2,834.4 L469.2,834.7 L471.5,834.7 L471.5,834.9 L476.1,834.9 L476.1,835.3 L480.7,835.3 L480.7,835.8 L485.2,835.8 L485.2,836.2 L489.8,836.2 L489.8,836.4 L494.4,836.4 L494.4,836.7 L499.0,836.7 L499.0,836.9 L499.0,848.9 L499.0,848.5 L494.4,848.5 L494.4,848.0 L489.8,848.0 L489.8,847.6 L485.2,847.6 L485.2,846.9 L480.7,846.9 L480.7,846.3 L476.1,846.3 L476.1,845.7 L471.5,845.7 L471.5,845.2 L469.2,845.2 L469.2,844.7 L466.9,844.7 L466.9,844.3 L464.7,844.3 L464.7,843.7 L462.4,843.7 L462.4,843.0 L460.1,843.0 L460.1,842.4 L457.8,842.4 L457.8,841.8 L455.5,841.8 L455.5,841.1 L453.2,841.1 L453.2,840.5 L450.9,840.5 L450.9,839.9 L448.7,839.9 L448.7,839.2 L446.4,839.2 L446.4,838.6 L444.1,838.6 L444.1,837.8 L441.8,837.8 L441.8,837.0 L439.5,837.0 L439.5,836.2 L437.2,836.2 L437.2,835.2 L434.9,835.2 L434.9,834.2 L432.6,834.2 L432.6,833.2 L430.4,833.2 L430.4,832.2 L428.1,832.2 L428.1,831.3 L425.8,831.3 L425.8,830.3 L423.5,830.3 L423.5,829.5 L421.2,829.5 L421.2,828.7 L418.9,828.7 L418.9,827.8 L416.6,827.8 L416.6,826.7 L414.4,826.7 L414.4,825.5 L412.1,825.5 L412.1,824.4 L409.8,824.4 L409.8,823.2 L407.5,823.2 L407.5,822.1 L405.2,822.1 L405.2,820.9 L402.9,820.9 L402.9,819.6 L400.6,819.6 L400.6,818.2 L398.3,818.2 L398.3,816.9 L396.1,816.9 L396.1,815.6 L393.8,815.6 L393.8,814.2 L391.5,814.2 L391.5,812.9 L389.2,812.9Z" fill="#6f95dc" fill-opacity="0.42"/>
<path d="M389.2,811.3 L391.5,811.3 L391.5,812.2 L393.8,812.2 L393.8,813.1 L396.1,813.1 L396.1,814.0 L398.3,814.0 L398.3,815.7 L400.6,815.7 L400.6,817.3 L402.9,817.3 L402.9,818.9 L405.2,818.9 L405.2,819.8 L407.5,819.8 L407.5,820.7 L409.8,820.7 L409.8,821.6 L412.1,821.6 L412.1,822.5 L414.4,822.5 L414.4,823.5 L416.6,823.5 L416.6,824.4 L418.9,824.4 L418.9,825.3 L421.2,825.3 L421.2,826.2 L423.5,826.2 L423.5,827.1 L425.8,827.1 L425.8,827.7 L428.1,827.7 L428.1,828.2 L430.4,828.2 L430.4,828.8 L432.6,828.8 L432.6,829.5 L434.9,829.5 L434.9,830.3 L437.2,830.3 L437.2,831.0 L439.5,831.0 L439.5,831.4 L441.8,831.4 L441.8,831.8 L444.1,831.8 L444.1,832.2 L446.4,832.2 L446.4,832.6 L448.7,832.6 L448.7,832.9 L450.9,832.9 L450.9,833.3 L453.2,833.3 L453.2,833.9 L455.5,833.9 L455.5,834.5 L457.8,834.5 L457.8,835.0 L460.1,835.0 L460.1,835.4 L462.4,835.4 L462.4,835.8 L464.7,835.8 L464.7,836.2 L466.9,836.2 L466.9,836.4 L469.2,836.4 L469.2,836.6 L471.5,836.6 L471.5,836.8 L476.1,836.8 L476.1,837.2 L480.7,837.2 L480.7,837.6 L485.2,837.6 L485.2,838.0 L487.5,838.0 L487.5,838.7 L489.8,838.7 L489.8,839.4 L492.1,839.4 L492.1,840.2 L494.4,840.2 L494.4,840.9 L496.7,840.9 L496.7,841.7 L499.0,841.7 L499.0,842.4 L499.0,859.3 L499.0,858.2 L496.7,858.2 L496.7,857.2 L494.4,857.2 L494.4,856.2 L492.1,856.2 L492.1,855.2 L489.8,855.2 L489.8,854.2 L487.5,854.2 L487.5,853.1 L485.2,853.1 L485.2,852.5 L480.7,852.5 L480.7,851.8 L476.1,851.8 L476.1,851.1 L471.5,851.1 L471.5,850.6 L469.2,850.6 L469.2,850.2 L466.9,850.2 L466.9,849.7 L464.7,849.7 L464.7,849.0 L462.4,849.0 L462.4,848.3 L460.1,848.3 L460.1,847.7 L457.8,847.7 L457.8,846.8 L455.5,846.8 L455.5,846.0 L453.2,846.0 L453.2,845.1 L450.9,845.1 L450.9,844.5 L448.7,844.5 L448.7,843.8 L446.4,843.8 L446.4,843.1 L444.1,843.1 L444.1,842.5 L441.8,842.5 L441.8,841.8 L439.5,841.8 L439.5,841.1 L437.2,841.1 L437.2,840.1 L434.9,840.1 L434.9,839.1 L432.6,839.1 L432.6,838.1 L430.4,838.1 L430.4,837.2 L428.1,837.2 L428.1,836.4 L425.8,836.4 L425.8,835.5 L423.5,835.5 L423.5,834.3 L421.2,834.3 L421.2,833.2 L418.9,833.2 L418.9,832.0 L416.6,832.0 L416.6,830.8 L414.4,830.8 L414.4,829.6 L412.1,829.6 L412.1,828.4 L409.8,828.4 L409.8,827.2 L407.5,827.2 L407.5,826.0 L405.2,826.0 L405.2,824.8 L402.9,824.8 L402.9,822.9 L400.6,822.9 L400.6,821.0 L398.3,821.0 L398.3,819.1 L396.1,819.1 L396.1,817.2 L393.8,817.2 L393.8,815.3 L391.5,815.3 L391.5,813.4 L389.2,813.4Z" fill="#e8cf55" fill-opacity="0.42"/>
<path d="M389.2,811.3 H391.5 V812.5 H393.8 V813.8 H396.1 V815.0 H398.3 V816.2 H400.6 V817.4 H402.9 V818.7 H405.2 V819.7 H407.5 V820.8 H409.8 V821.8 H412.1 V822.9 H414.4 V823.9 H416.6 V825.0 H418.9 V825.7 H421.2 V826.4 H423.5 V827.1 H425.8 V828.0 H428.1 V828.9 H430.4 V829.7 H432.6 V830.6 H434.9 V831.5 H437.2 V832.4 H439.5 V833.1 H441.8 V833.8 H444.1 V834.5 H446.4 V835.0 H448.7 V835.5 H450.9 V836.1 H453.2 V836.6 H455.5 V837.1 H457.8 V837.6 H460.1 V838.2 H462.4 V838.7 H464.7 V839.2 H466.9 V839.6 H469.2 V839.9 H471.5 V840.3 H476.1 V840.8 H480.7 V841.3 H485.2 V841.9 H489.8 V842.2 H494.4 V842.6 H499.0 V842.9" fill="none" stroke="#3f74bb" stroke-width="0.8"/>
<path d="M389.2,811.3 H391.5 V813.1 H393.8 V814.8 H396.1 V816.6 H398.3 V818.3 H400.6 V820.1 H402.9 V821.8 H405.2 V822.9 H407.5 V823.9 H409.8 V825.0 H412.1 V826.1 H414.4 V827.1 H416.6 V828.2 H418.9 V829.2 H421.2 V830.3 H423.5 V831.3 H425.8 V832.0 H428.1 V832.7 H430.4 V833.4 H432.6 V834.3 H434.9 V835.2 H437.2 V836.1 H439.5 V836.6 H441.8 V837.1 H444.1 V837.6 H446.4 V838.2 H448.7 V838.7 H450.9 V839.2 H453.2 V839.9 H455.5 V840.6 H457.8 V841.3 H460.1 V841.9 H462.4 V842.4 H464.7 V842.9 H466.9 V843.3 H469.2 V843.6 H471.5 V844.0 H476.1 V844.5 H480.7 V845.0 H485.2 V845.6 H487.5 V846.4 H489.8 V847.3 H492.1 V848.2 H494.4 V849.1 H496.7 V849.9 H499.0 V850.8" fill="none" stroke="#d6ae2a" stroke-width="0.8"/>
<line x1="384.0" y1="809.8" x2="384.0" y2="866.1" stroke="#333" stroke-width="0.6"/>
<line x1="384.0" y1="866.1" x2="507.6" y2="866.1" stroke="#333" stroke-width="0.6"/>
<line x1="382.8" y1="811.3" x2="384.0" y2="811.3" stroke="#333" stroke-width="0.5"/>
<text x="382.2" y="812.6" font-size="3.7" fill="#222" text-anchor="end" stroke="#222" stroke-width="0.08">1.00</text>
<line x1="382.8" y1="824.5" x2="384.0" y2="824.5" stroke="#333" stroke-width="0.5"/>
<text x="382.2" y="825.8" font-size="3.7" fill="#222" text-anchor="end" stroke="#222" stroke-width="0.08">0.75</text>
<line x1="382.8" y1="837.6" x2="384.0" y2="837.6" stroke="#333" stroke-width="0.5"/>
<text x="382.2" y="838.9" font-size="3.7" fill="#222" text-anchor="end" stroke="#222" stroke-width="0.08">0.50</text>
<line x1="382.8" y1="850.8" x2="384.0" y2="850.8" stroke="#333" stroke-width="0.5"/>
<text x="382.2" y="852.1" font-size="3.7" fill="#222" text-anchor="end" stroke="#222" stroke-width="0.08">0.25</text>
<line x1="382.8" y1="864.0" x2="384.0" y2="864.0" stroke="#333" stroke-width="0.5"/>
<text x="382.2" y="865.3" font-size="3.7" fill="#222" text-anchor="end" stroke="#222" stroke-width="0.08">0.00</text>
<text x="372.5" y="837.6" font-size="3.6" fill="#222" text-anchor="middle" transform="rotate(-90 372.5 837.6)" stroke="#222" stroke-width="0.08">Survival probability</text>
<line x1="389.2" y1="866.1" x2="389.2" y2="867.3" stroke="#333" stroke-width="0.5"/>
<text x="389.2" y="870.2" font-size="3.7" fill="#222" text-anchor="middle" stroke="#222" stroke-width="0.08">0</text>
<line x1="402.9" y1="866.1" x2="402.9" y2="867.3" stroke="#333" stroke-width="0.5"/>
<text x="402.9" y="870.2" font-size="3.7" fill="#222" text-anchor="middle" stroke="#222" stroke-width="0.08">1</text>
<line x1="416.6" y1="866.1" x2="416.6" y2="867.3" stroke="#333" stroke-width="0.5"/>
<text x="416.6" y="870.2" font-size="3.7" fill="#222" text-anchor="middle" stroke="#222" stroke-width="0.08">2</text>
<line x1="430.4" y1="866.1" x2="430.4" y2="867.3" stroke="#333" stroke-width="0.5"/>
<text x="430.4" y="870.2" font-size="3.7" fill="#222" text-anchor="middle" stroke="#222" stroke-width="0.08">3</text>
<line x1="444.1" y1="866.1" x2="444.1" y2="867.3" stroke="#333" stroke-width="0.5"/>
<text x="444.1" y="870.2" font-size="3.7" fill="#222" text-anchor="middle" stroke="#222" stroke-width="0.08">4</text>
<line x1="457.8" y1="866.1" x2="457.8" y2="867.3" stroke="#333" stroke-width="0.5"/>
<text x="457.8" y="870.2" font-size="3.7" fill="#222" text-anchor="middle" stroke="#222" stroke-width="0.08">5</text>
<line x1="471.5" y1="866.1" x2="471.5" y2="867.3" stroke="#333" stroke-width="0.5"/>
<text x="471.5" y="870.2" font-size="3.7" fill="#222" text-anchor="middle" stroke="#222" stroke-width="0.08">6</text>
<line x1="485.2" y1="866.1" x2="485.2" y2="867.3" stroke="#333" stroke-width="0.5"/>
<text x="485.2" y="870.2" font-size="3.7" fill="#222" text-anchor="middle" stroke="#222" stroke-width="0.08">7</text>
<line x1="499.0" y1="866.1" x2="499.0" y2="867.3" stroke="#333" stroke-width="0.5"/>
<text x="499.0" y="870.2" font-size="3.7" fill="#222" text-anchor="middle" stroke="#222" stroke-width="0.08">8</text>
<text x="444.1" y="874.0" font-size="3.9" fill="#222" text-anchor="middle" stroke="#222" stroke-width="0.09">Years</text>
<text x="387.5" y="851.6" font-size="9.4" font-weight="bold" fill="#f01818" textLength="25.6" lengthAdjust="spacingAndGlyphs" stroke="#f01818" stroke-width="0.26">LUSC</text>
<text x="387.5" y="860.6" font-size="9.4" font-weight="bold" fill="#f01818" textLength="34.8" lengthAdjust="spacingAndGlyphs" stroke="#f01818" stroke-width="0.26">p=0.095</text>
<text x="436.3" y="852.6" font-size="6.65" fill="#6a9ad6" textLength="46.6" lengthAdjust="spacingAndGlyphs" stroke="#6a9ad6" stroke-width="0.15">Low: 1346 days</text>
<text x="436.3" y="860.8" font-size="6.65" fill="#c4a43a" textLength="48.1" lengthAdjust="spacingAndGlyphs" stroke="#c4a43a" stroke-width="0.15">High: 1841 days</text>
<text x="384.0" y="881.4" font-size="4.85" fill="#111" stroke="#111" stroke-width="0.11">Number at risk</text>
<text x="384.0" y="898.9" font-size="4.85" fill="#111" stroke="#111" stroke-width="0.11">Cumulative number of events</text>
<line x1="376.0" y1="884.9" x2="380.7" y2="884.9" stroke="#6a9ad6" stroke-width="1.2"/>
<text x="389.2" y="886.4" font-size="4.1" font-weight="bold" fill="#222" text-anchor="middle" stroke="#222" stroke-width="0.14">271</text>
<text x="402.9" y="886.4" font-size="4.1" font-weight="bold" fill="#222" text-anchor="middle" stroke="#222" stroke-width="0.14">194</text>
<text x="416.6" y="886.4" font-size="4.1" font-weight="bold" fill="#222" text-anchor="middle" stroke="#222" stroke-width="0.14">132</text>
<text x="430.4" y="886.4" font-size="4.1" font-weight="bold" fill="#222" text-anchor="middle" stroke="#222" stroke-width="0.14">92</text>
<text x="444.1" y="886.4" font-size="4.1" font-weight="bold" fill="#222" text-anchor="middle" stroke="#222" stroke-width="0.14">60</text>
<text x="457.8" y="886.4" font-size="4.1" font-weight="bold" fill="#222" text-anchor="middle" stroke="#222" stroke-width="0.14">50</text>
<text x="471.5" y="886.4" font-size="4.1" font-weight="bold" fill="#222" text-anchor="middle" stroke="#222" stroke-width="0.14">35</text>
<text x="485.2" y="886.4" font-size="4.1" font-weight="bold" fill="#222" text-anchor="middle" stroke="#222" stroke-width="0.14">26</text>
<text x="499.0" y="886.4" font-size="4.1" font-weight="bold" fill="#222" text-anchor="middle" stroke="#222" stroke-width="0.14">20</text>
<line x1="376.0" y1="889.4" x2="380.7" y2="889.4" stroke="#d6ae2a" stroke-width="1.2"/>
<text x="389.2" y="890.9" font-size="4.1" font-weight="bold" fill="#222" text-anchor="middle" stroke="#222" stroke-width="0.14">181</text>
<text x="402.9" y="890.9" font-size="4.1" font-weight="bold" fill="#222" text-anchor="middle" stroke="#222" stroke-width="0.14">126</text>
<text x="416.6" y="890.9" font-size="4.1" font-weight="bold" fill="#222" text-anchor="middle" stroke="#222" stroke-width="0.14">79</text>
<text x="430.4" y="890.9" font-size="4.1" font-weight="bold" fill="#222" text-anchor="middle" stroke="#222" stroke-width="0.14">46</text>
<text x="444.1" y="890.9" font-size="4.1" font-weight="bold" fill="#222" text-anchor="middle" stroke="#222" stroke-width="0.14">33</text>
<text x="457.8" y="890.9" font-size="4.1" font-weight="bold" fill="#222" text-anchor="middle" stroke="#222" stroke-width="0.14">26</text>
<text x="471.5" y="890.9" font-size="4.1" font-weight="bold" fill="#222" text-anchor="middle" stroke="#222" stroke-width="0.14">12</text>
<text x="485.2" y="890.9" font-size="4.1" font-weight="bold" fill="#222" text-anchor="middle" stroke="#222" stroke-width="0.14">8</text>
<text x="499.0" y="890.9" font-size="4.1" font-weight="bold" fill="#222" text-anchor="middle" stroke="#222" stroke-width="0.14">5</text>
<line x1="376.0" y1="902.0" x2="380.7" y2="902.0" stroke="#6a9ad6" stroke-width="1.2"/>
<text x="389.2" y="903.5" font-size="4.1" font-weight="bold" fill="#222" text-anchor="middle" stroke="#222" stroke-width="0.14">0</text>
<text x="402.9" y="903.5" font-size="4.1" font-weight="bold" fill="#222" text-anchor="middle" stroke="#222" stroke-width="0.14">37</text>
<text x="416.6" y="903.5" font-size="4.1" font-weight="bold" fill="#222" text-anchor="middle" stroke="#222" stroke-width="0.14">61</text>
<text x="430.4" y="903.5" font-size="4.1" font-weight="bold" fill="#222" text-anchor="middle" stroke="#222" stroke-width="0.14">79</text>
<text x="444.1" y="903.5" font-size="4.1" font-weight="bold" fill="#222" text-anchor="middle" stroke="#222" stroke-width="0.14">86</text>
<text x="457.8" y="903.5" font-size="4.1" font-weight="bold" fill="#222" text-anchor="middle" stroke="#222" stroke-width="0.14">92</text>
<text x="471.5" y="903.5" font-size="4.1" font-weight="bold" fill="#222" text-anchor="middle" stroke="#222" stroke-width="0.14">97</text>
<text x="485.2" y="903.5" font-size="4.1" font-weight="bold" fill="#222" text-anchor="middle" stroke="#222" stroke-width="0.14">100</text>
<text x="499.0" y="903.5" font-size="4.1" font-weight="bold" fill="#222" text-anchor="middle" stroke="#222" stroke-width="0.14">102</text>
<line x1="376.0" y1="906.0" x2="380.7" y2="906.0" stroke="#d6ae2a" stroke-width="1.2"/>
<text x="389.2" y="907.5" font-size="4.1" font-weight="bold" fill="#222" text-anchor="middle" stroke="#222" stroke-width="0.14">0</text>
<text x="402.9" y="907.5" font-size="4.1" font-weight="bold" fill="#222" text-anchor="middle" stroke="#222" stroke-width="0.14">33</text>
<text x="416.6" y="907.5" font-size="4.1" font-weight="bold" fill="#222" text-anchor="middle" stroke="#222" stroke-width="0.14">52</text>
<text x="430.4" y="907.5" font-size="4.1" font-weight="bold" fill="#222" text-anchor="middle" stroke="#222" stroke-width="0.14">64</text>
<text x="444.1" y="907.5" font-size="4.1" font-weight="bold" fill="#222" text-anchor="middle" stroke="#222" stroke-width="0.14">68</text>
<text x="457.8" y="907.5" font-size="4.1" font-weight="bold" fill="#222" text-anchor="middle" stroke="#222" stroke-width="0.14">70</text>
<text x="471.5" y="907.5" font-size="4.1" font-weight="bold" fill="#222" text-anchor="middle" stroke="#222" stroke-width="0.14">75</text>
<text x="485.2" y="907.5" font-size="4.1" font-weight="bold" fill="#222" text-anchor="middle" stroke="#222" stroke-width="0.14">76</text>
<text x="499.0" y="907.5" font-size="4.1" font-weight="bold" fill="#222" text-anchor="middle" stroke="#222" stroke-width="0.14">78</text>
<path d="M530.5,812.5 L531.4,812.5 L531.4,812.5 L532.3,812.5 L532.3,812.5 L533.3,812.5 L533.3,812.5 L534.6,812.5 L534.6,813.2 L536.0,813.2 L536.0,813.9 L537.4,813.9 L537.4,814.6 L538.8,814.6 L538.8,816.3 L540.2,816.3 L540.2,818.0 L541.5,818.0 L541.5,819.8 L542.5,819.8 L542.5,820.8 L543.4,820.8 L543.4,821.8 L544.3,821.8 L544.3,822.9 L545.7,822.9 L545.7,824.6 L547.1,824.6 L547.1,826.3 L548.4,826.3 L548.4,828.1 L549.8,828.1 L549.8,829.8 L551.2,829.8 L551.2,831.5 L552.6,831.5 L552.6,833.3 L554.4,833.3 L554.4,834.6 L556.3,834.6 L556.3,836.0 L558.1,836.0 L558.1,837.4 L559.5,837.4 L559.5,839.1 L560.9,839.1 L560.9,840.9 L562.2,840.9 L562.2,842.6 L563.2,842.6 L563.2,843.8 L564.1,843.8 L564.1,845.0 L565.0,845.0 L565.0,846.2 L567.3,846.2 L567.3,846.8 L569.6,846.8 L569.6,847.3 L571.9,847.3 L571.9,847.8 L574.2,847.8 L574.2,848.1 L576.5,848.1 L576.5,848.5 L578.8,848.5 L578.8,848.8 L581.1,848.8 L581.1,849.0 L583.4,849.0 L583.4,849.2 L585.7,849.2 L585.7,849.3 L588.9,849.3 L588.9,849.7 L592.1,849.7 L592.1,850.0 L595.4,850.0 L595.4,850.4 L624.3,850.4 L624.3,847.8 L628.0,847.8 L628.0,847.8 L631.7,847.8 L631.7,847.8 L635.4,847.8 L635.4,847.8 L635.4,864.4 L635.4,864.4 L631.7,864.4 L631.7,864.4 L628.0,864.4 L628.0,864.4 L624.3,864.4 L624.3,861.3 L595.4,861.3 L595.4,860.8 L592.1,860.8 L592.1,860.2 L588.9,860.2 L588.9,859.7 L585.7,859.7 L585.7,859.6 L583.4,859.6 L583.4,859.4 L581.1,859.4 L581.1,859.2 L578.8,859.2 L578.8,858.9 L576.5,858.9 L576.5,858.5 L574.2,858.5 L574.2,858.2 L571.9,858.2 L571.9,857.7 L569.6,857.7 L569.6,857.1 L567.3,857.1 L567.3,856.6 L565.0,856.6 L565.0,855.4 L564.1,855.4 L564.1,854.2 L563.2,854.2 L563.2,853.0 L562.2,853.0 L562.2,851.3 L560.9,851.3 L560.9,849.5 L559.5,849.5 L559.5,847.8 L558.1,847.8 L558.1,846.4 L556.3,846.4 L556.3,845.0 L554.4,845.0 L554.4,843.6 L552.6,843.6 L552.6,841.9 L551.2,841.9 L551.2,840.2 L549.8,840.2 L549.8,838.5 L548.4,838.5 L548.4,836.7 L547.1,836.7 L547.1,835.0 L545.7,835.0 L545.7,833.3 L544.3,833.3 L544.3,832.2 L543.4,832.2 L543.4,831.2 L542.5,831.2 L542.5,830.1 L541.5,830.1 L541.5,828.4 L540.2,828.4 L540.2,826.7 L538.8,826.7 L538.8,825.0 L537.4,825.0 L537.4,823.4 L536.0,823.4 L536.0,821.8 L534.6,821.8 L534.6,820.3 L533.3,820.3 L533.3,819.4 L532.3,819.4 L532.3,818.6 L531.4,818.6 L531.4,817.7 L530.5,817.7Z" fill="#6f95dc" fill-opacity="0.42"/>
<path d="M530.5,812.5 L531.2,812.5 L531.2,812.5 L531.9,812.5 L531.9,812.5 L532.6,812.5 L532.6,812.5 L533.3,812.5 L533.3,814.2 L534.0,814.2 L534.0,816.0 L534.6,816.0 L534.6,817.7 L535.6,817.7 L535.6,820.3 L536.5,820.3 L536.5,822.9 L537.4,822.9 L537.4,825.5 L538.8,825.5 L538.8,827.2 L540.2,827.2 L540.2,828.9 L541.5,828.9 L541.5,830.7 L542.9,830.7 L542.9,832.0 L544.3,832.0 L544.3,833.4 L545.7,833.4 L545.7,834.8 L546.6,834.8 L546.6,837.8 L547.5,837.8 L547.5,840.7 L548.4,840.7 L548.4,843.6 L551.7,843.6 L551.7,843.6 L554.9,843.6 L554.9,843.6 L558.1,843.6 L558.1,843.6 L559.9,843.6 L559.9,844.0 L561.8,844.0 L561.8,844.3 L563.6,844.3 L563.6,844.7 L595.4,844.7 L595.4,844.7 L595.4,864.4 L595.4,864.4 L563.6,864.4 L563.6,862.7 L561.8,862.7 L561.8,860.9 L559.9,860.9 L559.9,859.2 L558.1,859.2 L558.1,859.2 L554.9,859.2 L554.9,859.2 L551.7,859.2 L551.7,859.2 L548.4,859.2 L548.4,856.3 L547.5,856.3 L547.5,853.3 L546.6,853.3 L546.6,850.4 L545.7,850.4 L545.7,849.0 L544.3,849.0 L544.3,847.6 L542.9,847.6 L542.9,846.2 L541.5,846.2 L541.5,844.5 L540.2,844.5 L540.2,842.8 L538.8,842.8 L538.8,841.0 L537.4,841.0 L537.4,838.5 L536.5,838.5 L536.5,835.9 L535.6,835.9 L535.6,833.3 L534.6,833.3 L534.6,830.7 L534.0,830.7 L534.0,828.1 L533.3,828.1 L533.3,825.5 L532.6,825.5 L532.6,823.7 L531.9,823.7 L531.9,822.0 L531.2,822.0 L531.2,820.3 L530.5,820.3Z" fill="#e8cf55" fill-opacity="0.42"/>
<path d="M530.5,812.5 H531.4 V813.4 H532.3 V814.2 H533.3 V815.1 H534.6 V816.7 H536.0 V818.2 H537.4 V819.8 H538.8 V821.5 H540.2 V823.2 H541.5 V825.0 H542.5 V826.0 H543.4 V827.0 H544.3 V828.1 H545.7 V829.8 H547.1 V831.5 H548.4 V833.3 H549.8 V835.0 H551.2 V836.7 H552.6 V838.5 H554.4 V839.8 H556.3 V841.2 H558.1 V842.6 H559.5 V844.3 H560.9 V846.1 H562.2 V847.8 H563.2 V849.0 H564.1 V850.2 H565.0 V851.4 H567.3 V851.9 H569.6 V852.5 H571.9 V853.0 H574.2 V853.3 H576.5 V853.7 H578.8 V854.0 H581.1 V854.2 H583.4 V854.4 H585.7 V854.5 H588.9 V855.2 H592.1 V855.9 H595.4 V856.6 H624.3 V861.8 H628.0 V862.3 H631.7 V862.8 H635.4 V863.4" fill="none" stroke="#3f74bb" stroke-width="0.8"/>
<path d="M530.5,812.5 H531.2 V814.2 H531.9 V816.0 H532.6 V817.7 H533.3 V820.3 H534.0 V822.9 H534.6 V825.5 H535.6 V828.1 H536.5 V830.7 H537.4 V833.3 H538.8 V835.0 H540.2 V836.7 H541.5 V838.5 H542.9 V839.8 H544.3 V841.2 H545.7 V842.6 H546.6 V845.5 H547.5 V848.5 H548.4 V851.4 H551.7 V851.4 H554.9 V851.4 H558.1 V851.4 H559.9 V853.2 H561.8 V854.9 H563.6 V856.6 H565.5 V857.5 H567.3 V858.3 H569.1 V859.2 H570.5 V859.9 H571.9 V860.6 H573.3 V861.3 H595.4 V861.3" fill="none" stroke="#d6ae2a" stroke-width="0.8"/>
<line x1="524.8" y1="811.0" x2="524.8" y2="867.0" stroke="#333" stroke-width="0.6"/>
<line x1="524.8" y1="867.0" x2="648.3" y2="867.0" stroke="#333" stroke-width="0.6"/>
<line x1="523.6" y1="812.5" x2="524.8" y2="812.5" stroke="#333" stroke-width="0.5"/>
<text x="523.0" y="813.8" font-size="3.7" fill="#222" text-anchor="end" stroke="#222" stroke-width="0.08">1.00</text>
<line x1="523.6" y1="825.5" x2="524.8" y2="825.5" stroke="#333" stroke-width="0.5"/>
<text x="523.0" y="826.8" font-size="3.7" fill="#222" text-anchor="end" stroke="#222" stroke-width="0.08">0.75</text>
<line x1="523.6" y1="838.5" x2="524.8" y2="838.5" stroke="#333" stroke-width="0.5"/>
<text x="523.0" y="839.8" font-size="3.7" fill="#222" text-anchor="end" stroke="#222" stroke-width="0.08">0.50</text>
<line x1="523.6" y1="851.4" x2="524.8" y2="851.4" stroke="#333" stroke-width="0.5"/>
<text x="523.0" y="852.7" font-size="3.7" fill="#222" text-anchor="end" stroke="#222" stroke-width="0.08">0.25</text>
<line x1="523.6" y1="864.4" x2="524.8" y2="864.4" stroke="#333" stroke-width="0.5"/>
<text x="523.0" y="865.7" font-size="3.7" fill="#222" text-anchor="end" stroke="#222" stroke-width="0.08">0.00</text>
<text x="513.3" y="838.5" font-size="3.6" fill="#222" text-anchor="middle" transform="rotate(-90 513.3 838.5)" stroke="#222" stroke-width="0.08">Survival probability</text>
<line x1="530.5" y1="867.0" x2="530.5" y2="868.2" stroke="#333" stroke-width="0.5"/>
<text x="530.5" y="871.1" font-size="3.7" fill="#222" text-anchor="middle" stroke="#222" stroke-width="0.08">0</text>
<line x1="544.3" y1="867.0" x2="544.3" y2="868.2" stroke="#333" stroke-width="0.5"/>
<text x="544.3" y="871.1" font-size="3.7" fill="#222" text-anchor="middle" stroke="#222" stroke-width="0.08">1</text>
<line x1="558.1" y1="867.0" x2="558.1" y2="868.2" stroke="#333" stroke-width="0.5"/>
<text x="558.1" y="871.1" font-size="3.7" fill="#222" text-anchor="middle" stroke="#222" stroke-width="0.08">2</text>
<line x1="571.9" y1="867.0" x2="571.9" y2="868.2" stroke="#333" stroke-width="0.5"/>
<text x="571.9" y="871.1" font-size="3.7" fill="#222" text-anchor="middle" stroke="#222" stroke-width="0.08">3</text>
<line x1="585.7" y1="867.0" x2="585.7" y2="868.2" stroke="#333" stroke-width="0.5"/>
<text x="585.7" y="871.1" font-size="3.7" fill="#222" text-anchor="middle" stroke="#222" stroke-width="0.08">4</text>
<line x1="599.5" y1="867.0" x2="599.5" y2="868.2" stroke="#333" stroke-width="0.5"/>
<text x="599.5" y="871.1" font-size="3.7" fill="#222" text-anchor="middle" stroke="#222" stroke-width="0.08">5</text>
<line x1="613.3" y1="867.0" x2="613.3" y2="868.2" stroke="#333" stroke-width="0.5"/>
<text x="613.3" y="871.1" font-size="3.7" fill="#222" text-anchor="middle" stroke="#222" stroke-width="0.08">6</text>
<line x1="627.1" y1="867.0" x2="627.1" y2="868.2" stroke="#333" stroke-width="0.5"/>
<text x="627.1" y="871.1" font-size="3.7" fill="#222" text-anchor="middle" stroke="#222" stroke-width="0.08">7</text>
<line x1="640.9" y1="867.0" x2="640.9" y2="868.2" stroke="#333" stroke-width="0.5"/>
<text x="640.9" y="871.1" font-size="3.7" fill="#222" text-anchor="middle" stroke="#222" stroke-width="0.08">8</text>
<text x="585.7" y="874.9" font-size="3.9" fill="#222" text-anchor="middle" stroke="#222" stroke-width="0.09">Years</text>
<text x="605.7" y="826.9" font-size="9.4" font-weight="bold" fill="#f01818" textLength="27.7" lengthAdjust="spacingAndGlyphs" stroke="#f01818" stroke-width="0.26">MESO</text>
<text x="605.7" y="836.2" font-size="9.4" font-weight="bold" fill="#f01818" textLength="40.0" lengthAdjust="spacingAndGlyphs" stroke="#f01818" stroke-width="0.26">p=0.0053</text>
<text x="556.7" y="826.2" font-size="6.65" fill="#6a9ad6" textLength="42.9" lengthAdjust="spacingAndGlyphs" stroke="#6a9ad6" stroke-width="0.15">Low: 630 days</text>
<text x="556.7" y="833.9" font-size="6.65" fill="#c4a43a" textLength="44.4" lengthAdjust="spacingAndGlyphs" stroke="#c4a43a" stroke-width="0.15">High: 358 days</text>
<text x="524.8" y="882.5" font-size="4.85" fill="#111" stroke="#111" stroke-width="0.11">Number at risk</text>
<text x="524.8" y="900.0" font-size="4.85" fill="#111" stroke="#111" stroke-width="0.11">Cumulative number of events</text>
<line x1="516.8" y1="886.0" x2="521.5" y2="886.0" stroke="#6a9ad6" stroke-width="1.2"/>
<text x="530.5" y="887.5" font-size="4.1" font-weight="bold" fill="#222" text-anchor="middle" stroke="#222" stroke-width="0.14">59</text>
<text x="544.3" y="887.5" font-size="4.1" font-weight="bold" fill="#222" text-anchor="middle" stroke="#222" stroke-width="0.14">46</text>
<text x="558.1" y="887.5" font-size="4.1" font-weight="bold" fill="#222" text-anchor="middle" stroke="#222" stroke-width="0.14">27</text>
<text x="571.9" y="887.5" font-size="4.1" font-weight="bold" fill="#222" text-anchor="middle" stroke="#222" stroke-width="0.14">13</text>
<text x="585.7" y="887.5" font-size="4.1" font-weight="bold" fill="#222" text-anchor="middle" stroke="#222" stroke-width="0.14">7</text>
<text x="599.5" y="887.5" font-size="4.1" font-weight="bold" fill="#222" text-anchor="middle" stroke="#222" stroke-width="0.14">5</text>
<text x="613.3" y="887.5" font-size="4.1" font-weight="bold" fill="#222" text-anchor="middle" stroke="#222" stroke-width="0.14">3</text>
<text x="627.1" y="887.5" font-size="4.1" font-weight="bold" fill="#222" text-anchor="middle" stroke="#222" stroke-width="0.14">1</text>
<text x="640.9" y="887.5" font-size="4.1" font-weight="bold" fill="#222" text-anchor="middle" stroke="#222" stroke-width="0.14">0</text>
<line x1="516.8" y1="890.5" x2="521.5" y2="890.5" stroke="#d6ae2a" stroke-width="1.2"/>
<text x="530.5" y="892.0" font-size="4.1" font-weight="bold" fill="#222" text-anchor="middle" stroke="#222" stroke-width="0.14">17</text>
<text x="544.3" y="892.0" font-size="4.1" font-weight="bold" fill="#222" text-anchor="middle" stroke="#222" stroke-width="0.14">8</text>
<text x="558.1" y="892.0" font-size="4.1" font-weight="bold" fill="#222" text-anchor="middle" stroke="#222" stroke-width="0.14">3</text>
<text x="571.9" y="892.0" font-size="4.1" font-weight="bold" fill="#222" text-anchor="middle" stroke="#222" stroke-width="0.14">1</text>
<text x="585.7" y="892.0" font-size="4.1" font-weight="bold" fill="#222" text-anchor="middle" stroke="#222" stroke-width="0.14">1</text>
<text x="599.5" y="892.0" font-size="4.1" font-weight="bold" fill="#222" text-anchor="middle" stroke="#222" stroke-width="0.14">0</text>
<text x="613.3" y="892.0" font-size="4.1" font-weight="bold" fill="#222" text-anchor="middle" stroke="#222" stroke-width="0.14">0</text>
<text x="627.1" y="892.0" font-size="4.1" font-weight="bold" fill="#222" text-anchor="middle" stroke="#222" stroke-width="0.14">0</text>
<text x="640.9" y="892.0" font-size="4.1" font-weight="bold" fill="#222" text-anchor="middle" stroke="#222" stroke-width="0.14">0</text>
<line x1="516.8" y1="903.1" x2="521.5" y2="903.1" stroke="#6a9ad6" stroke-width="1.2"/>
<text x="530.5" y="904.5" font-size="4.1" font-weight="bold" fill="#222" text-anchor="middle" stroke="#222" stroke-width="0.14">0</text>
<text x="544.3" y="904.5" font-size="4.1" font-weight="bold" fill="#222" text-anchor="middle" stroke="#222" stroke-width="0.14">10</text>
<text x="558.1" y="904.5" font-size="4.1" font-weight="bold" fill="#222" text-anchor="middle" stroke="#222" stroke-width="0.14">27</text>
<text x="571.9" y="904.5" font-size="4.1" font-weight="bold" fill="#222" text-anchor="middle" stroke="#222" stroke-width="0.14">53</text>
<text x="585.7" y="904.5" font-size="4.1" font-weight="bold" fill="#222" text-anchor="middle" stroke="#222" stroke-width="0.14">53</text>
<text x="599.5" y="904.5" font-size="4.1" font-weight="bold" fill="#222" text-anchor="middle" stroke="#222" stroke-width="0.14">54</text>
<text x="613.3" y="904.5" font-size="4.1" font-weight="bold" fill="#222" text-anchor="middle" stroke="#222" stroke-width="0.14">54</text>
<text x="627.1" y="904.5" font-size="4.1" font-weight="bold" fill="#222" text-anchor="middle" stroke="#222" stroke-width="0.14">55</text>
<text x="640.9" y="904.5" font-size="4.1" font-weight="bold" fill="#222" text-anchor="middle" stroke="#222" stroke-width="0.14">56</text>
<line x1="516.8" y1="907.1" x2="521.5" y2="907.1" stroke="#d6ae2a" stroke-width="1.2"/>
<text x="530.5" y="908.5" font-size="4.1" font-weight="bold" fill="#222" text-anchor="middle" stroke="#222" stroke-width="0.14">0</text>
<text x="544.3" y="908.5" font-size="4.1" font-weight="bold" fill="#222" text-anchor="middle" stroke="#222" stroke-width="0.14">9</text>
<text x="558.1" y="908.5" font-size="4.1" font-weight="bold" fill="#222" text-anchor="middle" stroke="#222" stroke-width="0.14">14</text>
<text x="571.9" y="908.5" font-size="4.1" font-weight="bold" fill="#222" text-anchor="middle" stroke="#222" stroke-width="0.14">15</text>
<text x="585.7" y="908.5" font-size="4.1" font-weight="bold" fill="#222" text-anchor="middle" stroke="#222" stroke-width="0.14">16</text>
<text x="599.5" y="908.5" font-size="4.1" font-weight="bold" fill="#222" text-anchor="middle" stroke="#222" stroke-width="0.14">17</text>
<text x="613.3" y="908.5" font-size="4.1" font-weight="bold" fill="#222" text-anchor="middle" stroke="#222" stroke-width="0.14">17</text>
<text x="627.1" y="908.5" font-size="4.1" font-weight="bold" fill="#222" text-anchor="middle" stroke="#222" stroke-width="0.14">17</text>
<text x="640.9" y="908.5" font-size="4.1" font-weight="bold" fill="#222" text-anchor="middle" stroke="#222" stroke-width="0.14">17</text>
</svg></body></html>
